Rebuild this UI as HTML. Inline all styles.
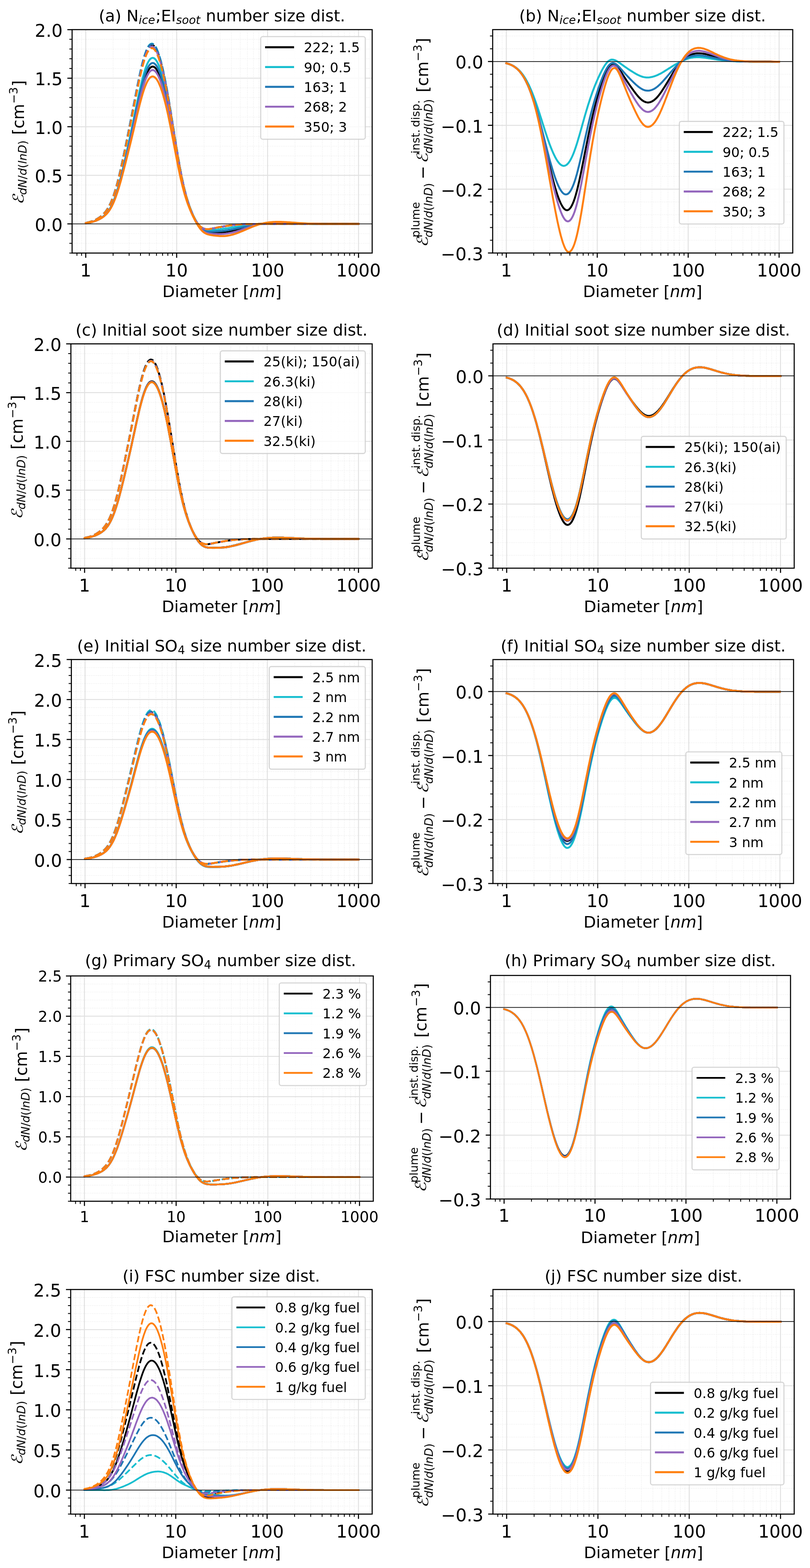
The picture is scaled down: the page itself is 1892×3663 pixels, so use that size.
<!DOCTYPE html>
<html lang="en">
<head>
<meta charset="utf-8">
<title>Number size distributions</title>
<style>
html,body{margin:0;padding:0;background:#fff;overflow:hidden;}
svg{display:block;}
text{font-family:"DejaVu Sans", "Liberation Sans", sans-serif;white-space:pre;}
</style>
</head>
<body>

<svg width="1892" height="3663" viewBox="0 0 1892 3663">
<rect width="1892" height="3663" fill="#fff"/>
<g id="panel-a">
<rect x="168.4" y="69.15" width="700.9" height="522" fill="#fff"/>
<path d="M179.68 69.15V591.15M190.54 69.15V591.15M264.2 69.15V591.15M301.6 69.15V591.15M328.13 69.15V591.15M348.72 69.15V591.15M365.53 69.15V591.15M379.75 69.15V591.15M392.07 69.15V591.15M402.93 69.15V591.15M476.59 69.15V591.15M513.99 69.15V591.15M540.53 69.15V591.15M561.11 69.15V591.15M577.93 69.15V591.15M592.15 69.15V591.15M604.46 69.15V591.15M615.33 69.15V591.15M688.98 69.15V591.15M726.38 69.15V591.15M752.92 69.15V591.15M773.5 69.15V591.15M790.32 69.15V591.15M804.54 69.15V591.15M816.86 69.15V591.15M827.72 69.15V591.15M168.4 591.15H869.3M168.4 568.45H869.3M168.4 545.76H869.3M168.4 500.37H869.3M168.4 477.67H869.3M168.4 454.98H869.3M168.4 432.28H869.3M168.4 386.89H869.3M168.4 364.19H869.3M168.4 341.5H869.3M168.4 318.8H869.3M168.4 273.41H869.3M168.4 250.72H869.3M168.4 228.02H869.3M168.4 205.32H869.3M168.4 159.93H869.3M168.4 137.24H869.3M168.4 114.54H869.3M168.4 91.85H869.3" fill="none" stroke="#ebebeb" stroke-width="1.57" stroke-dasharray="1.57 2.6"/>
<path d="M200.26 69.15V591.15M412.65 69.15V591.15M625.05 69.15V591.15M837.44 69.15V591.15M168.4 523.06H869.3M168.4 409.58H869.3M168.4 296.11H869.3M168.4 182.63H869.3" fill="none" stroke="#e1e1e1" stroke-width="2.2"/>
<clipPath id="clip-a"><rect x="168.4" y="69.15" width="700.9" height="522"/></clipPath>
<g clip-path="url(#clip-a)" fill="none" stroke-linejoin="round">
<polyline points="200.3,521.2 202.9,520.8 205.6,520.4 208.2,519.9 210.9,519.4 213.5,518.8 216.2,518.1 218.8,517.3 221.5,516.4 224.2,515.4 226.8,514.3 229.5,513.1 232.1,511.8 234.8,510.3 237.4,508.7 240.1,507 242.7,505 245.4,502.7 248,500.1 250.7,497.2 253.4,493.8 256,489.9 258.7,485.5 261.3,480.5 264,474.8 266.6,468.5 269.3,461.5 271.9,453.9 274.6,445.7 277.3,436.8 279.9,427.5 282.6,417.6 285.2,407.3 287.9,396.7 290.5,385.9 293.2,374.8 295.8,363.7 298.5,352.3 301.1,340.8 303.8,329.2 306.5,317.4 309.1,305.4 311.8,293.3 314.4,281 317.1,268.7 319.7,256.5 322.4,244.4 325,232.7 327.7,221.3 330.4,210.6 333,200.6 335.7,191.4 338.3,183.1 341,175.8 343.6,169.5 346.3,164.4 348.9,160.4 351.6,157.6 354.2,156 356.9,155.5 359.6,156.2 362.2,158 364.9,161 367.5,165.1 370.2,170.2 372.8,176.4 375.5,183.6 378.1,191.8 380.8,201 383.4,211.1 386.1,222 388.8,233.8 391.4,246.3 394.1,259.5 396.7,273.2 399.4,287.5 402,302.1 404.7,316.9 407.3,331.9 410,346.8 412.7,361.4 415.3,375.8 418,389.6 420.6,402.9 423.3,415.4 425.9,427.1 428.6,438.1 431.2,448.2 433.9,457.6 436.5,466.3 439.2,474.3 441.9,481.8 444.5,488.7 447.2,495.3 449.8,501.4 452.5,507.2 455.1,512.6 457.8,517.6 460.4,522.2 463.1,526.4 465.8,530.1 468.4,533.3 471.1,536 473.7,538.2 476.4,539.9 479,541.3 481.7,542.3 484.3,543 487,543.5 489.6,543.8 492.3,543.9 495,544 497.6,544 500.3,544 502.9,544 505.6,543.9 508.2,543.9 510.9,543.8 513.5,543.7 516.2,543.6 518.9,543.4 521.5,543.2 524.2,543 526.8,542.7 529.5,542.3 532.1,541.9 534.8,541.5 537.4,541 540.1,540.5 542.7,540 545.4,539.4 548.1,538.8 550.7,538.1 553.4,537.4 556,536.7 558.7,536 561.3,535.3 564,534.5 566.6,533.8 569.3,533 571.9,532.3 574.6,531.5 577.3,530.7 579.9,530 582.6,529.2 585.2,528.5 587.9,527.8 590.5,527.1 593.2,526.5 595.8,525.8 598.5,525.2 601.2,524.7 603.8,524.1 606.5,523.6 609.1,523.1 611.8,522.7 614.4,522.3 617.1,522 619.7,521.7 622.4,521.4 625,521.1 627.7,520.9 630.4,520.7 633,520.6 635.7,520.4 638.3,520.3 641,520.2 643.6,520.2 646.3,520.2 648.9,520.1 651.6,520.1 654.3,520.2 656.9,520.2 659.6,520.3 662.2,520.3 664.9,520.4 667.5,520.5 670.2,520.6 672.8,520.7 675.5,520.8 678.1,520.9 680.8,521.1 683.5,521.2 686.1,521.3 688.8,521.4 691.4,521.5 694.1,521.7 696.7,521.8 699.4,521.9 702,522 704.7,522.1 707.3,522.2 710,522.3 712.7,522.3 715.3,522.4 718,522.5 720.6,522.6 723.3,522.6 725.9,522.7 728.6,522.7 731.2,522.8 733.9,522.8 736.6,522.8 739.2,522.9 741.9,522.9 744.5,522.9 747.2,523 749.8,523 752.5,523 755.1,523 757.8,523 760.4,523.1 763.1,523.1 765.8,523.1 768.4,523.1 771.1,523.1 773.7,523.1 776.4,523.1 779,523.1 781.7,523.1 784.3,523.1 787,523.1 789.7,523.1 792.3,523.1 795,523.1 797.6,523.1 800.3,523.1 802.9,523.1 805.6,523.1 808.2,523.1 810.9,523.1 813.5,523.1 816.2,523.1 818.9,523.1 821.5,523.1 824.2,523.1 826.8,523.1 829.5,523.1 832.1,523.1 834.8,523.1 837.4,523.1" stroke="#000000" stroke-width="4.5" stroke-linecap="square"/>
<polyline points="200.3,520.6 202.9,520.1 205.6,519.6 208.2,518.9 210.9,518.2 213.5,517.4 216.2,516.5 218.8,515.4 221.5,514.3 224.2,512.9 226.8,511.5 229.5,509.9 232.1,508.1 234.8,506.2 237.4,504 240.1,501.6 242.7,498.9 245.4,495.9 248,492.5 250.7,488.7 253.4,484.3 256,479.4 258.7,473.9 261.3,467.7 264,460.7 266.6,453.1 269.3,444.7 271.9,435.6 274.6,425.8 277.3,415.4 279.9,404.4 282.6,392.8 285.2,380.8 287.9,368.4 290.5,355.8 293.2,343 295.8,330.1 298.5,317 301.1,303.8 303.8,290.5 306.5,277 309.1,263.5 311.8,249.8 314.4,236.1 317.1,222.5 319.7,209 322.4,195.8 325,183 327.7,170.8 330.4,159.3 333,148.7 335.7,139 338.3,130.4 341,122.9 343.6,116.7 346.3,111.8 348.9,108.2 351.6,105.9 354.2,105 356.9,105.5 359.6,107.3 362.2,110.4 364.9,114.9 367.5,120.6 370.2,127.4 372.8,135.5 375.5,144.7 378.1,154.9 380.8,166.1 383.4,178.3 386.1,191.3 388.8,205.1 391.4,219.6 394.1,234.7 396.7,250.4 399.4,266.4 402,282.8 404.7,299.3 407.3,315.9 410,332.3 412.7,348.4 415.3,364.2 418,379.3 420.6,393.8 423.3,407.6 425.9,420.5 428.6,432.5 431.2,443.7 433.9,454 436.5,463.5 439.2,472.2 441.9,480.2 444.5,487.5 447.2,494.3 449.8,500.5 452.5,506.2 455.1,511.4 457.8,516.1 460.4,520.3 463.1,523.9 465.8,527 468.4,529.6 471.1,531.6 473.7,533.2 476.4,534.3 479,535 481.7,535.4 484.3,535.5 487,535.4 489.6,535.1 492.3,534.7 495,534.2 497.6,533.7 500.3,533.1 502.9,532.6 505.6,532 508.2,531.5 510.9,531 513.5,530.5 516.2,530 518.9,529.5 521.5,529.1 524.2,528.6 526.8,528.2 529.5,527.8 532.1,527.4 534.8,527 537.4,526.6 540.1,526.3 542.7,526 545.4,525.7 548.1,525.4 550.7,525.1 553.4,524.9 556,524.7 558.7,524.5 561.3,524.3 564,524.1 566.6,524 569.3,523.9 571.9,523.7 574.6,523.6 577.3,523.6 579.9,523.5 582.6,523.4 585.2,523.4 587.9,523.3 590.5,523.3 593.2,523.2 595.8,523.2 598.5,523.2 601.2,523.2 603.8,523.1 606.5,523.1 609.1,523.1 611.8,523.1 614.4,523.1 617.1,523.1 619.7,523.1 622.4,523.1 625,523.1 627.7,523.1 630.4,523.1 633,523.1 635.7,523.1 638.3,523.1 641,523.1 643.6,523.1 646.3,523.1 648.9,523.1 651.6,523.1 654.3,523.1 656.9,523.1 659.6,523.1 662.2,523.1 664.9,523.1 667.5,523.1 670.2,523.1 672.8,523.1 675.5,523.1 678.1,523.1 680.8,523.1 683.5,523.1 686.1,523.1 688.8,523.1 691.4,523.1 694.1,523.1 696.7,523.1 699.4,523.1 702,523.1 704.7,523.1 707.3,523.1 710,523.1 712.7,523.1 715.3,523.1 718,523.1 720.6,523.1 723.3,523.1 725.9,523.1 728.6,523.1 731.2,523.1 733.9,523.1 736.6,523.1 739.2,523.1 741.9,523.1 744.5,523.1 747.2,523.1 749.8,523.1 752.5,523.1 755.1,523.1 757.8,523.1 760.4,523.1 763.1,523.1 765.8,523.1 768.4,523.1 771.1,523.1 773.7,523.1 776.4,523.1 779,523.1 781.7,523.1 784.3,523.1 787,523.1 789.7,523.1 792.3,523.1 795,523.1 797.6,523.1 800.3,523.1 802.9,523.1 805.6,523.1 808.2,523.1 810.9,523.1 813.5,523.1 816.2,523.1 818.9,523.1 821.5,523.1 824.2,523.1 826.8,523.1 829.5,523.1 832.1,523.1 834.8,523.1 837.4,523.1" stroke="#000000" stroke-width="4.5" stroke-dasharray="16.65 7.2"/>
<polyline points="200.3,521.2 202.9,520.8 205.6,520.4 208.2,519.9 210.9,519.3 213.5,518.7 216.2,518 218.8,517.1 221.5,516.2 224.2,515.2 226.8,514.1 229.5,512.8 232.1,511.5 234.8,509.9 237.4,508.3 240.1,506.4 242.7,504.3 245.4,501.9 248,499.2 250.7,496.1 253.4,492.6 256,488.5 258.7,483.8 261.3,478.6 264,472.6 266.6,466 269.3,458.7 271.9,450.7 274.6,442.1 277.3,432.8 279.9,422.9 282.6,412.6 285.2,401.7 287.9,390.6 290.5,379.1 293.2,367.4 295.8,355.6 298.5,343.6 301.1,331.4 303.8,319 306.5,306.5 309.1,293.8 311.8,280.9 314.4,268 317.1,254.9 319.7,242 322.4,229.3 325,216.8 327.7,204.9 330.4,193.5 333,182.9 335.7,173.1 338.3,164.3 341,156.6 343.6,150 346.3,144.6 348.9,140.3 351.6,137.3 354.2,135.6 356.9,135.1 359.6,135.9 362.2,137.9 364.9,141.1 367.5,145.5 370.2,151.1 372.8,157.8 375.5,165.6 378.1,174.5 380.8,184.3 383.4,195.2 386.1,206.9 388.8,219.4 391.4,232.7 394.1,246.7 396.7,261.2 399.4,276.3 402,291.6 404.7,307.2 407.3,322.8 410,338.4 412.7,353.7 415.3,368.7 418,383.1 420.6,396.9 423.3,409.9 425.9,422.2 428.6,433.6 431.2,444.3 433.9,454.1 436.5,463.2 439.2,471.6 441.9,479.4 444.5,486.7 447.2,493.4 449.8,499.7 452.5,505.6 455.1,510.9 457.8,515.9 460.4,520.3 463.1,524.2 465.8,527.6 468.4,530.5 471.1,532.9 473.7,534.7 476.4,536.2 479,537.2 481.7,537.8 484.3,538.2 487,538.4 489.6,538.3 492.3,538.2 495,537.9 497.6,537.7 500.3,537.3 502.9,537 505.6,536.7 508.2,536.4 510.9,536 513.5,535.7 516.2,535.3 518.9,535 521.5,534.6 524.2,534.3 526.8,533.9 529.5,533.5 532.1,533.1 534.8,532.7 537.4,532.2 540.1,531.8 542.7,531.4 545.4,531 548.1,530.5 550.7,530.1 553.4,529.7 556,529.3 558.7,528.9 561.3,528.5 564,528.1 566.6,527.7 569.3,527.4 571.9,527 574.6,526.6 577.3,526.3 579.9,526 582.6,525.6 585.2,525.3 587.9,525 590.5,524.7 593.2,524.5 595.8,524.2 598.5,524 601.2,523.7 603.8,523.5 606.5,523.3 609.1,523.1 611.8,522.9 614.4,522.7 617.1,522.5 619.7,522.3 622.4,522.1 625,522 627.7,521.9 630.4,521.8 633,521.7 635.7,521.7 638.3,521.6 641,521.6 643.6,521.6 646.3,521.5 648.9,521.5 651.6,521.6 654.3,521.6 656.9,521.6 659.6,521.7 662.2,521.7 664.9,521.7 667.5,521.8 670.2,521.9 672.8,521.9 675.5,522 678.1,522 680.8,522.1 683.5,522.2 686.1,522.2 688.8,522.3 691.4,522.3 694.1,522.4 696.7,522.5 699.4,522.5 702,522.6 704.7,522.6 707.3,522.7 710,522.7 712.7,522.7 715.3,522.8 718,522.8 720.6,522.8 723.3,522.9 725.9,522.9 728.6,522.9 731.2,523 733.9,523 736.6,523 739.2,523 741.9,523 744.5,523 747.2,523.1 749.8,523.1 752.5,523.1 755.1,523.1 757.8,523.1 760.4,523.1 763.1,523.1 765.8,523.1 768.4,523.1 771.1,523.1 773.7,523.1 776.4,523.1 779,523.1 781.7,523.1 784.3,523.1 787,523.1 789.7,523.1 792.3,523.1 795,523.1 797.6,523.1 800.3,523.1 802.9,523.1 805.6,523.1 808.2,523.1 810.9,523.1 813.5,523.1 816.2,523.1 818.9,523.1 821.5,523.1 824.2,523.1 826.8,523.1 829.5,523.1 832.1,523.1 834.8,523.1 837.4,523.1" stroke="#17becf" stroke-width="4.5" stroke-linecap="square"/>
<polyline points="200.3,520.6 202.9,520.1 205.6,519.5 208.2,518.9 210.9,518.2 213.5,517.4 216.2,516.4 218.8,515.4 221.5,514.2 224.2,512.9 226.8,511.4 229.5,509.8 232.1,508 234.8,506 237.4,503.9 240.1,501.4 242.7,498.7 245.4,495.7 248,492.3 250.7,488.4 253.4,484 256,479.1 258.7,473.5 261.3,467.2 264,460.3 266.6,452.6 269.3,444.1 271.9,435 274.6,425.1 277.3,414.6 279.9,403.5 282.6,391.8 285.2,379.7 287.9,367.3 290.5,354.6 293.2,341.7 295.8,328.6 298.5,315.4 301.1,302.1 303.8,288.7 306.5,275.1 309.1,261.5 311.8,247.7 314.4,234 317.1,220.2 319.7,206.6 322.4,193.3 325,180.5 327.7,168.1 330.4,156.6 333,145.8 335.7,136 338.3,127.4 341,119.9 343.6,113.6 346.3,108.6 348.9,105 351.6,102.8 354.2,101.9 356.9,102.3 359.6,104.2 362.2,107.3 364.9,111.8 367.5,117.5 370.2,124.4 372.8,132.6 375.5,141.8 378.1,152.1 380.8,163.4 383.4,175.7 386.1,188.8 388.8,202.7 391.4,217.3 394.1,232.6 396.7,248.3 399.4,264.5 402,281 404.7,297.6 407.3,314.3 410,330.8 412.7,347.1 415.3,362.9 418,378.2 420.6,392.9 423.3,406.7 425.9,419.7 428.6,431.9 431.2,443.1 433.9,453.5 436.5,463 439.2,471.8 441.9,479.9 444.5,487.3 447.2,494.1 449.8,500.4 452.5,506.1 455.1,511.3 457.8,516 460.4,520.2 463.1,523.9 465.8,527 468.4,529.6 471.1,531.7 473.7,533.3 476.4,534.4 479,535.1 481.7,535.5 484.3,535.6 487,535.5 489.6,535.2 492.3,534.8 495,534.3 497.6,533.8 500.3,533.2 502.9,532.6 505.6,532.1 508.2,531.5 510.9,531 513.5,530.5 516.2,530 518.9,529.6 521.5,529.1 524.2,528.7 526.8,528.2 529.5,527.8 532.1,527.4 534.8,527 537.4,526.7 540.1,526.3 542.7,526 545.4,525.7 548.1,525.4 550.7,525.1 553.4,524.9 556,524.7 558.7,524.5 561.3,524.3 564,524.1 566.6,524 569.3,523.9 571.9,523.7 574.6,523.6 577.3,523.6 579.9,523.5 582.6,523.4 585.2,523.4 587.9,523.3 590.5,523.3 593.2,523.2 595.8,523.2 598.5,523.2 601.2,523.2 603.8,523.1 606.5,523.1 609.1,523.1 611.8,523.1 614.4,523.1 617.1,523.1 619.7,523.1 622.4,523.1 625,523.1 627.7,523.1 630.4,523.1 633,523.1 635.7,523.1 638.3,523.1 641,523.1 643.6,523.1 646.3,523.1 648.9,523.1 651.6,523.1 654.3,523.1 656.9,523.1 659.6,523.1 662.2,523.1 664.9,523.1 667.5,523.1 670.2,523.1 672.8,523.1 675.5,523.1 678.1,523.1 680.8,523.1 683.5,523.1 686.1,523.1 688.8,523.1 691.4,523.1 694.1,523.1 696.7,523.1 699.4,523.1 702,523.1 704.7,523.1 707.3,523.1 710,523.1 712.7,523.1 715.3,523.1 718,523.1 720.6,523.1 723.3,523.1 725.9,523.1 728.6,523.1 731.2,523.1 733.9,523.1 736.6,523.1 739.2,523.1 741.9,523.1 744.5,523.1 747.2,523.1 749.8,523.1 752.5,523.1 755.1,523.1 757.8,523.1 760.4,523.1 763.1,523.1 765.8,523.1 768.4,523.1 771.1,523.1 773.7,523.1 776.4,523.1 779,523.1 781.7,523.1 784.3,523.1 787,523.1 789.7,523.1 792.3,523.1 795,523.1 797.6,523.1 800.3,523.1 802.9,523.1 805.6,523.1 808.2,523.1 810.9,523.1 813.5,523.1 816.2,523.1 818.9,523.1 821.5,523.1 824.2,523.1 826.8,523.1 829.5,523.1 832.1,523.1 834.8,523.1 837.4,523.1" stroke="#17becf" stroke-width="4.5" stroke-dasharray="16.65 7.2"/>
<polyline points="200.3,521.2 202.9,520.8 205.6,520.4 208.2,519.9 210.9,519.4 213.5,518.7 216.2,518 218.8,517.2 221.5,516.3 224.2,515.3 226.8,514.2 229.5,513 232.1,511.7 234.8,510.2 237.4,508.6 240.1,506.8 242.7,504.7 245.4,502.4 248,499.8 250.7,496.8 253.4,493.4 256,489.5 258.7,485 261.3,479.8 264,474.1 266.6,467.7 269.3,460.6 271.9,452.8 274.6,444.4 277.3,435.4 279.9,425.9 282.6,415.8 285.2,405.3 287.9,394.5 290.5,383.4 293.2,372.1 295.8,360.7 298.5,349.1 301.1,337.3 303.8,325.4 306.5,313.2 309.1,301 311.8,288.5 314.4,275.9 317.1,263.3 319.7,250.8 322.4,238.4 325,226.4 327.7,214.8 330.4,203.8 333,193.5 335.7,184 338.3,175.5 341,168 343.6,161.6 346.3,156.3 348.9,152.2 351.6,149.3 354.2,147.6 356.9,147.1 359.6,147.8 362.2,149.7 364.9,152.7 367.5,156.9 370.2,162.2 372.8,168.6 375.5,176.1 378.1,184.6 380.8,194 383.4,204.4 386.1,215.7 388.8,227.7 391.4,240.6 394.1,254.1 396.7,268.2 399.4,282.8 402,297.7 404.7,312.9 407.3,328.1 410,343.3 412.7,358.3 415.3,372.9 418,387 420.6,400.5 423.3,413.2 425.9,425.2 428.6,436.4 431.2,446.8 433.9,456.3 436.5,465.2 439.2,473.4 441.9,481 444.5,488.1 447.2,494.7 449.8,501 452.5,506.8 455.1,512.2 457.8,517.2 460.4,521.7 463.1,525.7 465.8,529.3 468.4,532.3 471.1,534.8 473.7,536.9 476.4,538.5 479,539.6 481.7,540.4 484.3,541 487,541.3 489.6,541.4 492.3,541.4 495,541.3 497.6,541.2 500.3,541 502.9,540.8 505.6,540.6 508.2,540.4 510.9,540.2 513.5,540 516.2,539.7 518.9,539.5 521.5,539.2 524.2,538.9 526.8,538.5 529.5,538.2 532.1,537.8 534.8,537.3 537.4,536.9 540.1,536.4 542.7,535.9 545.4,535.4 548.1,534.9 550.7,534.3 553.4,533.8 556,533.2 558.7,532.7 561.3,532.1 564,531.5 566.6,530.9 569.3,530.3 571.9,529.8 574.6,529.2 577.3,528.6 579.9,528.1 582.6,527.5 585.2,527 587.9,526.5 590.5,526 593.2,525.5 595.8,525.1 598.5,524.6 601.2,524.2 603.8,523.8 606.5,523.5 609.1,523.1 611.8,522.8 614.4,522.5 617.1,522.3 619.7,522 622.4,521.8 625,521.6 627.7,521.5 630.4,521.3 633,521.2 635.7,521.1 638.3,521 641,521 643.6,520.9 646.3,520.9 648.9,520.9 651.6,520.9 654.3,520.9 656.9,521 659.6,521 662.2,521.1 664.9,521.1 667.5,521.2 670.2,521.3 672.8,521.4 675.5,521.5 678.1,521.5 680.8,521.6 683.5,521.7 686.1,521.8 688.8,521.9 691.4,522 694.1,522.1 696.7,522.1 699.4,522.2 702,522.3 704.7,522.4 707.3,522.4 710,522.5 712.7,522.6 715.3,522.6 718,522.7 720.6,522.7 723.3,522.8 725.9,522.8 728.6,522.8 731.2,522.9 733.9,522.9 736.6,522.9 739.2,523 741.9,523 744.5,523 747.2,523 749.8,523 752.5,523 755.1,523.1 757.8,523.1 760.4,523.1 763.1,523.1 765.8,523.1 768.4,523.1 771.1,523.1 773.7,523.1 776.4,523.1 779,523.1 781.7,523.1 784.3,523.1 787,523.1 789.7,523.1 792.3,523.1 795,523.1 797.6,523.1 800.3,523.1 802.9,523.1 805.6,523.1 808.2,523.1 810.9,523.1 813.5,523.1 816.2,523.1 818.9,523.1 821.5,523.1 824.2,523.1 826.8,523.1 829.5,523.1 832.1,523.1 834.8,523.1 837.4,523.1" stroke="#1f77b4" stroke-width="4.5" stroke-linecap="square"/>
<polyline points="200.3,520.6 202.9,520.1 205.6,519.6 208.2,518.9 210.9,518.2 213.5,517.4 216.2,516.4 218.8,515.4 221.5,514.2 224.2,512.9 226.8,511.4 229.5,509.8 232.1,508 234.8,506.1 237.4,503.9 240.1,501.5 242.7,498.8 245.4,495.8 248,492.3 250.7,488.5 253.4,484.1 256,479.2 258.7,473.6 261.3,467.4 264,460.4 266.6,452.7 269.3,444.3 271.9,435.1 274.6,425.3 277.3,414.8 279.9,403.7 282.6,392.1 285.2,380 287.9,367.6 290.5,354.9 293.2,342 295.8,329 298.5,315.9 301.1,302.6 303.8,289.2 306.5,275.7 309.1,262 311.8,248.3 314.4,234.6 317.1,220.9 319.7,207.3 322.4,194 325,181.2 327.7,168.9 330.4,157.3 333,146.6 335.7,136.9 338.3,128.2 341,120.7 343.6,114.5 346.3,109.5 348.9,105.9 351.6,103.7 354.2,102.8 356.9,103.2 359.6,105.1 362.2,108.2 364.9,112.7 367.5,118.4 370.2,125.3 372.8,133.4 375.5,142.6 378.1,152.9 380.8,164.2 383.4,176.4 386.1,189.5 388.8,203.4 391.4,218 394.1,233.2 396.7,248.9 399.4,265.1 402,281.5 404.7,298.1 407.3,314.7 410,331.2 412.7,347.5 415.3,363.3 418,378.6 420.6,393.1 423.3,407 425.9,419.9 428.6,432.1 431.2,443.3 433.9,453.6 436.5,463.2 439.2,471.9 441.9,480 444.5,487.4 447.2,494.2 449.8,500.4 452.5,506.1 455.1,511.4 457.8,516.1 460.4,520.2 463.1,523.9 465.8,527 468.4,529.6 471.1,531.7 473.7,533.2 476.4,534.4 479,535.1 481.7,535.5 484.3,535.6 487,535.5 489.6,535.2 492.3,534.8 495,534.3 497.6,533.7 500.3,533.2 502.9,532.6 505.6,532.1 508.2,531.5 510.9,531 513.5,530.5 516.2,530 518.9,529.5 521.5,529.1 524.2,528.6 526.8,528.2 529.5,527.8 532.1,527.4 534.8,527 537.4,526.7 540.1,526.3 542.7,526 545.4,525.7 548.1,525.4 550.7,525.1 553.4,524.9 556,524.7 558.7,524.5 561.3,524.3 564,524.1 566.6,524 569.3,523.9 571.9,523.7 574.6,523.6 577.3,523.6 579.9,523.5 582.6,523.4 585.2,523.4 587.9,523.3 590.5,523.3 593.2,523.2 595.8,523.2 598.5,523.2 601.2,523.2 603.8,523.1 606.5,523.1 609.1,523.1 611.8,523.1 614.4,523.1 617.1,523.1 619.7,523.1 622.4,523.1 625,523.1 627.7,523.1 630.4,523.1 633,523.1 635.7,523.1 638.3,523.1 641,523.1 643.6,523.1 646.3,523.1 648.9,523.1 651.6,523.1 654.3,523.1 656.9,523.1 659.6,523.1 662.2,523.1 664.9,523.1 667.5,523.1 670.2,523.1 672.8,523.1 675.5,523.1 678.1,523.1 680.8,523.1 683.5,523.1 686.1,523.1 688.8,523.1 691.4,523.1 694.1,523.1 696.7,523.1 699.4,523.1 702,523.1 704.7,523.1 707.3,523.1 710,523.1 712.7,523.1 715.3,523.1 718,523.1 720.6,523.1 723.3,523.1 725.9,523.1 728.6,523.1 731.2,523.1 733.9,523.1 736.6,523.1 739.2,523.1 741.9,523.1 744.5,523.1 747.2,523.1 749.8,523.1 752.5,523.1 755.1,523.1 757.8,523.1 760.4,523.1 763.1,523.1 765.8,523.1 768.4,523.1 771.1,523.1 773.7,523.1 776.4,523.1 779,523.1 781.7,523.1 784.3,523.1 787,523.1 789.7,523.1 792.3,523.1 795,523.1 797.6,523.1 800.3,523.1 802.9,523.1 805.6,523.1 808.2,523.1 810.9,523.1 813.5,523.1 816.2,523.1 818.9,523.1 821.5,523.1 824.2,523.1 826.8,523.1 829.5,523.1 832.1,523.1 834.8,523.1 837.4,523.1" stroke="#1f77b4" stroke-width="4.5" stroke-dasharray="16.65 7.2"/>
<polyline points="200.3,521.2 202.9,520.9 205.6,520.5 208.2,520 210.9,519.4 213.5,518.8 216.2,518.1 218.8,517.3 221.5,516.4 224.2,515.5 226.8,514.4 229.5,513.2 232.1,511.9 234.8,510.5 237.4,508.9 240.1,507.1 242.7,505.2 245.4,502.9 248,500.4 250.7,497.5 253.4,494.1 256,490.3 258.7,485.9 261.3,481 264,475.4 266.6,469.2 269.3,462.3 271.9,454.8 274.6,446.7 277.3,438 279.9,428.8 282.6,419.1 285.2,409 287.9,398.6 290.5,388 293.2,377.2 295.8,366.2 298.5,355.1 301.1,343.9 303.8,332.5 306.5,321 309.1,309.3 311.8,297.4 314.4,285.5 317.1,273.5 319.7,261.6 322.4,249.8 325,238.4 327.7,227.4 330.4,216.9 333,207.2 335.7,198.2 338.3,190.2 341,183.1 343.6,177.1 346.3,172.1 348.9,168.3 351.6,165.6 354.2,164.1 356.9,163.7 359.6,164.4 362.2,166.2 364.9,169.2 367.5,173.2 370.2,178.2 372.8,184.3 375.5,191.3 378.1,199.4 380.8,208.3 383.4,218.1 386.1,228.8 388.8,240.2 391.4,252.4 394.1,265.3 396.7,278.7 399.4,292.6 402,306.9 404.7,321.5 407.3,336.1 410,350.7 412.7,365.1 415.3,379.2 418,392.7 420.6,405.7 423.3,418 425.9,429.5 428.6,440.2 431.2,450.2 433.9,459.3 436.5,467.8 439.2,475.7 441.9,483 444.5,489.8 447.2,496.2 449.8,502.2 452.5,507.9 455.1,513.2 457.8,518.2 460.4,522.9 463.1,527.1 465.8,530.9 468.4,534.2 471.1,537 473.7,539.3 476.4,541.2 479,542.7 481.7,543.8 484.3,544.7 487,545.3 489.6,545.7 492.3,546 495,546.2 497.6,546.4 500.3,546.5 502.9,546.6 505.6,546.6 508.2,546.7 510.9,546.7 513.5,546.7 516.2,546.7 518.9,546.6 521.5,546.4 524.2,546.2 526.8,546 529.5,545.6 532.1,545.3 534.8,544.8 537.4,544.3 540.1,543.8 542.7,543.2 545.4,542.5 548.1,541.8 550.7,541.1 553.4,540.3 556,539.5 558.7,538.7 561.3,537.8 564,536.9 566.6,536 569.3,535.1 571.9,534.2 574.6,533.3 577.3,532.4 579.9,531.5 582.6,530.6 585.2,529.7 587.9,528.9 590.5,528 593.2,527.2 595.8,526.5 598.5,525.7 601.2,525 603.8,524.4 606.5,523.7 609.1,523.2 611.8,522.6 614.4,522.1 617.1,521.7 619.7,521.3 622.4,520.9 625,520.6 627.7,520.3 630.4,520 633,519.8 635.7,519.7 638.3,519.5 641,519.4 643.6,519.3 646.3,519.3 648.9,519.3 651.6,519.3 654.3,519.3 656.9,519.4 659.6,519.4 662.2,519.5 664.9,519.6 667.5,519.8 670.2,519.9 672.8,520 675.5,520.2 678.1,520.3 680.8,520.5 683.5,520.6 686.1,520.8 688.8,520.9 691.4,521.1 694.1,521.2 696.7,521.4 699.4,521.5 702,521.6 704.7,521.8 707.3,521.9 710,522 712.7,522.1 715.3,522.2 718,522.3 720.6,522.4 723.3,522.5 725.9,522.5 728.6,522.6 731.2,522.7 733.9,522.7 736.6,522.8 739.2,522.8 741.9,522.9 744.5,522.9 747.2,522.9 749.8,523 752.5,523 755.1,523 757.8,523 760.4,523 763.1,523 765.8,523.1 768.4,523.1 771.1,523.1 773.7,523.1 776.4,523.1 779,523.1 781.7,523.1 784.3,523.1 787,523.1 789.7,523.1 792.3,523.1 795,523.1 797.6,523.1 800.3,523.1 802.9,523.1 805.6,523.1 808.2,523.1 810.9,523.1 813.5,523.1 816.2,523.1 818.9,523.1 821.5,523.1 824.2,523.1 826.8,523.1 829.5,523.1 832.1,523.1 834.8,523.1 837.4,523.1" stroke="#9467bd" stroke-width="4.5" stroke-linecap="square"/>
<polyline points="200.3,520.6 202.9,520.1 205.6,519.6 208.2,519 210.9,518.3 213.5,517.5 216.2,516.5 218.8,515.5 221.5,514.3 224.2,513 226.8,511.6 229.5,510 232.1,508.3 234.8,506.3 237.4,504.2 240.1,501.8 242.7,499.1 245.4,496.1 248,492.8 250.7,489 253.4,484.7 256,479.8 258.7,474.3 261.3,468.1 264,461.3 266.6,453.7 269.3,445.4 271.9,436.4 274.6,426.7 277.3,416.3 279.9,405.4 282.6,393.9 285.2,382 287.9,369.8 290.5,357.3 293.2,344.6 295.8,331.7 298.5,318.8 301.1,305.7 303.8,292.5 306.5,279.1 309.1,265.7 311.8,252.2 314.4,238.6 317.1,225.1 319.7,211.7 322.4,198.7 325,186 327.7,173.9 330.4,162.5 333,151.9 335.7,142.3 338.3,133.8 341,126.4 343.6,120.2 346.3,115.3 348.9,111.8 351.6,109.5 354.2,108.7 356.9,109.1 359.6,110.9 362.2,114 364.9,118.4 367.5,124 370.2,130.9 372.8,138.9 375.5,148 378.1,158.1 380.8,169.2 383.4,181.3 386.1,194.2 388.8,207.9 391.4,222.3 394.1,237.2 396.7,252.8 399.4,268.7 402,284.9 404.7,301.3 407.3,317.7 410,333.9 412.7,349.9 415.3,365.5 418,380.6 420.6,395 423.3,408.6 425.9,421.4 428.6,433.3 431.2,444.4 433.9,454.6 436.5,464 439.2,472.6 441.9,480.6 444.5,487.9 447.2,494.6 449.8,500.7 452.5,506.4 455.1,511.5 457.8,516.2 460.4,520.3 463.1,523.9 465.8,526.9 468.4,529.5 471.1,531.5 473.7,533.1 476.4,534.2 479,534.9 481.7,535.3 484.3,535.4 487,535.3 489.6,535 492.3,534.6 495,534.1 497.6,533.6 500.3,533 502.9,532.5 505.6,531.9 508.2,531.4 510.9,530.9 513.5,530.4 516.2,529.9 518.9,529.5 521.5,529 524.2,528.6 526.8,528.1 529.5,527.7 532.1,527.3 534.8,527 537.4,526.6 540.1,526.3 542.7,525.9 545.4,525.6 548.1,525.4 550.7,525.1 553.4,524.9 556,524.6 558.7,524.5 561.3,524.3 564,524.1 566.6,524 569.3,523.8 571.9,523.7 574.6,523.6 577.3,523.5 579.9,523.5 582.6,523.4 585.2,523.4 587.9,523.3 590.5,523.3 593.2,523.2 595.8,523.2 598.5,523.2 601.2,523.2 603.8,523.1 606.5,523.1 609.1,523.1 611.8,523.1 614.4,523.1 617.1,523.1 619.7,523.1 622.4,523.1 625,523.1 627.7,523.1 630.4,523.1 633,523.1 635.7,523.1 638.3,523.1 641,523.1 643.6,523.1 646.3,523.1 648.9,523.1 651.6,523.1 654.3,523.1 656.9,523.1 659.6,523.1 662.2,523.1 664.9,523.1 667.5,523.1 670.2,523.1 672.8,523.1 675.5,523.1 678.1,523.1 680.8,523.1 683.5,523.1 686.1,523.1 688.8,523.1 691.4,523.1 694.1,523.1 696.7,523.1 699.4,523.1 702,523.1 704.7,523.1 707.3,523.1 710,523.1 712.7,523.1 715.3,523.1 718,523.1 720.6,523.1 723.3,523.1 725.9,523.1 728.6,523.1 731.2,523.1 733.9,523.1 736.6,523.1 739.2,523.1 741.9,523.1 744.5,523.1 747.2,523.1 749.8,523.1 752.5,523.1 755.1,523.1 757.8,523.1 760.4,523.1 763.1,523.1 765.8,523.1 768.4,523.1 771.1,523.1 773.7,523.1 776.4,523.1 779,523.1 781.7,523.1 784.3,523.1 787,523.1 789.7,523.1 792.3,523.1 795,523.1 797.6,523.1 800.3,523.1 802.9,523.1 805.6,523.1 808.2,523.1 810.9,523.1 813.5,523.1 816.2,523.1 818.9,523.1 821.5,523.1 824.2,523.1 826.8,523.1 829.5,523.1 832.1,523.1 834.8,523.1 837.4,523.1" stroke="#9467bd" stroke-width="4.5" stroke-dasharray="16.65 7.2"/>
<polyline points="200.3,521.2 202.9,520.9 205.6,520.5 208.2,520 210.9,519.5 213.5,518.9 216.2,518.2 218.8,517.4 221.5,516.5 224.2,515.6 226.8,514.5 229.5,513.3 232.1,512 234.8,510.6 237.4,509.1 240.1,507.3 242.7,505.3 245.4,503.1 248,500.6 250.7,497.7 253.4,494.4 256,490.7 258.7,486.4 261.3,481.5 264,476 266.6,469.9 269.3,463.2 271.9,455.9 274.6,448 277.3,439.6 279.9,430.7 282.6,421.3 285.2,411.5 287.9,401.5 290.5,391.3 293.2,381 295.8,370.5 298.5,359.9 301.1,349.3 303.8,338.5 306.5,327.5 309.1,316.5 311.8,305.2 314.4,293.9 317.1,282.6 319.7,271.3 322.4,260.2 325,249.4 327.7,238.9 330.4,229.1 333,219.9 335.7,211.4 338.3,203.8 341,197.1 343.6,191.4 346.3,186.7 348.9,183 351.6,180.4 354.2,179 356.9,178.6 359.6,179.3 362.2,181.1 364.9,183.9 367.5,187.7 370.2,192.5 372.8,198.3 375.5,205 378.1,212.6 380.8,221.1 383.4,230.4 386.1,240.6 388.8,251.5 391.4,263.1 394.1,275.4 396.7,288.3 399.4,301.6 402,315.3 404.7,329.3 407.3,343.4 410,357.5 412.7,371.4 415.3,385 418,398.1 420.6,410.6 423.3,422.5 425.9,433.6 428.6,443.9 431.2,453.5 433.9,462.3 436.5,470.4 439.2,477.9 441.9,484.9 444.5,491.4 447.2,497.6 449.8,503.4 452.5,508.8 455.1,514 457.8,518.9 460.4,523.6 463.1,527.9 465.8,531.8 468.4,535.3 471.1,538.3 473.7,540.9 476.4,543 479,544.7 481.7,546.1 484.3,547.1 487,547.9 489.6,548.6 492.3,549.1 495,549.5 497.6,549.9 500.3,550.2 502.9,550.5 505.6,550.8 508.2,551.1 510.9,551.3 513.5,551.4 516.2,551.5 518.9,551.6 521.5,551.5 524.2,551.4 526.8,551.2 529.5,550.9 532.1,550.6 534.8,550.1 537.4,549.6 540.1,548.9 542.7,548.3 545.4,547.5 548.1,546.7 550.7,545.8 553.4,544.9 556,543.9 558.7,542.9 561.3,541.8 564,540.7 566.6,539.6 569.3,538.5 571.9,537.3 574.6,536.2 577.3,535 579.9,533.9 582.6,532.7 585.2,531.6 587.9,530.5 590.5,529.4 593.2,528.4 595.8,527.4 598.5,526.5 601.2,525.6 603.8,524.7 606.5,523.9 609.1,523.2 611.8,522.5 614.4,521.9 617.1,521.3 619.7,520.8 622.4,520.3 625,519.9 627.7,519.5 630.4,519.2 633,518.9 635.7,518.7 638.3,518.5 641,518.4 643.6,518.3 646.3,518.2 648.9,518.2 651.6,518.2 654.3,518.3 656.9,518.3 659.6,518.4 662.2,518.5 664.9,518.7 667.5,518.8 670.2,519 672.8,519.2 675.5,519.3 678.1,519.5 680.8,519.7 683.5,519.9 686.1,520.1 688.8,520.3 691.4,520.5 694.1,520.7 696.7,520.9 699.4,521.1 702,521.2 704.7,521.4 707.3,521.5 710,521.7 712.7,521.8 715.3,521.9 718,522.1 720.6,522.2 723.3,522.3 725.9,522.4 728.6,522.5 731.2,522.5 733.9,522.6 736.6,522.7 739.2,522.7 741.9,522.8 744.5,522.8 747.2,522.9 749.8,522.9 752.5,522.9 755.1,523 757.8,523 760.4,523 763.1,523 765.8,523 768.4,523.1 771.1,523.1 773.7,523.1 776.4,523.1 779,523.1 781.7,523.1 784.3,523.1 787,523.1 789.7,523.1 792.3,523.1 795,523.1 797.6,523.1 800.3,523.1 802.9,523.1 805.6,523.1 808.2,523.1 810.9,523.1 813.5,523.1 816.2,523.1 818.9,523.1 821.5,523.1 824.2,523.1 826.8,523.1 829.5,523.1 832.1,523.1 834.8,523.1 837.4,523.1" stroke="#ff7f0e" stroke-width="4.5" stroke-linecap="square"/>
<polyline points="200.3,520.6 202.9,520.2 205.6,519.6 208.2,519 210.9,518.3 213.5,517.5 216.2,516.6 218.8,515.6 221.5,514.4 224.2,513.1 226.8,511.7 229.5,510.1 232.1,508.4 234.8,506.5 237.4,504.3 240.1,502 242.7,499.3 245.4,496.4 248,493 250.7,489.3 253.4,485 256,480.2 258.7,474.7 261.3,468.6 264,461.8 266.6,454.3 269.3,446.1 271.9,437.1 274.6,427.5 277.3,417.3 279.9,406.4 282.6,395.1 285.2,383.3 287.9,371.1 290.5,358.7 293.2,346.1 295.8,333.4 298.5,320.6 301.1,307.6 303.8,294.5 306.5,281.3 309.1,268 311.8,254.6 314.4,241.1 317.1,227.7 319.7,214.5 322.4,201.5 325,188.9 327.7,176.9 330.4,165.6 333,155.2 335.7,145.6 338.3,137.2 341,129.9 343.6,123.8 346.3,118.9 348.9,115.4 351.6,113.2 354.2,112.3 356.9,112.8 359.6,114.5 362.2,117.6 364.9,122 367.5,127.5 370.2,134.3 372.8,142.2 375.5,151.3 378.1,161.3 380.8,172.3 383.4,184.3 386.1,197.1 388.8,210.6 391.4,224.9 394.1,239.8 396.7,255.1 399.4,270.9 402,287 404.7,303.2 407.3,319.5 410,335.6 412.7,351.5 415.3,366.9 418,381.8 420.6,396.1 423.3,409.6 425.9,422.3 428.6,434.1 431.2,445.1 433.9,455.2 436.5,464.5 439.2,473.1 441.9,480.9 444.5,488.2 447.2,494.8 449.8,500.9 452.5,506.5 455.1,511.6 457.8,516.2 460.4,520.3 463.1,523.9 465.8,526.9 468.4,529.4 471.1,531.5 473.7,533 476.4,534.1 479,534.8 481.7,535.2 484.3,535.3 487,535.2 489.6,534.9 492.3,534.5 495,534 497.6,533.5 500.3,532.9 502.9,532.4 505.6,531.9 508.2,531.3 510.9,530.8 513.5,530.3 516.2,529.9 518.9,529.4 521.5,528.9 524.2,528.5 526.8,528.1 529.5,527.7 532.1,527.3 534.8,526.9 537.4,526.6 540.1,526.2 542.7,525.9 545.4,525.6 548.1,525.3 550.7,525.1 553.4,524.9 556,524.6 558.7,524.4 561.3,524.3 564,524.1 566.6,524 569.3,523.8 571.9,523.7 574.6,523.6 577.3,523.5 579.9,523.5 582.6,523.4 585.2,523.4 587.9,523.3 590.5,523.3 593.2,523.2 595.8,523.2 598.5,523.2 601.2,523.2 603.8,523.1 606.5,523.1 609.1,523.1 611.8,523.1 614.4,523.1 617.1,523.1 619.7,523.1 622.4,523.1 625,523.1 627.7,523.1 630.4,523.1 633,523.1 635.7,523.1 638.3,523.1 641,523.1 643.6,523.1 646.3,523.1 648.9,523.1 651.6,523.1 654.3,523.1 656.9,523.1 659.6,523.1 662.2,523.1 664.9,523.1 667.5,523.1 670.2,523.1 672.8,523.1 675.5,523.1 678.1,523.1 680.8,523.1 683.5,523.1 686.1,523.1 688.8,523.1 691.4,523.1 694.1,523.1 696.7,523.1 699.4,523.1 702,523.1 704.7,523.1 707.3,523.1 710,523.1 712.7,523.1 715.3,523.1 718,523.1 720.6,523.1 723.3,523.1 725.9,523.1 728.6,523.1 731.2,523.1 733.9,523.1 736.6,523.1 739.2,523.1 741.9,523.1 744.5,523.1 747.2,523.1 749.8,523.1 752.5,523.1 755.1,523.1 757.8,523.1 760.4,523.1 763.1,523.1 765.8,523.1 768.4,523.1 771.1,523.1 773.7,523.1 776.4,523.1 779,523.1 781.7,523.1 784.3,523.1 787,523.1 789.7,523.1 792.3,523.1 795,523.1 797.6,523.1 800.3,523.1 802.9,523.1 805.6,523.1 808.2,523.1 810.9,523.1 813.5,523.1 816.2,523.1 818.9,523.1 821.5,523.1 824.2,523.1 826.8,523.1 829.5,523.1 832.1,523.1 834.8,523.1 837.4,523.1" stroke="#ff7f0e" stroke-width="4.5" stroke-dasharray="16.65 7.2"/>
<path d="M168.4 523.06H869.3" stroke="#000" stroke-width="1.5"/>
</g>
<path d="M200.26 591.15v11.03M412.65 591.15v11.03M625.05 591.15v11.03M837.44 591.15v11.03M168.4 523.06h-11.03M168.4 409.58h-11.03M168.4 296.11h-11.03M168.4 182.63h-11.03M168.4 69.15h-11.03" fill="none" stroke="#000" stroke-width="2.5"/>
<path d="M179.68 591.15v6.3M190.54 591.15v6.3M264.2 591.15v6.3M301.6 591.15v6.3M328.13 591.15v6.3M348.72 591.15v6.3M365.53 591.15v6.3M379.75 591.15v6.3M392.07 591.15v6.3M402.93 591.15v6.3M476.59 591.15v6.3M513.99 591.15v6.3M540.53 591.15v6.3M561.11 591.15v6.3M577.93 591.15v6.3M592.15 591.15v6.3M604.46 591.15v6.3M615.33 591.15v6.3M688.98 591.15v6.3M726.38 591.15v6.3M752.92 591.15v6.3M773.5 591.15v6.3M790.32 591.15v6.3M804.54 591.15v6.3M816.86 591.15v6.3M827.72 591.15v6.3M168.4 591.15h-6.3M168.4 568.45h-6.3M168.4 545.76h-6.3M168.4 500.37h-6.3M168.4 477.67h-6.3M168.4 454.98h-6.3M168.4 432.28h-6.3M168.4 386.89h-6.3M168.4 364.19h-6.3M168.4 341.5h-6.3M168.4 318.8h-6.3M168.4 273.41h-6.3M168.4 250.72h-6.3M168.4 228.02h-6.3M168.4 205.32h-6.3M168.4 159.93h-6.3M168.4 137.24h-6.3M168.4 114.54h-6.3M168.4 91.85h-6.3" fill="none" stroke="#000" stroke-width="2"/>
<rect x="168.4" y="69.15" width="700.9" height="522" fill="none" stroke="#000" stroke-width="2.5"/>
<g font-size="40.95" text-anchor="middle">
<text x="200.26" y="646.15">1</text>
<text x="412.65" y="646.15">10</text>
<text x="625.05" y="646.15">100</text>
<text x="837.44" y="646.15">1000</text>
</g>
<g font-size="40.95" text-anchor="end">
<text x="146.4" y="539.82">0.0</text>
<text x="146.4" y="426.35">0.5</text>
<text x="146.4" y="312.87">1.0</text>
<text x="146.4" y="199.39">1.5</text>
<text x="146.4" y="85.91">2.0</text>
</g>
<g transform="translate(518.85 694.15)" fill="#000">
<text x="-139.50 -110.43 -99.94 -76.81 -40.04 -16.81 -2.01 21.21 36.73 48.73" y="-0.00" font-size="37.80">Diameter [</text>
<text x="63.46 87.39" y="-0.00" font-size="37.80" font-style="italic">nm</text>
<text x="124.16" y="-0.00" font-size="37.80">]</text>
</g>
<g transform="translate(518.85 50.25)" fill="#000">
<text x="-288.00 -273.27 -250.14 -235.41 -223.41" y="-0.00" font-size="37.80">(a) N</text>
<text x="-194.81 -187.47 -172.94" y="6.23" font-size="26.46" font-style="italic">ice</text>
<text x="-155.64 -142.92 -119.07" y="-0.00" font-size="37.80">;EI</text>
<text x="-107.58 -93.81 -77.64 -61.47" y="6.23" font-size="26.46" font-style="italic">soot</text>
<text x="-50.07 -38.07 -14.15 9.78 46.55 70.51 93.74 109.26 121.26 140.93 151.41 171.23 194.45 206.45 230.42 240.90 260.57 275.37" y="-0.00" font-size="37.80"> number size dist.</text>
</g>
<g transform="translate(55.70 331.95) rotate(-90)" fill="#000">
<text transform="translate(-145.63 -0.76) skewX(-10) scale(1.06 0.93)" font-size="37.80">ℰ</text>
<text x="-123.26 -106.49" y="6.23" font-size="26.46" font-style="italic">dN</text>
<text x="-86.72" y="6.23" font-size="26.46">/</text>
<text x="-77.82" y="6.23" font-size="26.46" font-style="italic">d</text>
<text x="-61.04" y="6.23" font-size="26.46">(</text>
<text x="-50.73 -43.39 -26.64" y="6.23" font-size="26.46" font-style="italic">lnD</text>
<text x="-6.30" y="6.23" font-size="26.46">)</text>
<text x="5.05 17.05 31.78 52.53" y="-0.00" font-size="37.80"> [cm</text>
<text x="89.67 111.81" y="-14.55" font-size="26.46">−3</text>
<text x="129.66" y="-0.00" font-size="37.80">]</text>
</g>
<rect x="608.95" y="85.55" width="244.25" height="239.7" rx="4.73" ry="4.73" fill="#fff" fill-opacity="0.8" stroke="#ccc" stroke-opacity="0.8" stroke-width="2.6"/>
<g font-size="31.5">
<path d="M621.55 110.35h63" stroke="#000000" stroke-width="4.7" stroke-linecap="square" fill="none"/>
<text x="709.75" y="122.35">222; 1.5</text>
<path d="M621.55 156.65h63" stroke="#17becf" stroke-width="4.7" stroke-linecap="square" fill="none"/>
<text x="709.75" y="168.65">90; 0.5</text>
<path d="M621.55 202.95h63" stroke="#1f77b4" stroke-width="4.7" stroke-linecap="square" fill="none"/>
<text x="709.75" y="214.95">163; 1</text>
<path d="M621.55 249.25h63" stroke="#9467bd" stroke-width="4.7" stroke-linecap="square" fill="none"/>
<text x="709.75" y="261.25">268; 2</text>
<path d="M621.55 295.55h63" stroke="#ff7f0e" stroke-width="4.7" stroke-linecap="square" fill="none"/>
<text x="709.75" y="307.55">350; 3</text>
</g>
</g>
<g id="panel-b">
<rect x="1150.8" y="69.15" width="700.9" height="521.9" fill="#fff"/>
<path d="M1162.08 69.15V591.05M1172.94 69.15V591.05M1246.6 69.15V591.05M1284 69.15V591.05M1310.53 69.15V591.05M1331.12 69.15V591.05M1347.93 69.15V591.05M1362.15 69.15V591.05M1374.47 69.15V591.05M1385.33 69.15V591.05M1458.99 69.15V591.05M1496.39 69.15V591.05M1522.93 69.15V591.05M1543.51 69.15V591.05M1560.33 69.15V591.05M1574.55 69.15V591.05M1586.86 69.15V591.05M1597.73 69.15V591.05M1671.38 69.15V591.05M1708.78 69.15V591.05M1735.32 69.15V591.05M1755.9 69.15V591.05M1772.72 69.15V591.05M1786.94 69.15V591.05M1799.26 69.15V591.05M1810.12 69.15V591.05M1150.8 561.23H1851.7M1150.8 531.4H1851.7M1150.8 501.58H1851.7M1150.8 471.76H1851.7M1150.8 412.11H1851.7M1150.8 382.29H1851.7M1150.8 352.47H1851.7M1150.8 322.64H1851.7M1150.8 263H1851.7M1150.8 233.18H1851.7M1150.8 203.35H1851.7M1150.8 173.53H1851.7M1150.8 113.88H1851.7M1150.8 84.06H1851.7" fill="none" stroke="#ebebeb" stroke-width="1.57" stroke-dasharray="1.57 2.6"/>
<path d="M1182.66 69.15V591.05M1395.05 69.15V591.05M1607.45 69.15V591.05M1819.84 69.15V591.05M1150.8 441.94H1851.7M1150.8 292.82H1851.7M1150.8 143.71H1851.7" fill="none" stroke="#e1e1e1" stroke-width="2.2"/>
<clipPath id="clip-b"><rect x="1150.8" y="69.15" width="700.9" height="521.9"/></clipPath>
<g clip-path="url(#clip-b)" fill="none" stroke-linejoin="round">
<polyline points="1182.7,147.7 1185.3,148.5 1188,149.3 1190.6,150.2 1193.3,151.4 1195.9,152.6 1198.6,154.1 1201.2,155.7 1203.9,157.6 1206.6,159.7 1209.2,162.1 1211.9,164.8 1214.5,167.8 1217.2,171.1 1219.8,174.8 1222.5,178.9 1225.1,183.4 1227.8,188.3 1230.4,193.7 1233.1,199.5 1235.8,205.9 1238.4,212.7 1241.1,220 1243.7,227.8 1246.4,236.1 1249,244.9 1251.7,254.2 1254.3,263.9 1257,274.1 1259.7,284.6 1262.3,295.4 1265,306.6 1267.6,318 1270.3,329.5 1272.9,341.1 1275.6,352.8 1278.2,364.4 1280.9,376 1283.5,387.3 1286.2,398.3 1288.9,409.1 1291.5,419.4 1294.2,429.3 1296.8,438.6 1299.5,447.4 1302.1,455.6 1304.8,463 1307.4,469.7 1310.1,475.7 1312.8,480.7 1315.4,484.9 1318.1,488 1320.7,490.1 1323.4,491.1 1326,490.9 1328.7,489.5 1331.3,487 1334,483.3 1336.6,478.4 1339.3,472.2 1342,464.8 1344.6,456.3 1347.3,446.7 1349.9,436.1 1352.6,424.6 1355.2,412.4 1357.9,399.6 1360.5,386.3 1363.2,372.8 1365.8,359.2 1368.5,345.5 1371.2,332.1 1373.8,318.9 1376.5,306 1379.1,293.6 1381.8,281.7 1384.4,270.2 1387.1,259.3 1389.7,248.8 1392.4,238.8 1395.1,229.3 1397.7,220.1 1400.4,211.3 1403,202.9 1405.7,194.9 1408.3,187.2 1411,180.1 1413.6,173.4 1416.3,167.4 1418.9,162.1 1421.6,157.7 1424.3,154.1 1426.9,151.5 1429.6,149.9 1432.2,149.4 1434.9,149.8 1437.5,151.3 1440.2,153.6 1442.8,156.6 1445.5,160.2 1448.2,164.1 1450.8,168.2 1453.5,172.4 1456.1,176.6 1458.8,180.7 1461.4,184.8 1464.1,188.9 1466.7,192.8 1469.4,196.7 1472,200.6 1474.7,204.4 1477.4,208.1 1480,211.8 1482.7,215.3 1485.3,218.8 1488,222.1 1490.6,225.2 1493.3,228.1 1495.9,230.7 1498.6,233.1 1501.2,235.1 1503.9,236.7 1506.6,238 1509.2,238.9 1511.9,239.4 1514.5,239.4 1517.2,239 1519.8,238.3 1522.5,237.2 1525.1,235.7 1527.8,233.8 1530.5,231.6 1533.1,229.1 1535.8,226.2 1538.4,223.1 1541.1,219.7 1543.7,216 1546.4,212.1 1549,208.1 1551.7,203.9 1554.3,199.7 1557,195.3 1559.7,190.9 1562.3,186.4 1565,182 1567.6,177.6 1570.3,173.3 1572.9,169.1 1575.6,165 1578.2,161.1 1580.9,157.3 1583.6,153.6 1586.2,150.2 1588.9,147 1591.5,143.9 1594.2,141.3 1596.8,138.8 1599.5,136.5 1602.1,134.5 1604.8,132.7 1607.4,131 1610.1,129.6 1612.8,128.3 1615.4,127.3 1618.1,126.4 1620.7,125.7 1623.4,125.2 1626,124.8 1628.7,124.6 1631.3,124.5 1634,124.5 1636.7,124.7 1639.3,124.9 1642,125.3 1644.6,125.8 1647.3,126.3 1649.9,126.9 1652.6,127.6 1655.2,128.3 1657.9,129 1660.5,129.8 1663.2,130.6 1665.9,131.3 1668.5,132.1 1671.2,132.9 1673.8,133.7 1676.5,134.4 1679.1,135.2 1681.8,135.9 1684.4,136.5 1687.1,137.2 1689.7,137.8 1692.4,138.4 1695.1,138.9 1697.7,139.4 1700.4,139.9 1703,140.3 1705.7,140.7 1708.3,141.1 1711,141.5 1713.6,141.8 1716.3,142.1 1719,142.3 1721.6,142.5 1724.3,142.7 1726.9,142.9 1729.6,143.1 1732.2,143.2 1734.9,143.4 1737.5,143.5 1740.2,143.6 1742.8,143.7 1745.5,143.7 1748.2,143.8 1750.8,143.9 1753.5,143.9 1756.1,143.9 1758.8,144 1761.4,144 1764.1,144 1766.7,144.1 1769.4,144.1 1772.1,144.1 1774.7,144.1 1777.4,144.1 1780,144.1 1782.7,144.1 1785.3,144.1 1788,144.1 1790.6,144.1 1793.3,144.1 1795.9,144.1 1798.6,144.1 1801.3,144.1 1803.9,144.2 1806.6,144.2 1809.2,144.2 1811.9,144.2 1814.5,144.2 1817.2,144.2 1819.8,144.2" stroke="#000000" stroke-width="4.5" stroke-linecap="square"/>
<polyline points="1182.7,147.7 1185.3,148.4 1188,149.3 1190.6,150.2 1193.3,151.2 1195.9,152.4 1198.6,153.8 1201.2,155.3 1203.9,157.1 1206.6,159 1209.2,161.2 1211.9,163.6 1214.5,166.3 1217.2,169.3 1219.8,172.6 1222.5,176.2 1225.1,180.2 1227.8,184.5 1230.4,189.2 1233.1,194.2 1235.8,199.6 1238.4,205.4 1241.1,211.6 1243.7,218.1 1246.4,224.9 1249,232.1 1251.7,239.6 1254.3,247.3 1257,255.3 1259.7,263.4 1262.3,271.7 1265,280 1267.6,288.4 1270.3,296.7 1272.9,305 1275.6,313.1 1278.2,321.1 1280.9,328.7 1283.5,336.1 1286.2,343.1 1288.9,349.8 1291.5,356 1294.2,361.8 1296.8,367.1 1299.5,371.9 1302.1,376.1 1304.8,379.7 1307.4,382.7 1310.1,385 1312.8,386.6 1315.4,387.4 1318.1,387.4 1320.7,386.6 1323.4,385.1 1326,382.8 1328.7,379.6 1331.3,375.7 1334,370.9 1336.6,365.4 1339.3,359.1 1342,352.1 1344.6,344.5 1347.3,336.3 1349.9,327.7 1352.6,318.7 1355.2,309.5 1357.9,300.1 1360.5,290.6 1363.2,281.1 1365.8,271.8 1368.5,262.6 1371.2,253.7 1373.8,245 1376.5,236.7 1379.1,228.7 1381.8,221 1384.4,213.6 1387.1,206.6 1389.7,199.9 1392.4,193.4 1395.1,187.2 1397.7,181.2 1400.4,175.5 1403,170 1405.7,164.8 1408.3,160 1411,155.5 1413.6,151.4 1416.3,147.8 1418.9,144.8 1421.6,142.5 1424.3,140.7 1426.9,139.6 1429.6,139.2 1432.2,139.4 1434.9,140.1 1437.5,141.1 1440.2,142.5 1442.8,144.1 1445.5,145.8 1448.2,147.7 1450.8,149.6 1453.5,151.5 1456.1,153.4 1458.8,155.3 1461.4,157.2 1464.1,159 1466.7,160.8 1469.4,162.6 1472,164.3 1474.7,166 1477.4,167.7 1480,169.3 1482.7,170.9 1485.3,172.5 1488,173.9 1490.6,175.3 1493.3,176.5 1495.9,177.7 1498.6,178.6 1501.2,179.5 1503.9,180.1 1506.6,180.6 1509.2,180.9 1511.9,181 1514.5,180.9 1517.2,180.7 1519.8,180.3 1522.5,179.8 1525.1,179.2 1527.8,178.4 1530.5,177.5 1533.1,176.5 1535.8,175.4 1538.4,174.1 1541.1,172.8 1543.7,171.4 1546.4,169.9 1549,168.3 1551.7,166.7 1554.3,165 1557,163.4 1559.7,161.7 1562.3,160 1565,158.3 1567.6,156.6 1570.3,155 1572.9,153.4 1575.6,151.8 1578.2,150.3 1580.9,148.9 1583.6,147.5 1586.2,146.2 1588.9,145 1591.5,143.8 1594.2,142.3 1596.8,140.9 1599.5,139.7 1602.1,138.6 1604.8,137.6 1607.4,136.7 1610.1,135.9 1612.8,135.3 1615.4,134.8 1618.1,134.4 1620.7,134.1 1623.4,133.9 1626,133.8 1628.7,133.7 1631.3,133.8 1634,133.8 1636.7,134 1639.3,134.2 1642,134.5 1644.6,134.7 1647.3,135.1 1649.9,135.4 1652.6,135.8 1655.2,136.2 1657.9,136.6 1660.5,137 1663.2,137.4 1665.9,137.8 1668.5,138.2 1671.2,138.6 1673.8,139 1676.5,139.4 1679.1,139.7 1681.8,140.1 1684.4,140.4 1687.1,140.7 1689.7,141.1 1692.4,141.3 1695.1,141.6 1697.7,141.9 1700.4,142.1 1703,142.3 1705.7,142.5 1708.3,142.7 1711,142.8 1713.6,143 1716.3,143.1 1719,143.3 1721.6,143.4 1724.3,143.5 1726.9,143.6 1729.6,143.6 1732.2,143.7 1734.9,143.8 1737.5,143.8 1740.2,143.9 1742.8,143.9 1745.5,143.9 1748.2,144 1750.8,144 1753.5,144 1756.1,144 1758.8,144.1 1761.4,144.1 1764.1,144.1 1766.7,144.1 1769.4,144.1 1772.1,144.1 1774.7,144.1 1777.4,144.1 1780,144.1 1782.7,144.1 1785.3,144.1 1788,144.1 1790.6,144.1 1793.3,144.1 1795.9,144.1 1798.6,144.2 1801.3,144.2 1803.9,144.2 1806.6,144.2 1809.2,144.2 1811.9,144.2 1814.5,144.2 1817.2,144.2 1819.8,144.2" stroke="#17becf" stroke-width="4.5" stroke-linecap="square"/>
<polyline points="1182.7,147.7 1185.3,148.4 1188,149.3 1190.6,150.2 1193.3,151.3 1195.9,152.6 1198.6,154 1201.2,155.7 1203.9,157.5 1206.6,159.6 1209.2,162 1211.9,164.6 1214.5,167.5 1217.2,170.8 1219.8,174.4 1222.5,178.4 1225.1,182.8 1227.8,187.6 1230.4,192.9 1233.1,198.5 1235.8,204.6 1238.4,211.2 1241.1,218.2 1243.7,225.7 1246.4,233.6 1249,242 1251.7,250.8 1254.3,259.9 1257,269.4 1259.7,279.2 1262.3,289.2 1265,299.5 1267.6,309.9 1270.3,320.3 1272.9,330.8 1275.6,341.3 1278.2,351.6 1280.9,361.8 1283.5,371.7 1286.2,381.3 1288.9,390.5 1291.5,399.3 1294.2,407.6 1296.8,415.4 1299.5,422.7 1302.1,429.3 1304.8,435.2 1307.4,440.5 1310.1,445 1312.8,448.7 1315.4,451.5 1318.1,453.3 1320.7,454.2 1323.4,454.1 1326,453.1 1328.7,451 1331.3,447.8 1334,443.6 1336.6,438.3 1339.3,432 1342,424.6 1344.6,416.3 1347.3,407.1 1349.9,397.1 1352.6,386.4 1355.2,375.2 1357.9,363.6 1360.5,351.7 1363.2,339.6 1365.8,327.5 1368.5,315.6 1371.2,303.8 1373.8,292.3 1376.5,281.1 1379.1,270.4 1381.8,260.1 1384.4,250.2 1387.1,240.7 1389.7,231.7 1392.4,223.1 1395.1,214.8 1397.7,206.8 1400.4,199.2 1403,191.9 1405.7,185 1408.3,178.4 1411,172.2 1413.6,166.6 1416.3,161.5 1418.9,157.1 1421.6,153.4 1424.3,150.6 1426.9,148.6 1429.6,147.5 1432.2,147.3 1434.9,147.9 1437.5,149.1 1440.2,150.9 1442.8,153.2 1445.5,155.8 1448.2,158.6 1450.8,161.6 1453.5,164.6 1456.1,167.6 1458.8,170.6 1461.4,173.5 1464.1,176.3 1466.7,179.1 1469.4,181.9 1472,184.7 1474.7,187.3 1477.4,190 1480,192.6 1482.7,195.1 1485.3,197.6 1488,199.9 1490.6,202.1 1493.3,204.1 1495.9,205.9 1498.6,207.6 1501.2,209 1503.9,210.1 1506.6,211 1509.2,211.6 1511.9,211.8 1514.5,211.8 1517.2,211.5 1519.8,210.9 1522.5,210.1 1525.1,209 1527.8,207.7 1530.5,206.1 1533.1,204.2 1535.8,202.2 1538.4,199.9 1541.1,197.5 1543.7,194.9 1546.4,192.2 1549,189.3 1551.7,186.3 1554.3,183.3 1557,180.2 1559.7,177.1 1562.3,173.9 1565,170.8 1567.6,167.7 1570.3,164.7 1572.9,161.7 1575.6,158.8 1578.2,156 1580.9,153.3 1583.6,150.7 1586.2,148.3 1588.9,146 1591.5,143.9 1594.2,141.8 1596.8,140 1599.5,138.3 1602.1,136.7 1604.8,135.4 1607.4,134.1 1610.1,133.1 1612.8,132.2 1615.4,131.4 1618.1,130.8 1620.7,130.3 1623.4,129.9 1626,129.7 1628.7,129.6 1631.3,129.5 1634,129.6 1636.7,129.8 1639.3,130 1642,130.3 1644.6,130.7 1647.3,131.1 1649.9,131.6 1652.6,132.1 1655.2,132.6 1657.9,133.1 1660.5,133.7 1663.2,134.3 1665.9,134.9 1668.5,135.5 1671.2,136 1673.8,136.6 1676.5,137.1 1679.1,137.7 1681.8,138.2 1684.4,138.7 1687.1,139.1 1689.7,139.6 1692.4,140 1695.1,140.4 1697.7,140.8 1700.4,141.1 1703,141.4 1705.7,141.7 1708.3,142 1711,142.2 1713.6,142.4 1716.3,142.6 1719,142.8 1721.6,143 1724.3,143.1 1726.9,143.3 1729.6,143.4 1732.2,143.5 1734.9,143.6 1737.5,143.7 1740.2,143.7 1742.8,143.8 1745.5,143.8 1748.2,143.9 1750.8,143.9 1753.5,144 1756.1,144 1758.8,144 1761.4,144 1764.1,144.1 1766.7,144.1 1769.4,144.1 1772.1,144.1 1774.7,144.1 1777.4,144.1 1780,144.1 1782.7,144.1 1785.3,144.1 1788,144.1 1790.6,144.1 1793.3,144.1 1795.9,144.1 1798.6,144.1 1801.3,144.2 1803.9,144.2 1806.6,144.2 1809.2,144.2 1811.9,144.2 1814.5,144.2 1817.2,144.2 1819.8,144.2" stroke="#1f77b4" stroke-width="4.5" stroke-linecap="square"/>
<polyline points="1182.7,147.7 1185.3,148.5 1188,149.3 1190.6,150.2 1193.3,151.4 1195.9,152.6 1198.6,154.1 1201.2,155.7 1203.9,157.6 1206.6,159.7 1209.2,162.1 1211.9,164.8 1214.5,167.7 1217.2,171.1 1219.8,174.7 1222.5,178.8 1225.1,183.3 1227.8,188.2 1230.4,193.6 1233.1,199.5 1235.8,205.9 1238.4,212.8 1241.1,220.2 1243.7,228.1 1246.4,236.5 1249,245.5 1251.7,255 1254.3,264.9 1257,275.3 1259.7,286.2 1262.3,297.4 1265,309 1267.6,320.9 1270.3,333 1272.9,345.3 1275.6,357.7 1278.2,370.1 1280.9,382.5 1283.5,394.7 1286.2,406.8 1288.9,418.6 1291.5,430.1 1294.2,441.1 1296.8,451.7 1299.5,461.7 1302.1,471.1 1304.8,479.8 1307.4,487.8 1310.1,495 1312.8,501.4 1315.4,506.8 1318.1,511.1 1320.7,514.4 1323.4,516.4 1326,517.2 1328.7,516.7 1331.3,515 1334,512 1336.6,507.7 1339.3,502 1342,495 1344.6,486.7 1347.3,477.2 1349.9,466.5 1352.6,454.7 1355.2,442.1 1357.9,428.7 1360.5,414.7 1363.2,400.3 1365.8,385.6 1368.5,370.9 1371.2,356.3 1373.8,341.9 1376.5,327.9 1379.1,314.2 1381.8,301.1 1384.4,288.4 1387.1,276.4 1389.7,264.8 1392.4,253.8 1395.1,243.3 1397.7,233.2 1400.4,223.5 1403,214.3 1405.7,205.4 1408.3,197 1411,189.1 1413.6,181.7 1416.3,174.9 1418.9,168.9 1421.6,163.7 1424.3,159.5 1426.9,156.4 1429.6,154.3 1432.2,153.3 1434.9,153.5 1437.5,154.9 1440.2,157.4 1442.8,160.9 1445.5,165 1448.2,169.6 1450.8,174.6 1453.5,179.7 1456.1,184.8 1458.8,189.9 1461.4,194.9 1464.1,199.8 1466.7,204.6 1469.4,209.4 1472,214 1474.7,218.7 1477.4,223.2 1480,227.7 1482.7,232 1485.3,236.2 1488,240.3 1490.6,244.1 1493.3,247.6 1495.9,250.8 1498.6,253.7 1501.2,256.2 1503.9,258.2 1506.6,259.8 1509.2,260.9 1511.9,261.4 1514.5,261.5 1517.2,261 1519.8,260.1 1522.5,258.7 1525.1,256.9 1527.8,254.6 1530.5,251.9 1533.1,248.7 1535.8,245.2 1538.4,241.4 1541.1,237.2 1543.7,232.7 1546.4,227.9 1549,223 1551.7,217.8 1554.3,212.5 1557,207.2 1559.7,201.7 1562.3,196.3 1565,190.8 1567.6,185.5 1570.3,180.2 1572.9,175 1575.6,169.9 1578.2,165.1 1580.9,160.4 1583.6,155.9 1586.2,151.7 1588.9,147.7 1591.5,144 1594.2,140.5 1596.8,137.4 1599.5,134.4 1602.1,131.8 1604.8,129.4 1607.4,127.3 1610.1,125.4 1612.8,123.8 1615.4,122.5 1618.1,121.3 1620.7,120.4 1623.4,119.7 1626,119.2 1628.7,118.9 1631.3,118.8 1634,118.8 1636.7,119.1 1639.3,119.4 1642,119.9 1644.6,120.5 1647.3,121.2 1649.9,122 1652.6,122.8 1655.2,123.7 1657.9,124.7 1660.5,125.6 1663.2,126.6 1665.9,127.7 1668.5,128.7 1671.2,129.7 1673.8,130.7 1676.5,131.6 1679.1,132.6 1681.8,133.5 1684.4,134.3 1687.1,135.2 1689.7,136 1692.4,136.7 1695.1,137.4 1697.7,138.1 1700.4,138.7 1703,139.2 1705.7,139.8 1708.3,140.2 1711,140.7 1713.6,141.1 1716.3,141.4 1719,141.8 1721.6,142.1 1724.3,142.3 1726.9,142.6 1729.6,142.8 1732.2,143 1734.9,143.1 1737.5,143.3 1740.2,143.4 1742.8,143.5 1745.5,143.6 1748.2,143.7 1750.8,143.8 1753.5,143.8 1756.1,143.9 1758.8,143.9 1761.4,144 1764.1,144 1766.7,144 1769.4,144 1772.1,144.1 1774.7,144.1 1777.4,144.1 1780,144.1 1782.7,144.1 1785.3,144.1 1788,144.1 1790.6,144.1 1793.3,144.1 1795.9,144.1 1798.6,144.1 1801.3,144.1 1803.9,144.1 1806.6,144.2 1809.2,144.2 1811.9,144.2 1814.5,144.2 1817.2,144.2 1819.8,144.2" stroke="#9467bd" stroke-width="4.5" stroke-linecap="square"/>
<polyline points="1182.7,147.7 1185.3,148.5 1188,149.3 1190.6,150.2 1193.3,151.4 1195.9,152.6 1198.6,154.1 1201.2,155.7 1203.9,157.6 1206.6,159.7 1209.2,162.1 1211.9,164.8 1214.5,167.7 1217.2,171 1219.8,174.7 1222.5,178.7 1225.1,183.2 1227.8,188 1230.4,193.4 1233.1,199.2 1235.8,205.6 1238.4,212.6 1241.1,220.1 1243.7,228.3 1246.4,237 1249,246.5 1251.7,256.5 1254.3,267.2 1257,278.5 1259.7,290.4 1262.3,302.9 1265,316 1267.6,329.5 1270.3,343.5 1272.9,357.8 1275.6,372.5 1278.2,387.4 1280.9,402.4 1283.5,417.5 1286.2,432.6 1288.9,447.6 1291.5,462.3 1294.2,476.7 1296.8,490.7 1299.5,504.2 1302.1,517.1 1304.8,529.3 1307.4,540.6 1310.1,551.1 1312.8,560.5 1315.4,568.8 1318.1,575.8 1320.7,581.5 1323.4,585.6 1326,588.1 1328.7,588.8 1331.3,587.9 1334,585.6 1336.6,581.7 1339.3,576.2 1342,569.2 1344.6,560.6 1347.3,550.4 1349.9,538.9 1352.6,525.9 1355.2,511.8 1357.9,496.6 1360.5,480.6 1363.2,464 1365.8,446.9 1368.5,429.5 1371.2,412.1 1373.8,394.9 1376.5,378 1379.1,361.4 1381.8,345.4 1384.4,330 1387.1,315.2 1389.7,301.1 1392.4,287.6 1395.1,274.7 1397.7,262.3 1400.4,250.5 1403,239.2 1405.7,228.4 1408.3,218.1 1411,208.2 1413.6,199 1416.3,190.4 1418.9,182.6 1421.6,175.7 1424.3,169.9 1426.9,165.2 1429.6,161.7 1432.2,159.6 1434.9,158.8 1437.5,159.4 1440.2,161.7 1442.8,165.3 1445.5,170.2 1448.2,175.8 1450.8,182.1 1453.5,188.6 1456.1,195.3 1458.8,201.9 1461.4,208.5 1464.1,215 1466.7,221.4 1469.4,227.6 1472,233.8 1474.7,239.8 1477.4,245.8 1480,251.6 1482.7,257.4 1485.3,262.9 1488,268.3 1490.6,273.3 1493.3,278 1495.9,282.3 1498.6,286.1 1501.2,289.4 1503.9,292.1 1506.6,294.2 1509.2,295.7 1511.9,296.4 1514.5,296.5 1517.2,295.9 1519.8,294.7 1522.5,292.9 1525.1,290.6 1527.8,287.6 1530.5,284.1 1533.1,280 1535.8,275.4 1538.4,270.4 1541.1,265 1543.7,259.1 1546.4,253 1549,246.5 1551.7,239.9 1554.3,233 1557,226.1 1559.7,219 1562.3,211.9 1565,204.9 1567.6,197.9 1570.3,191 1572.9,184.3 1575.6,177.7 1578.2,171.4 1580.9,165.4 1583.6,159.6 1586.2,154.1 1588.9,148.9 1591.5,144.1 1594.2,139.7 1596.8,135.6 1599.5,131.8 1602.1,128.4 1604.8,125.4 1607.4,122.7 1610.1,120.3 1612.8,118.2 1615.4,116.5 1618.1,115 1620.7,113.9 1623.4,113 1626,112.4 1628.7,112 1631.3,111.8 1634,111.9 1636.7,112.1 1639.3,112.6 1642,113.2 1644.6,113.9 1647.3,114.8 1649.9,115.8 1652.6,116.9 1655.2,118.1 1657.9,119.3 1660.5,120.5 1663.2,121.8 1665.9,123.1 1668.5,124.4 1671.2,125.7 1673.8,126.9 1676.5,128.2 1679.1,129.4 1681.8,130.5 1684.4,131.6 1687.1,132.7 1689.7,133.7 1692.4,134.7 1695.1,135.5 1697.7,136.4 1700.4,137.2 1703,137.9 1705.7,138.6 1708.3,139.2 1711,139.7 1713.6,140.2 1716.3,140.7 1719,141.1 1721.6,141.5 1724.3,141.8 1726.9,142.1 1729.6,142.4 1732.2,142.6 1734.9,142.8 1737.5,143 1740.2,143.2 1742.8,143.3 1745.5,143.5 1748.2,143.6 1750.8,143.7 1753.5,143.7 1756.1,143.8 1758.8,143.9 1761.4,143.9 1764.1,144 1766.7,144 1769.4,144 1772.1,144 1774.7,144.1 1777.4,144.1 1780,144.1 1782.7,144.1 1785.3,144.1 1788,144.1 1790.6,144.1 1793.3,144.1 1795.9,144.1 1798.6,144.1 1801.3,144.1 1803.9,144.1 1806.6,144.1 1809.2,144.2 1811.9,144.2 1814.5,144.2 1817.2,144.2 1819.8,144.2" stroke="#ff7f0e" stroke-width="4.5" stroke-linecap="square"/>
<path d="M1150.8 143.71H1851.7" stroke="#000" stroke-width="1.5"/>
</g>
<path d="M1182.66 591.05v11.03M1395.05 591.05v11.03M1607.45 591.05v11.03M1819.84 591.05v11.03M1150.8 591.05h-11.03M1150.8 441.94h-11.03M1150.8 292.82h-11.03M1150.8 143.71h-11.03" fill="none" stroke="#000" stroke-width="2.5"/>
<path d="M1162.08 591.05v6.3M1172.94 591.05v6.3M1246.6 591.05v6.3M1284 591.05v6.3M1310.53 591.05v6.3M1331.12 591.05v6.3M1347.93 591.05v6.3M1362.15 591.05v6.3M1374.47 591.05v6.3M1385.33 591.05v6.3M1458.99 591.05v6.3M1496.39 591.05v6.3M1522.93 591.05v6.3M1543.51 591.05v6.3M1560.33 591.05v6.3M1574.55 591.05v6.3M1586.86 591.05v6.3M1597.73 591.05v6.3M1671.38 591.05v6.3M1708.78 591.05v6.3M1735.32 591.05v6.3M1755.9 591.05v6.3M1772.72 591.05v6.3M1786.94 591.05v6.3M1799.26 591.05v6.3M1810.12 591.05v6.3M1150.8 561.23h-6.3M1150.8 531.4h-6.3M1150.8 501.58h-6.3M1150.8 471.76h-6.3M1150.8 412.11h-6.3M1150.8 382.29h-6.3M1150.8 352.47h-6.3M1150.8 322.64h-6.3M1150.8 263h-6.3M1150.8 233.18h-6.3M1150.8 203.35h-6.3M1150.8 173.53h-6.3M1150.8 113.88h-6.3M1150.8 84.06h-6.3" fill="none" stroke="#000" stroke-width="2"/>
<rect x="1150.8" y="69.15" width="700.9" height="521.9" fill="none" stroke="#000" stroke-width="2.5"/>
<g font-size="40.95" text-anchor="middle">
<text x="1182.66" y="646.05">1</text>
<text x="1395.05" y="646.05">10</text>
<text x="1607.45" y="646.05">100</text>
<text x="1819.84" y="646.05">1000</text>
</g>
<g font-size="40.95" text-anchor="end">
<text x="1128.8" y="607.81">−0.3</text>
<text x="1128.8" y="458.7">−0.2</text>
<text x="1128.8" y="309.58">−0.1</text>
<text x="1128.8" y="160.47">0.0</text>
</g>
<g transform="translate(1501.25 694.05)" fill="#000">
<text x="-139.50 -110.43 -99.94 -76.81 -40.04 -16.81 -2.01 21.21 36.73 48.73" y="-0.00" font-size="37.80">Diameter [</text>
<text x="63.46 87.39" y="-0.00" font-size="37.80" font-style="italic">nm</text>
<text x="124.16" y="-0.00" font-size="37.80">]</text>
</g>
<g transform="translate(1501.25 50.25)" fill="#000">
<text x="-288.50 -273.77 -249.81 -235.08 -223.08" y="-0.00" font-size="37.80">(b) N</text>
<text x="-194.48 -187.14 -172.61" y="6.23" font-size="26.46" font-style="italic">ice</text>
<text x="-155.31 -142.59 -118.74" y="-0.00" font-size="37.80">;EI</text>
<text x="-107.25 -93.48 -77.31 -61.14" y="6.23" font-size="26.46" font-style="italic">soot</text>
<text x="-49.74 -37.74 -13.82 10.11 46.88 70.84 94.07 109.59 121.59 141.25 151.74 171.56 194.78 206.78 230.75 241.23 260.90 275.70" y="-0.00" font-size="37.80"> number size dist.</text>
</g>
<g transform="translate(999.90 331.90) rotate(-90)" fill="#000">
<text transform="translate(-245.13 -0.76) skewX(-10) scale(1.06 0.93)" font-size="37.80">ℰ</text>
<text x="-222.76 -205.99 -198.65 -181.90 -156.16" y="-20.08" font-size="26.46">plume</text>
<text x="-222.76 -205.99" y="10.39" font-size="26.46" font-style="italic">dN</text>
<text x="-186.22" y="10.39" font-size="26.46">/</text>
<text x="-177.32" y="10.39" font-size="26.46" font-style="italic">d</text>
<text x="-160.54" y="10.39" font-size="26.46">(</text>
<text x="-150.23 -142.89 -126.14" y="10.39" font-size="26.46" font-style="italic">lnD</text>
<text x="-105.80" y="10.39" font-size="26.46">)</text>
<text x="-87.09" y="0.00" font-size="37.80">−</text>
<text transform="translate(-49.24 -0.76) skewX(-10) scale(1.06 0.93)" font-size="37.80">ℰ</text>
<text x="-26.87 -19.53 -2.78 10.99 21.35 34.90 51.67 59.01 72.78 89.55" y="-20.08" font-size="26.46">inst.disp.</text>
<text x="-26.87 -10.10" y="10.39" font-size="26.46" font-style="italic">dN</text>
<text x="9.67" y="10.39" font-size="26.46">/</text>
<text x="18.57" y="10.39" font-size="26.46" font-style="italic">d</text>
<text x="35.35" y="10.39" font-size="26.46">(</text>
<text x="45.66 53.00 69.75" y="10.39" font-size="26.46" font-style="italic">lnD</text>
<text x="90.10" y="10.39" font-size="26.46">)</text>
<text x="104.14 116.14 130.87 151.62" y="0.00" font-size="37.80"> [cm</text>
<text x="188.76 210.90" y="-14.55" font-size="26.46">−3</text>
<text x="228.75" y="0.00" font-size="37.80">]</text>
</g>
<rect x="1586.85" y="283.6" width="244.25" height="239.7" rx="4.73" ry="4.73" fill="#fff" fill-opacity="0.8" stroke="#ccc" stroke-opacity="0.8" stroke-width="2.6"/>
<g font-size="31.5">
<path d="M1599.45 308.4h63" stroke="#000000" stroke-width="4.7" stroke-linecap="square" fill="none"/>
<text x="1687.65" y="320.4">222; 1.5</text>
<path d="M1599.45 354.7h63" stroke="#17becf" stroke-width="4.7" stroke-linecap="square" fill="none"/>
<text x="1687.65" y="366.7">90; 0.5</text>
<path d="M1599.45 401h63" stroke="#1f77b4" stroke-width="4.7" stroke-linecap="square" fill="none"/>
<text x="1687.65" y="413">163; 1</text>
<path d="M1599.45 447.3h63" stroke="#9467bd" stroke-width="4.7" stroke-linecap="square" fill="none"/>
<text x="1687.65" y="459.3">268; 2</text>
<path d="M1599.45 493.6h63" stroke="#ff7f0e" stroke-width="4.7" stroke-linecap="square" fill="none"/>
<text x="1687.65" y="505.6">350; 3</text>
</g>
</g>
<g id="panel-c">
<rect x="165.6" y="803.25" width="703.7" height="524.05" fill="#fff"/>
<path d="M176.92 803.25V1327.3M187.83 803.25V1327.3M261.78 803.25V1327.3M299.33 803.25V1327.3M325.97 803.25V1327.3M346.64 803.25V1327.3M363.52 803.25V1327.3M377.8 803.25V1327.3M390.16 803.25V1327.3M401.07 803.25V1327.3M475.02 803.25V1327.3M512.57 803.25V1327.3M539.21 803.25V1327.3M559.88 803.25V1327.3M576.76 803.25V1327.3M591.04 803.25V1327.3M603.41 803.25V1327.3M614.31 803.25V1327.3M688.26 803.25V1327.3M725.81 803.25V1327.3M752.46 803.25V1327.3M773.12 803.25V1327.3M790.01 803.25V1327.3M804.28 803.25V1327.3M816.65 803.25V1327.3M827.56 803.25V1327.3M165.6 1327.3H869.3M165.6 1304.52H869.3M165.6 1281.73H869.3M165.6 1236.16H869.3M165.6 1213.38H869.3M165.6 1190.59H869.3M165.6 1167.81H869.3M165.6 1122.24H869.3M165.6 1099.45H869.3M165.6 1076.67H869.3M165.6 1053.88H869.3M165.6 1008.31H869.3M165.6 985.53H869.3M165.6 962.74H869.3M165.6 939.96H869.3M165.6 894.39H869.3M165.6 871.6H869.3M165.6 848.82H869.3M165.6 826.03H869.3" fill="none" stroke="#ebebeb" stroke-width="1.57" stroke-dasharray="1.57 2.6"/>
<path d="M197.59 803.25V1327.3M410.83 803.25V1327.3M624.07 803.25V1327.3M837.31 803.25V1327.3M165.6 1258.95H869.3M165.6 1145.02H869.3M165.6 1031.1H869.3M165.6 917.17H869.3" fill="none" stroke="#e1e1e1" stroke-width="2.2"/>
<clipPath id="clip-c"><rect x="165.6" y="803.25" width="703.7" height="524.05"/></clipPath>
<g clip-path="url(#clip-c)" fill="none" stroke-linejoin="round">
<polyline points="197.6,1257.1 200.3,1256.7 202.9,1256.3 205.6,1255.8 208.2,1255.3 210.9,1254.6 213.6,1253.9 216.2,1253.1 218.9,1252.2 221.6,1251.3 224.2,1250.2 226.9,1249 229.6,1247.6 232.2,1246.2 234.9,1244.6 237.6,1242.8 240.2,1240.8 242.9,1238.5 245.6,1236 248.2,1233 250.9,1229.6 253.6,1225.7 256.2,1221.3 258.9,1216.3 261.6,1210.6 264.2,1204.3 266.9,1197.3 269.6,1189.6 272.2,1181.4 274.9,1172.5 277.6,1163.1 280.2,1153.2 282.9,1142.9 285.5,1132.3 288.2,1121.4 290.9,1110.3 293.5,1099.1 296.2,1087.8 298.9,1076.3 301.5,1064.6 304.2,1052.7 306.9,1040.7 309.5,1028.6 312.2,1016.3 314.9,1003.9 317.5,991.7 320.2,979.6 322.9,967.8 325.5,956.5 328.2,945.7 330.9,935.7 333.5,926.4 336.2,918.1 338.9,910.8 341.5,904.6 344.2,899.5 346.9,895.5 349.5,892.7 352.2,891.1 354.9,890.6 357.5,891.3 360.2,893.2 362.8,896.2 365.5,900.3 368.2,905.5 370.8,911.7 373.5,919 376.2,927.3 378.8,936.5 381.5,946.6 384.2,957.6 386.8,969.4 389.5,981.9 392.2,995.1 394.8,1008.9 397.5,1023.2 400.2,1037.8 402.8,1052.7 405.5,1067.7 408.2,1082.6 410.8,1097.4 413.5,1111.7 416.2,1125.6 418.8,1138.9 421.5,1151.4 424.2,1163.2 426.8,1174.2 429.5,1184.3 432.2,1193.7 434.8,1202.4 437.5,1210.4 440.1,1217.8 442.8,1224.8 445.5,1231.3 448.1,1237.4 450.8,1243.1 453.5,1248.5 456.1,1253.5 458.8,1258.1 461.5,1262.2 464.1,1265.9 466.8,1269.1 469.5,1271.8 472.1,1274 474.8,1275.7 477.5,1277.1 480.1,1278.1 482.8,1278.7 485.5,1279.2 488.1,1279.5 490.8,1279.6 493.5,1279.7 496.1,1279.7 498.8,1279.7 501.5,1279.6 504.1,1279.6 506.8,1279.5 509.5,1279.4 512.1,1279.3 514.8,1279.2 517.4,1279 520.1,1278.8 522.8,1278.5 525.4,1278.2 528.1,1277.9 530.8,1277.5 533.4,1277.1 536.1,1276.6 538.8,1276.1 541.4,1275.5 544.1,1274.9 546.8,1274.3 549.4,1273.7 552.1,1273 554.8,1272.3 557.4,1271.6 560.1,1270.9 562.8,1270.2 565.4,1269.4 568.1,1268.7 570.8,1267.9 573.4,1267.2 576.1,1266.4 578.8,1265.7 581.4,1265 584.1,1264.3 586.8,1263.6 589.4,1262.9 592.1,1262.3 594.8,1261.7 597.4,1261.1 600.1,1260.5 602.7,1260 605.4,1259.5 608.1,1259 610.7,1258.6 613.4,1258.2 616.1,1257.8 618.7,1257.5 621.4,1257.2 624.1,1256.9 626.7,1256.7 629.4,1256.5 632.1,1256.3 634.7,1256.2 637.4,1256.1 640.1,1256 642.7,1255.9 645.4,1255.9 648.1,1255.9 650.7,1255.9 653.4,1255.9 656.1,1255.9 658.7,1256 661.4,1256.1 664.1,1256.2 666.7,1256.3 669.4,1256.4 672.1,1256.5 674.7,1256.6 677.4,1256.7 680,1256.8 682.7,1257 685.4,1257.1 688,1257.2 690.7,1257.3 693.4,1257.5 696,1257.6 698.7,1257.7 701.4,1257.8 704,1257.9 706.7,1258 709.4,1258.1 712,1258.2 714.7,1258.3 717.4,1258.3 720,1258.4 722.7,1258.5 725.4,1258.5 728,1258.6 730.7,1258.6 733.4,1258.7 736,1258.7 738.7,1258.8 741.4,1258.8 744,1258.8 746.7,1258.8 749.4,1258.9 752,1258.9 754.7,1258.9 757.3,1258.9 760,1258.9 762.7,1258.9 765.3,1259 768,1259 770.7,1259 773.3,1259 776,1259 778.7,1259 781.3,1259 784,1259 786.7,1259 789.3,1259 792,1259 794.7,1259 797.3,1259 800,1259 802.7,1259 805.3,1259 808,1259 810.7,1259 813.3,1259 816,1259 818.7,1259 821.3,1259 824,1259 826.7,1259 829.3,1259 832,1259 834.6,1259 837.3,1259" stroke="#000000" stroke-width="4.5" stroke-linecap="square"/>
<polyline points="197.6,1256.5 200.3,1256 202.9,1255.4 205.6,1254.8 208.2,1254.1 210.9,1253.3 213.6,1252.3 216.2,1251.3 218.9,1250.1 221.6,1248.8 224.2,1247.4 226.9,1245.7 229.6,1244 232.2,1242 234.9,1239.8 237.6,1237.4 240.2,1234.7 242.9,1231.7 245.6,1228.3 248.2,1224.5 250.9,1220.1 253.6,1215.2 256.2,1209.7 258.9,1203.4 261.6,1196.5 264.2,1188.8 266.9,1180.4 269.6,1171.3 272.2,1161.5 274.9,1151 277.6,1140 280.2,1128.4 282.9,1116.4 285.5,1104 288.2,1091.3 290.9,1078.5 293.5,1065.5 296.2,1052.4 298.9,1039.2 301.5,1025.8 304.2,1012.3 306.9,998.7 309.5,985.1 312.2,971.4 314.9,957.7 317.5,944.2 320.2,931 322.9,918.1 325.5,905.9 328.2,894.4 330.9,883.7 333.5,874 336.2,865.3 338.9,857.9 341.5,851.6 344.2,846.7 346.9,843.1 349.5,840.9 352.2,840 354.9,840.4 357.5,842.2 360.2,845.4 362.8,849.8 365.5,855.5 368.2,862.4 370.8,870.5 373.5,879.7 376.2,890 378.8,901.2 381.5,913.4 384.2,926.4 386.8,940.3 389.5,954.8 392.2,970 394.8,985.6 397.5,1001.7 400.2,1018.1 402.8,1034.7 405.5,1051.3 408.2,1067.7 410.8,1083.9 413.5,1099.7 416.2,1114.9 418.8,1129.4 421.5,1143.2 424.2,1156.2 426.8,1168.2 429.5,1179.4 432.2,1189.7 434.8,1199.2 437.5,1208 440.1,1216 442.8,1223.3 445.5,1230.1 448.1,1236.4 450.8,1242.1 453.5,1247.3 456.1,1252 458.8,1256.1 461.5,1259.8 464.1,1262.9 466.8,1265.5 469.5,1267.5 472.1,1269.1 474.8,1270.2 477.5,1270.9 480.1,1271.3 482.8,1271.4 485.5,1271.3 488.1,1271 490.8,1270.6 493.5,1270.1 496.1,1269.6 498.8,1269 501.5,1268.5 504.1,1267.9 506.8,1267.4 509.5,1266.9 512.1,1266.4 514.8,1265.9 517.4,1265.4 520.1,1264.9 522.8,1264.5 525.4,1264.1 528.1,1263.7 530.8,1263.3 533.4,1262.9 536.1,1262.5 538.8,1262.2 541.4,1261.9 544.1,1261.6 546.8,1261.3 549.4,1261 552.1,1260.8 554.8,1260.5 557.4,1260.4 560.1,1260.2 562.8,1260 565.4,1259.9 568.1,1259.7 570.8,1259.6 573.4,1259.5 576.1,1259.4 578.8,1259.4 581.4,1259.3 584.1,1259.2 586.8,1259.2 589.4,1259.2 592.1,1259.1 594.8,1259.1 597.4,1259.1 600.1,1259 602.7,1259 605.4,1259 608.1,1259 610.7,1259 613.4,1259 616.1,1259 618.7,1259 621.4,1259 624.1,1259 626.7,1259 629.4,1259 632.1,1259 634.7,1259 637.4,1258.9 640.1,1258.9 642.7,1258.9 645.4,1258.9 648.1,1258.9 650.7,1258.9 653.4,1258.9 656.1,1258.9 658.7,1258.9 661.4,1258.9 664.1,1258.9 666.7,1258.9 669.4,1258.9 672.1,1258.9 674.7,1258.9 677.4,1258.9 680,1258.9 682.7,1258.9 685.4,1258.9 688,1258.9 690.7,1258.9 693.4,1258.9 696,1258.9 698.7,1258.9 701.4,1258.9 704,1258.9 706.7,1258.9 709.4,1258.9 712,1258.9 714.7,1258.9 717.4,1258.9 720,1258.9 722.7,1258.9 725.4,1258.9 728,1258.9 730.7,1258.9 733.4,1258.9 736,1258.9 738.7,1258.9 741.4,1258.9 744,1258.9 746.7,1258.9 749.4,1258.9 752,1258.9 754.7,1258.9 757.3,1258.9 760,1258.9 762.7,1258.9 765.3,1258.9 768,1258.9 770.7,1258.9 773.3,1258.9 776,1258.9 778.7,1258.9 781.3,1258.9 784,1258.9 786.7,1258.9 789.3,1258.9 792,1258.9 794.7,1258.9 797.3,1258.9 800,1258.9 802.7,1258.9 805.3,1258.9 808,1258.9 810.7,1258.9 813.3,1258.9 816,1258.9 818.7,1258.9 821.3,1258.9 824,1258.9 826.7,1258.9 829.3,1258.9 832,1258.9 834.6,1258.9 837.3,1258.9" stroke="#000000" stroke-width="4.5" stroke-dasharray="16.65 7.2"/>
<polyline points="197.6,1257.1 200.3,1256.7 202.9,1256.3 205.6,1255.9 208.2,1255.3 210.9,1254.7 213.6,1254 216.2,1253.2 218.9,1252.3 221.6,1251.3 224.2,1250.3 226.9,1249.1 229.6,1247.8 232.2,1246.3 234.9,1244.7 237.6,1243 240.2,1241 242.9,1238.7 245.6,1236.2 248.2,1233.2 250.9,1229.9 253.6,1226 256.2,1221.6 258.9,1216.6 261.6,1210.9 264.2,1204.6 266.9,1197.7 269.6,1190.1 272.2,1181.9 274.9,1173 277.6,1163.7 280.2,1153.8 282.9,1143.6 285.5,1133 288.2,1122.1 290.9,1111.1 293.5,1099.9 296.2,1088.6 298.9,1077.1 301.5,1065.5 304.2,1053.6 306.9,1041.6 309.5,1029.5 312.2,1017.2 314.9,1004.9 317.5,992.7 320.2,980.6 322.9,968.9 325.5,957.6 328.2,946.9 330.9,936.8 333.5,927.6 336.2,919.4 338.9,912.1 341.5,905.8 344.2,900.7 346.9,896.8 349.5,894 352.2,892.4 354.9,891.9 357.5,892.7 360.2,894.5 362.8,897.5 365.5,901.6 368.2,906.8 370.8,913 373.5,920.3 376.2,928.5 378.8,937.7 381.5,947.8 384.2,958.7 386.8,970.5 389.5,983 392.2,996.2 394.8,1009.9 397.5,1024.1 400.2,1038.7 402.8,1053.5 405.5,1068.4 408.2,1083.3 410.8,1097.9 413.5,1112.2 416.2,1126 418.8,1139.2 421.5,1151.7 424.2,1163.4 426.8,1174.3 429.5,1184.4 432.2,1193.8 434.8,1202.4 437.5,1210.4 440.1,1217.8 442.8,1224.7 445.5,1231.2 448.1,1237.2 450.8,1242.9 453.5,1248.3 456.1,1253.3 458.8,1257.8 461.5,1262 464.1,1265.7 466.8,1268.9 469.5,1271.6 472.1,1273.8 474.8,1275.6 477.5,1276.9 480.1,1277.9 482.8,1278.7 485.5,1279.2 488.1,1279.5 490.8,1279.7 493.5,1279.8 496.1,1279.8 498.8,1279.8 501.5,1279.8 504.1,1279.8 506.8,1279.7 509.5,1279.7 512.1,1279.6 514.8,1279.5 517.4,1279.3 520.1,1279.1 522.8,1278.9 525.4,1278.6 528.1,1278.3 530.8,1277.9 533.4,1277.4 536.1,1277 538.8,1276.5 541.4,1275.9 544.1,1275.3 546.8,1274.7 549.4,1274 552.1,1273.4 554.8,1272.7 557.4,1271.9 560.1,1271.2 562.8,1270.5 565.4,1269.7 568.1,1268.9 570.8,1268.2 573.4,1267.4 576.1,1266.6 578.8,1265.9 581.4,1265.1 584.1,1264.4 586.8,1263.7 589.4,1263 592.1,1262.4 594.8,1261.7 597.4,1261.1 600.1,1260.6 602.7,1260 605.4,1259.5 608.1,1259 610.7,1258.6 613.4,1258.2 616.1,1257.8 618.7,1257.5 621.4,1257.2 624.1,1256.9 626.7,1256.7 629.4,1256.5 632.1,1256.3 634.7,1256.2 637.4,1256.1 640.1,1256 642.7,1255.9 645.4,1255.9 648.1,1255.9 650.7,1255.9 653.4,1255.9 656.1,1255.9 658.7,1256 661.4,1256.1 664.1,1256.2 666.7,1256.3 669.4,1256.4 672.1,1256.5 674.7,1256.6 677.4,1256.7 680,1256.8 682.7,1257 685.4,1257.1 688,1257.2 690.7,1257.3 693.4,1257.5 696,1257.6 698.7,1257.7 701.4,1257.8 704,1257.9 706.7,1258 709.4,1258.1 712,1258.2 714.7,1258.3 717.4,1258.3 720,1258.4 722.7,1258.5 725.4,1258.5 728,1258.6 730.7,1258.6 733.4,1258.7 736,1258.7 738.7,1258.8 741.4,1258.8 744,1258.8 746.7,1258.8 749.4,1258.9 752,1258.9 754.7,1258.9 757.3,1258.9 760,1258.9 762.7,1258.9 765.3,1259 768,1259 770.7,1259 773.3,1259 776,1259 778.7,1259 781.3,1259 784,1259 786.7,1259 789.3,1259 792,1259 794.7,1259 797.3,1259 800,1259 802.7,1259 805.3,1259 808,1259 810.7,1259 813.3,1259 816,1259 818.7,1259 821.3,1259 824,1259 826.7,1259 829.3,1259 832,1259 834.6,1259 837.3,1259" stroke="#17becf" stroke-width="4.5" stroke-linecap="square"/>
<polyline points="197.6,1256.5 200.3,1256 202.9,1255.5 205.6,1254.9 208.2,1254.1 210.9,1253.3 213.6,1252.4 216.2,1251.4 218.9,1250.2 221.6,1248.9 224.2,1247.4 226.9,1245.8 229.6,1244.1 232.2,1242.1 234.9,1240 237.6,1237.6 240.2,1234.9 242.9,1231.9 245.6,1228.6 248.2,1224.7 250.9,1220.4 253.6,1215.5 256.2,1210 258.9,1203.8 261.6,1197 264.2,1189.3 266.9,1181 269.6,1172 272.2,1162.2 274.9,1151.9 277.6,1140.9 280.2,1129.4 282.9,1117.4 285.5,1105.2 288.2,1092.6 290.9,1079.9 293.5,1067 296.2,1054 298.9,1040.8 301.5,1027.6 304.2,1014.2 306.9,1000.7 309.5,987.2 312.2,973.5 314.9,960 317.5,946.6 320.2,933.5 322.9,920.7 325.5,908.6 328.2,897.1 330.9,886.5 333.5,876.9 336.2,868.3 338.9,860.9 341.5,854.7 344.2,849.8 346.9,846.3 349.5,844 352.2,843.2 354.9,843.6 357.5,845.4 360.2,848.5 362.8,852.9 365.5,858.6 368.2,865.4 370.8,873.5 373.5,882.6 376.2,892.8 378.8,903.9 381.5,916 384.2,929 386.8,942.7 389.5,957.1 392.2,972.2 394.8,987.7 397.5,1003.7 400.2,1020 402.8,1036.4 405.5,1052.8 408.2,1069.2 410.8,1085.2 413.5,1100.9 416.2,1116 418.8,1130.4 421.5,1144.1 424.2,1156.9 426.8,1168.9 429.5,1180 432.2,1190.3 434.8,1199.7 437.5,1208.3 440.1,1216.3 442.8,1223.6 445.5,1230.4 448.1,1236.5 450.8,1242.2 453.5,1247.4 456.1,1252 458.8,1256.1 461.5,1259.8 464.1,1262.8 466.8,1265.4 469.5,1267.4 472.1,1269 474.8,1270.1 477.5,1270.9 480.1,1271.2 482.8,1271.3 485.5,1271.2 488.1,1270.9 490.8,1270.5 493.5,1270 496.1,1269.5 498.8,1268.9 501.5,1268.4 504.1,1267.9 506.8,1267.3 509.5,1266.8 512.1,1266.3 514.8,1265.8 517.4,1265.4 520.1,1264.9 522.8,1264.5 525.4,1264 528.1,1263.6 530.8,1263.2 533.4,1262.9 536.1,1262.5 538.8,1262.2 541.4,1261.8 544.1,1261.5 546.8,1261.3 549.4,1261 552.1,1260.8 554.8,1260.5 557.4,1260.3 560.1,1260.2 562.8,1260 565.4,1259.9 568.1,1259.7 570.8,1259.6 573.4,1259.5 576.1,1259.4 578.8,1259.4 581.4,1259.3 584.1,1259.2 586.8,1259.2 589.4,1259.1 592.1,1259.1 594.8,1259.1 597.4,1259.1 600.1,1259 602.7,1259 605.4,1259 608.1,1259 610.7,1259 613.4,1259 616.1,1259 618.7,1259 621.4,1259 624.1,1259 626.7,1259 629.4,1259 632.1,1259 634.7,1259 637.4,1258.9 640.1,1258.9 642.7,1258.9 645.4,1258.9 648.1,1258.9 650.7,1258.9 653.4,1258.9 656.1,1258.9 658.7,1258.9 661.4,1258.9 664.1,1258.9 666.7,1258.9 669.4,1258.9 672.1,1258.9 674.7,1258.9 677.4,1258.9 680,1258.9 682.7,1258.9 685.4,1258.9 688,1258.9 690.7,1258.9 693.4,1258.9 696,1258.9 698.7,1258.9 701.4,1258.9 704,1258.9 706.7,1258.9 709.4,1258.9 712,1258.9 714.7,1258.9 717.4,1258.9 720,1258.9 722.7,1258.9 725.4,1258.9 728,1258.9 730.7,1258.9 733.4,1258.9 736,1258.9 738.7,1258.9 741.4,1258.9 744,1258.9 746.7,1258.9 749.4,1258.9 752,1258.9 754.7,1258.9 757.3,1258.9 760,1258.9 762.7,1258.9 765.3,1258.9 768,1258.9 770.7,1258.9 773.3,1258.9 776,1258.9 778.7,1258.9 781.3,1258.9 784,1258.9 786.7,1258.9 789.3,1258.9 792,1258.9 794.7,1258.9 797.3,1258.9 800,1258.9 802.7,1258.9 805.3,1258.9 808,1258.9 810.7,1258.9 813.3,1258.9 816,1258.9 818.7,1258.9 821.3,1258.9 824,1258.9 826.7,1258.9 829.3,1258.9 832,1258.9 834.6,1258.9 837.3,1258.9" stroke="#17becf" stroke-width="4.5" stroke-dasharray="16.65 7.2"/>
<polyline points="197.6,1257.1 200.3,1256.7 202.9,1256.3 205.6,1255.9 208.2,1255.3 210.9,1254.7 213.6,1254 216.2,1253.2 218.9,1252.3 221.6,1251.3 224.2,1250.3 226.9,1249.1 229.6,1247.8 232.2,1246.3 234.9,1244.7 237.6,1243 240.2,1241 242.9,1238.7 245.6,1236.2 248.2,1233.2 250.9,1229.9 253.6,1226 256.2,1221.6 258.9,1216.6 261.6,1211 264.2,1204.7 266.9,1197.7 269.6,1190.1 272.2,1181.9 274.9,1173.1 277.6,1163.7 280.2,1153.8 282.9,1143.6 285.5,1133 288.2,1122.2 290.9,1111.1 293.5,1099.9 296.2,1088.6 298.9,1077.1 301.5,1065.5 304.2,1053.7 306.9,1041.7 309.5,1029.5 312.2,1017.3 314.9,1005 317.5,992.7 320.2,980.7 322.9,968.9 325.5,957.6 328.2,946.9 330.9,936.9 333.5,927.7 336.2,919.4 338.9,912.1 341.5,905.9 344.2,900.8 346.9,896.8 349.5,894.1 352.2,892.4 354.9,892 357.5,892.7 360.2,894.6 362.8,897.6 365.5,901.7 368.2,906.9 370.8,913.1 373.5,920.4 376.2,928.6 378.8,937.8 381.5,947.9 384.2,958.9 386.8,970.6 389.5,983.1 392.2,996.3 394.8,1010 397.5,1024.3 400.2,1038.8 402.8,1053.7 405.5,1068.6 408.2,1083.4 410.8,1098.1 413.5,1112.4 416.2,1126.2 418.8,1139.4 421.5,1151.8 424.2,1163.6 426.8,1174.5 429.5,1184.6 432.2,1193.9 434.8,1202.5 437.5,1210.5 440.1,1217.9 442.8,1224.8 445.5,1231.3 448.1,1237.4 450.8,1243 453.5,1248.4 456.1,1253.4 458.8,1257.9 461.5,1262.1 464.1,1265.8 466.8,1269 469.5,1271.6 472.1,1273.9 474.8,1275.6 477.5,1277 480.1,1278 482.8,1278.7 485.5,1279.2 488.1,1279.5 490.8,1279.7 493.5,1279.8 496.1,1279.8 498.8,1279.8 501.5,1279.8 504.1,1279.8 506.8,1279.8 509.5,1279.7 512.1,1279.6 514.8,1279.5 517.4,1279.3 520.1,1279.1 522.8,1278.9 525.4,1278.6 528.1,1278.3 530.8,1277.9 533.4,1277.4 536.1,1277 538.8,1276.5 541.4,1275.9 544.1,1275.3 546.8,1274.7 549.4,1274 552.1,1273.4 554.8,1272.7 557.4,1271.9 560.1,1271.2 562.8,1270.5 565.4,1269.7 568.1,1268.9 570.8,1268.2 573.4,1267.4 576.1,1266.6 578.8,1265.9 581.4,1265.1 584.1,1264.4 586.8,1263.7 589.4,1263 592.1,1262.4 594.8,1261.7 597.4,1261.1 600.1,1260.6 602.7,1260 605.4,1259.5 608.1,1259 610.7,1258.6 613.4,1258.2 616.1,1257.8 618.7,1257.5 621.4,1257.2 624.1,1256.9 626.7,1256.7 629.4,1256.5 632.1,1256.3 634.7,1256.2 637.4,1256.1 640.1,1256 642.7,1255.9 645.4,1255.9 648.1,1255.9 650.7,1255.9 653.4,1255.9 656.1,1255.9 658.7,1256 661.4,1256.1 664.1,1256.2 666.7,1256.3 669.4,1256.4 672.1,1256.5 674.7,1256.6 677.4,1256.7 680,1256.8 682.7,1257 685.4,1257.1 688,1257.2 690.7,1257.3 693.4,1257.5 696,1257.6 698.7,1257.7 701.4,1257.8 704,1257.9 706.7,1258 709.4,1258.1 712,1258.2 714.7,1258.3 717.4,1258.3 720,1258.4 722.7,1258.5 725.4,1258.5 728,1258.6 730.7,1258.6 733.4,1258.7 736,1258.7 738.7,1258.8 741.4,1258.8 744,1258.8 746.7,1258.8 749.4,1258.9 752,1258.9 754.7,1258.9 757.3,1258.9 760,1258.9 762.7,1258.9 765.3,1259 768,1259 770.7,1259 773.3,1259 776,1259 778.7,1259 781.3,1259 784,1259 786.7,1259 789.3,1259 792,1259 794.7,1259 797.3,1259 800,1259 802.7,1259 805.3,1259 808,1259 810.7,1259 813.3,1259 816,1259 818.7,1259 821.3,1259 824,1259 826.7,1259 829.3,1259 832,1259 834.6,1259 837.3,1259" stroke="#1f77b4" stroke-width="4.5" stroke-linecap="square"/>
<polyline points="197.6,1256.5 200.3,1256 202.9,1255.5 205.6,1254.9 208.2,1254.1 210.9,1253.3 213.6,1252.4 216.2,1251.4 218.9,1250.2 221.6,1248.9 224.2,1247.4 226.9,1245.9 229.6,1244.1 232.2,1242.1 234.9,1240 237.6,1237.6 240.2,1234.9 242.9,1231.9 245.6,1228.6 248.2,1224.8 250.9,1220.4 253.6,1215.6 256.2,1210.1 258.9,1203.9 261.6,1197 264.2,1189.4 266.9,1181.1 269.6,1172 272.2,1162.3 274.9,1151.9 277.6,1140.9 280.2,1129.4 282.9,1117.5 285.5,1105.2 288.2,1092.7 290.9,1080 293.5,1067.1 296.2,1054.1 298.9,1040.9 301.5,1027.7 304.2,1014.3 306.9,1000.9 309.5,987.3 312.2,973.7 314.9,960.2 317.5,946.8 320.2,933.6 322.9,920.9 325.5,908.8 328.2,897.3 330.9,886.7 333.5,877.1 336.2,868.5 338.9,861.1 341.5,855 344.2,850.1 346.9,846.5 349.5,844.3 352.2,843.4 354.9,843.8 357.5,845.6 360.2,848.8 362.8,853.2 365.5,858.8 368.2,865.7 370.8,873.7 373.5,882.8 376.2,893 378.8,904.1 381.5,916.2 384.2,929.1 386.8,942.9 389.5,957.3 392.2,972.3 394.8,987.9 397.5,1003.8 400.2,1020.1 402.8,1036.5 405.5,1053 408.2,1069.3 410.8,1085.3 413.5,1101 416.2,1116.1 418.8,1130.5 421.5,1144.2 424.2,1157 426.8,1169 429.5,1180.1 432.2,1190.3 434.8,1199.7 437.5,1208.4 440.1,1216.3 442.8,1223.6 445.5,1230.4 448.1,1236.6 450.8,1242.2 453.5,1247.4 456.1,1252 458.8,1256.2 461.5,1259.8 464.1,1262.8 466.8,1265.4 469.5,1267.4 472.1,1269 474.8,1270.1 477.5,1270.8 480.1,1271.2 482.8,1271.3 485.5,1271.2 488.1,1270.9 490.8,1270.5 493.5,1270 496.1,1269.5 498.8,1268.9 501.5,1268.4 504.1,1267.8 506.8,1267.3 509.5,1266.8 512.1,1266.3 514.8,1265.8 517.4,1265.4 520.1,1264.9 522.8,1264.5 525.4,1264 528.1,1263.6 530.8,1263.2 533.4,1262.9 536.1,1262.5 538.8,1262.2 541.4,1261.8 544.1,1261.5 546.8,1261.3 549.4,1261 552.1,1260.8 554.8,1260.5 557.4,1260.3 560.1,1260.2 562.8,1260 565.4,1259.9 568.1,1259.7 570.8,1259.6 573.4,1259.5 576.1,1259.4 578.8,1259.4 581.4,1259.3 584.1,1259.2 586.8,1259.2 589.4,1259.1 592.1,1259.1 594.8,1259.1 597.4,1259.1 600.1,1259 602.7,1259 605.4,1259 608.1,1259 610.7,1259 613.4,1259 616.1,1259 618.7,1259 621.4,1259 624.1,1259 626.7,1259 629.4,1259 632.1,1259 634.7,1259 637.4,1258.9 640.1,1258.9 642.7,1258.9 645.4,1258.9 648.1,1258.9 650.7,1258.9 653.4,1258.9 656.1,1258.9 658.7,1258.9 661.4,1258.9 664.1,1258.9 666.7,1258.9 669.4,1258.9 672.1,1258.9 674.7,1258.9 677.4,1258.9 680,1258.9 682.7,1258.9 685.4,1258.9 688,1258.9 690.7,1258.9 693.4,1258.9 696,1258.9 698.7,1258.9 701.4,1258.9 704,1258.9 706.7,1258.9 709.4,1258.9 712,1258.9 714.7,1258.9 717.4,1258.9 720,1258.9 722.7,1258.9 725.4,1258.9 728,1258.9 730.7,1258.9 733.4,1258.9 736,1258.9 738.7,1258.9 741.4,1258.9 744,1258.9 746.7,1258.9 749.4,1258.9 752,1258.9 754.7,1258.9 757.3,1258.9 760,1258.9 762.7,1258.9 765.3,1258.9 768,1258.9 770.7,1258.9 773.3,1258.9 776,1258.9 778.7,1258.9 781.3,1258.9 784,1258.9 786.7,1258.9 789.3,1258.9 792,1258.9 794.7,1258.9 797.3,1258.9 800,1258.9 802.7,1258.9 805.3,1258.9 808,1258.9 810.7,1258.9 813.3,1258.9 816,1258.9 818.7,1258.9 821.3,1258.9 824,1258.9 826.7,1258.9 829.3,1258.9 832,1258.9 834.6,1258.9 837.3,1258.9" stroke="#1f77b4" stroke-width="4.5" stroke-dasharray="16.65 7.2"/>
<polyline points="197.6,1257.1 200.3,1256.7 202.9,1256.3 205.6,1255.8 208.2,1255.3 210.9,1254.7 213.6,1254 216.2,1253.2 218.9,1252.3 221.6,1251.3 224.2,1250.2 226.9,1249.1 229.6,1247.8 232.2,1246.3 234.9,1244.7 237.6,1242.9 240.2,1241 242.9,1238.7 245.6,1236.1 248.2,1233.2 250.9,1229.9 253.6,1226 256.2,1221.6 258.9,1216.6 261.6,1210.9 264.2,1204.6 266.9,1197.7 269.6,1190.1 272.2,1181.9 274.9,1173.1 277.6,1163.7 280.2,1153.8 282.9,1143.6 285.5,1133 288.2,1122.2 290.9,1111.2 293.5,1100 296.2,1088.7 298.9,1077.2 301.5,1065.5 304.2,1053.7 306.9,1041.8 309.5,1029.6 312.2,1017.4 314.9,1005.1 317.5,992.9 320.2,980.8 322.9,969 325.5,957.7 328.2,947 330.9,937 333.5,927.8 336.2,919.5 338.9,912.2 341.5,906 344.2,900.9 346.9,896.9 349.5,894.2 352.2,892.5 354.9,892.1 357.5,892.8 360.2,894.7 362.8,897.7 365.5,901.8 368.2,906.9 370.8,913.2 373.5,920.4 376.2,928.7 378.8,937.8 381.5,947.9 384.2,958.9 386.8,970.6 389.5,983.1 392.2,996.3 394.8,1010 397.5,1024.3 400.2,1038.9 402.8,1053.7 405.5,1068.6 408.2,1083.4 410.8,1098.1 413.5,1112.4 416.2,1126.2 418.8,1139.4 421.5,1151.9 424.2,1163.6 426.8,1174.5 429.5,1184.6 432.2,1194 434.8,1202.6 437.5,1210.6 440.1,1218 442.8,1224.9 445.5,1231.4 448.1,1237.4 450.8,1243.1 453.5,1248.5 456.1,1253.5 458.8,1258 461.5,1262.2 464.1,1265.9 466.8,1269 469.5,1271.7 472.1,1274 474.8,1275.7 477.5,1277.1 480.1,1278.1 482.8,1278.8 485.5,1279.3 488.1,1279.6 490.8,1279.8 493.5,1279.8 496.1,1279.9 498.8,1279.9 501.5,1279.9 504.1,1279.8 506.8,1279.8 509.5,1279.7 512.1,1279.6 514.8,1279.5 517.4,1279.3 520.1,1279.1 522.8,1278.9 525.4,1278.6 528.1,1278.3 530.8,1277.9 533.4,1277.4 536.1,1277 538.8,1276.5 541.4,1275.9 544.1,1275.3 546.8,1274.7 549.4,1274 552.1,1273.4 554.8,1272.7 557.4,1271.9 560.1,1271.2 562.8,1270.5 565.4,1269.7 568.1,1268.9 570.8,1268.2 573.4,1267.4 576.1,1266.6 578.8,1265.9 581.4,1265.1 584.1,1264.4 586.8,1263.7 589.4,1263 592.1,1262.4 594.8,1261.7 597.4,1261.1 600.1,1260.6 602.7,1260 605.4,1259.5 608.1,1259 610.7,1258.6 613.4,1258.2 616.1,1257.8 618.7,1257.5 621.4,1257.2 624.1,1256.9 626.7,1256.7 629.4,1256.5 632.1,1256.3 634.7,1256.2 637.4,1256.1 640.1,1256 642.7,1255.9 645.4,1255.9 648.1,1255.9 650.7,1255.9 653.4,1255.9 656.1,1255.9 658.7,1256 661.4,1256.1 664.1,1256.2 666.7,1256.3 669.4,1256.4 672.1,1256.5 674.7,1256.6 677.4,1256.7 680,1256.8 682.7,1257 685.4,1257.1 688,1257.2 690.7,1257.3 693.4,1257.5 696,1257.6 698.7,1257.7 701.4,1257.8 704,1257.9 706.7,1258 709.4,1258.1 712,1258.2 714.7,1258.3 717.4,1258.3 720,1258.4 722.7,1258.5 725.4,1258.5 728,1258.6 730.7,1258.6 733.4,1258.7 736,1258.7 738.7,1258.8 741.4,1258.8 744,1258.8 746.7,1258.8 749.4,1258.9 752,1258.9 754.7,1258.9 757.3,1258.9 760,1258.9 762.7,1258.9 765.3,1259 768,1259 770.7,1259 773.3,1259 776,1259 778.7,1259 781.3,1259 784,1259 786.7,1259 789.3,1259 792,1259 794.7,1259 797.3,1259 800,1259 802.7,1259 805.3,1259 808,1259 810.7,1259 813.3,1259 816,1259 818.7,1259 821.3,1259 824,1259 826.7,1259 829.3,1259 832,1259 834.6,1259 837.3,1259" stroke="#9467bd" stroke-width="4.5" stroke-linecap="square"/>
<polyline points="197.6,1256.5 200.3,1256 202.9,1255.5 205.6,1254.8 208.2,1254.1 210.9,1253.3 213.6,1252.4 216.2,1251.3 218.9,1250.2 221.6,1248.9 224.2,1247.4 226.9,1245.8 229.6,1244.1 232.2,1242.1 234.9,1240 237.6,1237.6 240.2,1234.9 242.9,1231.9 245.6,1228.5 248.2,1224.7 250.9,1220.4 253.6,1215.5 256.2,1210 258.9,1203.8 261.6,1196.9 264.2,1189.3 266.9,1181 269.6,1171.9 272.2,1162.2 274.9,1151.8 277.6,1140.8 280.2,1129.3 282.9,1117.4 285.5,1105.1 288.2,1092.5 290.9,1079.8 293.5,1066.9 296.2,1053.8 298.9,1040.7 301.5,1027.5 304.2,1014.1 306.9,1000.6 309.5,987 312.2,973.4 314.9,959.8 317.5,946.4 320.2,933.3 322.9,920.6 325.5,908.4 328.2,896.9 330.9,886.3 333.5,876.7 336.2,868.1 338.9,860.7 341.5,854.5 344.2,849.6 346.9,846 349.5,843.8 352.2,842.9 354.9,843.4 357.5,845.2 360.2,848.3 362.8,852.7 365.5,858.4 368.2,865.2 370.8,873.3 373.5,882.4 376.2,892.6 378.8,903.7 381.5,915.8 384.2,928.8 386.8,942.5 389.5,957 392.2,972 394.8,987.6 397.5,1003.6 400.2,1019.8 402.8,1036.3 405.5,1052.7 408.2,1069.1 410.8,1085.1 413.5,1100.8 416.2,1115.9 418.8,1130.3 421.5,1144 424.2,1156.9 426.8,1168.9 429.5,1180 432.2,1190.2 434.8,1199.6 437.5,1208.3 440.1,1216.3 442.8,1223.6 445.5,1230.3 448.1,1236.5 450.8,1242.2 453.5,1247.4 456.1,1252 458.8,1256.1 461.5,1259.8 464.1,1262.8 466.8,1265.4 469.5,1267.5 472.1,1269 474.8,1270.1 477.5,1270.9 480.1,1271.2 482.8,1271.3 485.5,1271.2 488.1,1270.9 490.8,1270.5 493.5,1270 496.1,1269.5 498.8,1269 501.5,1268.4 504.1,1267.9 506.8,1267.3 509.5,1266.8 512.1,1266.3 514.8,1265.8 517.4,1265.4 520.1,1264.9 522.8,1264.5 525.4,1264 528.1,1263.6 530.8,1263.2 533.4,1262.9 536.1,1262.5 538.8,1262.2 541.4,1261.8 544.1,1261.5 546.8,1261.3 549.4,1261 552.1,1260.8 554.8,1260.5 557.4,1260.3 560.1,1260.2 562.8,1260 565.4,1259.9 568.1,1259.7 570.8,1259.6 573.4,1259.5 576.1,1259.4 578.8,1259.4 581.4,1259.3 584.1,1259.2 586.8,1259.2 589.4,1259.1 592.1,1259.1 594.8,1259.1 597.4,1259.1 600.1,1259 602.7,1259 605.4,1259 608.1,1259 610.7,1259 613.4,1259 616.1,1259 618.7,1259 621.4,1259 624.1,1259 626.7,1259 629.4,1259 632.1,1259 634.7,1259 637.4,1258.9 640.1,1258.9 642.7,1258.9 645.4,1258.9 648.1,1258.9 650.7,1258.9 653.4,1258.9 656.1,1258.9 658.7,1258.9 661.4,1258.9 664.1,1258.9 666.7,1258.9 669.4,1258.9 672.1,1258.9 674.7,1258.9 677.4,1258.9 680,1258.9 682.7,1258.9 685.4,1258.9 688,1258.9 690.7,1258.9 693.4,1258.9 696,1258.9 698.7,1258.9 701.4,1258.9 704,1258.9 706.7,1258.9 709.4,1258.9 712,1258.9 714.7,1258.9 717.4,1258.9 720,1258.9 722.7,1258.9 725.4,1258.9 728,1258.9 730.7,1258.9 733.4,1258.9 736,1258.9 738.7,1258.9 741.4,1258.9 744,1258.9 746.7,1258.9 749.4,1258.9 752,1258.9 754.7,1258.9 757.3,1258.9 760,1258.9 762.7,1258.9 765.3,1258.9 768,1258.9 770.7,1258.9 773.3,1258.9 776,1258.9 778.7,1258.9 781.3,1258.9 784,1258.9 786.7,1258.9 789.3,1258.9 792,1258.9 794.7,1258.9 797.3,1258.9 800,1258.9 802.7,1258.9 805.3,1258.9 808,1258.9 810.7,1258.9 813.3,1258.9 816,1258.9 818.7,1258.9 821.3,1258.9 824,1258.9 826.7,1258.9 829.3,1258.9 832,1258.9 834.6,1258.9 837.3,1258.9" stroke="#9467bd" stroke-width="4.5" stroke-dasharray="16.65 7.2"/>
<polyline points="197.6,1257.1 200.3,1256.7 202.9,1256.3 205.6,1255.9 208.2,1255.3 210.9,1254.7 213.6,1254 216.2,1253.2 218.9,1252.3 221.6,1251.3 224.2,1250.3 226.9,1249.1 229.6,1247.8 232.2,1246.3 234.9,1244.8 237.6,1243 240.2,1241 242.9,1238.8 245.6,1236.2 248.2,1233.3 250.9,1229.9 253.6,1226.1 256.2,1221.7 258.9,1216.7 261.6,1211.1 264.2,1204.8 266.9,1197.8 269.6,1190.3 272.2,1182.1 274.9,1173.3 277.6,1163.9 280.2,1154.1 282.9,1143.8 285.5,1133.3 288.2,1122.5 290.9,1111.5 293.5,1100.3 296.2,1089 298.9,1077.6 301.5,1066 304.2,1054.2 306.9,1042.2 309.5,1030.1 312.2,1017.9 314.9,1005.6 317.5,993.4 320.2,981.4 322.9,969.6 325.5,958.3 328.2,947.6 330.9,937.6 333.5,928.5 336.2,920.2 338.9,912.9 341.5,906.7 344.2,901.6 346.9,897.7 349.5,894.9 352.2,893.3 354.9,892.8 357.5,893.5 360.2,895.4 362.8,898.3 365.5,902.4 368.2,907.6 370.8,913.8 373.5,921 376.2,929.2 378.8,938.4 381.5,948.4 384.2,959.3 386.8,971.1 389.5,983.5 392.2,996.6 394.8,1010.3 397.5,1024.5 400.2,1039.1 402.8,1053.8 405.5,1068.7 408.2,1083.5 410.8,1098.1 413.5,1112.4 416.2,1126.2 418.8,1139.3 421.5,1151.8 424.2,1163.5 426.8,1174.4 429.5,1184.4 432.2,1193.8 434.8,1202.4 437.5,1210.3 440.1,1217.7 442.8,1224.6 445.5,1231.1 448.1,1237.1 450.8,1242.8 453.5,1248.1 456.1,1253.1 458.8,1257.7 461.5,1261.8 464.1,1265.5 466.8,1268.7 469.5,1271.4 472.1,1273.7 474.8,1275.4 477.5,1276.8 480.1,1277.8 482.8,1278.6 485.5,1279.1 488.1,1279.4 490.8,1279.6 493.5,1279.7 496.1,1279.7 498.8,1279.8 501.5,1279.8 504.1,1279.7 506.8,1279.7 509.5,1279.6 512.1,1279.6 514.8,1279.5 517.4,1279.3 520.1,1279.1 522.8,1278.9 525.4,1278.6 528.1,1278.3 530.8,1277.9 533.4,1277.4 536.1,1277 538.8,1276.4 541.4,1275.9 544.1,1275.3 546.8,1274.7 549.4,1274 552.1,1273.4 554.8,1272.7 557.4,1271.9 560.1,1271.2 562.8,1270.5 565.4,1269.7 568.1,1268.9 570.8,1268.2 573.4,1267.4 576.1,1266.6 578.8,1265.9 581.4,1265.1 584.1,1264.4 586.8,1263.7 589.4,1263 592.1,1262.4 594.8,1261.7 597.4,1261.1 600.1,1260.6 602.7,1260 605.4,1259.5 608.1,1259 610.7,1258.6 613.4,1258.2 616.1,1257.8 618.7,1257.5 621.4,1257.2 624.1,1256.9 626.7,1256.7 629.4,1256.5 632.1,1256.3 634.7,1256.2 637.4,1256.1 640.1,1256 642.7,1255.9 645.4,1255.9 648.1,1255.9 650.7,1255.9 653.4,1255.9 656.1,1255.9 658.7,1256 661.4,1256.1 664.1,1256.2 666.7,1256.3 669.4,1256.4 672.1,1256.5 674.7,1256.6 677.4,1256.7 680,1256.8 682.7,1257 685.4,1257.1 688,1257.2 690.7,1257.3 693.4,1257.5 696,1257.6 698.7,1257.7 701.4,1257.8 704,1257.9 706.7,1258 709.4,1258.1 712,1258.2 714.7,1258.3 717.4,1258.3 720,1258.4 722.7,1258.5 725.4,1258.5 728,1258.6 730.7,1258.6 733.4,1258.7 736,1258.7 738.7,1258.8 741.4,1258.8 744,1258.8 746.7,1258.8 749.4,1258.9 752,1258.9 754.7,1258.9 757.3,1258.9 760,1258.9 762.7,1258.9 765.3,1259 768,1259 770.7,1259 773.3,1259 776,1259 778.7,1259 781.3,1259 784,1259 786.7,1259 789.3,1259 792,1259 794.7,1259 797.3,1259 800,1259 802.7,1259 805.3,1259 808,1259 810.7,1259 813.3,1259 816,1259 818.7,1259 821.3,1259 824,1259 826.7,1259 829.3,1259 832,1259 834.6,1259 837.3,1259" stroke="#ff7f0e" stroke-width="4.5" stroke-linecap="square"/>
<polyline points="197.6,1256.5 200.3,1256 202.9,1255.5 205.6,1254.9 208.2,1254.1 210.9,1253.3 213.6,1252.4 216.2,1251.4 218.9,1250.2 221.6,1248.9 224.2,1247.5 226.9,1245.9 229.6,1244.1 232.2,1242.2 234.9,1240 237.6,1237.6 240.2,1235 242.9,1232 245.6,1228.6 248.2,1224.8 250.9,1220.5 253.6,1215.6 256.2,1210.1 258.9,1203.9 261.6,1197.1 264.2,1189.5 266.9,1181.1 269.6,1172.1 272.2,1162.4 274.9,1152 277.6,1141.1 280.2,1129.6 282.9,1117.7 285.5,1105.4 288.2,1092.9 290.9,1080.2 293.5,1067.3 296.2,1054.3 298.9,1041.2 301.5,1028 304.2,1014.6 306.9,1001.1 309.5,987.6 312.2,974 314.9,960.5 317.5,947.1 320.2,934 322.9,921.3 325.5,909.2 328.2,897.7 330.9,887.2 333.5,877.5 336.2,869 338.9,861.6 341.5,855.4 344.2,850.5 346.9,847 349.5,844.7 352.2,843.8 354.9,844.3 357.5,846.1 360.2,849.2 362.8,853.6 365.5,859.2 368.2,866.1 370.8,874.1 373.5,883.2 376.2,893.4 378.8,904.5 381.5,916.6 384.2,929.5 386.8,943.2 389.5,957.6 392.2,972.6 394.8,988.2 397.5,1004.1 400.2,1020.4 402.8,1036.8 405.5,1053.2 408.2,1069.5 410.8,1085.5 413.5,1101.1 416.2,1116.2 418.8,1130.6 421.5,1144.3 424.2,1157.1 426.8,1169.1 429.5,1180.1 432.2,1190.4 434.8,1199.8 437.5,1208.4 440.1,1216.4 442.8,1223.7 445.5,1230.4 448.1,1236.6 450.8,1242.2 453.5,1247.4 456.1,1252 458.8,1256.2 461.5,1259.8 464.1,1262.8 466.8,1265.4 469.5,1267.4 472.1,1269 474.8,1270.1 477.5,1270.8 480.1,1271.2 482.8,1271.3 485.5,1271.2 488.1,1270.9 490.8,1270.5 493.5,1270 496.1,1269.5 498.8,1268.9 501.5,1268.4 504.1,1267.8 506.8,1267.3 509.5,1266.8 512.1,1266.3 514.8,1265.8 517.4,1265.3 520.1,1264.9 522.8,1264.5 525.4,1264 528.1,1263.6 530.8,1263.2 533.4,1262.9 536.1,1262.5 538.8,1262.2 541.4,1261.8 544.1,1261.5 546.8,1261.2 549.4,1261 552.1,1260.8 554.8,1260.5 557.4,1260.3 560.1,1260.2 562.8,1260 565.4,1259.9 568.1,1259.7 570.8,1259.6 573.4,1259.5 576.1,1259.4 578.8,1259.4 581.4,1259.3 584.1,1259.2 586.8,1259.2 589.4,1259.1 592.1,1259.1 594.8,1259.1 597.4,1259.1 600.1,1259 602.7,1259 605.4,1259 608.1,1259 610.7,1259 613.4,1259 616.1,1259 618.7,1259 621.4,1259 624.1,1259 626.7,1259 629.4,1259 632.1,1259 634.7,1259 637.4,1258.9 640.1,1258.9 642.7,1258.9 645.4,1258.9 648.1,1258.9 650.7,1258.9 653.4,1258.9 656.1,1258.9 658.7,1258.9 661.4,1258.9 664.1,1258.9 666.7,1258.9 669.4,1258.9 672.1,1258.9 674.7,1258.9 677.4,1258.9 680,1258.9 682.7,1258.9 685.4,1258.9 688,1258.9 690.7,1258.9 693.4,1258.9 696,1258.9 698.7,1258.9 701.4,1258.9 704,1258.9 706.7,1258.9 709.4,1258.9 712,1258.9 714.7,1258.9 717.4,1258.9 720,1258.9 722.7,1258.9 725.4,1258.9 728,1258.9 730.7,1258.9 733.4,1258.9 736,1258.9 738.7,1258.9 741.4,1258.9 744,1258.9 746.7,1258.9 749.4,1258.9 752,1258.9 754.7,1258.9 757.3,1258.9 760,1258.9 762.7,1258.9 765.3,1258.9 768,1258.9 770.7,1258.9 773.3,1258.9 776,1258.9 778.7,1258.9 781.3,1258.9 784,1258.9 786.7,1258.9 789.3,1258.9 792,1258.9 794.7,1258.9 797.3,1258.9 800,1258.9 802.7,1258.9 805.3,1258.9 808,1258.9 810.7,1258.9 813.3,1258.9 816,1258.9 818.7,1258.9 821.3,1258.9 824,1258.9 826.7,1258.9 829.3,1258.9 832,1258.9 834.6,1258.9 837.3,1258.9" stroke="#ff7f0e" stroke-width="4.5" stroke-dasharray="16.65 7.2"/>
<path d="M165.6 1258.95H869.3" stroke="#000" stroke-width="1.5"/>
</g>
<path d="M197.59 1327.3v11.03M410.83 1327.3v11.03M624.07 1327.3v11.03M837.31 1327.3v11.03M165.6 1258.95h-11.03M165.6 1145.02h-11.03M165.6 1031.1h-11.03M165.6 917.17h-11.03M165.6 803.25h-11.03" fill="none" stroke="#000" stroke-width="2.5"/>
<path d="M176.92 1327.3v6.3M187.83 1327.3v6.3M261.78 1327.3v6.3M299.33 1327.3v6.3M325.97 1327.3v6.3M346.64 1327.3v6.3M363.52 1327.3v6.3M377.8 1327.3v6.3M390.16 1327.3v6.3M401.07 1327.3v6.3M475.02 1327.3v6.3M512.57 1327.3v6.3M539.21 1327.3v6.3M559.88 1327.3v6.3M576.76 1327.3v6.3M591.04 1327.3v6.3M603.41 1327.3v6.3M614.31 1327.3v6.3M688.26 1327.3v6.3M725.81 1327.3v6.3M752.46 1327.3v6.3M773.12 1327.3v6.3M790.01 1327.3v6.3M804.28 1327.3v6.3M816.65 1327.3v6.3M827.56 1327.3v6.3M165.6 1327.3h-6.3M165.6 1304.52h-6.3M165.6 1281.73h-6.3M165.6 1236.16h-6.3M165.6 1213.38h-6.3M165.6 1190.59h-6.3M165.6 1167.81h-6.3M165.6 1122.24h-6.3M165.6 1099.45h-6.3M165.6 1076.67h-6.3M165.6 1053.88h-6.3M165.6 1008.31h-6.3M165.6 985.53h-6.3M165.6 962.74h-6.3M165.6 939.96h-6.3M165.6 894.39h-6.3M165.6 871.6h-6.3M165.6 848.82h-6.3M165.6 826.03h-6.3" fill="none" stroke="#000" stroke-width="2"/>
<rect x="165.6" y="803.25" width="703.7" height="524.05" fill="none" stroke="#000" stroke-width="2.5"/>
<g font-size="40.95" text-anchor="middle">
<text x="197.59" y="1382.3">1</text>
<text x="410.83" y="1382.3">10</text>
<text x="624.07" y="1382.3">100</text>
<text x="837.31" y="1382.3">1000</text>
</g>
<g font-size="40.95" text-anchor="end">
<text x="143.6" y="1275.71">0.0</text>
<text x="143.6" y="1161.78">0.5</text>
<text x="143.6" y="1047.86">1.0</text>
<text x="143.6" y="933.93">1.5</text>
<text x="143.6" y="820.01">2.0</text>
</g>
<g transform="translate(517.45 1430.30)" fill="#000">
<text x="-139.50 -110.43 -99.94 -76.81 -40.04 -16.81 -2.01 21.21 36.73 48.73" y="-0.00" font-size="37.80">Diameter [</text>
<text x="63.46 87.39" y="-0.00" font-size="37.80" font-style="italic">nm</text>
<text x="124.16" y="-0.00" font-size="37.80">]</text>
</g>
<g transform="translate(517.45 784.35)" fill="#000">
<text x="-341.00 -326.27 -305.52 -290.79 -278.79 -267.66 -243.73 -233.24 -218.44 -207.95 -184.82 -174.33 -162.33 -142.67 -119.57 -96.47 -81.67 -69.67 -50.00 -39.52 -19.70 3.52 15.52 39.45 63.37 100.15 124.11 147.34 162.86 174.86 194.52 205.01 224.83 248.05 260.05 284.01 294.50 314.17 328.97" y="-0.00" font-size="37.80">(c) Initial soot size number size dist.</text>
</g>
<g transform="translate(52.90 1067.08) rotate(-90)" fill="#000">
<text transform="translate(-145.63 -0.76) skewX(-10) scale(1.06 0.93)" font-size="37.80">ℰ</text>
<text x="-123.26 -106.49" y="6.23" font-size="26.46" font-style="italic">dN</text>
<text x="-86.72" y="6.23" font-size="26.46">/</text>
<text x="-77.82" y="6.23" font-size="26.46" font-style="italic">d</text>
<text x="-61.04" y="6.23" font-size="26.46">(</text>
<text x="-50.73 -43.39 -26.64" y="6.23" font-size="26.46" font-style="italic">lnD</text>
<text x="-6.30" y="6.23" font-size="26.46">)</text>
<text x="5.05 17.05 31.78 52.53" y="-0.00" font-size="37.80"> [cm</text>
<text x="89.67 111.81" y="-14.55" font-size="26.46">−3</text>
<text x="129.66" y="-0.00" font-size="37.80">]</text>
</g>
<rect x="514.75" y="819.65" width="338.45" height="239.7" rx="4.73" ry="4.73" fill="#fff" fill-opacity="0.8" stroke="#ccc" stroke-opacity="0.8" stroke-width="2.6"/>
<g font-size="31.5">
<path d="M527.35 844.45h63" stroke="#000000" stroke-width="4.7" stroke-linecap="square" fill="none"/>
<text x="615.55" y="856.45">25(ki); 150(ai)</text>
<path d="M527.35 890.75h63" stroke="#17becf" stroke-width="4.7" stroke-linecap="square" fill="none"/>
<text x="615.55" y="902.75">26.3(ki)</text>
<path d="M527.35 937.05h63" stroke="#1f77b4" stroke-width="4.7" stroke-linecap="square" fill="none"/>
<text x="615.55" y="949.05">28(ki)</text>
<path d="M527.35 983.35h63" stroke="#9467bd" stroke-width="4.7" stroke-linecap="square" fill="none"/>
<text x="615.55" y="995.35">27(ki)</text>
<path d="M527.35 1029.65h63" stroke="#ff7f0e" stroke-width="4.7" stroke-linecap="square" fill="none"/>
<text x="615.55" y="1041.65">32.5(ki)</text>
</g>
</g>
<g id="panel-d">
<rect x="1151.5" y="803.25" width="703.6" height="524.05" fill="#fff"/>
<path d="M1162.82 803.25V1327.3M1173.73 803.25V1327.3M1247.67 803.25V1327.3M1285.21 803.25V1327.3M1311.85 803.25V1327.3M1332.51 803.25V1327.3M1349.39 803.25V1327.3M1363.67 803.25V1327.3M1376.03 803.25V1327.3M1386.94 803.25V1327.3M1460.88 803.25V1327.3M1498.42 803.25V1327.3M1525.06 803.25V1327.3M1545.72 803.25V1327.3M1562.61 803.25V1327.3M1576.88 803.25V1327.3M1589.24 803.25V1327.3M1600.15 803.25V1327.3M1674.09 803.25V1327.3M1711.63 803.25V1327.3M1738.27 803.25V1327.3M1758.93 803.25V1327.3M1775.82 803.25V1327.3M1790.09 803.25V1327.3M1802.46 803.25V1327.3M1813.36 803.25V1327.3M1151.5 1297.35H1855.1M1151.5 1267.41H1855.1M1151.5 1237.46H1855.1M1151.5 1207.52H1855.1M1151.5 1147.63H1855.1M1151.5 1117.68H1855.1M1151.5 1087.73H1855.1M1151.5 1057.79H1855.1M1151.5 997.9H1855.1M1151.5 967.95H1855.1M1151.5 938.01H1855.1M1151.5 908.06H1855.1M1151.5 848.17H1855.1M1151.5 818.22H1855.1" fill="none" stroke="#ebebeb" stroke-width="1.57" stroke-dasharray="1.57 2.6"/>
<path d="M1183.48 803.25V1327.3M1396.69 803.25V1327.3M1609.91 803.25V1327.3M1823.12 803.25V1327.3M1151.5 1177.57H1855.1M1151.5 1027.84H1855.1M1151.5 878.11H1855.1" fill="none" stroke="#e1e1e1" stroke-width="2.2"/>
<clipPath id="clip-d"><rect x="1151.5" y="803.25" width="703.6" height="524.05"/></clipPath>
<g clip-path="url(#clip-d)" fill="none" stroke-linejoin="round">
<polyline points="1183.5,882.2 1186.1,882.9 1188.8,883.7 1191.5,884.7 1194.1,885.8 1196.8,887.1 1199.5,888.5 1202.1,890.2 1204.8,892.1 1207.5,894.2 1210.1,896.6 1212.8,899.3 1215.5,902.3 1218.1,905.6 1220.8,909.3 1223.5,913.4 1226.1,917.9 1228.8,922.9 1231.5,928.3 1234.1,934.1 1236.8,940.5 1239.5,947.3 1242.1,954.6 1244.8,962.5 1247.4,970.8 1250.1,979.6 1252.8,988.9 1255.4,998.6 1258.1,1008.7 1260.8,1019.3 1263.4,1030.1 1266.1,1041.2 1268.8,1052.6 1271.4,1064.1 1274.1,1075.8 1276.8,1087.5 1279.4,1099.1 1282.1,1110.6 1284.8,1121.9 1287.4,1133 1290.1,1143.7 1292.8,1154 1295.4,1163.9 1298.1,1173.3 1300.7,1182.1 1303.4,1190.2 1306.1,1197.7 1308.7,1204.5 1311.4,1210.5 1314.1,1215.6 1316.7,1219.8 1319.4,1223 1322.1,1225.1 1324.7,1226.2 1327.4,1226 1330.1,1224.8 1332.7,1222.3 1335.4,1218.8 1338.1,1214 1340.7,1207.9 1343.4,1200.7 1346.1,1192.4 1348.7,1182.9 1351.4,1172.5 1354.1,1161.2 1356.7,1149.1 1359.4,1136.4 1362,1123.3 1364.7,1109.9 1367.4,1096.4 1370,1082.9 1372.7,1069.4 1375.4,1056.3 1378,1043.5 1380.7,1031.1 1383.4,1019.1 1386,1007.6 1388.7,996.7 1391.4,986.2 1394,976.2 1396.7,966.6 1399.4,957.4 1402,948.6 1404.7,940.1 1407.4,932.1 1410,924.4 1412.7,917.2 1415.3,910.4 1418,904.3 1420.7,898.8 1423.3,894.2 1426,890.4 1428.7,887.6 1431.3,885.7 1434,884.9 1436.7,885.1 1439.3,886.2 1442,888.3 1444.7,891.1 1447.3,894.4 1450,898.2 1452.7,902.1 1455.3,906.2 1458,910.3 1460.7,914.4 1463.3,918.4 1466,922.3 1468.7,926.2 1471.3,930 1474,933.8 1476.6,937.5 1479.3,941.1 1482,944.7 1484.6,948.2 1487.3,951.5 1490,954.8 1492.6,957.8 1495.3,960.6 1498,963.2 1500.6,965.5 1503.3,967.5 1506,969.1 1508.6,970.4 1511.3,971.2 1514,971.6 1516.6,971.7 1519.3,971.3 1522,970.6 1524.6,969.4 1527.3,968 1530,966.1 1532.6,964 1535.3,961.5 1537.9,958.7 1540.6,955.6 1543.3,952.3 1545.9,948.7 1548.6,944.9 1551.3,941 1553.9,936.9 1556.6,932.7 1559.3,928.5 1561.9,924.1 1564.6,919.8 1567.3,915.5 1569.9,911.2 1572.6,907 1575.3,902.9 1577.9,898.9 1580.6,895.1 1583.3,891.3 1585.9,887.8 1588.6,884.5 1591.2,881.3 1593.9,878.3 1596.6,875.5 1599.2,873 1601.9,870.6 1604.6,868.4 1607.2,866.5 1609.9,864.8 1612.6,863.3 1615.2,862 1617.9,860.9 1620.6,859.9 1623.2,859.2 1625.9,858.7 1628.6,858.3 1631.2,858 1633.9,857.9 1636.6,857.9 1639.2,858.1 1641.9,858.4 1644.6,858.8 1647.2,859.3 1649.9,859.8 1652.5,860.5 1655.2,861.2 1657.9,861.9 1660.5,862.7 1663.2,863.5 1665.9,864.3 1668.5,865.1 1671.2,865.9 1673.9,866.8 1676.5,867.6 1679.2,868.4 1681.9,869.1 1684.5,869.9 1687.2,870.6 1689.9,871.2 1692.5,871.9 1695.2,872.5 1697.9,873.1 1700.5,873.6 1703.2,874.1 1705.9,874.6 1708.5,875 1711.2,875.4 1713.8,875.7 1716.5,876.1 1719.2,876.4 1721.8,876.6 1724.5,876.9 1727.2,877.1 1729.8,877.3 1732.5,877.4 1735.2,877.6 1737.8,877.7 1740.5,877.8 1743.2,877.9 1745.8,878 1748.5,878.1 1751.2,878.2 1753.8,878.2 1756.5,878.3 1759.2,878.3 1761.8,878.4 1764.5,878.4 1767.2,878.4 1769.8,878.5 1772.5,878.5 1775.1,878.5 1777.8,878.5 1780.5,878.5 1783.1,878.5 1785.8,878.5 1788.5,878.5 1791.1,878.5 1793.8,878.5 1796.5,878.6 1799.1,878.6 1801.8,878.6 1804.5,878.6 1807.1,878.6 1809.8,878.6 1812.5,878.6 1815.1,878.6 1817.8,878.6 1820.5,878.6 1823.1,878.6" stroke="#000000" stroke-width="4.5" stroke-linecap="square"/>
<polyline points="1183.5,882.2 1186.1,882.9 1188.8,883.7 1191.5,884.7 1194.1,885.8 1196.8,887.1 1199.5,888.5 1202.1,890.2 1204.8,892.1 1207.5,894.2 1210.1,896.6 1212.8,899.3 1215.5,902.2 1218.1,905.6 1220.8,909.3 1223.5,913.3 1226.1,917.8 1228.8,922.7 1231.5,928 1234.1,933.8 1236.8,940.1 1239.5,946.9 1242.1,954.1 1244.8,961.8 1247.4,970 1250.1,978.6 1252.8,987.7 1255.4,997.2 1258.1,1007.1 1260.8,1017.4 1263.4,1027.9 1266.1,1038.7 1268.8,1049.8 1271.4,1060.9 1274.1,1072.1 1276.8,1083.4 1279.4,1094.6 1282.1,1105.6 1284.8,1116.4 1287.4,1127 1290.1,1137.2 1292.8,1147 1295.4,1156.4 1298.1,1165.3 1300.7,1173.5 1303.4,1181.2 1306.1,1188.2 1308.7,1194.5 1311.4,1200.1 1314.1,1204.8 1316.7,1208.6 1319.4,1211.5 1322.1,1213.4 1324.7,1214.2 1327.4,1213.9 1330.1,1212.6 1332.7,1210.1 1335.4,1206.4 1338.1,1201.6 1340.7,1195.7 1343.4,1188.6 1346.1,1180.3 1348.7,1171.1 1351.4,1160.9 1354.1,1149.8 1356.7,1138.1 1359.4,1125.8 1362,1113.1 1364.7,1100.1 1367.4,1087 1370,1073.8 1372.7,1060.9 1375.4,1048.2 1378,1035.8 1380.7,1023.8 1383.4,1012.3 1386,1001.2 1388.7,990.6 1391.4,980.5 1394,970.8 1396.7,961.5 1399.4,952.7 1402,944.2 1404.7,936 1407.4,928.2 1410,920.8 1412.7,913.8 1415.3,907.3 1418,901.4 1420.7,896.1 1423.3,891.6 1426,888 1428.7,885.2 1431.3,883.5 1434,882.7 1436.7,882.8 1439.3,884.1 1442,886.2 1444.7,889.2 1447.3,892.7 1450,896.7 1452.7,900.9 1455.3,905.2 1458,909.5 1460.7,913.8 1463.3,918.1 1466,922.2 1468.7,926.3 1471.3,930.3 1474,934.3 1476.6,938.2 1479.3,942.1 1482,945.8 1484.6,949.5 1487.3,953.1 1490,956.5 1492.6,959.7 1495.3,962.7 1498,965.4 1500.6,967.9 1503.3,969.9 1506,971.7 1508.6,973 1511.3,973.9 1514,974.3 1516.6,974.3 1519.3,974 1522,973.2 1524.6,972.1 1527.3,970.6 1530,968.7 1532.6,966.4 1535.3,963.9 1537.9,961 1540.6,957.8 1543.3,954.4 1545.9,950.7 1548.6,946.9 1551.3,942.8 1553.9,938.6 1556.6,934.3 1559.3,929.9 1561.9,925.5 1564.6,921 1567.3,916.6 1569.9,912.2 1572.6,907.9 1575.3,903.6 1577.9,899.5 1580.6,895.5 1583.3,891.7 1585.9,888.1 1588.6,884.6 1591.2,881.4 1593.9,878.3 1596.6,875.5 1599.2,873 1601.9,870.6 1604.6,868.4 1607.2,866.5 1609.9,864.8 1612.6,863.3 1615.2,862 1617.9,860.9 1620.6,859.9 1623.2,859.2 1625.9,858.7 1628.6,858.3 1631.2,858 1633.9,857.9 1636.6,857.9 1639.2,858.1 1641.9,858.4 1644.6,858.8 1647.2,859.3 1649.9,859.8 1652.5,860.5 1655.2,861.2 1657.9,861.9 1660.5,862.7 1663.2,863.5 1665.9,864.3 1668.5,865.1 1671.2,865.9 1673.9,866.8 1676.5,867.6 1679.2,868.4 1681.9,869.1 1684.5,869.9 1687.2,870.6 1689.9,871.2 1692.5,871.9 1695.2,872.5 1697.9,873.1 1700.5,873.6 1703.2,874.1 1705.9,874.6 1708.5,875 1711.2,875.4 1713.8,875.7 1716.5,876.1 1719.2,876.4 1721.8,876.6 1724.5,876.9 1727.2,877.1 1729.8,877.3 1732.5,877.4 1735.2,877.6 1737.8,877.7 1740.5,877.8 1743.2,877.9 1745.8,878 1748.5,878.1 1751.2,878.2 1753.8,878.2 1756.5,878.3 1759.2,878.3 1761.8,878.4 1764.5,878.4 1767.2,878.4 1769.8,878.5 1772.5,878.5 1775.1,878.5 1777.8,878.5 1780.5,878.5 1783.1,878.5 1785.8,878.5 1788.5,878.5 1791.1,878.5 1793.8,878.5 1796.5,878.6 1799.1,878.6 1801.8,878.6 1804.5,878.6 1807.1,878.6 1809.8,878.6 1812.5,878.6 1815.1,878.6 1817.8,878.6 1820.5,878.6 1823.1,878.6" stroke="#17becf" stroke-width="4.5" stroke-linecap="square"/>
<polyline points="1183.5,882.2 1186.1,882.9 1188.8,883.7 1191.5,884.7 1194.1,885.8 1196.8,887.1 1199.5,888.5 1202.1,890.2 1204.8,892.1 1207.5,894.2 1210.1,896.6 1212.8,899.3 1215.5,902.2 1218.1,905.6 1220.8,909.3 1223.5,913.3 1226.1,917.8 1228.8,922.7 1231.5,928 1234.1,933.8 1236.8,940.1 1239.5,946.8 1242.1,954 1244.8,961.7 1247.4,969.9 1250.1,978.5 1252.8,987.6 1255.4,997 1258.1,1006.9 1260.8,1017.1 1263.4,1027.7 1266.1,1038.4 1268.8,1049.4 1271.4,1060.5 1274.1,1071.7 1276.8,1082.9 1279.4,1094 1282.1,1105 1284.8,1115.8 1287.4,1126.3 1290.1,1136.5 1292.8,1146.3 1295.4,1155.6 1298.1,1164.4 1300.7,1172.6 1303.4,1180.2 1306.1,1187.2 1308.7,1193.5 1311.4,1199 1314.1,1203.7 1316.7,1207.5 1319.4,1210.4 1322.1,1212.2 1324.7,1213 1327.4,1212.7 1330.1,1211.4 1332.7,1208.9 1335.4,1205.3 1338.1,1200.5 1340.7,1194.6 1343.4,1187.5 1346.1,1179.3 1348.7,1170.1 1351.4,1160 1354.1,1149 1356.7,1137.3 1359.4,1125.1 1362,1112.5 1364.7,1099.5 1367.4,1086.5 1370,1073.5 1372.7,1060.6 1375.4,1047.9 1378,1035.6 1380.7,1023.7 1383.4,1012.2 1386,1001.2 1388.7,990.7 1391.4,980.7 1394,971 1396.7,961.8 1399.4,953 1402,944.5 1404.7,936.4 1407.4,928.7 1410,921.3 1412.7,914.4 1415.3,907.9 1418,902 1420.7,896.8 1423.3,892.3 1426,888.7 1428.7,886 1431.3,884.2 1434,883.4 1436.7,883.6 1439.3,884.8 1442,887 1444.7,889.9 1447.3,893.4 1450,897.3 1452.7,901.5 1455.3,905.7 1458,910 1460.7,914.3 1463.3,918.5 1466,922.6 1468.7,926.7 1471.3,930.7 1474,934.6 1476.6,938.5 1479.3,942.3 1482,946.1 1484.6,949.7 1487.3,953.3 1490,956.6 1492.6,959.8 1495.3,962.8 1498,965.5 1500.6,967.9 1503.3,970 1506,971.7 1508.6,973 1511.3,973.9 1514,974.3 1516.6,974.3 1519.3,974 1522,973.2 1524.6,972.1 1527.3,970.6 1530,968.7 1532.6,966.4 1535.3,963.9 1537.9,961 1540.6,957.8 1543.3,954.4 1545.9,950.7 1548.6,946.9 1551.3,942.8 1553.9,938.6 1556.6,934.3 1559.3,929.9 1561.9,925.5 1564.6,921 1567.3,916.6 1569.9,912.2 1572.6,907.9 1575.3,903.6 1577.9,899.5 1580.6,895.5 1583.3,891.7 1585.9,888.1 1588.6,884.6 1591.2,881.4 1593.9,878.3 1596.6,875.5 1599.2,873 1601.9,870.6 1604.6,868.4 1607.2,866.5 1609.9,864.8 1612.6,863.3 1615.2,862 1617.9,860.9 1620.6,859.9 1623.2,859.2 1625.9,858.7 1628.6,858.3 1631.2,858 1633.9,857.9 1636.6,857.9 1639.2,858.1 1641.9,858.4 1644.6,858.8 1647.2,859.3 1649.9,859.8 1652.5,860.5 1655.2,861.2 1657.9,861.9 1660.5,862.7 1663.2,863.5 1665.9,864.3 1668.5,865.1 1671.2,865.9 1673.9,866.8 1676.5,867.6 1679.2,868.4 1681.9,869.1 1684.5,869.9 1687.2,870.6 1689.9,871.2 1692.5,871.9 1695.2,872.5 1697.9,873.1 1700.5,873.6 1703.2,874.1 1705.9,874.6 1708.5,875 1711.2,875.4 1713.8,875.7 1716.5,876.1 1719.2,876.4 1721.8,876.6 1724.5,876.9 1727.2,877.1 1729.8,877.3 1732.5,877.4 1735.2,877.6 1737.8,877.7 1740.5,877.8 1743.2,877.9 1745.8,878 1748.5,878.1 1751.2,878.2 1753.8,878.2 1756.5,878.3 1759.2,878.3 1761.8,878.4 1764.5,878.4 1767.2,878.4 1769.8,878.5 1772.5,878.5 1775.1,878.5 1777.8,878.5 1780.5,878.5 1783.1,878.5 1785.8,878.5 1788.5,878.5 1791.1,878.5 1793.8,878.5 1796.5,878.6 1799.1,878.6 1801.8,878.6 1804.5,878.6 1807.1,878.6 1809.8,878.6 1812.5,878.6 1815.1,878.6 1817.8,878.6 1820.5,878.6 1823.1,878.6" stroke="#1f77b4" stroke-width="4.5" stroke-linecap="square"/>
<polyline points="1183.5,882.2 1186.1,882.9 1188.8,883.7 1191.5,884.7 1194.1,885.8 1196.8,887.1 1199.5,888.5 1202.1,890.2 1204.8,892.1 1207.5,894.2 1210.1,896.6 1212.8,899.3 1215.5,902.3 1218.1,905.6 1220.8,909.3 1223.5,913.4 1226.1,917.8 1228.8,922.7 1231.5,928.1 1234.1,933.9 1236.8,940.2 1239.5,947 1242.1,954.2 1244.8,962 1247.4,970.2 1250.1,978.9 1252.8,988 1255.4,997.6 1258.1,1007.5 1260.8,1017.8 1263.4,1028.5 1266.1,1039.4 1268.8,1050.5 1271.4,1061.7 1274.1,1073.1 1276.8,1084.4 1279.4,1095.7 1282.1,1106.8 1284.8,1117.8 1287.4,1128.5 1290.1,1138.8 1292.8,1148.7 1295.4,1158.2 1298.1,1167.2 1300.7,1175.6 1303.4,1183.3 1306.1,1190.4 1308.7,1196.8 1311.4,1202.4 1314.1,1207.2 1316.7,1211.1 1319.4,1214 1322.1,1216 1324.7,1216.8 1327.4,1216.5 1330.1,1215.1 1332.7,1212.6 1335.4,1209 1338.1,1204.1 1340.7,1198.2 1343.4,1191 1346.1,1182.8 1348.7,1173.5 1351.4,1163.2 1354.1,1152.2 1356.7,1140.4 1359.4,1128 1362,1115.3 1364.7,1102.3 1367.4,1089.1 1370,1076 1372.7,1062.9 1375.4,1050.2 1378,1037.8 1380.7,1025.7 1383.4,1014.2 1386,1003.1 1388.7,992.4 1391.4,982.3 1394,972.6 1396.7,963.3 1399.4,954.4 1402,945.9 1404.7,937.7 1407.4,929.8 1410,922.4 1412.7,915.4 1415.3,908.9 1418,902.9 1420.7,897.6 1423.3,893.1 1426,889.5 1428.7,886.7 1431.3,885 1434,884.2 1436.7,884.3 1439.3,885.5 1442,887.7 1444.7,890.6 1447.3,894.1 1450,897.9 1452.7,902.1 1455.3,906.3 1458,910.6 1460.7,914.8 1463.3,919 1466,923.1 1468.7,927.1 1471.3,931.1 1474,935 1476.6,938.8 1479.3,942.6 1482,946.3 1484.6,949.9 1487.3,953.4 1490,956.8 1492.6,960 1495.3,962.9 1498,965.6 1500.6,968 1503.3,970 1506,971.7 1508.6,973 1511.3,973.9 1514,974.3 1516.6,974.3 1519.3,974 1522,973.2 1524.6,972.1 1527.3,970.6 1530,968.7 1532.6,966.4 1535.3,963.9 1537.9,961 1540.6,957.8 1543.3,954.4 1545.9,950.7 1548.6,946.9 1551.3,942.8 1553.9,938.6 1556.6,934.3 1559.3,929.9 1561.9,925.5 1564.6,921 1567.3,916.6 1569.9,912.2 1572.6,907.9 1575.3,903.6 1577.9,899.5 1580.6,895.5 1583.3,891.7 1585.9,888.1 1588.6,884.6 1591.2,881.4 1593.9,878.3 1596.6,875.5 1599.2,873 1601.9,870.6 1604.6,868.4 1607.2,866.5 1609.9,864.8 1612.6,863.3 1615.2,862 1617.9,860.9 1620.6,859.9 1623.2,859.2 1625.9,858.7 1628.6,858.3 1631.2,858 1633.9,857.9 1636.6,857.9 1639.2,858.1 1641.9,858.4 1644.6,858.8 1647.2,859.3 1649.9,859.8 1652.5,860.5 1655.2,861.2 1657.9,861.9 1660.5,862.7 1663.2,863.5 1665.9,864.3 1668.5,865.1 1671.2,865.9 1673.9,866.8 1676.5,867.6 1679.2,868.4 1681.9,869.1 1684.5,869.9 1687.2,870.6 1689.9,871.2 1692.5,871.9 1695.2,872.5 1697.9,873.1 1700.5,873.6 1703.2,874.1 1705.9,874.6 1708.5,875 1711.2,875.4 1713.8,875.7 1716.5,876.1 1719.2,876.4 1721.8,876.6 1724.5,876.9 1727.2,877.1 1729.8,877.3 1732.5,877.4 1735.2,877.6 1737.8,877.7 1740.5,877.8 1743.2,877.9 1745.8,878 1748.5,878.1 1751.2,878.2 1753.8,878.2 1756.5,878.3 1759.2,878.3 1761.8,878.4 1764.5,878.4 1767.2,878.4 1769.8,878.5 1772.5,878.5 1775.1,878.5 1777.8,878.5 1780.5,878.5 1783.1,878.5 1785.8,878.5 1788.5,878.5 1791.1,878.5 1793.8,878.5 1796.5,878.6 1799.1,878.6 1801.8,878.6 1804.5,878.6 1807.1,878.6 1809.8,878.6 1812.5,878.6 1815.1,878.6 1817.8,878.6 1820.5,878.6 1823.1,878.6" stroke="#9467bd" stroke-width="4.5" stroke-linecap="square"/>
<polyline points="1183.5,882.2 1186.1,882.9 1188.8,883.7 1191.5,884.7 1194.1,885.8 1196.8,887.1 1199.5,888.5 1202.1,890.2 1204.8,892.1 1207.5,894.2 1210.1,896.6 1212.8,899.3 1215.5,902.2 1218.1,905.6 1220.8,909.3 1223.5,913.3 1226.1,917.8 1228.8,922.7 1231.5,928.1 1234.1,933.9 1236.8,940.2 1239.5,946.9 1242.1,954.2 1244.8,961.9 1247.4,970.1 1250.1,978.7 1252.8,987.9 1255.4,997.4 1258.1,1007.3 1260.8,1017.6 1263.4,1028.2 1266.1,1039.1 1268.8,1050.1 1271.4,1061.3 1274.1,1072.6 1276.8,1083.9 1279.4,1095.2 1282.1,1106.3 1284.8,1117.2 1287.4,1127.8 1290.1,1138.1 1292.8,1147.9 1295.4,1157.4 1298.1,1166.3 1300.7,1174.6 1303.4,1182.3 1306.1,1189.4 1308.7,1195.7 1311.4,1201.3 1314.1,1206.1 1316.7,1209.9 1319.4,1212.9 1322.1,1214.8 1324.7,1215.6 1327.4,1215.3 1330.1,1213.9 1332.7,1211.4 1335.4,1207.7 1338.1,1202.9 1340.7,1196.9 1343.4,1189.7 1346.1,1181.4 1348.7,1172.1 1351.4,1161.8 1354.1,1150.7 1356.7,1138.9 1359.4,1126.5 1362,1113.7 1364.7,1100.6 1367.4,1087.4 1370,1074.2 1372.7,1061.1 1375.4,1048.3 1378,1035.8 1380.7,1023.8 1383.4,1012.1 1386,1001 1388.7,990.3 1391.4,980.1 1394,970.4 1396.7,961.1 1399.4,952.1 1402,943.6 1404.7,935.3 1407.4,927.5 1410,920 1412.7,913 1415.3,906.4 1418,900.4 1420.7,895.2 1423.3,890.6 1426,887 1428.7,884.2 1431.3,882.4 1434,881.6 1436.7,881.8 1439.3,883 1442,885.2 1444.7,888.2 1447.3,891.8 1450,895.8 1452.7,900 1455.3,904.4 1458,908.8 1460.7,913.1 1463.3,917.4 1466,921.6 1468.7,925.8 1471.3,929.8 1474,933.8 1476.6,937.8 1479.3,941.7 1482,945.5 1484.6,949.2 1487.3,952.9 1490,956.3 1492.6,959.6 1495.3,962.6 1498,965.3 1500.6,967.8 1503.3,969.9 1506,971.6 1508.6,973 1511.3,973.9 1514,974.3 1516.6,974.3 1519.3,974 1522,973.2 1524.6,972.1 1527.3,970.6 1530,968.7 1532.6,966.4 1535.3,963.9 1537.9,961 1540.6,957.8 1543.3,954.4 1545.9,950.7 1548.6,946.9 1551.3,942.8 1553.9,938.6 1556.6,934.3 1559.3,929.9 1561.9,925.5 1564.6,921 1567.3,916.6 1569.9,912.2 1572.6,907.9 1575.3,903.6 1577.9,899.5 1580.6,895.5 1583.3,891.7 1585.9,888.1 1588.6,884.6 1591.2,881.4 1593.9,878.3 1596.6,875.5 1599.2,873 1601.9,870.6 1604.6,868.4 1607.2,866.5 1609.9,864.8 1612.6,863.3 1615.2,862 1617.9,860.9 1620.6,859.9 1623.2,859.2 1625.9,858.7 1628.6,858.3 1631.2,858 1633.9,857.9 1636.6,857.9 1639.2,858.1 1641.9,858.4 1644.6,858.8 1647.2,859.3 1649.9,859.8 1652.5,860.5 1655.2,861.2 1657.9,861.9 1660.5,862.7 1663.2,863.5 1665.9,864.3 1668.5,865.1 1671.2,865.9 1673.9,866.8 1676.5,867.6 1679.2,868.4 1681.9,869.1 1684.5,869.9 1687.2,870.6 1689.9,871.2 1692.5,871.9 1695.2,872.5 1697.9,873.1 1700.5,873.6 1703.2,874.1 1705.9,874.6 1708.5,875 1711.2,875.4 1713.8,875.7 1716.5,876.1 1719.2,876.4 1721.8,876.6 1724.5,876.9 1727.2,877.1 1729.8,877.3 1732.5,877.4 1735.2,877.6 1737.8,877.7 1740.5,877.8 1743.2,877.9 1745.8,878 1748.5,878.1 1751.2,878.2 1753.8,878.2 1756.5,878.3 1759.2,878.3 1761.8,878.4 1764.5,878.4 1767.2,878.4 1769.8,878.5 1772.5,878.5 1775.1,878.5 1777.8,878.5 1780.5,878.5 1783.1,878.5 1785.8,878.5 1788.5,878.5 1791.1,878.5 1793.8,878.5 1796.5,878.6 1799.1,878.6 1801.8,878.6 1804.5,878.6 1807.1,878.6 1809.8,878.6 1812.5,878.6 1815.1,878.6 1817.8,878.6 1820.5,878.6 1823.1,878.6" stroke="#ff7f0e" stroke-width="4.5" stroke-linecap="square"/>
<path d="M1151.5 878.11H1855.1" stroke="#000" stroke-width="1.5"/>
</g>
<path d="M1183.48 1327.3v11.03M1396.69 1327.3v11.03M1609.91 1327.3v11.03M1823.12 1327.3v11.03M1151.5 1327.3h-11.03M1151.5 1177.57h-11.03M1151.5 1027.84h-11.03M1151.5 878.11h-11.03" fill="none" stroke="#000" stroke-width="2.5"/>
<path d="M1162.82 1327.3v6.3M1173.73 1327.3v6.3M1247.67 1327.3v6.3M1285.21 1327.3v6.3M1311.85 1327.3v6.3M1332.51 1327.3v6.3M1349.39 1327.3v6.3M1363.67 1327.3v6.3M1376.03 1327.3v6.3M1386.94 1327.3v6.3M1460.88 1327.3v6.3M1498.42 1327.3v6.3M1525.06 1327.3v6.3M1545.72 1327.3v6.3M1562.61 1327.3v6.3M1576.88 1327.3v6.3M1589.24 1327.3v6.3M1600.15 1327.3v6.3M1674.09 1327.3v6.3M1711.63 1327.3v6.3M1738.27 1327.3v6.3M1758.93 1327.3v6.3M1775.82 1327.3v6.3M1790.09 1327.3v6.3M1802.46 1327.3v6.3M1813.36 1327.3v6.3M1151.5 1297.35h-6.3M1151.5 1267.41h-6.3M1151.5 1237.46h-6.3M1151.5 1207.52h-6.3M1151.5 1147.63h-6.3M1151.5 1117.68h-6.3M1151.5 1087.73h-6.3M1151.5 1057.79h-6.3M1151.5 997.9h-6.3M1151.5 967.95h-6.3M1151.5 938.01h-6.3M1151.5 908.06h-6.3M1151.5 848.17h-6.3M1151.5 818.22h-6.3" fill="none" stroke="#000" stroke-width="2"/>
<rect x="1151.5" y="803.25" width="703.6" height="524.05" fill="none" stroke="#000" stroke-width="2.5"/>
<g font-size="40.95" text-anchor="middle">
<text x="1183.48" y="1382.3">1</text>
<text x="1396.69" y="1382.3">10</text>
<text x="1609.91" y="1382.3">100</text>
<text x="1823.12" y="1382.3">1000</text>
</g>
<g font-size="40.95" text-anchor="end">
<text x="1129.5" y="1344.06">−0.3</text>
<text x="1129.5" y="1194.33">−0.2</text>
<text x="1129.5" y="1044.6">−0.1</text>
<text x="1129.5" y="894.88">0.0</text>
</g>
<g transform="translate(1503.30 1430.30)" fill="#000">
<text x="-139.50 -110.43 -99.94 -76.81 -40.04 -16.81 -2.01 21.21 36.73 48.73" y="-0.00" font-size="37.80">Diameter [</text>
<text x="63.46 87.39" y="-0.00" font-size="37.80" font-style="italic">nm</text>
<text x="124.16" y="-0.00" font-size="37.80">]</text>
</g>
<g transform="translate(1503.30 784.35)" fill="#000">
<text x="-343.00 -328.27 -304.31 -289.58 -277.58 -266.45 -242.52 -232.04 -217.23 -206.75 -183.61 -173.12 -161.13 -141.46 -118.36 -95.27 -80.46 -68.46 -48.80 -38.31 -18.49 4.73 16.73 40.66 64.58 101.36 125.32 148.54 164.06 176.06 195.73 206.22 226.03 249.26 261.26 285.22 295.71 315.38 330.18" y="-0.00" font-size="37.80">(d) Initial soot size number size dist.</text>
</g>
<g transform="translate(1000.60 1067.08) rotate(-90)" fill="#000">
<text transform="translate(-245.13 -0.76) skewX(-10) scale(1.06 0.93)" font-size="37.80">ℰ</text>
<text x="-222.76 -205.99 -198.65 -181.90 -156.16" y="-20.08" font-size="26.46">plume</text>
<text x="-222.76 -205.99" y="10.39" font-size="26.46" font-style="italic">dN</text>
<text x="-186.22" y="10.39" font-size="26.46">/</text>
<text x="-177.32" y="10.39" font-size="26.46" font-style="italic">d</text>
<text x="-160.54" y="10.39" font-size="26.46">(</text>
<text x="-150.23 -142.89 -126.14" y="10.39" font-size="26.46" font-style="italic">lnD</text>
<text x="-105.80" y="10.39" font-size="26.46">)</text>
<text x="-87.09" y="0.00" font-size="37.80">−</text>
<text transform="translate(-49.24 -0.76) skewX(-10) scale(1.06 0.93)" font-size="37.80">ℰ</text>
<text x="-26.87 -19.53 -2.78 10.99 21.35 34.90 51.67 59.01 72.78 89.55" y="-20.08" font-size="26.46">inst.disp.</text>
<text x="-26.87 -10.10" y="10.39" font-size="26.46" font-style="italic">dN</text>
<text x="9.67" y="10.39" font-size="26.46">/</text>
<text x="18.57" y="10.39" font-size="26.46" font-style="italic">d</text>
<text x="35.35" y="10.39" font-size="26.46">(</text>
<text x="45.66 53.00 69.75" y="10.39" font-size="26.46" font-style="italic">lnD</text>
<text x="90.10" y="10.39" font-size="26.46">)</text>
<text x="104.14 116.14 130.87 151.62" y="0.00" font-size="37.80"> [cm</text>
<text x="188.76 210.90" y="-14.55" font-size="26.46">−3</text>
<text x="228.75" y="0.00" font-size="37.80">]</text>
</g>
<rect x="1497.95" y="1019.4" width="338.45" height="239.7" rx="4.73" ry="4.73" fill="#fff" fill-opacity="0.8" stroke="#ccc" stroke-opacity="0.8" stroke-width="2.6"/>
<g font-size="31.5">
<path d="M1510.55 1044.2h63" stroke="#000000" stroke-width="4.7" stroke-linecap="square" fill="none"/>
<text x="1598.75" y="1056.2">25(ki); 150(ai)</text>
<path d="M1510.55 1090.5h63" stroke="#17becf" stroke-width="4.7" stroke-linecap="square" fill="none"/>
<text x="1598.75" y="1102.5">26.3(ki)</text>
<path d="M1510.55 1136.8h63" stroke="#1f77b4" stroke-width="4.7" stroke-linecap="square" fill="none"/>
<text x="1598.75" y="1148.8">28(ki)</text>
<path d="M1510.55 1183.1h63" stroke="#9467bd" stroke-width="4.7" stroke-linecap="square" fill="none"/>
<text x="1598.75" y="1195.1">27(ki)</text>
<path d="M1510.55 1229.4h63" stroke="#ff7f0e" stroke-width="4.7" stroke-linecap="square" fill="none"/>
<text x="1598.75" y="1241.4">32.5(ki)</text>
</g>
</g>
<g id="panel-e">
<rect x="166.7" y="1540.75" width="702.6" height="523.25" fill="#fff"/>
<path d="M178 1540.75V2064M188.89 1540.75V2064M262.73 1540.75V2064M300.22 1540.75V2064M326.82 1540.75V2064M347.45 1540.75V2064M364.31 1540.75V2064M378.57 1540.75V2064M390.91 1540.75V2064M401.8 1540.75V2064M475.64 1540.75V2064M513.13 1540.75V2064M539.73 1540.75V2064M560.36 1540.75V2064M577.22 1540.75V2064M591.47 1540.75V2064M603.82 1540.75V2064M614.71 1540.75V2064M688.55 1540.75V2064M726.04 1540.75V2064M752.64 1540.75V2064M773.27 1540.75V2064M790.13 1540.75V2064M804.38 1540.75V2064M816.73 1540.75V2064M827.62 1540.75V2064M166.7 2064H869.3M166.7 2045.31H869.3M166.7 2026.62H869.3M166.7 1989.25H869.3M166.7 1970.56H869.3M166.7 1951.88H869.3M166.7 1933.19H869.3M166.7 1895.81H869.3M166.7 1877.12H869.3M166.7 1858.44H869.3M166.7 1839.75H869.3M166.7 1802.38H869.3M166.7 1783.69H869.3M166.7 1765H869.3M166.7 1746.31H869.3M166.7 1708.94H869.3M166.7 1690.25H869.3M166.7 1671.56H869.3M166.7 1652.88H869.3M166.7 1615.5H869.3M166.7 1596.81H869.3M166.7 1578.12H869.3M166.7 1559.44H869.3" fill="none" stroke="#ebebeb" stroke-width="1.57" stroke-dasharray="1.57 2.6"/>
<path d="M198.64 1540.75V2064M411.55 1540.75V2064M624.45 1540.75V2064M837.36 1540.75V2064M166.7 2007.94H869.3M166.7 1914.5H869.3M166.7 1821.06H869.3M166.7 1727.62H869.3M166.7 1634.19H869.3" fill="none" stroke="#e1e1e1" stroke-width="2.2"/>
<clipPath id="clip-e"><rect x="166.7" y="1540.75" width="702.6" height="523.25"/></clipPath>
<g clip-path="url(#clip-e)" fill="none" stroke-linejoin="round">
<polyline points="198.6,2006.4 201.3,2006.1 204,2005.8 206.6,2005.4 209.3,2004.9 211.9,2004.4 214.6,2003.8 217.3,2003.2 219.9,2002.4 222.6,2001.6 225.2,2000.7 227.9,1999.7 230.6,1998.7 233.2,1997.5 235.9,1996.2 238.6,1994.7 241.2,1993 243.9,1991.2 246.5,1989.1 249.2,1986.7 251.9,1983.9 254.5,1980.7 257.2,1977.1 259.8,1972.9 262.5,1968.3 265.2,1963.1 267.8,1957.4 270.5,1951.1 273.2,1944.3 275.8,1937.1 278.5,1929.3 281.1,1921.2 283.8,1912.8 286.5,1904.1 289.1,1895.2 291.8,1886.1 294.4,1876.9 297.1,1867.6 299.8,1858.2 302.4,1848.6 305.1,1838.9 307.8,1829 310.4,1819.1 313.1,1809 315.7,1798.9 318.4,1788.8 321.1,1778.9 323.7,1769.2 326.4,1759.9 329,1751.1 331.7,1742.8 334.4,1735.3 337,1728.4 339.7,1722.4 342.4,1717.3 345,1713.1 347.7,1709.8 350.3,1707.5 353,1706.2 355.7,1705.8 358.3,1706.4 361,1707.9 363.6,1710.4 366.3,1713.8 369,1718 371.6,1723.1 374.3,1729.1 376.9,1735.9 379.6,1743.5 382.3,1751.8 384.9,1760.8 387.6,1770.5 390.3,1780.8 392.9,1791.6 395.6,1802.9 398.2,1814.6 400.9,1826.7 403.6,1838.9 406.2,1851.2 408.9,1863.4 411.5,1875.5 414.2,1887.3 416.9,1898.7 419.5,1909.6 422.2,1919.8 424.9,1929.5 427.5,1938.5 430.2,1946.8 432.8,1954.5 435.5,1961.6 438.2,1968.2 440.8,1974.3 443.5,1980 446.1,1985.3 448.8,1990.3 451.5,1995 454.1,1999.3 456.8,2003.4 459.4,2007.2 462.1,2010.6 464.8,2013.6 467.4,2016.3 470.1,2018.5 472.8,2020.3 475.4,2021.8 478.1,2022.9 480.7,2023.7 483.4,2024.3 486.1,2024.7 488.7,2024.9 491.4,2025.1 494,2025.1 496.7,2025.2 499.4,2025.2 502,2025.1 504.7,2025.1 507.4,2025.1 510,2025 512.7,2024.9 515.3,2024.8 518,2024.7 520.7,2024.5 523.3,2024.3 526,2024.1 528.6,2023.8 531.3,2023.5 534,2023.1 536.6,2022.7 539.3,2022.3 542,2021.9 544.6,2021.4 547.3,2020.9 549.9,2020.3 552.6,2019.8 555.3,2019.2 557.9,2018.6 560.6,2018 563.2,2017.4 565.9,2016.8 568.6,2016.1 571.2,2015.5 573.9,2014.9 576.5,2014.3 579.2,2013.6 581.9,2013 584.5,2012.4 587.2,2011.9 589.9,2011.3 592.5,2010.7 595.2,2010.2 597.8,2009.7 600.5,2009.3 603.2,2008.8 605.8,2008.4 608.5,2008 611.1,2007.6 613.8,2007.3 616.5,2007 619.1,2006.7 621.8,2006.5 624.5,2006.3 627.1,2006.1 629.8,2005.9 632.4,2005.8 635.1,2005.7 637.8,2005.6 640.4,2005.5 643.1,2005.5 645.7,2005.4 648.4,2005.4 651.1,2005.4 653.7,2005.4 656.4,2005.5 659.1,2005.5 661.7,2005.6 664.4,2005.7 667,2005.7 669.7,2005.8 672.4,2005.9 675,2006 677.7,2006.1 680.3,2006.2 683,2006.3 685.7,2006.4 688.3,2006.5 691,2006.6 693.7,2006.7 696.3,2006.8 699,2006.9 701.6,2007 704.3,2007.1 707,2007.2 709.6,2007.2 712.3,2007.3 714.9,2007.4 717.6,2007.4 720.3,2007.5 722.9,2007.5 725.6,2007.6 728.2,2007.6 730.9,2007.7 733.6,2007.7 736.2,2007.8 738.9,2007.8 741.6,2007.8 744.2,2007.8 746.9,2007.9 749.5,2007.9 752.2,2007.9 754.9,2007.9 757.5,2007.9 760.2,2007.9 762.8,2007.9 765.5,2007.9 768.2,2008 770.8,2008 773.5,2008 776.2,2008 778.8,2008 781.5,2008 784.1,2008 786.8,2008 789.5,2008 792.1,2008 794.8,2008 797.4,2008 800.1,2008 802.8,2008 805.4,2008 808.1,2008 810.8,2008 813.4,2008 816.1,2008 818.7,2008 821.4,2008 824.1,2008 826.7,2008 829.4,2008 832,2008 834.7,2008 837.4,2008" stroke="#000000" stroke-width="4.5" stroke-linecap="square"/>
<polyline points="198.6,2005.9 201.3,2005.5 204,2005.1 206.6,2004.6 209.3,2004 211.9,2003.3 214.6,2002.5 217.3,2001.7 219.9,2000.7 222.6,1999.6 225.2,1998.4 227.9,1997.1 230.6,1995.6 233.2,1994 235.9,1992.3 238.6,1990.3 241.2,1988.1 243.9,1985.6 246.5,1982.8 249.2,1979.7 251.9,1976.1 254.5,1972 257.2,1967.5 259.8,1962.4 262.5,1956.7 265.2,1950.4 267.8,1943.5 270.5,1936 273.2,1928 275.8,1919.4 278.5,1910.3 281.1,1900.8 283.8,1890.9 286.5,1880.8 289.1,1870.4 291.8,1859.9 294.4,1849.2 297.1,1838.4 299.8,1827.6 302.4,1816.6 305.1,1805.6 307.8,1794.4 310.4,1783.2 313.1,1771.9 315.7,1760.7 318.4,1749.6 321.1,1738.8 323.7,1728.3 326.4,1718.2 329,1708.8 331.7,1700 334.4,1692 337,1684.9 339.7,1678.8 342.4,1673.7 345,1669.6 347.7,1666.7 350.3,1664.8 353,1664.1 355.7,1664.5 358.3,1666 361,1668.6 363.6,1672.2 366.3,1676.9 369,1682.5 371.6,1689.2 374.3,1696.7 376.9,1705.1 379.6,1714.4 382.3,1724.4 384.9,1735.1 387.6,1746.4 390.3,1758.4 392.9,1770.8 395.6,1783.7 398.2,1796.9 400.9,1810.3 403.6,1823.9 406.2,1837.5 408.9,1851 411.5,1864.3 414.2,1877.2 416.9,1889.7 419.5,1901.7 422.2,1913 424.9,1923.6 427.5,1933.5 430.2,1942.7 432.8,1951.1 435.5,1958.9 438.2,1966.1 440.8,1972.7 443.5,1978.7 446.1,1984.3 448.8,1989.4 451.5,1994.1 454.1,1998.4 456.8,2002.2 459.4,2005.6 462.1,2008.6 464.8,2011.2 467.4,2013.3 470.1,2015 472.8,2016.3 475.4,2017.2 478.1,2017.8 480.7,2018.1 483.4,2018.2 486.1,2018.1 488.7,2017.8 491.4,2017.5 494,2017.1 496.7,2016.7 499.4,2016.2 502,2015.8 504.7,2015.3 507.4,2014.9 510,2014.4 512.7,2014 515.3,2013.6 518,2013.2 520.7,2012.9 523.3,2012.5 526,2012.1 528.6,2011.8 531.3,2011.5 534,2011.2 536.6,2010.9 539.3,2010.6 542,2010.3 544.6,2010.1 547.3,2009.8 549.9,2009.6 552.6,2009.4 555.3,2009.3 557.9,2009.1 560.6,2008.9 563.2,2008.8 565.9,2008.7 568.6,2008.6 571.2,2008.5 573.9,2008.4 576.5,2008.3 579.2,2008.3 581.9,2008.2 584.5,2008.2 587.2,2008.1 589.9,2008.1 592.5,2008.1 595.2,2008.1 597.8,2008 600.5,2008 603.2,2008 605.8,2008 608.5,2008 611.1,2008 613.8,2008 616.5,2008 619.1,2008 621.8,2008 624.5,2007.9 627.1,2007.9 629.8,2007.9 632.4,2007.9 635.1,2007.9 637.8,2007.9 640.4,2007.9 643.1,2007.9 645.7,2007.9 648.4,2007.9 651.1,2007.9 653.7,2007.9 656.4,2007.9 659.1,2007.9 661.7,2007.9 664.4,2007.9 667,2007.9 669.7,2007.9 672.4,2007.9 675,2007.9 677.7,2007.9 680.3,2007.9 683,2007.9 685.7,2007.9 688.3,2007.9 691,2007.9 693.7,2007.9 696.3,2007.9 699,2007.9 701.6,2007.9 704.3,2007.9 707,2007.9 709.6,2007.9 712.3,2007.9 714.9,2007.9 717.6,2007.9 720.3,2007.9 722.9,2007.9 725.6,2007.9 728.2,2007.9 730.9,2007.9 733.6,2007.9 736.2,2007.9 738.9,2007.9 741.6,2007.9 744.2,2007.9 746.9,2007.9 749.5,2007.9 752.2,2007.9 754.9,2007.9 757.5,2007.9 760.2,2007.9 762.8,2007.9 765.5,2007.9 768.2,2007.9 770.8,2007.9 773.5,2007.9 776.2,2007.9 778.8,2007.9 781.5,2007.9 784.1,2007.9 786.8,2007.9 789.5,2007.9 792.1,2007.9 794.8,2007.9 797.4,2007.9 800.1,2007.9 802.8,2007.9 805.4,2007.9 808.1,2007.9 810.8,2007.9 813.4,2007.9 816.1,2007.9 818.7,2007.9 821.4,2007.9 824.1,2007.9 826.7,2007.9 829.4,2007.9 832,2007.9 834.7,2007.9 837.4,2007.9" stroke="#000000" stroke-width="4.5" stroke-dasharray="16.65 7.2"/>
<polyline points="198.6,2006.4 201.3,2006.1 204,2005.7 206.6,2005.3 209.3,2004.9 211.9,2004.3 214.6,2003.7 217.3,2003.1 219.9,2002.3 222.6,2001.5 225.2,2000.6 227.9,1999.6 230.6,1998.5 233.2,1997.3 235.9,1995.9 238.6,1994.4 241.2,1992.8 243.9,1990.9 246.5,1988.7 249.2,1986.3 251.9,1983.4 254.5,1980.2 257.2,1976.5 259.8,1972.3 262.5,1967.6 265.2,1962.4 267.8,1956.6 270.5,1950.3 273.2,1943.4 275.8,1936.1 278.5,1928.3 281.1,1920.1 283.8,1911.5 286.5,1902.7 289.1,1893.7 291.8,1884.6 294.4,1875.3 297.1,1865.9 299.8,1856.4 302.4,1846.7 305.1,1837 307.8,1827 310.4,1816.9 313.1,1806.8 315.7,1796.6 318.4,1786.4 321.1,1776.4 323.7,1766.6 326.4,1757.2 329,1748.3 331.7,1740 334.4,1732.3 337,1725.4 339.7,1719.3 342.4,1714.1 345,1709.8 347.7,1706.5 350.3,1704.1 353,1702.8 355.7,1702.4 358.3,1703 361,1704.6 363.6,1707.1 366.3,1710.5 369,1714.8 371.6,1720.1 374.3,1726.1 376.9,1733 379.6,1740.7 382.3,1749.1 384.9,1758.3 387.6,1768.1 390.3,1778.6 392.9,1789.6 395.6,1801.1 398.2,1813 400.9,1825.2 403.6,1837.6 406.2,1850 408.9,1862.5 411.5,1874.7 414.2,1886.7 416.9,1898.2 419.5,1909.3 422.2,1919.7 424.9,1929.5 427.5,1938.6 430.2,1947.1 432.8,1954.9 435.5,1962.1 438.2,1968.7 440.8,1974.9 443.5,1980.6 446.1,1986 448.8,1991 451.5,1995.7 454.1,2000.1 456.8,2004.2 459.4,2008 462.1,2011.4 464.8,2014.4 467.4,2017 470.1,2019.2 472.8,2021 475.4,2022.5 478.1,2023.5 480.7,2024.3 483.4,2024.9 486.1,2025.2 488.7,2025.4 491.4,2025.5 494,2025.6 496.7,2025.6 499.4,2025.5 502,2025.5 504.7,2025.4 507.4,2025.3 510,2025.2 512.7,2025.1 515.3,2025 518,2024.8 520.7,2024.6 523.3,2024.4 526,2024.2 528.6,2023.9 531.3,2023.6 534,2023.2 536.6,2022.8 539.3,2022.4 542,2021.9 544.6,2021.4 547.3,2020.9 549.9,2020.4 552.6,2019.8 555.3,2019.2 557.9,2018.6 560.6,2018 563.2,2017.4 565.9,2016.8 568.6,2016.1 571.2,2015.5 573.9,2014.9 576.5,2014.3 579.2,2013.6 581.9,2013 584.5,2012.4 587.2,2011.9 589.9,2011.3 592.5,2010.7 595.2,2010.2 597.8,2009.7 600.5,2009.3 603.2,2008.8 605.8,2008.4 608.5,2008 611.1,2007.7 613.8,2007.3 616.5,2007 619.1,2006.7 621.8,2006.5 624.5,2006.3 627.1,2006.1 629.8,2005.9 632.4,2005.8 635.1,2005.7 637.8,2005.6 640.4,2005.5 643.1,2005.5 645.7,2005.4 648.4,2005.4 651.1,2005.4 653.7,2005.4 656.4,2005.5 659.1,2005.5 661.7,2005.6 664.4,2005.7 667,2005.7 669.7,2005.8 672.4,2005.9 675,2006 677.7,2006.1 680.3,2006.2 683,2006.3 685.7,2006.4 688.3,2006.5 691,2006.6 693.7,2006.7 696.3,2006.8 699,2006.9 701.6,2007 704.3,2007.1 707,2007.2 709.6,2007.2 712.3,2007.3 714.9,2007.4 717.6,2007.4 720.3,2007.5 722.9,2007.5 725.6,2007.6 728.2,2007.6 730.9,2007.7 733.6,2007.7 736.2,2007.8 738.9,2007.8 741.6,2007.8 744.2,2007.8 746.9,2007.9 749.5,2007.9 752.2,2007.9 754.9,2007.9 757.5,2007.9 760.2,2007.9 762.8,2007.9 765.5,2007.9 768.2,2008 770.8,2008 773.5,2008 776.2,2008 778.8,2008 781.5,2008 784.1,2008 786.8,2008 789.5,2008 792.1,2008 794.8,2008 797.4,2008 800.1,2008 802.8,2008 805.4,2008 808.1,2008 810.8,2008 813.4,2008 816.1,2008 818.7,2008 821.4,2008 824.1,2008 826.7,2008 829.4,2008 832,2008 834.7,2008 837.4,2008" stroke="#17becf" stroke-width="4.5" stroke-linecap="square"/>
<polyline points="198.6,2005.9 201.3,2005.5 204,2005 206.6,2004.5 209.3,2003.9 211.9,2003.2 214.6,2002.4 217.3,2001.6 219.9,2000.6 222.6,1999.5 225.2,1998.3 227.9,1996.9 230.6,1995.5 233.2,1993.8 235.9,1992 238.6,1990 241.2,1987.8 243.9,1985.2 246.5,1982.4 249.2,1979.2 251.9,1975.6 254.5,1971.5 257.2,1966.8 259.8,1961.7 262.5,1955.9 265.2,1949.5 267.8,1942.5 270.5,1934.9 273.2,1926.7 275.8,1918 278.5,1908.8 281.1,1899.1 283.8,1889.1 286.5,1878.8 289.1,1868.2 291.8,1857.5 294.4,1846.7 297.1,1835.8 299.8,1824.7 302.4,1813.6 305.1,1802.4 307.8,1791 310.4,1779.6 313.1,1768.2 315.7,1756.8 318.4,1745.6 321.1,1734.5 323.7,1723.9 326.4,1713.7 329,1704 331.7,1695.1 334.4,1687 337,1679.8 339.7,1673.6 342.4,1668.4 345,1664.3 347.7,1661.3 350.3,1659.4 353,1658.7 355.7,1659.1 358.3,1660.6 361,1663.2 363.6,1666.9 366.3,1671.7 369,1677.4 371.6,1684.2 374.3,1691.8 376.9,1700.4 379.6,1709.7 382.3,1719.9 384.9,1730.8 387.6,1742.3 390.3,1754.4 392.9,1767.1 395.6,1780.1 398.2,1793.5 400.9,1807.2 403.6,1821 406.2,1834.8 408.9,1848.5 411.5,1862 414.2,1875.2 416.9,1887.9 419.5,1900 422.2,1911.5 424.9,1922.3 427.5,1932.3 430.2,1941.6 432.8,1950.2 435.5,1958.2 438.2,1965.4 440.8,1972.1 443.5,1978.3 446.1,1983.9 448.8,1989.1 451.5,1993.9 454.1,1998.2 456.8,2002.1 459.4,2005.6 462.1,2008.6 464.8,2011.2 467.4,2013.4 470.1,2015.1 472.8,2016.4 475.4,2017.3 478.1,2017.9 480.7,2018.3 483.4,2018.3 486.1,2018.2 488.7,2018 491.4,2017.7 494,2017.2 496.7,2016.8 499.4,2016.3 502,2015.9 504.7,2015.4 507.4,2015 510,2014.5 512.7,2014.1 515.3,2013.7 518,2013.3 520.7,2012.9 523.3,2012.6 526,2012.2 528.6,2011.9 531.3,2011.5 534,2011.2 536.6,2010.9 539.3,2010.6 542,2010.4 544.6,2010.1 547.3,2009.9 549.9,2009.7 552.6,2009.5 555.3,2009.3 557.9,2009.1 560.6,2009 563.2,2008.8 565.9,2008.7 568.6,2008.6 571.2,2008.5 573.9,2008.4 576.5,2008.3 579.2,2008.3 581.9,2008.2 584.5,2008.2 587.2,2008.1 589.9,2008.1 592.5,2008.1 595.2,2008.1 597.8,2008 600.5,2008 603.2,2008 605.8,2008 608.5,2008 611.1,2008 613.8,2008 616.5,2008 619.1,2008 621.8,2008 624.5,2007.9 627.1,2007.9 629.8,2007.9 632.4,2007.9 635.1,2007.9 637.8,2007.9 640.4,2007.9 643.1,2007.9 645.7,2007.9 648.4,2007.9 651.1,2007.9 653.7,2007.9 656.4,2007.9 659.1,2007.9 661.7,2007.9 664.4,2007.9 667,2007.9 669.7,2007.9 672.4,2007.9 675,2007.9 677.7,2007.9 680.3,2007.9 683,2007.9 685.7,2007.9 688.3,2007.9 691,2007.9 693.7,2007.9 696.3,2007.9 699,2007.9 701.6,2007.9 704.3,2007.9 707,2007.9 709.6,2007.9 712.3,2007.9 714.9,2007.9 717.6,2007.9 720.3,2007.9 722.9,2007.9 725.6,2007.9 728.2,2007.9 730.9,2007.9 733.6,2007.9 736.2,2007.9 738.9,2007.9 741.6,2007.9 744.2,2007.9 746.9,2007.9 749.5,2007.9 752.2,2007.9 754.9,2007.9 757.5,2007.9 760.2,2007.9 762.8,2007.9 765.5,2007.9 768.2,2007.9 770.8,2007.9 773.5,2007.9 776.2,2007.9 778.8,2007.9 781.5,2007.9 784.1,2007.9 786.8,2007.9 789.5,2007.9 792.1,2007.9 794.8,2007.9 797.4,2007.9 800.1,2007.9 802.8,2007.9 805.4,2007.9 808.1,2007.9 810.8,2007.9 813.4,2007.9 816.1,2007.9 818.7,2007.9 821.4,2007.9 824.1,2007.9 826.7,2007.9 829.4,2007.9 832,2007.9 834.7,2007.9 837.4,2007.9" stroke="#17becf" stroke-width="4.5" stroke-dasharray="16.65 7.2"/>
<polyline points="198.6,2006.4 201.3,2006.1 204,2005.8 206.6,2005.4 209.3,2004.9 211.9,2004.4 214.6,2003.8 217.3,2003.1 219.9,2002.4 222.6,2001.6 225.2,2000.7 227.9,1999.7 230.6,1998.6 233.2,1997.4 235.9,1996.1 238.6,1994.6 241.2,1993 243.9,1991.1 246.5,1989 249.2,1986.5 251.9,1983.7 254.5,1980.5 257.2,1976.9 259.8,1972.7 262.5,1968.1 265.2,1962.9 267.8,1957.1 270.5,1950.8 273.2,1944 275.8,1936.8 278.5,1929 281.1,1920.9 283.8,1912.4 286.5,1903.7 289.1,1894.8 291.8,1885.7 294.4,1876.4 297.1,1867.1 299.8,1857.7 302.4,1848.1 305.1,1838.4 307.8,1828.5 310.4,1818.5 313.1,1808.4 315.7,1798.2 318.4,1788.2 321.1,1778.2 323.7,1768.5 326.4,1759.2 329,1750.3 331.7,1742.1 334.4,1734.5 337,1727.6 339.7,1721.6 342.4,1716.4 345,1712.2 347.7,1708.9 350.3,1706.6 353,1705.2 355.7,1704.8 358.3,1705.4 361,1707 363.6,1709.4 366.3,1712.8 369,1717.1 371.6,1722.3 374.3,1728.3 376.9,1735.1 379.6,1742.7 382.3,1751.1 384.9,1760.1 387.6,1769.9 390.3,1780.2 392.9,1791.1 395.6,1802.5 398.2,1814.2 400.9,1826.3 403.6,1838.6 406.2,1850.9 408.9,1863.3 411.5,1875.4 414.2,1887.2 416.9,1898.7 419.5,1909.6 422.2,1920 424.9,1929.7 427.5,1938.7 430.2,1947.1 432.8,1954.8 435.5,1961.9 438.2,1968.5 440.8,1974.6 443.5,1980.3 446.1,1985.6 448.8,1990.6 451.5,1995.3 454.1,1999.7 456.8,2003.8 459.4,2007.5 462.1,2010.9 464.8,2014 467.4,2016.6 470.1,2018.8 472.8,2020.6 475.4,2022 478.1,2023.1 480.7,2024 483.4,2024.5 486.1,2024.9 488.7,2025.1 491.4,2025.3 494,2025.3 496.7,2025.3 499.4,2025.3 502,2025.3 504.7,2025.2 507.4,2025.2 510,2025.1 512.7,2025 515.3,2024.9 518,2024.7 520.7,2024.6 523.3,2024.4 526,2024.1 528.6,2023.8 531.3,2023.5 534,2023.2 536.6,2022.8 539.3,2022.3 542,2021.9 544.6,2021.4 547.3,2020.9 549.9,2020.3 552.6,2019.8 555.3,2019.2 557.9,2018.6 560.6,2018 563.2,2017.4 565.9,2016.8 568.6,2016.1 571.2,2015.5 573.9,2014.9 576.5,2014.3 579.2,2013.6 581.9,2013 584.5,2012.4 587.2,2011.9 589.9,2011.3 592.5,2010.7 595.2,2010.2 597.8,2009.7 600.5,2009.3 603.2,2008.8 605.8,2008.4 608.5,2008 611.1,2007.7 613.8,2007.3 616.5,2007 619.1,2006.7 621.8,2006.5 624.5,2006.3 627.1,2006.1 629.8,2005.9 632.4,2005.8 635.1,2005.7 637.8,2005.6 640.4,2005.5 643.1,2005.5 645.7,2005.4 648.4,2005.4 651.1,2005.4 653.7,2005.4 656.4,2005.5 659.1,2005.5 661.7,2005.6 664.4,2005.7 667,2005.7 669.7,2005.8 672.4,2005.9 675,2006 677.7,2006.1 680.3,2006.2 683,2006.3 685.7,2006.4 688.3,2006.5 691,2006.6 693.7,2006.7 696.3,2006.8 699,2006.9 701.6,2007 704.3,2007.1 707,2007.2 709.6,2007.2 712.3,2007.3 714.9,2007.4 717.6,2007.4 720.3,2007.5 722.9,2007.5 725.6,2007.6 728.2,2007.6 730.9,2007.7 733.6,2007.7 736.2,2007.8 738.9,2007.8 741.6,2007.8 744.2,2007.8 746.9,2007.9 749.5,2007.9 752.2,2007.9 754.9,2007.9 757.5,2007.9 760.2,2007.9 762.8,2007.9 765.5,2007.9 768.2,2008 770.8,2008 773.5,2008 776.2,2008 778.8,2008 781.5,2008 784.1,2008 786.8,2008 789.5,2008 792.1,2008 794.8,2008 797.4,2008 800.1,2008 802.8,2008 805.4,2008 808.1,2008 810.8,2008 813.4,2008 816.1,2008 818.7,2008 821.4,2008 824.1,2008 826.7,2008 829.4,2008 832,2008 834.7,2008 837.4,2008" stroke="#1f77b4" stroke-width="4.5" stroke-linecap="square"/>
<polyline points="198.6,2005.9 201.3,2005.5 204,2005.1 206.6,2004.5 209.3,2003.9 211.9,2003.3 214.6,2002.5 217.3,2001.6 219.9,2000.7 222.6,1999.6 225.2,1998.4 227.9,1997 230.6,1995.6 233.2,1994 235.9,1992.2 238.6,1990.2 241.2,1988 243.9,1985.5 246.5,1982.7 249.2,1979.5 251.9,1975.9 254.5,1971.8 257.2,1967.3 259.8,1962.1 262.5,1956.4 265.2,1950.1 267.8,1943.1 270.5,1935.6 273.2,1927.5 275.8,1918.9 278.5,1909.8 281.1,1900.2 283.8,1890.3 286.5,1880.1 289.1,1869.6 291.8,1859 294.4,1848.3 297.1,1837.5 299.8,1826.6 302.4,1815.6 305.1,1804.5 307.8,1793.2 310.4,1782 313.1,1770.7 315.7,1759.4 318.4,1748.2 321.1,1737.3 323.7,1726.7 326.4,1716.6 329,1707.1 331.7,1698.3 334.4,1690.3 337,1683.2 339.7,1677 342.4,1671.9 345,1667.8 347.7,1664.8 350.3,1663 353,1662.2 355.7,1662.6 358.3,1664.1 361,1666.7 363.6,1670.4 366.3,1675.1 369,1680.8 371.6,1687.4 374.3,1695 376.9,1703.5 379.6,1712.8 382.3,1722.8 384.9,1733.6 387.6,1745 390.3,1757 392.9,1769.5 395.6,1782.4 398.2,1795.7 400.9,1809.2 403.6,1822.9 406.2,1836.6 408.9,1850.2 411.5,1863.5 414.2,1876.5 416.9,1889.1 419.5,1901.1 422.2,1912.4 424.9,1923.1 427.5,1933.1 430.2,1942.3 432.8,1950.8 435.5,1958.7 438.2,1965.9 440.8,1972.5 443.5,1978.6 446.1,1984.2 448.8,1989.3 451.5,1994 454.1,1998.3 456.8,2002.2 459.4,2005.6 462.1,2008.6 464.8,2011.2 467.4,2013.3 470.1,2015 472.8,2016.3 475.4,2017.2 478.1,2017.8 480.7,2018.2 483.4,2018.2 486.1,2018.1 488.7,2017.9 491.4,2017.6 494,2017.2 496.7,2016.7 499.4,2016.3 502,2015.8 504.7,2015.3 507.4,2014.9 510,2014.5 512.7,2014.1 515.3,2013.7 518,2013.3 520.7,2012.9 523.3,2012.5 526,2012.2 528.6,2011.8 531.3,2011.5 534,2011.2 536.6,2010.9 539.3,2010.6 542,2010.3 544.6,2010.1 547.3,2009.9 549.9,2009.6 552.6,2009.4 555.3,2009.3 557.9,2009.1 560.6,2008.9 563.2,2008.8 565.9,2008.7 568.6,2008.6 571.2,2008.5 573.9,2008.4 576.5,2008.3 579.2,2008.3 581.9,2008.2 584.5,2008.2 587.2,2008.1 589.9,2008.1 592.5,2008.1 595.2,2008.1 597.8,2008 600.5,2008 603.2,2008 605.8,2008 608.5,2008 611.1,2008 613.8,2008 616.5,2008 619.1,2008 621.8,2008 624.5,2007.9 627.1,2007.9 629.8,2007.9 632.4,2007.9 635.1,2007.9 637.8,2007.9 640.4,2007.9 643.1,2007.9 645.7,2007.9 648.4,2007.9 651.1,2007.9 653.7,2007.9 656.4,2007.9 659.1,2007.9 661.7,2007.9 664.4,2007.9 667,2007.9 669.7,2007.9 672.4,2007.9 675,2007.9 677.7,2007.9 680.3,2007.9 683,2007.9 685.7,2007.9 688.3,2007.9 691,2007.9 693.7,2007.9 696.3,2007.9 699,2007.9 701.6,2007.9 704.3,2007.9 707,2007.9 709.6,2007.9 712.3,2007.9 714.9,2007.9 717.6,2007.9 720.3,2007.9 722.9,2007.9 725.6,2007.9 728.2,2007.9 730.9,2007.9 733.6,2007.9 736.2,2007.9 738.9,2007.9 741.6,2007.9 744.2,2007.9 746.9,2007.9 749.5,2007.9 752.2,2007.9 754.9,2007.9 757.5,2007.9 760.2,2007.9 762.8,2007.9 765.5,2007.9 768.2,2007.9 770.8,2007.9 773.5,2007.9 776.2,2007.9 778.8,2007.9 781.5,2007.9 784.1,2007.9 786.8,2007.9 789.5,2007.9 792.1,2007.9 794.8,2007.9 797.4,2007.9 800.1,2007.9 802.8,2007.9 805.4,2007.9 808.1,2007.9 810.8,2007.9 813.4,2007.9 816.1,2007.9 818.7,2007.9 821.4,2007.9 824.1,2007.9 826.7,2007.9 829.4,2007.9 832,2007.9 834.7,2007.9 837.4,2007.9" stroke="#1f77b4" stroke-width="4.5" stroke-dasharray="16.65 7.2"/>
<polyline points="198.6,2006.4 201.3,2006.1 204,2005.8 206.6,2005.4 209.3,2004.9 211.9,2004.4 214.6,2003.8 217.3,2003.2 219.9,2002.5 222.6,2001.7 225.2,2000.8 227.9,1999.8 230.6,1998.7 233.2,1997.5 235.9,1996.2 238.6,1994.8 241.2,1993.2 243.9,1991.3 246.5,1989.2 249.2,1986.8 251.9,1984 254.5,1980.9 257.2,1977.3 259.8,1973.1 262.5,1968.5 265.2,1963.4 267.8,1957.7 270.5,1951.4 273.2,1944.7 275.8,1937.5 278.5,1929.8 281.1,1921.7 283.8,1913.3 286.5,1904.7 289.1,1895.8 291.8,1886.8 294.4,1877.6 297.1,1868.4 299.8,1859 302.4,1849.5 305.1,1839.8 307.8,1830 310.4,1820.1 313.1,1810 315.7,1800 318.4,1790 321.1,1780.1 323.7,1770.5 326.4,1761.2 329,1752.4 331.7,1744.2 334.4,1736.7 337,1729.9 339.7,1723.9 342.4,1718.8 345,1714.6 347.7,1711.4 350.3,1709.1 353,1707.7 355.7,1707.4 358.3,1708 361,1709.5 363.6,1711.9 366.3,1715.3 369,1719.5 371.6,1724.6 374.3,1730.5 376.9,1737.3 379.6,1744.8 382.3,1753.1 384.9,1762 387.6,1771.6 390.3,1781.9 392.9,1792.7 395.6,1803.9 398.2,1815.6 400.9,1827.5 403.6,1839.7 406.2,1851.9 408.9,1864.1 411.5,1876.1 414.2,1887.8 416.9,1899.1 419.5,1909.9 422.2,1920.2 424.9,1929.8 427.5,1938.7 430.2,1947 432.8,1954.6 435.5,1961.7 438.2,1968.2 440.8,1974.3 443.5,1979.9 446.1,1985.2 448.8,1990.2 451.5,1994.8 454.1,1999.2 456.8,2003.3 459.4,2007 462.1,2010.4 464.8,2013.5 467.4,2016.1 470.1,2018.3 472.8,2020.1 475.4,2021.6 478.1,2022.7 480.7,2023.5 483.4,2024.1 486.1,2024.5 488.7,2024.8 491.4,2024.9 494,2025 496.7,2025.1 499.4,2025.1 502,2025.1 504.7,2025 507.4,2025 510,2025 512.7,2024.9 515.3,2024.8 518,2024.7 520.7,2024.5 523.3,2024.3 526,2024.1 528.6,2023.8 531.3,2023.5 534,2023.1 536.6,2022.7 539.3,2022.3 542,2021.9 544.6,2021.4 547.3,2020.9 549.9,2020.3 552.6,2019.8 555.3,2019.2 557.9,2018.6 560.6,2018 563.2,2017.4 565.9,2016.8 568.6,2016.1 571.2,2015.5 573.9,2014.9 576.5,2014.2 579.2,2013.6 581.9,2013 584.5,2012.4 587.2,2011.9 589.9,2011.3 592.5,2010.7 595.2,2010.2 597.8,2009.7 600.5,2009.3 603.2,2008.8 605.8,2008.4 608.5,2008 611.1,2007.6 613.8,2007.3 616.5,2007 619.1,2006.7 621.8,2006.5 624.5,2006.3 627.1,2006.1 629.8,2005.9 632.4,2005.8 635.1,2005.7 637.8,2005.6 640.4,2005.5 643.1,2005.5 645.7,2005.4 648.4,2005.4 651.1,2005.4 653.7,2005.4 656.4,2005.5 659.1,2005.5 661.7,2005.6 664.4,2005.7 667,2005.7 669.7,2005.8 672.4,2005.9 675,2006 677.7,2006.1 680.3,2006.2 683,2006.3 685.7,2006.4 688.3,2006.5 691,2006.6 693.7,2006.7 696.3,2006.8 699,2006.9 701.6,2007 704.3,2007.1 707,2007.2 709.6,2007.2 712.3,2007.3 714.9,2007.4 717.6,2007.4 720.3,2007.5 722.9,2007.5 725.6,2007.6 728.2,2007.6 730.9,2007.7 733.6,2007.7 736.2,2007.8 738.9,2007.8 741.6,2007.8 744.2,2007.8 746.9,2007.9 749.5,2007.9 752.2,2007.9 754.9,2007.9 757.5,2007.9 760.2,2007.9 762.8,2007.9 765.5,2007.9 768.2,2008 770.8,2008 773.5,2008 776.2,2008 778.8,2008 781.5,2008 784.1,2008 786.8,2008 789.5,2008 792.1,2008 794.8,2008 797.4,2008 800.1,2008 802.8,2008 805.4,2008 808.1,2008 810.8,2008 813.4,2008 816.1,2008 818.7,2008 821.4,2008 824.1,2008 826.7,2008 829.4,2008 832,2008 834.7,2008 837.4,2008" stroke="#9467bd" stroke-width="4.5" stroke-linecap="square"/>
<polyline points="198.6,2005.9 201.3,2005.5 204,2005.1 206.6,2004.6 209.3,2004 211.9,2003.3 214.6,2002.6 217.3,2001.7 219.9,2000.7 222.6,1999.7 225.2,1998.5 227.9,1997.2 230.6,1995.7 233.2,1994.1 235.9,1992.3 238.6,1990.4 241.2,1988.2 243.9,1985.7 246.5,1982.9 249.2,1979.8 251.9,1976.3 254.5,1972.2 257.2,1967.7 259.8,1962.6 262.5,1957 265.2,1950.7 267.8,1943.8 270.5,1936.4 273.2,1928.4 275.8,1919.9 278.5,1910.8 281.1,1901.4 283.8,1891.6 286.5,1881.5 289.1,1871.1 291.8,1860.7 294.4,1850.1 297.1,1839.4 299.8,1828.6 302.4,1817.7 305.1,1806.7 307.8,1795.6 310.4,1784.4 313.1,1773.2 315.7,1762.1 318.4,1751 321.1,1740.2 323.7,1729.8 326.4,1719.8 329,1710.4 331.7,1701.7 334.4,1693.7 337,1686.7 339.7,1680.6 342.4,1675.5 345,1671.5 347.7,1668.5 350.3,1666.7 353,1666 355.7,1666.4 358.3,1667.8 361,1670.4 363.6,1674 366.3,1678.7 369,1684.3 371.6,1690.9 374.3,1698.4 376.9,1706.8 379.6,1716 382.3,1725.9 384.9,1736.6 387.6,1747.8 390.3,1759.7 392.9,1772.1 395.6,1784.9 398.2,1798 400.9,1811.4 403.6,1824.9 406.2,1838.4 408.9,1851.9 411.5,1865.1 414.2,1877.9 416.9,1890.4 419.5,1902.2 422.2,1913.5 424.9,1924 427.5,1933.9 430.2,1943 432.8,1951.4 435.5,1959.2 438.2,1966.3 440.8,1972.9 443.5,1978.9 446.1,1984.4 448.8,1989.5 451.5,1994.2 454.1,1998.4 456.8,2002.2 459.4,2005.6 462.1,2008.6 464.8,2011.1 467.4,2013.2 470.1,2014.9 472.8,2016.2 475.4,2017.1 478.1,2017.7 480.7,2018 483.4,2018.1 486.1,2018 488.7,2017.8 491.4,2017.5 494,2017.1 496.7,2016.6 499.4,2016.2 502,2015.7 504.7,2015.3 507.4,2014.8 510,2014.4 512.7,2014 515.3,2013.6 518,2013.2 520.7,2012.8 523.3,2012.5 526,2012.1 528.6,2011.8 531.3,2011.5 534,2011.2 536.6,2010.9 539.3,2010.6 542,2010.3 544.6,2010.1 547.3,2009.8 549.9,2009.6 552.6,2009.4 555.3,2009.2 557.9,2009.1 560.6,2008.9 563.2,2008.8 565.9,2008.7 568.6,2008.6 571.2,2008.5 573.9,2008.4 576.5,2008.3 579.2,2008.3 581.9,2008.2 584.5,2008.2 587.2,2008.1 589.9,2008.1 592.5,2008.1 595.2,2008.1 597.8,2008 600.5,2008 603.2,2008 605.8,2008 608.5,2008 611.1,2008 613.8,2008 616.5,2008 619.1,2008 621.8,2008 624.5,2007.9 627.1,2007.9 629.8,2007.9 632.4,2007.9 635.1,2007.9 637.8,2007.9 640.4,2007.9 643.1,2007.9 645.7,2007.9 648.4,2007.9 651.1,2007.9 653.7,2007.9 656.4,2007.9 659.1,2007.9 661.7,2007.9 664.4,2007.9 667,2007.9 669.7,2007.9 672.4,2007.9 675,2007.9 677.7,2007.9 680.3,2007.9 683,2007.9 685.7,2007.9 688.3,2007.9 691,2007.9 693.7,2007.9 696.3,2007.9 699,2007.9 701.6,2007.9 704.3,2007.9 707,2007.9 709.6,2007.9 712.3,2007.9 714.9,2007.9 717.6,2007.9 720.3,2007.9 722.9,2007.9 725.6,2007.9 728.2,2007.9 730.9,2007.9 733.6,2007.9 736.2,2007.9 738.9,2007.9 741.6,2007.9 744.2,2007.9 746.9,2007.9 749.5,2007.9 752.2,2007.9 754.9,2007.9 757.5,2007.9 760.2,2007.9 762.8,2007.9 765.5,2007.9 768.2,2007.9 770.8,2007.9 773.5,2007.9 776.2,2007.9 778.8,2007.9 781.5,2007.9 784.1,2007.9 786.8,2007.9 789.5,2007.9 792.1,2007.9 794.8,2007.9 797.4,2007.9 800.1,2007.9 802.8,2007.9 805.4,2007.9 808.1,2007.9 810.8,2007.9 813.4,2007.9 816.1,2007.9 818.7,2007.9 821.4,2007.9 824.1,2007.9 826.7,2007.9 829.4,2007.9 832,2007.9 834.7,2007.9 837.4,2007.9" stroke="#9467bd" stroke-width="4.5" stroke-dasharray="16.65 7.2"/>
<polyline points="198.6,2006.4 201.3,2006.1 204,2005.8 206.6,2005.4 209.3,2005 211.9,2004.5 214.6,2003.9 217.3,2003.2 219.9,2002.5 222.6,2001.7 225.2,2000.8 227.9,1999.9 230.6,1998.8 233.2,1997.6 235.9,1996.3 238.6,1994.9 241.2,1993.3 243.9,1991.4 246.5,1989.4 249.2,1987 251.9,1984.2 254.5,1981.1 257.2,1977.5 259.8,1973.4 262.5,1968.8 265.2,1963.7 267.8,1958 270.5,1951.9 273.2,1945.2 275.8,1938 278.5,1930.3 281.1,1922.3 283.8,1914 286.5,1905.4 289.1,1896.5 291.8,1887.6 294.4,1878.5 297.1,1869.2 299.8,1859.9 302.4,1850.4 305.1,1840.8 307.8,1831.1 310.4,1821.2 313.1,1811.2 315.7,1801.2 318.4,1791.3 321.1,1781.4 323.7,1771.9 326.4,1762.7 329,1753.9 331.7,1745.8 334.4,1738.3 337,1731.5 339.7,1725.6 342.4,1720.5 345,1716.4 347.7,1713.1 350.3,1710.9 353,1709.5 355.7,1709.2 358.3,1709.7 361,1711.2 363.6,1713.7 366.3,1717 369,1721.2 371.6,1726.3 374.3,1732.2 376.9,1738.9 379.6,1746.3 382.3,1754.5 384.9,1763.4 387.6,1773 390.3,1783.2 392.9,1793.9 395.6,1805.1 398.2,1816.6 400.9,1828.5 403.6,1840.6 406.2,1852.7 408.9,1864.8 411.5,1876.8 414.2,1888.4 416.9,1899.6 419.5,1910.4 422.2,1920.6 424.9,1930.1 427.5,1939 430.2,1947.2 432.8,1954.8 435.5,1961.8 438.2,1968.3 440.8,1974.3 443.5,1979.9 446.1,1985.2 448.8,1990.1 451.5,1994.7 454.1,1999.1 456.8,2003.1 459.4,2006.9 462.1,2010.3 464.8,2013.3 467.4,2015.9 470.1,2018.1 472.8,2019.9 475.4,2021.4 478.1,2022.5 480.7,2023.4 483.4,2024 486.1,2024.4 488.7,2024.6 491.4,2024.8 494,2024.9 496.7,2024.9 499.4,2025 502,2025 504.7,2025 507.4,2024.9 510,2024.9 512.7,2024.8 515.3,2024.7 518,2024.6 520.7,2024.5 523.3,2024.3 526,2024 528.6,2023.8 531.3,2023.5 534,2023.1 536.6,2022.7 539.3,2022.3 542,2021.8 544.6,2021.4 547.3,2020.8 549.9,2020.3 552.6,2019.8 555.3,2019.2 557.9,2018.6 560.6,2018 563.2,2017.4 565.9,2016.8 568.6,2016.1 571.2,2015.5 573.9,2014.9 576.5,2014.2 579.2,2013.6 581.9,2013 584.5,2012.4 587.2,2011.8 589.9,2011.3 592.5,2010.7 595.2,2010.2 597.8,2009.7 600.5,2009.3 603.2,2008.8 605.8,2008.4 608.5,2008 611.1,2007.6 613.8,2007.3 616.5,2007 619.1,2006.7 621.8,2006.5 624.5,2006.3 627.1,2006.1 629.8,2005.9 632.4,2005.8 635.1,2005.7 637.8,2005.6 640.4,2005.5 643.1,2005.5 645.7,2005.4 648.4,2005.4 651.1,2005.4 653.7,2005.4 656.4,2005.5 659.1,2005.5 661.7,2005.6 664.4,2005.7 667,2005.7 669.7,2005.8 672.4,2005.9 675,2006 677.7,2006.1 680.3,2006.2 683,2006.3 685.7,2006.4 688.3,2006.5 691,2006.6 693.7,2006.7 696.3,2006.8 699,2006.9 701.6,2007 704.3,2007.1 707,2007.2 709.6,2007.2 712.3,2007.3 714.9,2007.4 717.6,2007.4 720.3,2007.5 722.9,2007.5 725.6,2007.6 728.2,2007.6 730.9,2007.7 733.6,2007.7 736.2,2007.8 738.9,2007.8 741.6,2007.8 744.2,2007.8 746.9,2007.9 749.5,2007.9 752.2,2007.9 754.9,2007.9 757.5,2007.9 760.2,2007.9 762.8,2007.9 765.5,2007.9 768.2,2008 770.8,2008 773.5,2008 776.2,2008 778.8,2008 781.5,2008 784.1,2008 786.8,2008 789.5,2008 792.1,2008 794.8,2008 797.4,2008 800.1,2008 802.8,2008 805.4,2008 808.1,2008 810.8,2008 813.4,2008 816.1,2008 818.7,2008 821.4,2008 824.1,2008 826.7,2008 829.4,2008 832,2008 834.7,2008 837.4,2008" stroke="#ff7f0e" stroke-width="4.5" stroke-linecap="square"/>
<polyline points="198.6,2005.9 201.3,2005.5 204,2005.1 206.6,2004.6 209.3,2004 211.9,2003.3 214.6,2002.6 217.3,2001.7 219.9,2000.8 222.6,1999.7 225.2,1998.5 227.9,1997.2 230.6,1995.8 233.2,1994.2 235.9,1992.4 238.6,1990.5 241.2,1988.3 243.9,1985.9 246.5,1983.1 249.2,1980 251.9,1976.5 254.5,1972.5 257.2,1968 259.8,1962.9 262.5,1957.3 265.2,1951.1 267.8,1944.3 270.5,1936.9 273.2,1928.9 275.8,1920.4 278.5,1911.5 281.1,1902.1 283.8,1892.3 286.5,1882.3 289.1,1872 291.8,1861.6 294.4,1851.1 297.1,1840.5 299.8,1829.7 302.4,1818.9 305.1,1808 307.8,1797 310.4,1785.9 313.1,1774.8 315.7,1763.7 318.4,1752.7 321.1,1742 323.7,1731.6 326.4,1721.7 329,1712.3 331.7,1703.7 334.4,1695.8 337,1688.8 339.7,1682.7 342.4,1677.7 345,1673.7 347.7,1670.8 350.3,1668.9 353,1668.2 355.7,1668.6 358.3,1670.1 361,1672.6 363.6,1676.2 366.3,1680.8 369,1686.4 371.6,1693 374.3,1700.4 376.9,1708.8 379.6,1717.9 382.3,1727.8 384.9,1738.3 387.6,1749.5 390.3,1761.3 392.9,1773.6 395.6,1786.3 398.2,1799.4 400.9,1812.7 403.6,1826.1 406.2,1839.6 408.9,1852.9 411.5,1866 414.2,1878.8 416.9,1891.1 419.5,1902.9 422.2,1914.1 424.9,1924.6 427.5,1934.4 430.2,1943.4 432.8,1951.8 435.5,1959.5 438.2,1966.6 440.8,1973.1 443.5,1979.1 446.1,1984.6 448.8,1989.6 451.5,1994.3 454.1,1998.5 456.8,2002.3 459.4,2005.7 462.1,2008.6 464.8,2011.1 467.4,2013.2 470.1,2014.9 472.8,2016.2 475.4,2017.1 478.1,2017.7 480.7,2018 483.4,2018.1 486.1,2018 488.7,2017.7 491.4,2017.4 494,2017 496.7,2016.6 499.4,2016.1 502,2015.7 504.7,2015.2 507.4,2014.8 510,2014.4 512.7,2014 515.3,2013.6 518,2013.2 520.7,2012.8 523.3,2012.4 526,2012.1 528.6,2011.8 531.3,2011.4 534,2011.1 536.6,2010.8 539.3,2010.6 542,2010.3 544.6,2010.1 547.3,2009.8 549.9,2009.6 552.6,2009.4 555.3,2009.2 557.9,2009.1 560.6,2008.9 563.2,2008.8 565.9,2008.7 568.6,2008.6 571.2,2008.5 573.9,2008.4 576.5,2008.3 579.2,2008.3 581.9,2008.2 584.5,2008.2 587.2,2008.1 589.9,2008.1 592.5,2008.1 595.2,2008.1 597.8,2008 600.5,2008 603.2,2008 605.8,2008 608.5,2008 611.1,2008 613.8,2008 616.5,2008 619.1,2008 621.8,2008 624.5,2007.9 627.1,2007.9 629.8,2007.9 632.4,2007.9 635.1,2007.9 637.8,2007.9 640.4,2007.9 643.1,2007.9 645.7,2007.9 648.4,2007.9 651.1,2007.9 653.7,2007.9 656.4,2007.9 659.1,2007.9 661.7,2007.9 664.4,2007.9 667,2007.9 669.7,2007.9 672.4,2007.9 675,2007.9 677.7,2007.9 680.3,2007.9 683,2007.9 685.7,2007.9 688.3,2007.9 691,2007.9 693.7,2007.9 696.3,2007.9 699,2007.9 701.6,2007.9 704.3,2007.9 707,2007.9 709.6,2007.9 712.3,2007.9 714.9,2007.9 717.6,2007.9 720.3,2007.9 722.9,2007.9 725.6,2007.9 728.2,2007.9 730.9,2007.9 733.6,2007.9 736.2,2007.9 738.9,2007.9 741.6,2007.9 744.2,2007.9 746.9,2007.9 749.5,2007.9 752.2,2007.9 754.9,2007.9 757.5,2007.9 760.2,2007.9 762.8,2007.9 765.5,2007.9 768.2,2007.9 770.8,2007.9 773.5,2007.9 776.2,2007.9 778.8,2007.9 781.5,2007.9 784.1,2007.9 786.8,2007.9 789.5,2007.9 792.1,2007.9 794.8,2007.9 797.4,2007.9 800.1,2007.9 802.8,2007.9 805.4,2007.9 808.1,2007.9 810.8,2007.9 813.4,2007.9 816.1,2007.9 818.7,2007.9 821.4,2007.9 824.1,2007.9 826.7,2007.9 829.4,2007.9 832,2007.9 834.7,2007.9 837.4,2007.9" stroke="#ff7f0e" stroke-width="4.5" stroke-dasharray="16.65 7.2"/>
<path d="M166.7 2007.94H869.3" stroke="#000" stroke-width="1.5"/>
</g>
<path d="M198.64 2064v11.03M411.55 2064v11.03M624.45 2064v11.03M837.36 2064v11.03M166.7 2007.94h-11.03M166.7 1914.5h-11.03M166.7 1821.06h-11.03M166.7 1727.62h-11.03M166.7 1634.19h-11.03M166.7 1540.75h-11.03" fill="none" stroke="#000" stroke-width="2.5"/>
<path d="M178 2064v6.3M188.89 2064v6.3M262.73 2064v6.3M300.22 2064v6.3M326.82 2064v6.3M347.45 2064v6.3M364.31 2064v6.3M378.57 2064v6.3M390.91 2064v6.3M401.8 2064v6.3M475.64 2064v6.3M513.13 2064v6.3M539.73 2064v6.3M560.36 2064v6.3M577.22 2064v6.3M591.47 2064v6.3M603.82 2064v6.3M614.71 2064v6.3M688.55 2064v6.3M726.04 2064v6.3M752.64 2064v6.3M773.27 2064v6.3M790.13 2064v6.3M804.38 2064v6.3M816.73 2064v6.3M827.62 2064v6.3M166.7 2064h-6.3M166.7 2045.31h-6.3M166.7 2026.62h-6.3M166.7 1989.25h-6.3M166.7 1970.56h-6.3M166.7 1951.88h-6.3M166.7 1933.19h-6.3M166.7 1895.81h-6.3M166.7 1877.12h-6.3M166.7 1858.44h-6.3M166.7 1839.75h-6.3M166.7 1802.38h-6.3M166.7 1783.69h-6.3M166.7 1765h-6.3M166.7 1746.31h-6.3M166.7 1708.94h-6.3M166.7 1690.25h-6.3M166.7 1671.56h-6.3M166.7 1652.88h-6.3M166.7 1615.5h-6.3M166.7 1596.81h-6.3M166.7 1578.12h-6.3M166.7 1559.44h-6.3" fill="none" stroke="#000" stroke-width="2"/>
<rect x="166.7" y="1540.75" width="702.6" height="523.25" fill="none" stroke="#000" stroke-width="2.5"/>
<g font-size="40.95" text-anchor="middle">
<text x="198.64" y="2119">1</text>
<text x="411.55" y="2119">10</text>
<text x="624.45" y="2119">100</text>
<text x="837.36" y="2119">1000</text>
</g>
<g font-size="40.95" text-anchor="end">
<text x="144.7" y="2024.7">0.0</text>
<text x="144.7" y="1931.26">0.5</text>
<text x="144.7" y="1837.82">1.0</text>
<text x="144.7" y="1744.39">1.5</text>
<text x="144.7" y="1650.95">2.0</text>
<text x="144.7" y="1557.51">2.5</text>
</g>
<g transform="translate(518.00 2167.00)" fill="#000">
<text x="-139.50 -110.43 -99.94 -76.81 -40.04 -16.81 -2.01 21.21 36.73 48.73" y="-0.00" font-size="37.80">Diameter [</text>
<text x="63.46 87.39" y="-0.00" font-size="37.80" font-style="italic">nm</text>
<text x="124.16" y="-0.00" font-size="37.80">]</text>
</g>
<g transform="translate(518.00 1521.85)" fill="#000">
<text x="-338.00 -323.27 -300.05 -285.32 -273.32 -262.19 -238.26 -227.77 -212.97 -202.48 -179.35 -168.86 -156.86 -132.90" y="-0.00" font-size="37.80">(e) Initial SO</text>
<text x="-102.82" y="6.23" font-size="26.46">4</text>
<text x="-84.97 -72.97 -53.30 -42.82 -23.00 0.22 12.22 36.15 60.07 96.85 120.81 144.04 159.56 171.55 191.22 201.71 221.53 244.75 256.75 280.71 291.20 310.87 325.67" y="-0.00" font-size="37.80"> size number size dist.</text>
</g>
<g transform="translate(54.00 1804.17) rotate(-90)" fill="#000">
<text transform="translate(-145.63 -0.76) skewX(-10) scale(1.06 0.93)" font-size="37.80">ℰ</text>
<text x="-123.26 -106.49" y="6.23" font-size="26.46" font-style="italic">dN</text>
<text x="-86.72" y="6.23" font-size="26.46">/</text>
<text x="-77.82" y="6.23" font-size="26.46" font-style="italic">d</text>
<text x="-61.04" y="6.23" font-size="26.46">(</text>
<text x="-50.73 -43.39 -26.64" y="6.23" font-size="26.46" font-style="italic">lnD</text>
<text x="-6.30" y="6.23" font-size="26.46">)</text>
<text x="5.05 17.05 31.78 52.53" y="-0.00" font-size="37.80"> [cm</text>
<text x="89.67 111.81" y="-14.55" font-size="26.46">−3</text>
<text x="129.66" y="-0.00" font-size="37.80">]</text>
</g>
<rect x="629.04" y="1557.15" width="224.16" height="239.7" rx="4.73" ry="4.73" fill="#fff" fill-opacity="0.8" stroke="#ccc" stroke-opacity="0.8" stroke-width="2.6"/>
<g font-size="31.5">
<path d="M641.64 1581.95h63" stroke="#000000" stroke-width="4.7" stroke-linecap="square" fill="none"/>
<text x="729.84" y="1593.95">2.5 nm</text>
<path d="M641.64 1628.25h63" stroke="#17becf" stroke-width="4.7" stroke-linecap="square" fill="none"/>
<text x="729.84" y="1640.25">2 nm</text>
<path d="M641.64 1674.55h63" stroke="#1f77b4" stroke-width="4.7" stroke-linecap="square" fill="none"/>
<text x="729.84" y="1686.55">2.2 nm</text>
<path d="M641.64 1720.85h63" stroke="#9467bd" stroke-width="4.7" stroke-linecap="square" fill="none"/>
<text x="729.84" y="1732.85">2.7 nm</text>
<path d="M641.64 1767.15h63" stroke="#ff7f0e" stroke-width="4.7" stroke-linecap="square" fill="none"/>
<text x="729.84" y="1779.15">3 nm</text>
</g>
</g>
<g id="panel-f">
<rect x="1151.4" y="1540.85" width="702.2" height="523.15" fill="#fff"/>
<path d="M1162.7 1540.85V2064M1173.58 1540.85V2064M1247.37 1540.85V2064M1284.84 1540.85V2064M1311.43 1540.85V2064M1332.05 1540.85V2064M1348.9 1540.85V2064M1363.14 1540.85V2064M1375.48 1540.85V2064M1386.37 1540.85V2064M1460.16 1540.85V2064M1497.63 1540.85V2064M1524.22 1540.85V2064M1544.84 1540.85V2064M1561.69 1540.85V2064M1575.93 1540.85V2064M1588.27 1540.85V2064M1599.16 1540.85V2064M1672.95 1540.85V2064M1710.42 1540.85V2064M1737.01 1540.85V2064M1757.63 1540.85V2064M1774.48 1540.85V2064M1788.72 1540.85V2064M1801.06 1540.85V2064M1811.95 1540.85V2064M1151.4 2034.11H1853.6M1151.4 2004.21H1853.6M1151.4 1974.32H1853.6M1151.4 1944.42H1853.6M1151.4 1884.63H1853.6M1151.4 1854.74H1853.6M1151.4 1824.85H1853.6M1151.4 1794.95H1853.6M1151.4 1735.16H1853.6M1151.4 1705.27H1853.6M1151.4 1675.37H1853.6M1151.4 1645.48H1853.6M1151.4 1585.69H1853.6M1151.4 1555.8H1853.6" fill="none" stroke="#ebebeb" stroke-width="1.57" stroke-dasharray="1.57 2.6"/>
<path d="M1183.32 1540.85V2064M1396.11 1540.85V2064M1608.89 1540.85V2064M1821.68 1540.85V2064M1151.4 1914.53H1853.6M1151.4 1765.06H1853.6M1151.4 1615.59H1853.6" fill="none" stroke="#e1e1e1" stroke-width="2.2"/>
<clipPath id="clip-f"><rect x="1151.4" y="1540.85" width="702.2" height="523.15"/></clipPath>
<g clip-path="url(#clip-f)" fill="none" stroke-linejoin="round">
<polyline points="1183.3,1619.6 1186,1620.3 1188.6,1621.2 1191.3,1622.1 1194,1623.2 1196.6,1624.5 1199.3,1626 1201.9,1627.6 1204.6,1629.5 1207.3,1631.6 1209.9,1634 1212.6,1636.7 1215.2,1639.7 1217.9,1643 1220.6,1646.8 1223.2,1650.9 1225.9,1655.4 1228.5,1660.3 1231.2,1665.7 1233.9,1671.6 1236.5,1677.9 1239.2,1684.8 1241.8,1692.1 1244.5,1700 1247.2,1708.3 1249.8,1717.2 1252.5,1726.5 1255.1,1736.2 1257.8,1746.4 1260.5,1757 1263.1,1767.9 1265.8,1779.1 1268.4,1790.5 1271.1,1802.1 1273.8,1813.8 1276.4,1825.6 1279.1,1837.3 1281.7,1848.8 1284.4,1860.2 1287.1,1871.4 1289.7,1882.2 1292.4,1892.5 1295,1902.5 1297.7,1911.9 1300.4,1920.7 1303,1928.9 1305.7,1936.4 1308.3,1943.2 1311,1949.1 1313.7,1954.2 1316.3,1958.4 1319,1961.5 1321.6,1963.6 1324.3,1964.6 1327,1964.3 1329.6,1963 1332.3,1960.5 1334.9,1956.9 1337.6,1952 1340.2,1946 1342.9,1938.8 1345.6,1930.4 1348.2,1921 1350.9,1910.6 1353.5,1899.3 1356.2,1887.3 1358.9,1874.7 1361.5,1861.6 1364.2,1848.3 1366.8,1834.8 1369.5,1821.3 1372.2,1807.9 1374.8,1794.8 1377.5,1782 1380.1,1769.6 1382.8,1757.7 1385.5,1746.3 1388.1,1735.3 1390.8,1724.8 1393.4,1714.8 1396.1,1705.2 1398.8,1696 1401.4,1687.2 1404.1,1678.8 1406.7,1670.7 1409.4,1663 1412.1,1655.7 1414.7,1648.9 1417.4,1642.7 1420,1637.2 1422.7,1632.4 1425.4,1628.5 1428,1625.5 1430.7,1623.5 1433.3,1622.5 1436,1622.4 1438.7,1623.4 1441.3,1625.4 1444,1628.2 1446.6,1631.5 1449.3,1635.4 1452,1639.4 1454.6,1643.7 1457.3,1647.9 1459.9,1652.1 1462.6,1656.3 1465.3,1660.4 1467.9,1664.4 1470.6,1668.4 1473.2,1672.3 1475.9,1676.1 1478.6,1679.9 1481.2,1683.6 1483.9,1687.2 1486.5,1690.7 1489.2,1694.1 1491.9,1697.2 1494.5,1700.2 1497.2,1702.9 1499.8,1705.2 1502.5,1707.3 1505.2,1709 1507.8,1710.3 1510.5,1711.2 1513.1,1711.6 1515.8,1711.7 1518.5,1711.3 1521.1,1710.5 1523.8,1709.4 1526.4,1707.9 1529.1,1706 1531.8,1703.8 1534.4,1701.2 1537.1,1698.3 1539.7,1695.2 1542.4,1691.7 1545.1,1688.1 1547.7,1684.2 1550.4,1680.2 1553,1676 1555.7,1671.7 1558.4,1667.3 1561,1662.9 1563.7,1658.4 1566.3,1654 1569,1649.6 1571.7,1645.3 1574.3,1641.1 1577,1636.9 1579.6,1633 1582.3,1629.2 1585,1625.5 1587.6,1622.1 1590.3,1618.9 1592.9,1615.8 1595.6,1613 1598.3,1610.4 1600.9,1608.1 1603.6,1605.9 1606.2,1604 1608.9,1602.3 1611.6,1600.8 1614.2,1599.5 1616.9,1598.4 1619.5,1597.4 1622.2,1596.7 1624.9,1596.2 1627.5,1595.8 1630.2,1595.5 1632.8,1595.4 1635.5,1595.4 1638.2,1595.6 1640.8,1595.9 1643.5,1596.3 1646.1,1596.8 1648.8,1597.3 1651.5,1598 1654.1,1598.7 1656.8,1599.4 1659.4,1600.2 1662.1,1601 1664.8,1601.8 1667.4,1602.6 1670.1,1603.4 1672.7,1604.3 1675.4,1605.1 1678.1,1605.8 1680.7,1606.6 1683.4,1607.3 1686,1608.1 1688.7,1608.7 1691.3,1609.4 1694,1610 1696.7,1610.5 1699.3,1611.1 1702,1611.6 1704.6,1612 1707.3,1612.5 1710,1612.9 1712.6,1613.2 1715.3,1613.5 1717.9,1613.8 1720.6,1614.1 1723.3,1614.3 1725.9,1614.6 1728.6,1614.7 1731.2,1614.9 1733.9,1615.1 1736.6,1615.2 1739.2,1615.3 1741.9,1615.4 1744.5,1615.5 1747.2,1615.6 1749.9,1615.7 1752.5,1615.7 1755.2,1615.8 1757.8,1615.8 1760.5,1615.8 1763.2,1615.9 1765.8,1615.9 1768.5,1615.9 1771.1,1615.9 1773.8,1616 1776.5,1616 1779.1,1616 1781.8,1616 1784.4,1616 1787.1,1616 1789.8,1616 1792.4,1616 1795.1,1616 1797.7,1616 1800.4,1616 1803.1,1616 1805.7,1616 1808.4,1616 1811,1616 1813.7,1616 1816.4,1616 1819,1616 1821.7,1616" stroke="#000000" stroke-width="4.5" stroke-linecap="square"/>
<polyline points="1183.3,1619.6 1186,1620.3 1188.6,1621.2 1191.3,1622.1 1194,1623.2 1196.6,1624.5 1199.3,1626 1201.9,1627.6 1204.6,1629.5 1207.3,1631.6 1209.9,1634 1212.6,1636.7 1215.2,1639.7 1217.9,1643.1 1220.6,1646.8 1223.2,1651 1225.9,1655.5 1228.5,1660.6 1231.2,1666 1233.9,1672 1236.5,1678.5 1239.2,1685.5 1241.8,1693 1244.5,1701.1 1247.2,1709.7 1249.8,1718.8 1252.5,1728.4 1255.1,1738.5 1257.8,1749.1 1260.5,1760.1 1263.1,1771.5 1265.8,1783.2 1268.4,1795.2 1271.1,1807.4 1273.8,1819.7 1276.4,1832.1 1279.1,1844.5 1281.7,1856.7 1284.4,1868.8 1287.1,1880.7 1289.7,1892.2 1292.4,1903.3 1295,1913.9 1297.7,1924 1300.4,1933.5 1303,1942.3 1305.7,1950.4 1308.3,1957.7 1311,1964.1 1313.7,1969.6 1316.3,1974.1 1319,1977.6 1321.6,1979.8 1324.3,1980.8 1327,1980.6 1329.6,1979.3 1332.3,1976.8 1334.9,1973.1 1337.6,1968.2 1340.2,1962.1 1342.9,1954.8 1345.6,1946.4 1348.2,1936.9 1350.9,1926.4 1353.5,1915 1356.2,1902.8 1358.9,1890 1361.5,1876.8 1364.2,1863.3 1366.8,1849.6 1369.5,1835.9 1372.2,1822.3 1374.8,1808.9 1377.5,1795.8 1380.1,1783.2 1382.8,1771 1385.5,1759.2 1388.1,1748 1390.8,1737.2 1393.4,1727 1396.1,1717.1 1398.8,1707.7 1401.4,1698.7 1404.1,1690 1406.7,1681.7 1409.4,1673.8 1412.1,1666.3 1414.7,1659.2 1417.4,1652.8 1420,1646.9 1422.7,1641.9 1425.4,1637.6 1428,1634.3 1430.7,1632 1433.3,1630.6 1436,1630.2 1438.7,1630.9 1441.3,1632.4 1444,1634.8 1446.6,1637.8 1449.3,1641.2 1452,1644.9 1454.6,1648.7 1457.3,1652.7 1459.9,1656.6 1462.6,1660.4 1465.3,1664.2 1467.9,1667.9 1470.6,1671.6 1473.2,1675.2 1475.9,1678.7 1478.6,1682.2 1481.2,1685.6 1483.9,1689 1486.5,1692.2 1489.2,1695.3 1491.9,1698.3 1494.5,1701 1497.2,1703.5 1499.8,1705.7 1502.5,1707.6 1505.2,1709.2 1507.8,1710.4 1510.5,1711.2 1513.1,1711.6 1515.8,1711.7 1518.5,1711.3 1521.1,1710.5 1523.8,1709.4 1526.4,1707.9 1529.1,1706 1531.8,1703.8 1534.4,1701.2 1537.1,1698.3 1539.7,1695.2 1542.4,1691.7 1545.1,1688.1 1547.7,1684.2 1550.4,1680.2 1553,1676 1555.7,1671.7 1558.4,1667.3 1561,1662.9 1563.7,1658.4 1566.3,1654 1569,1649.6 1571.7,1645.3 1574.3,1641.1 1577,1636.9 1579.6,1633 1582.3,1629.2 1585,1625.5 1587.6,1622.1 1590.3,1618.9 1592.9,1615.8 1595.6,1613 1598.3,1610.4 1600.9,1608.1 1603.6,1605.9 1606.2,1604 1608.9,1602.3 1611.6,1600.8 1614.2,1599.5 1616.9,1598.4 1619.5,1597.4 1622.2,1596.7 1624.9,1596.2 1627.5,1595.8 1630.2,1595.5 1632.8,1595.4 1635.5,1595.4 1638.2,1595.6 1640.8,1595.9 1643.5,1596.3 1646.1,1596.8 1648.8,1597.3 1651.5,1598 1654.1,1598.7 1656.8,1599.4 1659.4,1600.2 1662.1,1601 1664.8,1601.8 1667.4,1602.6 1670.1,1603.4 1672.7,1604.3 1675.4,1605.1 1678.1,1605.8 1680.7,1606.6 1683.4,1607.3 1686,1608.1 1688.7,1608.7 1691.3,1609.4 1694,1610 1696.7,1610.5 1699.3,1611.1 1702,1611.6 1704.6,1612 1707.3,1612.5 1710,1612.9 1712.6,1613.2 1715.3,1613.5 1717.9,1613.8 1720.6,1614.1 1723.3,1614.3 1725.9,1614.6 1728.6,1614.7 1731.2,1614.9 1733.9,1615.1 1736.6,1615.2 1739.2,1615.3 1741.9,1615.4 1744.5,1615.5 1747.2,1615.6 1749.9,1615.7 1752.5,1615.7 1755.2,1615.8 1757.8,1615.8 1760.5,1615.8 1763.2,1615.9 1765.8,1615.9 1768.5,1615.9 1771.1,1615.9 1773.8,1616 1776.5,1616 1779.1,1616 1781.8,1616 1784.4,1616 1787.1,1616 1789.8,1616 1792.4,1616 1795.1,1616 1797.7,1616 1800.4,1616 1803.1,1616 1805.7,1616 1808.4,1616 1811,1616 1813.7,1616 1816.4,1616 1819,1616 1821.7,1616" stroke="#17becf" stroke-width="4.5" stroke-linecap="square"/>
<polyline points="1183.3,1619.6 1186,1620.3 1188.6,1621.2 1191.3,1622.1 1194,1623.2 1196.6,1624.5 1199.3,1626 1201.9,1627.6 1204.6,1629.5 1207.3,1631.6 1209.9,1634 1212.6,1636.7 1215.2,1639.7 1217.9,1643.1 1220.6,1646.8 1223.2,1650.9 1225.9,1655.4 1228.5,1660.4 1231.2,1665.9 1233.9,1671.8 1236.5,1678.2 1239.2,1685.1 1241.8,1692.5 1244.5,1700.5 1247.2,1708.9 1249.8,1717.9 1252.5,1727.4 1255.1,1737.3 1257.8,1747.6 1260.5,1758.4 1263.1,1769.5 1265.8,1780.9 1268.4,1792.6 1271.1,1804.5 1273.8,1816.5 1276.4,1828.5 1279.1,1840.5 1281.7,1852.4 1284.4,1864.1 1287.1,1875.6 1289.7,1886.7 1292.4,1897.4 1295,1907.6 1297.7,1917.3 1300.4,1926.5 1303,1934.9 1305.7,1942.7 1308.3,1949.7 1311,1955.9 1313.7,1961.1 1316.3,1965.5 1319,1968.7 1321.6,1970.9 1324.3,1971.9 1327,1971.6 1329.6,1970.3 1332.3,1967.8 1334.9,1964.2 1337.6,1959.3 1340.2,1953.2 1342.9,1946 1345.6,1937.6 1348.2,1928.1 1350.9,1917.7 1353.5,1906.3 1356.2,1894.3 1358.9,1881.6 1361.5,1868.5 1364.2,1855 1366.8,1841.5 1369.5,1827.9 1372.2,1814.4 1374.8,1801.2 1377.5,1788.3 1380.1,1775.7 1382.8,1763.7 1385.5,1752.1 1388.1,1741 1390.8,1730.4 1393.4,1720.3 1396.1,1710.6 1398.8,1701.3 1401.4,1692.4 1404.1,1683.8 1406.7,1675.6 1409.4,1667.8 1412.1,1660.4 1414.7,1653.5 1417.4,1647.2 1420,1641.5 1422.7,1636.6 1425.4,1632.5 1428,1629.4 1430.7,1627.2 1433.3,1626 1436,1625.8 1438.7,1626.6 1441.3,1628.4 1444,1631 1446.6,1634.2 1449.3,1637.8 1452,1641.7 1454.6,1645.8 1457.3,1649.9 1459.9,1654 1462.6,1658 1465.3,1662 1467.9,1665.9 1470.6,1669.7 1473.2,1673.5 1475.9,1677.2 1478.6,1680.8 1481.2,1684.4 1483.9,1687.9 1486.5,1691.3 1489.2,1694.6 1491.9,1697.7 1494.5,1700.5 1497.2,1703.1 1499.8,1705.4 1502.5,1707.4 1505.2,1709.1 1507.8,1710.3 1510.5,1711.2 1513.1,1711.6 1515.8,1711.7 1518.5,1711.3 1521.1,1710.5 1523.8,1709.4 1526.4,1707.9 1529.1,1706 1531.8,1703.8 1534.4,1701.2 1537.1,1698.3 1539.7,1695.2 1542.4,1691.7 1545.1,1688.1 1547.7,1684.2 1550.4,1680.2 1553,1676 1555.7,1671.7 1558.4,1667.3 1561,1662.9 1563.7,1658.4 1566.3,1654 1569,1649.6 1571.7,1645.3 1574.3,1641.1 1577,1636.9 1579.6,1633 1582.3,1629.2 1585,1625.5 1587.6,1622.1 1590.3,1618.9 1592.9,1615.8 1595.6,1613 1598.3,1610.4 1600.9,1608.1 1603.6,1605.9 1606.2,1604 1608.9,1602.3 1611.6,1600.8 1614.2,1599.5 1616.9,1598.4 1619.5,1597.4 1622.2,1596.7 1624.9,1596.2 1627.5,1595.8 1630.2,1595.5 1632.8,1595.4 1635.5,1595.4 1638.2,1595.6 1640.8,1595.9 1643.5,1596.3 1646.1,1596.8 1648.8,1597.3 1651.5,1598 1654.1,1598.7 1656.8,1599.4 1659.4,1600.2 1662.1,1601 1664.8,1601.8 1667.4,1602.6 1670.1,1603.4 1672.7,1604.3 1675.4,1605.1 1678.1,1605.8 1680.7,1606.6 1683.4,1607.3 1686,1608.1 1688.7,1608.7 1691.3,1609.4 1694,1610 1696.7,1610.5 1699.3,1611.1 1702,1611.6 1704.6,1612 1707.3,1612.5 1710,1612.9 1712.6,1613.2 1715.3,1613.5 1717.9,1613.8 1720.6,1614.1 1723.3,1614.3 1725.9,1614.6 1728.6,1614.7 1731.2,1614.9 1733.9,1615.1 1736.6,1615.2 1739.2,1615.3 1741.9,1615.4 1744.5,1615.5 1747.2,1615.6 1749.9,1615.7 1752.5,1615.7 1755.2,1615.8 1757.8,1615.8 1760.5,1615.8 1763.2,1615.9 1765.8,1615.9 1768.5,1615.9 1771.1,1615.9 1773.8,1616 1776.5,1616 1779.1,1616 1781.8,1616 1784.4,1616 1787.1,1616 1789.8,1616 1792.4,1616 1795.1,1616 1797.7,1616 1800.4,1616 1803.1,1616 1805.7,1616 1808.4,1616 1811,1616 1813.7,1616 1816.4,1616 1819,1616 1821.7,1616" stroke="#1f77b4" stroke-width="4.5" stroke-linecap="square"/>
<polyline points="1183.3,1619.6 1186,1620.3 1188.6,1621.2 1191.3,1622.1 1194,1623.2 1196.6,1624.5 1199.3,1626 1201.9,1627.6 1204.6,1629.5 1207.3,1631.6 1209.9,1634 1212.6,1636.7 1215.2,1639.7 1217.9,1643 1220.6,1646.7 1223.2,1650.8 1225.9,1655.3 1228.5,1660.3 1231.2,1665.6 1233.9,1671.5 1236.5,1677.8 1239.2,1684.7 1241.8,1692 1244.5,1699.8 1247.2,1708.1 1249.8,1716.9 1252.5,1726.2 1255.1,1735.9 1257.8,1746 1260.5,1756.5 1263.1,1767.4 1265.8,1778.5 1268.4,1789.8 1271.1,1801.4 1273.8,1813 1276.4,1824.6 1279.1,1836.2 1281.7,1847.7 1284.4,1859 1287.1,1870 1289.7,1880.7 1292.4,1891 1295,1900.8 1297.7,1910.1 1300.4,1918.8 1303,1926.9 1305.7,1934.3 1308.3,1941 1311,1946.9 1313.7,1951.9 1316.3,1956 1319,1959.2 1321.6,1961.2 1324.3,1962.2 1327,1961.9 1329.6,1960.6 1332.3,1958.1 1334.9,1954.5 1337.6,1949.7 1340.2,1943.6 1342.9,1936.4 1345.6,1928.1 1348.2,1918.7 1350.9,1908.3 1353.5,1897.1 1356.2,1885.1 1358.9,1872.5 1361.5,1859.5 1364.2,1846.2 1366.8,1832.7 1369.5,1819.3 1372.2,1806 1374.8,1792.9 1377.5,1780.1 1380.1,1767.8 1382.8,1755.9 1385.5,1744.4 1388.1,1733.5 1390.8,1723.1 1393.4,1713.1 1396.1,1703.5 1398.8,1694.3 1401.4,1685.5 1404.1,1677.1 1406.7,1669.1 1409.4,1661.4 1412.1,1654.1 1414.7,1647.4 1417.4,1641.2 1420,1635.6 1422.7,1630.9 1425.4,1627 1428,1624 1430.7,1622 1433.3,1621 1436,1620.9 1438.7,1622 1441.3,1624 1444,1626.8 1446.6,1630.2 1449.3,1634.1 1452,1638.2 1454.6,1642.5 1457.3,1646.8 1459.9,1651.1 1462.6,1655.4 1465.3,1659.5 1467.9,1663.6 1470.6,1667.6 1473.2,1671.6 1475.9,1675.5 1478.6,1679.4 1481.2,1683.1 1483.9,1686.8 1486.5,1690.4 1489.2,1693.8 1491.9,1697 1494.5,1700 1497.2,1702.7 1499.8,1705.1 1502.5,1707.2 1505.2,1708.9 1507.8,1710.3 1510.5,1711.2 1513.1,1711.6 1515.8,1711.7 1518.5,1711.3 1521.1,1710.5 1523.8,1709.4 1526.4,1707.9 1529.1,1706 1531.8,1703.8 1534.4,1701.2 1537.1,1698.3 1539.7,1695.2 1542.4,1691.7 1545.1,1688.1 1547.7,1684.2 1550.4,1680.2 1553,1676 1555.7,1671.7 1558.4,1667.3 1561,1662.9 1563.7,1658.4 1566.3,1654 1569,1649.6 1571.7,1645.3 1574.3,1641.1 1577,1636.9 1579.6,1633 1582.3,1629.2 1585,1625.5 1587.6,1622.1 1590.3,1618.9 1592.9,1615.8 1595.6,1613 1598.3,1610.4 1600.9,1608.1 1603.6,1605.9 1606.2,1604 1608.9,1602.3 1611.6,1600.8 1614.2,1599.5 1616.9,1598.4 1619.5,1597.4 1622.2,1596.7 1624.9,1596.2 1627.5,1595.8 1630.2,1595.5 1632.8,1595.4 1635.5,1595.4 1638.2,1595.6 1640.8,1595.9 1643.5,1596.3 1646.1,1596.8 1648.8,1597.3 1651.5,1598 1654.1,1598.7 1656.8,1599.4 1659.4,1600.2 1662.1,1601 1664.8,1601.8 1667.4,1602.6 1670.1,1603.4 1672.7,1604.3 1675.4,1605.1 1678.1,1605.8 1680.7,1606.6 1683.4,1607.3 1686,1608.1 1688.7,1608.7 1691.3,1609.4 1694,1610 1696.7,1610.5 1699.3,1611.1 1702,1611.6 1704.6,1612 1707.3,1612.5 1710,1612.9 1712.6,1613.2 1715.3,1613.5 1717.9,1613.8 1720.6,1614.1 1723.3,1614.3 1725.9,1614.6 1728.6,1614.7 1731.2,1614.9 1733.9,1615.1 1736.6,1615.2 1739.2,1615.3 1741.9,1615.4 1744.5,1615.5 1747.2,1615.6 1749.9,1615.7 1752.5,1615.7 1755.2,1615.8 1757.8,1615.8 1760.5,1615.8 1763.2,1615.9 1765.8,1615.9 1768.5,1615.9 1771.1,1615.9 1773.8,1616 1776.5,1616 1779.1,1616 1781.8,1616 1784.4,1616 1787.1,1616 1789.8,1616 1792.4,1616 1795.1,1616 1797.7,1616 1800.4,1616 1803.1,1616 1805.7,1616 1808.4,1616 1811,1616 1813.7,1616 1816.4,1616 1819,1616 1821.7,1616" stroke="#9467bd" stroke-width="4.5" stroke-linecap="square"/>
<polyline points="1183.3,1619.6 1186,1620.3 1188.6,1621.2 1191.3,1622.1 1194,1623.2 1196.6,1624.5 1199.3,1626 1201.9,1627.6 1204.6,1629.5 1207.3,1631.6 1209.9,1634 1212.6,1636.7 1215.2,1639.7 1217.9,1643 1220.6,1646.7 1223.2,1650.8 1225.9,1655.3 1228.5,1660.2 1231.2,1665.6 1233.9,1671.4 1236.5,1677.7 1239.2,1684.5 1241.8,1691.8 1244.5,1699.5 1247.2,1707.8 1249.8,1716.5 1252.5,1725.7 1255.1,1735.4 1257.8,1745.4 1260.5,1755.8 1263.1,1766.6 1265.8,1777.6 1268.4,1788.8 1271.1,1800.2 1273.8,1811.6 1276.4,1823.1 1279.1,1834.6 1281.7,1845.9 1284.4,1857 1287.1,1867.9 1289.7,1878.4 1292.4,1888.5 1295,1898.2 1297.7,1907.3 1300.4,1915.9 1303,1923.8 1305.7,1931.1 1308.3,1937.7 1311,1943.5 1313.7,1948.4 1316.3,1952.4 1319,1955.5 1321.6,1957.5 1324.3,1958.4 1327,1958.2 1329.6,1956.9 1332.3,1954.4 1334.9,1950.8 1337.6,1946 1340.2,1940 1342.9,1932.9 1345.6,1924.6 1348.2,1915.2 1350.9,1904.9 1353.5,1893.7 1356.2,1881.8 1358.9,1869.4 1361.5,1856.4 1364.2,1843.2 1366.8,1829.8 1369.5,1816.5 1372.2,1803.2 1374.8,1790.2 1377.5,1777.6 1380.1,1765.3 1382.8,1753.5 1385.5,1742.1 1388.1,1731.3 1390.8,1720.9 1393.4,1711 1396.1,1701.5 1398.8,1692.4 1401.4,1683.6 1404.1,1675.3 1406.7,1667.2 1409.4,1659.6 1412.1,1652.4 1414.7,1645.7 1417.4,1639.5 1420,1634 1422.7,1629.3 1425.4,1625.4 1428,1622.5 1430.7,1620.5 1433.3,1619.5 1436,1619.4 1438.7,1620.5 1441.3,1622.5 1444,1625.4 1446.6,1628.9 1449.3,1632.8 1452,1637 1454.6,1641.4 1457.3,1645.8 1459.9,1650.1 1462.6,1654.4 1465.3,1658.7 1467.9,1662.8 1470.6,1666.9 1473.2,1670.9 1475.9,1674.9 1478.6,1678.8 1481.2,1682.7 1483.9,1686.4 1486.5,1690 1489.2,1693.5 1491.9,1696.8 1494.5,1699.8 1497.2,1702.6 1499.8,1705 1502.5,1707.2 1505.2,1708.9 1507.8,1710.2 1510.5,1711.2 1513.1,1711.6 1515.8,1711.7 1518.5,1711.3 1521.1,1710.5 1523.8,1709.4 1526.4,1707.9 1529.1,1706 1531.8,1703.8 1534.4,1701.2 1537.1,1698.3 1539.7,1695.2 1542.4,1691.7 1545.1,1688.1 1547.7,1684.2 1550.4,1680.2 1553,1676 1555.7,1671.7 1558.4,1667.3 1561,1662.9 1563.7,1658.4 1566.3,1654 1569,1649.6 1571.7,1645.3 1574.3,1641.1 1577,1636.9 1579.6,1633 1582.3,1629.2 1585,1625.5 1587.6,1622.1 1590.3,1618.9 1592.9,1615.8 1595.6,1613 1598.3,1610.4 1600.9,1608.1 1603.6,1605.9 1606.2,1604 1608.9,1602.3 1611.6,1600.8 1614.2,1599.5 1616.9,1598.4 1619.5,1597.4 1622.2,1596.7 1624.9,1596.2 1627.5,1595.8 1630.2,1595.5 1632.8,1595.4 1635.5,1595.4 1638.2,1595.6 1640.8,1595.9 1643.5,1596.3 1646.1,1596.8 1648.8,1597.3 1651.5,1598 1654.1,1598.7 1656.8,1599.4 1659.4,1600.2 1662.1,1601 1664.8,1601.8 1667.4,1602.6 1670.1,1603.4 1672.7,1604.3 1675.4,1605.1 1678.1,1605.8 1680.7,1606.6 1683.4,1607.3 1686,1608.1 1688.7,1608.7 1691.3,1609.4 1694,1610 1696.7,1610.5 1699.3,1611.1 1702,1611.6 1704.6,1612 1707.3,1612.5 1710,1612.9 1712.6,1613.2 1715.3,1613.5 1717.9,1613.8 1720.6,1614.1 1723.3,1614.3 1725.9,1614.6 1728.6,1614.7 1731.2,1614.9 1733.9,1615.1 1736.6,1615.2 1739.2,1615.3 1741.9,1615.4 1744.5,1615.5 1747.2,1615.6 1749.9,1615.7 1752.5,1615.7 1755.2,1615.8 1757.8,1615.8 1760.5,1615.8 1763.2,1615.9 1765.8,1615.9 1768.5,1615.9 1771.1,1615.9 1773.8,1616 1776.5,1616 1779.1,1616 1781.8,1616 1784.4,1616 1787.1,1616 1789.8,1616 1792.4,1616 1795.1,1616 1797.7,1616 1800.4,1616 1803.1,1616 1805.7,1616 1808.4,1616 1811,1616 1813.7,1616 1816.4,1616 1819,1616 1821.7,1616" stroke="#ff7f0e" stroke-width="4.5" stroke-linecap="square"/>
<path d="M1151.4 1615.59H1853.6" stroke="#000" stroke-width="1.5"/>
</g>
<path d="M1183.32 2064v11.03M1396.11 2064v11.03M1608.89 2064v11.03M1821.68 2064v11.03M1151.4 2064h-11.03M1151.4 1914.53h-11.03M1151.4 1765.06h-11.03M1151.4 1615.59h-11.03" fill="none" stroke="#000" stroke-width="2.5"/>
<path d="M1162.7 2064v6.3M1173.58 2064v6.3M1247.37 2064v6.3M1284.84 2064v6.3M1311.43 2064v6.3M1332.05 2064v6.3M1348.9 2064v6.3M1363.14 2064v6.3M1375.48 2064v6.3M1386.37 2064v6.3M1460.16 2064v6.3M1497.63 2064v6.3M1524.22 2064v6.3M1544.84 2064v6.3M1561.69 2064v6.3M1575.93 2064v6.3M1588.27 2064v6.3M1599.16 2064v6.3M1672.95 2064v6.3M1710.42 2064v6.3M1737.01 2064v6.3M1757.63 2064v6.3M1774.48 2064v6.3M1788.72 2064v6.3M1801.06 2064v6.3M1811.95 2064v6.3M1151.4 2034.11h-6.3M1151.4 2004.21h-6.3M1151.4 1974.32h-6.3M1151.4 1944.42h-6.3M1151.4 1884.63h-6.3M1151.4 1854.74h-6.3M1151.4 1824.85h-6.3M1151.4 1794.95h-6.3M1151.4 1735.16h-6.3M1151.4 1705.27h-6.3M1151.4 1675.37h-6.3M1151.4 1645.48h-6.3M1151.4 1585.69h-6.3M1151.4 1555.8h-6.3" fill="none" stroke="#000" stroke-width="2"/>
<rect x="1151.4" y="1540.85" width="702.2" height="523.15" fill="none" stroke="#000" stroke-width="2.5"/>
<g font-size="40.95" text-anchor="middle">
<text x="1183.32" y="2119">1</text>
<text x="1396.11" y="2119">10</text>
<text x="1608.89" y="2119">100</text>
<text x="1821.68" y="2119">1000</text>
</g>
<g font-size="40.95" text-anchor="end">
<text x="1129.4" y="2080.76">−0.3</text>
<text x="1129.4" y="1931.29">−0.2</text>
<text x="1129.4" y="1781.82">−0.1</text>
<text x="1129.4" y="1632.35">0.0</text>
</g>
<g transform="translate(1502.50 2167.00)" fill="#000">
<text x="-139.50 -110.43 -99.94 -76.81 -40.04 -16.81 -2.01 21.21 36.73 48.73" y="-0.00" font-size="37.80">Diameter [</text>
<text x="63.46 87.39" y="-0.00" font-size="37.80" font-style="italic">nm</text>
<text x="124.16" y="-0.00" font-size="37.80">]</text>
</g>
<g transform="translate(1502.50 1521.95)" fill="#000">
<text x="-333.00 -318.27 -304.98 -290.25 -278.26 -267.12 -243.20 -232.71 -217.91 -207.42 -184.29 -173.80 -161.80 -137.84" y="-0.00" font-size="37.80">(f) Initial SO</text>
<text x="-107.76" y="6.23" font-size="26.46">4</text>
<text x="-89.91 -77.91 -58.24 -47.75 -27.94 -4.71 7.29 31.21 55.14 91.91 115.87 139.10 154.62 166.62 186.29 196.78 216.59 239.82 251.82 275.78 286.27 305.93 320.73" y="-0.00" font-size="37.80"> size number size dist.</text>
</g>
<g transform="translate(1000.50 1804.22) rotate(-90)" fill="#000">
<text transform="translate(-245.13 -0.76) skewX(-10) scale(1.06 0.93)" font-size="37.80">ℰ</text>
<text x="-222.76 -205.99 -198.65 -181.90 -156.16" y="-20.08" font-size="26.46">plume</text>
<text x="-222.76 -205.99" y="10.39" font-size="26.46" font-style="italic">dN</text>
<text x="-186.22" y="10.39" font-size="26.46">/</text>
<text x="-177.32" y="10.39" font-size="26.46" font-style="italic">d</text>
<text x="-160.54" y="10.39" font-size="26.46">(</text>
<text x="-150.23 -142.89 -126.14" y="10.39" font-size="26.46" font-style="italic">lnD</text>
<text x="-105.80" y="10.39" font-size="26.46">)</text>
<text x="-87.09" y="0.00" font-size="37.80">−</text>
<text transform="translate(-49.24 -0.76) skewX(-10) scale(1.06 0.93)" font-size="37.80">ℰ</text>
<text x="-26.87 -19.53 -2.78 10.99 21.35 34.90 51.67 59.01 72.78 89.55" y="-20.08" font-size="26.46">inst.disp.</text>
<text x="-26.87 -10.10" y="10.39" font-size="26.46" font-style="italic">dN</text>
<text x="9.67" y="10.39" font-size="26.46">/</text>
<text x="18.57" y="10.39" font-size="26.46" font-style="italic">d</text>
<text x="35.35" y="10.39" font-size="26.46">(</text>
<text x="45.66 53.00 69.75" y="10.39" font-size="26.46" font-style="italic">lnD</text>
<text x="90.10" y="10.39" font-size="26.46">)</text>
<text x="104.14 116.14 130.87 151.62" y="0.00" font-size="37.80"> [cm</text>
<text x="188.76 210.90" y="-14.55" font-size="26.46">−3</text>
<text x="228.75" y="0.00" font-size="37.80">]</text>
</g>
<rect x="1602.04" y="1756.5" width="224.16" height="239.7" rx="4.73" ry="4.73" fill="#fff" fill-opacity="0.8" stroke="#ccc" stroke-opacity="0.8" stroke-width="2.6"/>
<g font-size="31.5">
<path d="M1614.64 1781.3h63" stroke="#000000" stroke-width="4.7" stroke-linecap="square" fill="none"/>
<text x="1702.84" y="1793.3">2.5 nm</text>
<path d="M1614.64 1827.6h63" stroke="#17becf" stroke-width="4.7" stroke-linecap="square" fill="none"/>
<text x="1702.84" y="1839.6">2 nm</text>
<path d="M1614.64 1873.9h63" stroke="#1f77b4" stroke-width="4.7" stroke-linecap="square" fill="none"/>
<text x="1702.84" y="1885.9">2.2 nm</text>
<path d="M1614.64 1920.2h63" stroke="#9467bd" stroke-width="4.7" stroke-linecap="square" fill="none"/>
<text x="1702.84" y="1932.2">2.7 nm</text>
<path d="M1614.64 1966.5h63" stroke="#ff7f0e" stroke-width="4.7" stroke-linecap="square" fill="none"/>
<text x="1702.84" y="1978.5">3 nm</text>
</g>
</g>
<g id="panel-g">
<rect x="165.1" y="2279.9" width="706.8" height="526.3" fill="#fff"/>
<path d="M176.47 2279.9V2806.2M187.43 2279.9V2806.2M261.7 2279.9V2806.2M299.42 2279.9V2806.2M326.18 2279.9V2806.2M346.93 2279.9V2806.2M363.89 2279.9V2806.2M378.23 2279.9V2806.2M390.65 2279.9V2806.2M401.61 2279.9V2806.2M475.88 2279.9V2806.2M513.6 2279.9V2806.2M540.36 2279.9V2806.2M561.12 2279.9V2806.2M578.07 2279.9V2806.2M592.41 2279.9V2806.2M604.83 2279.9V2806.2M615.79 2279.9V2806.2M690.07 2279.9V2806.2M727.78 2279.9V2806.2M754.54 2279.9V2806.2M775.3 2279.9V2806.2M792.26 2279.9V2806.2M806.6 2279.9V2806.2M819.02 2279.9V2806.2M829.97 2279.9V2806.2M165.1 2806.2H871.9M165.1 2787.4H871.9M165.1 2768.61H871.9M165.1 2731.01H871.9M165.1 2712.22H871.9M165.1 2693.42H871.9M165.1 2674.62H871.9M165.1 2637.03H871.9M165.1 2618.24H871.9M165.1 2599.44H871.9M165.1 2580.64H871.9M165.1 2543.05H871.9M165.1 2524.25H871.9M165.1 2505.46H871.9M165.1 2486.66H871.9M165.1 2449.07H871.9M165.1 2430.27H871.9M165.1 2411.47H871.9M165.1 2392.68H871.9M165.1 2355.09H871.9M165.1 2336.29H871.9M165.1 2317.49H871.9M165.1 2298.7H871.9" fill="none" stroke="#ebebeb" stroke-width="1.57" stroke-dasharray="1.57 2.6"/>
<path d="M197.23 2279.9V2806.2M411.41 2279.9V2806.2M625.59 2279.9V2806.2M839.77 2279.9V2806.2M165.1 2749.81H871.9M165.1 2655.83H871.9M165.1 2561.85H871.9M165.1 2467.86H871.9M165.1 2373.88H871.9" fill="none" stroke="#e1e1e1" stroke-width="2.2"/>
<clipPath id="clip-g"><rect x="165.1" y="2279.9" width="706.8" height="526.3"/></clipPath>
<g clip-path="url(#clip-g)" fill="none" stroke-linejoin="round">
<polyline points="197.2,2748.3 199.9,2748 202.6,2747.6 205.3,2747.2 207.9,2746.8 210.6,2746.3 213.3,2745.7 216,2745 218.6,2744.3 221.3,2743.5 224,2742.6 226.7,2741.6 229.4,2740.6 232,2739.4 234.7,2738 237.4,2736.6 240.1,2734.9 242.7,2733.1 245.4,2731 248.1,2728.6 250.8,2725.8 253.4,2722.6 256.1,2719 258.8,2714.8 261.5,2710.2 264.2,2705 266.8,2699.3 269.5,2693 272.2,2686.3 274.9,2679 277.5,2671.3 280.2,2663.2 282.9,2654.7 285.6,2646 288.3,2637.1 290.9,2628.1 293.6,2618.9 296.3,2609.6 299,2600.1 301.6,2590.6 304.3,2580.9 307,2571.1 309.7,2561.1 312.4,2551 315,2540.9 317.7,2530.9 320.4,2521 323.1,2511.3 325.7,2502 328.4,2493.2 331.1,2485 333.8,2477.4 336.4,2470.6 339.1,2464.7 341.8,2459.5 344.5,2455.3 347.2,2452.1 349.8,2449.8 352.5,2448.5 355.2,2448.2 357.9,2448.8 360.5,2450.3 363.2,2452.8 365.9,2456.2 368.6,2460.5 371.2,2465.6 373.9,2471.6 376.6,2478.4 379.3,2485.9 382,2494.3 384.6,2503.3 387.3,2513 390,2523.2 392.7,2534.1 395.3,2545.4 398,2557.1 400.7,2569.1 403.4,2581.3 406.1,2593.6 408.7,2605.9 411.4,2617.9 414.1,2629.7 416.8,2641.1 419.4,2652 422.1,2662.3 424.8,2671.9 427.5,2680.9 430.1,2689.2 432.8,2696.9 435.5,2704 438.2,2710.6 440.9,2716.7 443.5,2722.3 446.2,2727.6 448.9,2732.6 451.6,2737.3 454.2,2741.6 456.9,2745.7 459.6,2749.5 462.3,2752.8 465,2755.9 467.6,2758.5 470.3,2760.7 473,2762.5 475.7,2763.9 478.3,2765 481,2765.8 483.7,2766.4 486.4,2766.8 489,2767 491.7,2767.1 494.4,2767.2 497.1,2767.2 499.8,2767.2 502.4,2767.1 505.1,2767.1 507.8,2767 510.5,2767 513.1,2766.9 515.8,2766.8 518.5,2766.6 521.2,2766.4 523.9,2766.2 526.5,2766 529.2,2765.7 531.9,2765.4 534.6,2765 537.2,2764.6 539.9,2764.2 542.6,2763.7 545.3,2763.2 548,2762.7 550.6,2762.2 553.3,2761.6 556,2761 558.7,2760.4 561.3,2759.8 564,2759.2 566.7,2758.6 569.4,2758 572,2757.3 574.7,2756.7 577.4,2756.1 580.1,2755.5 582.8,2754.9 585.4,2754.3 588.1,2753.7 590.8,2753.1 593.5,2752.6 596.1,2752.1 598.8,2751.6 601.5,2751.1 604.2,2750.7 606.9,2750.3 609.5,2749.9 612.2,2749.5 614.9,2749.2 617.6,2748.9 620.2,2748.6 622.9,2748.4 625.6,2748.1 628.3,2748 630.9,2747.8 633.6,2747.6 636.3,2747.5 639,2747.4 641.7,2747.4 644.3,2747.3 647,2747.3 649.7,2747.3 652.4,2747.3 655,2747.3 657.7,2747.3 660.4,2747.4 663.1,2747.4 665.8,2747.5 668.4,2747.6 671.1,2747.7 673.8,2747.8 676.5,2747.9 679.1,2748 681.8,2748.1 684.5,2748.2 687.2,2748.3 689.8,2748.4 692.5,2748.5 695.2,2748.6 697.9,2748.7 700.6,2748.8 703.2,2748.9 705.9,2748.9 708.6,2749 711.3,2749.1 713.9,2749.2 716.6,2749.2 719.3,2749.3 722,2749.4 724.7,2749.4 727.3,2749.5 730,2749.5 732.7,2749.6 735.4,2749.6 738,2749.6 740.7,2749.7 743.4,2749.7 746.1,2749.7 748.7,2749.7 751.4,2749.7 754.1,2749.8 756.8,2749.8 759.5,2749.8 762.1,2749.8 764.8,2749.8 767.5,2749.8 770.2,2749.8 772.8,2749.8 775.5,2749.8 778.2,2749.8 780.9,2749.8 783.6,2749.9 786.2,2749.9 788.9,2749.9 791.6,2749.9 794.3,2749.9 796.9,2749.9 799.6,2749.9 802.3,2749.9 805,2749.9 807.6,2749.9 810.3,2749.9 813,2749.9 815.7,2749.9 818.4,2749.9 821,2749.9 823.7,2749.9 826.4,2749.9 829.1,2749.9 831.7,2749.9 834.4,2749.9 837.1,2749.9 839.8,2749.9" stroke="#000000" stroke-width="4.2" stroke-linecap="square"/>
<polyline points="197.2,2747.8 199.9,2747.4 202.6,2746.9 205.3,2746.4 207.9,2745.8 210.6,2745.2 213.3,2744.4 216,2743.5 218.6,2742.6 221.3,2741.5 224,2740.3 226.7,2739 229.4,2737.5 232,2735.9 234.7,2734.1 237.4,2732.1 240.1,2729.9 242.7,2727.5 245.4,2724.7 248.1,2721.5 250.8,2717.9 253.4,2713.9 256.1,2709.3 258.8,2704.2 261.5,2698.5 264.2,2692.2 266.8,2685.3 269.5,2677.9 272.2,2669.8 274.9,2661.2 277.5,2652.1 280.2,2642.6 282.9,2632.8 285.6,2622.6 288.3,2612.2 290.9,2601.7 293.6,2591 296.3,2580.2 299,2569.4 301.6,2558.4 304.3,2547.4 307,2536.2 309.7,2525 312.4,2513.7 315,2502.5 317.7,2491.4 320.4,2480.6 323.1,2470 325.7,2460 328.4,2450.5 331.1,2441.7 333.8,2433.8 336.4,2426.7 339.1,2420.6 341.8,2415.5 344.5,2411.4 347.2,2408.4 349.8,2406.6 352.5,2405.9 355.2,2406.2 357.9,2407.7 360.5,2410.3 363.2,2414 365.9,2418.6 368.6,2424.3 371.2,2430.9 373.9,2438.5 376.6,2446.9 379.3,2456.1 382,2466.1 384.6,2476.8 387.3,2488.2 390,2500.1 392.7,2512.6 395.3,2525.5 398,2538.7 400.7,2552.1 403.4,2565.7 406.1,2579.3 408.7,2592.8 411.4,2606.1 414.1,2619.1 416.8,2631.6 419.4,2643.5 422.1,2654.8 424.8,2665.4 427.5,2675.3 430.1,2684.5 432.8,2693 435.5,2700.8 438.2,2707.9 440.9,2714.5 443.5,2720.6 446.2,2726.2 448.9,2731.3 451.6,2736 454.2,2740.2 456.9,2744.1 459.6,2747.5 462.3,2750.5 465,2753 467.6,2755.2 470.3,2756.8 473,2758.1 475.7,2759.1 478.3,2759.7 481,2760 483.7,2760.1 486.4,2760 489,2759.7 491.7,2759.4 494.4,2759 497.1,2758.5 499.8,2758.1 502.4,2757.6 505.1,2757.2 507.8,2756.7 510.5,2756.3 513.1,2755.9 515.8,2755.5 518.5,2755.1 521.2,2754.7 523.9,2754.4 526.5,2754 529.2,2753.7 531.9,2753.4 534.6,2753 537.2,2752.7 539.9,2752.5 542.6,2752.2 545.3,2752 548,2751.7 550.6,2751.5 553.3,2751.3 556,2751.1 558.7,2751 561.3,2750.8 564,2750.7 566.7,2750.6 569.4,2750.5 572,2750.4 574.7,2750.3 577.4,2750.2 580.1,2750.2 582.8,2750.1 585.4,2750.1 588.1,2750 590.8,2750 593.5,2749.9 596.1,2749.9 598.8,2749.9 601.5,2749.9 604.2,2749.9 606.9,2749.9 609.5,2749.9 612.2,2749.8 614.9,2749.8 617.6,2749.8 620.2,2749.8 622.9,2749.8 625.6,2749.8 628.3,2749.8 630.9,2749.8 633.6,2749.8 636.3,2749.8 639,2749.8 641.7,2749.8 644.3,2749.8 647,2749.8 649.7,2749.8 652.4,2749.8 655,2749.8 657.7,2749.8 660.4,2749.8 663.1,2749.8 665.8,2749.8 668.4,2749.8 671.1,2749.8 673.8,2749.8 676.5,2749.8 679.1,2749.8 681.8,2749.8 684.5,2749.8 687.2,2749.8 689.8,2749.8 692.5,2749.8 695.2,2749.8 697.9,2749.8 700.6,2749.8 703.2,2749.8 705.9,2749.8 708.6,2749.8 711.3,2749.8 713.9,2749.8 716.6,2749.8 719.3,2749.8 722,2749.8 724.7,2749.8 727.3,2749.8 730,2749.8 732.7,2749.8 735.4,2749.8 738,2749.8 740.7,2749.8 743.4,2749.8 746.1,2749.8 748.7,2749.8 751.4,2749.8 754.1,2749.8 756.8,2749.8 759.5,2749.8 762.1,2749.8 764.8,2749.8 767.5,2749.8 770.2,2749.8 772.8,2749.8 775.5,2749.8 778.2,2749.8 780.9,2749.8 783.6,2749.8 786.2,2749.8 788.9,2749.8 791.6,2749.8 794.3,2749.8 796.9,2749.8 799.6,2749.8 802.3,2749.8 805,2749.8 807.6,2749.8 810.3,2749.8 813,2749.8 815.7,2749.8 818.4,2749.8 821,2749.8 823.7,2749.8 826.4,2749.8 829.1,2749.8 831.7,2749.8 834.4,2749.8 837.1,2749.8 839.8,2749.8" stroke="#000000" stroke-width="4.2" stroke-dasharray="15.54 6.72"/>
<polyline points="197.2,2748.3 199.9,2748 202.6,2747.6 205.3,2747.2 207.9,2746.8 210.6,2746.3 213.3,2745.7 216,2745 218.6,2744.3 221.3,2743.5 224,2742.6 226.7,2741.6 229.4,2740.5 232,2739.3 234.7,2738 237.4,2736.5 240.1,2734.9 242.7,2733 245.4,2730.9 248.1,2728.4 250.8,2725.6 253.4,2722.4 256.1,2718.8 258.8,2714.6 261.5,2709.9 264.2,2704.7 266.8,2699 269.5,2692.7 272.2,2685.9 274.9,2678.6 277.5,2670.8 280.2,2662.6 282.9,2654.2 285.6,2645.4 288.3,2636.4 290.9,2627.3 293.6,2618.1 296.3,2608.7 299,2599.2 301.6,2589.6 304.3,2579.9 307,2570 309.7,2559.9 312.4,2549.8 315,2539.7 317.7,2529.6 320.4,2519.6 323.1,2509.9 325.7,2500.6 328.4,2491.7 331.1,2483.4 333.8,2475.8 336.4,2469 339.1,2463 341.8,2457.9 344.5,2453.6 347.2,2450.4 349.8,2448.1 352.5,2446.7 355.2,2446.3 357.9,2446.9 360.5,2448.4 363.2,2450.9 365.9,2454.2 368.6,2458.4 371.2,2463.6 373.9,2469.5 376.6,2476.3 379.3,2483.8 382,2492.1 384.6,2501.1 387.3,2510.8 390,2521 392.7,2531.9 395.3,2543.2 398,2554.9 400.7,2566.9 403.4,2579.2 406.1,2591.5 408.7,2603.7 411.4,2615.8 414.1,2627.6 416.8,2639 419.4,2649.9 422.1,2660.2 424.8,2669.9 427.5,2678.9 430.1,2687.3 432.8,2695 435.5,2702.1 438.2,2708.7 440.9,2714.8 443.5,2720.5 446.2,2725.9 448.9,2730.9 451.6,2735.6 454.2,2740.1 456.9,2744.2 459.6,2748.1 462.3,2751.5 465,2754.6 467.6,2757.3 470.3,2759.6 473,2761.5 475.7,2763 478.3,2764.2 481,2765 483.7,2765.7 486.4,2766.1 489,2766.4 491.7,2766.6 494.4,2766.7 497.1,2766.8 499.8,2766.8 502.4,2766.8 505.1,2766.9 507.8,2766.8 510.5,2766.8 513.1,2766.8 515.8,2766.7 518.5,2766.6 521.2,2766.4 523.9,2766.2 526.5,2766 529.2,2765.7 531.9,2765.4 534.6,2765 537.2,2764.6 539.9,2764.2 542.6,2763.7 545.3,2763.2 548,2762.7 550.6,2762.2 553.3,2761.6 556,2761 558.7,2760.5 561.3,2759.8 564,2759.2 566.7,2758.6 569.4,2758 572,2757.3 574.7,2756.7 577.4,2756.1 580.1,2755.5 582.8,2754.9 585.4,2754.3 588.1,2753.7 590.8,2753.1 593.5,2752.6 596.1,2752.1 598.8,2751.6 601.5,2751.1 604.2,2750.7 606.9,2750.3 609.5,2749.9 612.2,2749.5 614.9,2749.2 617.6,2748.9 620.2,2748.6 622.9,2748.4 625.6,2748.1 628.3,2748 630.9,2747.8 633.6,2747.6 636.3,2747.5 639,2747.4 641.7,2747.4 644.3,2747.3 647,2747.3 649.7,2747.3 652.4,2747.3 655,2747.3 657.7,2747.3 660.4,2747.4 663.1,2747.4 665.8,2747.5 668.4,2747.6 671.1,2747.7 673.8,2747.8 676.5,2747.9 679.1,2748 681.8,2748.1 684.5,2748.2 687.2,2748.3 689.8,2748.4 692.5,2748.5 695.2,2748.6 697.9,2748.7 700.6,2748.8 703.2,2748.9 705.9,2748.9 708.6,2749 711.3,2749.1 713.9,2749.2 716.6,2749.2 719.3,2749.3 722,2749.4 724.7,2749.4 727.3,2749.5 730,2749.5 732.7,2749.6 735.4,2749.6 738,2749.6 740.7,2749.7 743.4,2749.7 746.1,2749.7 748.7,2749.7 751.4,2749.7 754.1,2749.8 756.8,2749.8 759.5,2749.8 762.1,2749.8 764.8,2749.8 767.5,2749.8 770.2,2749.8 772.8,2749.8 775.5,2749.8 778.2,2749.8 780.9,2749.8 783.6,2749.9 786.2,2749.9 788.9,2749.9 791.6,2749.9 794.3,2749.9 796.9,2749.9 799.6,2749.9 802.3,2749.9 805,2749.9 807.6,2749.9 810.3,2749.9 813,2749.9 815.7,2749.9 818.4,2749.9 821,2749.9 823.7,2749.9 826.4,2749.9 829.1,2749.9 831.7,2749.9 834.4,2749.9 837.1,2749.9 839.8,2749.9" stroke="#17becf" stroke-width="4.2" stroke-linecap="square"/>
<polyline points="197.2,2747.8 199.9,2747.4 202.6,2746.9 205.3,2746.4 207.9,2745.8 210.6,2745.1 213.3,2744.4 216,2743.5 218.6,2742.5 221.3,2741.5 224,2740.3 226.7,2738.9 229.4,2737.5 232,2735.8 234.7,2734.1 237.4,2732.1 240.1,2729.9 242.7,2727.4 245.4,2724.6 248.1,2721.4 250.8,2717.8 253.4,2713.7 256.1,2709.2 258.8,2704 261.5,2698.3 264.2,2692 266.8,2685.1 269.5,2677.5 272.2,2669.5 274.9,2660.8 277.5,2651.7 280.2,2642.2 282.9,2632.2 285.6,2622 288.3,2611.6 290.9,2601 293.6,2590.3 296.3,2579.5 299,2568.6 301.6,2557.6 304.3,2546.5 307,2535.3 309.7,2524 312.4,2512.7 315,2501.4 317.7,2490.3 320.4,2479.4 323.1,2468.8 325.7,2458.7 328.4,2449.2 331.1,2440.4 333.8,2432.4 336.4,2425.3 339.1,2419.1 341.8,2414 344.5,2409.9 347.2,2406.9 349.8,2405.1 352.5,2404.4 355.2,2404.7 357.9,2406.2 360.5,2408.8 363.2,2412.5 365.9,2417.2 368.6,2422.9 371.2,2429.5 373.9,2437.1 376.6,2445.6 379.3,2454.9 382,2464.9 384.6,2475.6 387.3,2487.1 390,2499 392.7,2511.5 395.3,2524.5 398,2537.7 400.7,2551.3 403.4,2564.9 406.1,2578.6 408.7,2592.1 411.4,2605.5 414.1,2618.5 416.8,2631 419.4,2643 422.1,2654.4 424.8,2665.1 427.5,2675 430.1,2684.2 432.8,2692.7 435.5,2700.6 438.2,2707.8 440.9,2714.4 443.5,2720.5 446.2,2726.1 448.9,2731.2 451.6,2735.9 454.2,2740.2 456.9,2744.1 459.6,2747.5 462.3,2750.5 465,2753 467.6,2755.2 470.3,2756.9 473,2758.2 475.7,2759.1 478.3,2759.7 481,2760 483.7,2760.1 486.4,2760 489,2759.8 491.7,2759.4 494.4,2759 497.1,2758.6 499.8,2758.1 502.4,2757.7 505.1,2757.2 507.8,2756.8 510.5,2756.3 513.1,2755.9 515.8,2755.5 518.5,2755.1 521.2,2754.8 523.9,2754.4 526.5,2754 529.2,2753.7 531.9,2753.4 534.6,2753.1 537.2,2752.8 539.9,2752.5 542.6,2752.2 545.3,2752 548,2751.7 550.6,2751.5 553.3,2751.3 556,2751.1 558.7,2751 561.3,2750.8 564,2750.7 566.7,2750.6 569.4,2750.5 572,2750.4 574.7,2750.3 577.4,2750.2 580.1,2750.2 582.8,2750.1 585.4,2750.1 588.1,2750 590.8,2750 593.5,2750 596.1,2749.9 598.8,2749.9 601.5,2749.9 604.2,2749.9 606.9,2749.9 609.5,2749.9 612.2,2749.8 614.9,2749.8 617.6,2749.8 620.2,2749.8 622.9,2749.8 625.6,2749.8 628.3,2749.8 630.9,2749.8 633.6,2749.8 636.3,2749.8 639,2749.8 641.7,2749.8 644.3,2749.8 647,2749.8 649.7,2749.8 652.4,2749.8 655,2749.8 657.7,2749.8 660.4,2749.8 663.1,2749.8 665.8,2749.8 668.4,2749.8 671.1,2749.8 673.8,2749.8 676.5,2749.8 679.1,2749.8 681.8,2749.8 684.5,2749.8 687.2,2749.8 689.8,2749.8 692.5,2749.8 695.2,2749.8 697.9,2749.8 700.6,2749.8 703.2,2749.8 705.9,2749.8 708.6,2749.8 711.3,2749.8 713.9,2749.8 716.6,2749.8 719.3,2749.8 722,2749.8 724.7,2749.8 727.3,2749.8 730,2749.8 732.7,2749.8 735.4,2749.8 738,2749.8 740.7,2749.8 743.4,2749.8 746.1,2749.8 748.7,2749.8 751.4,2749.8 754.1,2749.8 756.8,2749.8 759.5,2749.8 762.1,2749.8 764.8,2749.8 767.5,2749.8 770.2,2749.8 772.8,2749.8 775.5,2749.8 778.2,2749.8 780.9,2749.8 783.6,2749.8 786.2,2749.8 788.9,2749.8 791.6,2749.8 794.3,2749.8 796.9,2749.8 799.6,2749.8 802.3,2749.8 805,2749.8 807.6,2749.8 810.3,2749.8 813,2749.8 815.7,2749.8 818.4,2749.8 821,2749.8 823.7,2749.8 826.4,2749.8 829.1,2749.8 831.7,2749.8 834.4,2749.8 837.1,2749.8 839.8,2749.8" stroke="#17becf" stroke-width="4.2" stroke-dasharray="15.54 6.72"/>
<polyline points="197.2,2748.3 199.9,2748 202.6,2747.6 205.3,2747.2 207.9,2746.8 210.6,2746.3 213.3,2745.7 216,2745 218.6,2744.3 221.3,2743.5 224,2742.6 226.7,2741.6 229.4,2740.5 232,2739.3 234.7,2738 237.4,2736.6 240.1,2734.9 242.7,2733.1 245.4,2730.9 248.1,2728.5 250.8,2725.7 253.4,2722.6 256.1,2718.9 258.8,2714.8 261.5,2710.1 264.2,2704.9 266.8,2699.2 269.5,2692.9 272.2,2686.2 274.9,2678.9 277.5,2671.2 280.2,2663.1 282.9,2654.6 285.6,2645.9 288.3,2637 290.9,2627.9 293.6,2618.7 296.3,2609.4 299,2599.9 301.6,2590.4 304.3,2580.7 307,2570.8 309.7,2560.8 312.4,2550.8 315,2540.7 317.7,2530.6 320.4,2520.7 323.1,2511 325.7,2501.7 328.4,2492.9 331.1,2484.7 333.8,2477.1 336.4,2470.3 339.1,2464.3 341.8,2459.2 344.5,2455 347.2,2451.7 349.8,2449.4 352.5,2448.1 355.2,2447.8 357.9,2448.4 360.5,2449.9 363.2,2452.4 365.9,2455.8 368.6,2460.1 371.2,2465.3 373.9,2471.2 376.6,2478 379.3,2485.6 382,2493.9 384.6,2503 387.3,2512.7 390,2523 392.7,2533.8 395.3,2545.2 398,2556.9 400.7,2568.9 403.4,2581.1 406.1,2593.4 408.7,2605.7 411.4,2617.8 414.1,2629.6 416.8,2641 419.4,2651.9 422.1,2662.2 424.8,2671.8 427.5,2680.8 430.1,2689.2 432.8,2696.9 435.5,2704 438.2,2710.5 440.9,2716.6 443.5,2722.3 446.2,2727.6 448.9,2732.6 451.6,2737.3 454.2,2741.6 456.9,2745.7 459.6,2749.5 462.3,2752.8 465,2755.9 467.6,2758.5 470.3,2760.7 473,2762.5 475.7,2763.9 478.3,2765 481,2765.8 483.7,2766.4 486.4,2766.8 489,2767 491.7,2767.1 494.4,2767.2 497.1,2767.2 499.8,2767.2 502.4,2767.1 505.1,2767.1 507.8,2767 510.5,2767 513.1,2766.9 515.8,2766.8 518.5,2766.6 521.2,2766.4 523.9,2766.2 526.5,2766 529.2,2765.7 531.9,2765.4 534.6,2765 537.2,2764.6 539.9,2764.2 542.6,2763.7 545.3,2763.2 548,2762.7 550.6,2762.2 553.3,2761.6 556,2761 558.7,2760.4 561.3,2759.8 564,2759.2 566.7,2758.6 569.4,2758 572,2757.3 574.7,2756.7 577.4,2756.1 580.1,2755.5 582.8,2754.9 585.4,2754.3 588.1,2753.7 590.8,2753.1 593.5,2752.6 596.1,2752.1 598.8,2751.6 601.5,2751.1 604.2,2750.7 606.9,2750.3 609.5,2749.9 612.2,2749.5 614.9,2749.2 617.6,2748.9 620.2,2748.6 622.9,2748.4 625.6,2748.1 628.3,2748 630.9,2747.8 633.6,2747.6 636.3,2747.5 639,2747.4 641.7,2747.4 644.3,2747.3 647,2747.3 649.7,2747.3 652.4,2747.3 655,2747.3 657.7,2747.3 660.4,2747.4 663.1,2747.4 665.8,2747.5 668.4,2747.6 671.1,2747.7 673.8,2747.8 676.5,2747.9 679.1,2748 681.8,2748.1 684.5,2748.2 687.2,2748.3 689.8,2748.4 692.5,2748.5 695.2,2748.6 697.9,2748.7 700.6,2748.8 703.2,2748.9 705.9,2748.9 708.6,2749 711.3,2749.1 713.9,2749.2 716.6,2749.2 719.3,2749.3 722,2749.4 724.7,2749.4 727.3,2749.5 730,2749.5 732.7,2749.6 735.4,2749.6 738,2749.6 740.7,2749.7 743.4,2749.7 746.1,2749.7 748.7,2749.7 751.4,2749.7 754.1,2749.8 756.8,2749.8 759.5,2749.8 762.1,2749.8 764.8,2749.8 767.5,2749.8 770.2,2749.8 772.8,2749.8 775.5,2749.8 778.2,2749.8 780.9,2749.8 783.6,2749.9 786.2,2749.9 788.9,2749.9 791.6,2749.9 794.3,2749.9 796.9,2749.9 799.6,2749.9 802.3,2749.9 805,2749.9 807.6,2749.9 810.3,2749.9 813,2749.9 815.7,2749.9 818.4,2749.9 821,2749.9 823.7,2749.9 826.4,2749.9 829.1,2749.9 831.7,2749.9 834.4,2749.9 837.1,2749.9 839.8,2749.9" stroke="#1f77b4" stroke-width="4.2" stroke-linecap="square"/>
<polyline points="197.2,2747.8 199.9,2747.4 202.6,2746.9 205.3,2746.4 207.9,2745.8 210.6,2745.2 213.3,2744.4 216,2743.5 218.6,2742.6 221.3,2741.5 224,2740.3 226.7,2739 229.4,2737.5 232,2735.9 234.7,2734.1 237.4,2732.1 240.1,2729.9 242.7,2727.4 245.4,2724.6 248.1,2721.5 250.8,2717.9 253.4,2713.9 256.1,2709.3 258.8,2704.2 261.5,2698.5 264.2,2692.2 266.8,2685.3 269.5,2677.8 272.2,2669.7 274.9,2661.1 277.5,2652 280.2,2642.5 282.9,2632.6 285.6,2622.5 288.3,2612.1 290.9,2601.5 293.6,2590.8 296.3,2580.1 299,2569.2 301.6,2558.2 304.3,2547.1 307,2536 309.7,2524.7 312.4,2513.5 315,2502.2 317.7,2491.1 320.4,2480.3 323.1,2469.7 325.7,2459.7 328.4,2450.2 331.1,2441.4 333.8,2433.4 336.4,2426.3 339.1,2420.2 341.8,2415.1 344.5,2411 347.2,2408.1 349.8,2406.2 352.5,2405.5 355.2,2405.9 357.9,2407.4 360.5,2409.9 363.2,2413.6 365.9,2418.3 368.6,2423.9 371.2,2430.6 373.9,2438.1 376.6,2446.6 379.3,2455.8 382,2465.8 384.6,2476.5 387.3,2487.9 390,2499.9 392.7,2512.3 395.3,2525.2 398,2538.4 400.7,2551.9 403.4,2565.5 406.1,2579.1 408.7,2592.7 411.4,2606 414.1,2618.9 416.8,2631.4 419.4,2643.4 422.1,2654.7 424.8,2665.3 427.5,2675.2 430.1,2684.4 432.8,2692.9 435.5,2700.7 438.2,2707.9 440.9,2714.5 443.5,2720.6 446.2,2726.1 448.9,2731.3 451.6,2735.9 454.2,2740.2 456.9,2744.1 459.6,2747.5 462.3,2750.5 465,2753 467.6,2755.2 470.3,2756.9 473,2758.1 475.7,2759.1 478.3,2759.7 481,2760 483.7,2760.1 486.4,2760 489,2759.7 491.7,2759.4 494.4,2759 497.1,2758.5 499.8,2758.1 502.4,2757.6 505.1,2757.2 507.8,2756.7 510.5,2756.3 513.1,2755.9 515.8,2755.5 518.5,2755.1 521.2,2754.7 523.9,2754.4 526.5,2754 529.2,2753.7 531.9,2753.4 534.6,2753.1 537.2,2752.8 539.9,2752.5 542.6,2752.2 545.3,2752 548,2751.7 550.6,2751.5 553.3,2751.3 556,2751.1 558.7,2751 561.3,2750.8 564,2750.7 566.7,2750.6 569.4,2750.5 572,2750.4 574.7,2750.3 577.4,2750.2 580.1,2750.2 582.8,2750.1 585.4,2750.1 588.1,2750 590.8,2750 593.5,2749.9 596.1,2749.9 598.8,2749.9 601.5,2749.9 604.2,2749.9 606.9,2749.9 609.5,2749.9 612.2,2749.8 614.9,2749.8 617.6,2749.8 620.2,2749.8 622.9,2749.8 625.6,2749.8 628.3,2749.8 630.9,2749.8 633.6,2749.8 636.3,2749.8 639,2749.8 641.7,2749.8 644.3,2749.8 647,2749.8 649.7,2749.8 652.4,2749.8 655,2749.8 657.7,2749.8 660.4,2749.8 663.1,2749.8 665.8,2749.8 668.4,2749.8 671.1,2749.8 673.8,2749.8 676.5,2749.8 679.1,2749.8 681.8,2749.8 684.5,2749.8 687.2,2749.8 689.8,2749.8 692.5,2749.8 695.2,2749.8 697.9,2749.8 700.6,2749.8 703.2,2749.8 705.9,2749.8 708.6,2749.8 711.3,2749.8 713.9,2749.8 716.6,2749.8 719.3,2749.8 722,2749.8 724.7,2749.8 727.3,2749.8 730,2749.8 732.7,2749.8 735.4,2749.8 738,2749.8 740.7,2749.8 743.4,2749.8 746.1,2749.8 748.7,2749.8 751.4,2749.8 754.1,2749.8 756.8,2749.8 759.5,2749.8 762.1,2749.8 764.8,2749.8 767.5,2749.8 770.2,2749.8 772.8,2749.8 775.5,2749.8 778.2,2749.8 780.9,2749.8 783.6,2749.8 786.2,2749.8 788.9,2749.8 791.6,2749.8 794.3,2749.8 796.9,2749.8 799.6,2749.8 802.3,2749.8 805,2749.8 807.6,2749.8 810.3,2749.8 813,2749.8 815.7,2749.8 818.4,2749.8 821,2749.8 823.7,2749.8 826.4,2749.8 829.1,2749.8 831.7,2749.8 834.4,2749.8 837.1,2749.8 839.8,2749.8" stroke="#1f77b4" stroke-width="4.2" stroke-dasharray="15.54 6.72"/>
<polyline points="197.2,2748.3 199.9,2748 202.6,2747.6 205.3,2747.2 207.9,2746.8 210.6,2746.3 213.3,2745.7 216,2745 218.6,2744.3 221.3,2743.5 224,2742.6 226.7,2741.6 229.4,2740.5 232,2739.3 234.7,2738 237.4,2736.6 240.1,2734.9 242.7,2733.1 245.4,2730.9 248.1,2728.5 250.8,2725.7 253.4,2722.6 256.1,2718.9 258.8,2714.8 261.5,2710.1 264.2,2704.9 266.8,2699.2 269.5,2692.9 272.2,2686.2 274.9,2678.9 277.5,2671.2 280.2,2663.1 282.9,2654.6 285.6,2645.9 288.3,2637 290.9,2627.9 293.6,2618.7 296.3,2609.4 299,2599.9 301.6,2590.4 304.3,2580.7 307,2570.8 309.7,2560.8 312.4,2550.8 315,2540.7 317.7,2530.6 320.4,2520.7 323.1,2511 325.7,2501.7 328.4,2492.9 331.1,2484.7 333.8,2477.1 336.4,2470.3 339.1,2464.3 341.8,2459.2 344.5,2455 347.2,2451.7 349.8,2449.4 352.5,2448.1 355.2,2447.8 357.9,2448.4 360.5,2449.9 363.2,2452.4 365.9,2455.8 368.6,2460.1 371.2,2465.3 373.9,2471.2 376.6,2478 379.3,2485.6 382,2493.9 384.6,2503 387.3,2512.7 390,2523 392.7,2533.8 395.3,2545.2 398,2556.9 400.7,2568.9 403.4,2581.1 406.1,2593.4 408.7,2605.7 411.4,2617.8 414.1,2629.6 416.8,2641 419.4,2651.9 422.1,2662.2 424.8,2671.8 427.5,2680.8 430.1,2689.2 432.8,2696.9 435.5,2704 438.2,2710.5 440.9,2716.6 443.5,2722.3 446.2,2727.6 448.9,2732.6 451.6,2737.3 454.2,2741.6 456.9,2745.7 459.6,2749.5 462.3,2752.8 465,2755.9 467.6,2758.5 470.3,2760.7 473,2762.5 475.7,2763.9 478.3,2765 481,2765.8 483.7,2766.4 486.4,2766.8 489,2767 491.7,2767.1 494.4,2767.2 497.1,2767.2 499.8,2767.2 502.4,2767.1 505.1,2767.1 507.8,2767 510.5,2767 513.1,2766.9 515.8,2766.8 518.5,2766.6 521.2,2766.4 523.9,2766.2 526.5,2766 529.2,2765.7 531.9,2765.4 534.6,2765 537.2,2764.6 539.9,2764.2 542.6,2763.7 545.3,2763.2 548,2762.7 550.6,2762.2 553.3,2761.6 556,2761 558.7,2760.4 561.3,2759.8 564,2759.2 566.7,2758.6 569.4,2758 572,2757.3 574.7,2756.7 577.4,2756.1 580.1,2755.5 582.8,2754.9 585.4,2754.3 588.1,2753.7 590.8,2753.1 593.5,2752.6 596.1,2752.1 598.8,2751.6 601.5,2751.1 604.2,2750.7 606.9,2750.3 609.5,2749.9 612.2,2749.5 614.9,2749.2 617.6,2748.9 620.2,2748.6 622.9,2748.4 625.6,2748.1 628.3,2748 630.9,2747.8 633.6,2747.6 636.3,2747.5 639,2747.4 641.7,2747.4 644.3,2747.3 647,2747.3 649.7,2747.3 652.4,2747.3 655,2747.3 657.7,2747.3 660.4,2747.4 663.1,2747.4 665.8,2747.5 668.4,2747.6 671.1,2747.7 673.8,2747.8 676.5,2747.9 679.1,2748 681.8,2748.1 684.5,2748.2 687.2,2748.3 689.8,2748.4 692.5,2748.5 695.2,2748.6 697.9,2748.7 700.6,2748.8 703.2,2748.9 705.9,2748.9 708.6,2749 711.3,2749.1 713.9,2749.2 716.6,2749.2 719.3,2749.3 722,2749.4 724.7,2749.4 727.3,2749.5 730,2749.5 732.7,2749.6 735.4,2749.6 738,2749.6 740.7,2749.7 743.4,2749.7 746.1,2749.7 748.7,2749.7 751.4,2749.7 754.1,2749.8 756.8,2749.8 759.5,2749.8 762.1,2749.8 764.8,2749.8 767.5,2749.8 770.2,2749.8 772.8,2749.8 775.5,2749.8 778.2,2749.8 780.9,2749.8 783.6,2749.9 786.2,2749.9 788.9,2749.9 791.6,2749.9 794.3,2749.9 796.9,2749.9 799.6,2749.9 802.3,2749.9 805,2749.9 807.6,2749.9 810.3,2749.9 813,2749.9 815.7,2749.9 818.4,2749.9 821,2749.9 823.7,2749.9 826.4,2749.9 829.1,2749.9 831.7,2749.9 834.4,2749.9 837.1,2749.9 839.8,2749.9" stroke="#9467bd" stroke-width="4.2" stroke-linecap="square"/>
<polyline points="197.2,2747.8 199.9,2747.4 202.6,2746.9 205.3,2746.4 207.9,2745.8 210.6,2745.2 213.3,2744.4 216,2743.5 218.6,2742.6 221.3,2741.5 224,2740.3 226.7,2739 229.4,2737.5 232,2735.9 234.7,2734.1 237.4,2732.1 240.1,2729.9 242.7,2727.4 245.4,2724.6 248.1,2721.5 250.8,2717.9 253.4,2713.9 256.1,2709.3 258.8,2704.2 261.5,2698.5 264.2,2692.2 266.8,2685.3 269.5,2677.8 272.2,2669.7 274.9,2661.1 277.5,2652 280.2,2642.5 282.9,2632.6 285.6,2622.5 288.3,2612.1 290.9,2601.5 293.6,2590.8 296.3,2580.1 299,2569.2 301.6,2558.2 304.3,2547.1 307,2536 309.7,2524.7 312.4,2513.5 315,2502.2 317.7,2491.1 320.4,2480.3 323.1,2469.7 325.7,2459.7 328.4,2450.2 331.1,2441.4 333.8,2433.4 336.4,2426.3 339.1,2420.2 341.8,2415.1 344.5,2411 347.2,2408.1 349.8,2406.2 352.5,2405.5 355.2,2405.9 357.9,2407.4 360.5,2409.9 363.2,2413.6 365.9,2418.3 368.6,2423.9 371.2,2430.6 373.9,2438.1 376.6,2446.6 379.3,2455.8 382,2465.8 384.6,2476.5 387.3,2487.9 390,2499.9 392.7,2512.3 395.3,2525.2 398,2538.4 400.7,2551.9 403.4,2565.5 406.1,2579.1 408.7,2592.7 411.4,2606 414.1,2618.9 416.8,2631.4 419.4,2643.4 422.1,2654.7 424.8,2665.3 427.5,2675.2 430.1,2684.4 432.8,2692.9 435.5,2700.7 438.2,2707.9 440.9,2714.5 443.5,2720.6 446.2,2726.1 448.9,2731.3 451.6,2735.9 454.2,2740.2 456.9,2744.1 459.6,2747.5 462.3,2750.5 465,2753 467.6,2755.2 470.3,2756.9 473,2758.1 475.7,2759.1 478.3,2759.7 481,2760 483.7,2760.1 486.4,2760 489,2759.7 491.7,2759.4 494.4,2759 497.1,2758.5 499.8,2758.1 502.4,2757.6 505.1,2757.2 507.8,2756.7 510.5,2756.3 513.1,2755.9 515.8,2755.5 518.5,2755.1 521.2,2754.7 523.9,2754.4 526.5,2754 529.2,2753.7 531.9,2753.4 534.6,2753.1 537.2,2752.8 539.9,2752.5 542.6,2752.2 545.3,2752 548,2751.7 550.6,2751.5 553.3,2751.3 556,2751.1 558.7,2751 561.3,2750.8 564,2750.7 566.7,2750.6 569.4,2750.5 572,2750.4 574.7,2750.3 577.4,2750.2 580.1,2750.2 582.8,2750.1 585.4,2750.1 588.1,2750 590.8,2750 593.5,2749.9 596.1,2749.9 598.8,2749.9 601.5,2749.9 604.2,2749.9 606.9,2749.9 609.5,2749.9 612.2,2749.8 614.9,2749.8 617.6,2749.8 620.2,2749.8 622.9,2749.8 625.6,2749.8 628.3,2749.8 630.9,2749.8 633.6,2749.8 636.3,2749.8 639,2749.8 641.7,2749.8 644.3,2749.8 647,2749.8 649.7,2749.8 652.4,2749.8 655,2749.8 657.7,2749.8 660.4,2749.8 663.1,2749.8 665.8,2749.8 668.4,2749.8 671.1,2749.8 673.8,2749.8 676.5,2749.8 679.1,2749.8 681.8,2749.8 684.5,2749.8 687.2,2749.8 689.8,2749.8 692.5,2749.8 695.2,2749.8 697.9,2749.8 700.6,2749.8 703.2,2749.8 705.9,2749.8 708.6,2749.8 711.3,2749.8 713.9,2749.8 716.6,2749.8 719.3,2749.8 722,2749.8 724.7,2749.8 727.3,2749.8 730,2749.8 732.7,2749.8 735.4,2749.8 738,2749.8 740.7,2749.8 743.4,2749.8 746.1,2749.8 748.7,2749.8 751.4,2749.8 754.1,2749.8 756.8,2749.8 759.5,2749.8 762.1,2749.8 764.8,2749.8 767.5,2749.8 770.2,2749.8 772.8,2749.8 775.5,2749.8 778.2,2749.8 780.9,2749.8 783.6,2749.8 786.2,2749.8 788.9,2749.8 791.6,2749.8 794.3,2749.8 796.9,2749.8 799.6,2749.8 802.3,2749.8 805,2749.8 807.6,2749.8 810.3,2749.8 813,2749.8 815.7,2749.8 818.4,2749.8 821,2749.8 823.7,2749.8 826.4,2749.8 829.1,2749.8 831.7,2749.8 834.4,2749.8 837.1,2749.8 839.8,2749.8" stroke="#9467bd" stroke-width="4.2" stroke-dasharray="15.54 6.72"/>
<polyline points="197.2,2748.3 199.9,2748 202.6,2747.6 205.3,2747.2 207.9,2746.8 210.6,2746.3 213.3,2745.7 216,2745 218.6,2744.3 221.3,2743.5 224,2742.6 226.7,2741.6 229.4,2740.5 232,2739.3 234.7,2738 237.4,2736.6 240.1,2734.9 242.7,2733.1 245.4,2730.9 248.1,2728.5 250.8,2725.7 253.4,2722.6 256.1,2718.9 258.8,2714.8 261.5,2710.1 264.2,2704.9 266.8,2699.2 269.5,2692.9 272.2,2686.2 274.9,2678.9 277.5,2671.2 280.2,2663.1 282.9,2654.6 285.6,2645.9 288.3,2637 290.9,2627.9 293.6,2618.7 296.3,2609.4 299,2599.9 301.6,2590.4 304.3,2580.7 307,2570.8 309.7,2560.8 312.4,2550.8 315,2540.7 317.7,2530.6 320.4,2520.7 323.1,2511 325.7,2501.7 328.4,2492.9 331.1,2484.7 333.8,2477.1 336.4,2470.3 339.1,2464.3 341.8,2459.2 344.5,2455 347.2,2451.7 349.8,2449.4 352.5,2448.1 355.2,2447.8 357.9,2448.4 360.5,2449.9 363.2,2452.4 365.9,2455.8 368.6,2460.1 371.2,2465.3 373.9,2471.2 376.6,2478 379.3,2485.6 382,2493.9 384.6,2503 387.3,2512.7 390,2523 392.7,2533.8 395.3,2545.2 398,2556.9 400.7,2568.9 403.4,2581.1 406.1,2593.4 408.7,2605.7 411.4,2617.8 414.1,2629.6 416.8,2641 419.4,2651.9 422.1,2662.2 424.8,2671.8 427.5,2680.8 430.1,2689.2 432.8,2696.9 435.5,2704 438.2,2710.5 440.9,2716.6 443.5,2722.3 446.2,2727.6 448.9,2732.6 451.6,2737.3 454.2,2741.6 456.9,2745.7 459.6,2749.5 462.3,2752.8 465,2755.9 467.6,2758.5 470.3,2760.7 473,2762.5 475.7,2763.9 478.3,2765 481,2765.8 483.7,2766.4 486.4,2766.8 489,2767 491.7,2767.1 494.4,2767.2 497.1,2767.2 499.8,2767.2 502.4,2767.1 505.1,2767.1 507.8,2767 510.5,2767 513.1,2766.9 515.8,2766.8 518.5,2766.6 521.2,2766.4 523.9,2766.2 526.5,2766 529.2,2765.7 531.9,2765.4 534.6,2765 537.2,2764.6 539.9,2764.2 542.6,2763.7 545.3,2763.2 548,2762.7 550.6,2762.2 553.3,2761.6 556,2761 558.7,2760.4 561.3,2759.8 564,2759.2 566.7,2758.6 569.4,2758 572,2757.3 574.7,2756.7 577.4,2756.1 580.1,2755.5 582.8,2754.9 585.4,2754.3 588.1,2753.7 590.8,2753.1 593.5,2752.6 596.1,2752.1 598.8,2751.6 601.5,2751.1 604.2,2750.7 606.9,2750.3 609.5,2749.9 612.2,2749.5 614.9,2749.2 617.6,2748.9 620.2,2748.6 622.9,2748.4 625.6,2748.1 628.3,2748 630.9,2747.8 633.6,2747.6 636.3,2747.5 639,2747.4 641.7,2747.4 644.3,2747.3 647,2747.3 649.7,2747.3 652.4,2747.3 655,2747.3 657.7,2747.3 660.4,2747.4 663.1,2747.4 665.8,2747.5 668.4,2747.6 671.1,2747.7 673.8,2747.8 676.5,2747.9 679.1,2748 681.8,2748.1 684.5,2748.2 687.2,2748.3 689.8,2748.4 692.5,2748.5 695.2,2748.6 697.9,2748.7 700.6,2748.8 703.2,2748.9 705.9,2748.9 708.6,2749 711.3,2749.1 713.9,2749.2 716.6,2749.2 719.3,2749.3 722,2749.4 724.7,2749.4 727.3,2749.5 730,2749.5 732.7,2749.6 735.4,2749.6 738,2749.6 740.7,2749.7 743.4,2749.7 746.1,2749.7 748.7,2749.7 751.4,2749.7 754.1,2749.8 756.8,2749.8 759.5,2749.8 762.1,2749.8 764.8,2749.8 767.5,2749.8 770.2,2749.8 772.8,2749.8 775.5,2749.8 778.2,2749.8 780.9,2749.8 783.6,2749.9 786.2,2749.9 788.9,2749.9 791.6,2749.9 794.3,2749.9 796.9,2749.9 799.6,2749.9 802.3,2749.9 805,2749.9 807.6,2749.9 810.3,2749.9 813,2749.9 815.7,2749.9 818.4,2749.9 821,2749.9 823.7,2749.9 826.4,2749.9 829.1,2749.9 831.7,2749.9 834.4,2749.9 837.1,2749.9 839.8,2749.9" stroke="#ff7f0e" stroke-width="4.2" stroke-linecap="square"/>
<polyline points="197.2,2747.8 199.9,2747.4 202.6,2746.9 205.3,2746.4 207.9,2745.8 210.6,2745.2 213.3,2744.4 216,2743.5 218.6,2742.6 221.3,2741.5 224,2740.3 226.7,2739 229.4,2737.5 232,2735.9 234.7,2734.1 237.4,2732.1 240.1,2729.9 242.7,2727.4 245.4,2724.6 248.1,2721.5 250.8,2717.9 253.4,2713.9 256.1,2709.3 258.8,2704.2 261.5,2698.5 264.2,2692.2 266.8,2685.3 269.5,2677.8 272.2,2669.7 274.9,2661.1 277.5,2652 280.2,2642.5 282.9,2632.6 285.6,2622.5 288.3,2612.1 290.9,2601.5 293.6,2590.8 296.3,2580.1 299,2569.2 301.6,2558.2 304.3,2547.1 307,2536 309.7,2524.7 312.4,2513.5 315,2502.2 317.7,2491.1 320.4,2480.3 323.1,2469.7 325.7,2459.7 328.4,2450.2 331.1,2441.4 333.8,2433.4 336.4,2426.3 339.1,2420.2 341.8,2415.1 344.5,2411 347.2,2408.1 349.8,2406.2 352.5,2405.5 355.2,2405.9 357.9,2407.4 360.5,2409.9 363.2,2413.6 365.9,2418.3 368.6,2423.9 371.2,2430.6 373.9,2438.1 376.6,2446.6 379.3,2455.8 382,2465.8 384.6,2476.5 387.3,2487.9 390,2499.9 392.7,2512.3 395.3,2525.2 398,2538.4 400.7,2551.9 403.4,2565.5 406.1,2579.1 408.7,2592.7 411.4,2606 414.1,2618.9 416.8,2631.4 419.4,2643.4 422.1,2654.7 424.8,2665.3 427.5,2675.2 430.1,2684.4 432.8,2692.9 435.5,2700.7 438.2,2707.9 440.9,2714.5 443.5,2720.6 446.2,2726.1 448.9,2731.3 451.6,2735.9 454.2,2740.2 456.9,2744.1 459.6,2747.5 462.3,2750.5 465,2753 467.6,2755.2 470.3,2756.9 473,2758.1 475.7,2759.1 478.3,2759.7 481,2760 483.7,2760.1 486.4,2760 489,2759.7 491.7,2759.4 494.4,2759 497.1,2758.5 499.8,2758.1 502.4,2757.6 505.1,2757.2 507.8,2756.7 510.5,2756.3 513.1,2755.9 515.8,2755.5 518.5,2755.1 521.2,2754.7 523.9,2754.4 526.5,2754 529.2,2753.7 531.9,2753.4 534.6,2753.1 537.2,2752.8 539.9,2752.5 542.6,2752.2 545.3,2752 548,2751.7 550.6,2751.5 553.3,2751.3 556,2751.1 558.7,2751 561.3,2750.8 564,2750.7 566.7,2750.6 569.4,2750.5 572,2750.4 574.7,2750.3 577.4,2750.2 580.1,2750.2 582.8,2750.1 585.4,2750.1 588.1,2750 590.8,2750 593.5,2749.9 596.1,2749.9 598.8,2749.9 601.5,2749.9 604.2,2749.9 606.9,2749.9 609.5,2749.9 612.2,2749.8 614.9,2749.8 617.6,2749.8 620.2,2749.8 622.9,2749.8 625.6,2749.8 628.3,2749.8 630.9,2749.8 633.6,2749.8 636.3,2749.8 639,2749.8 641.7,2749.8 644.3,2749.8 647,2749.8 649.7,2749.8 652.4,2749.8 655,2749.8 657.7,2749.8 660.4,2749.8 663.1,2749.8 665.8,2749.8 668.4,2749.8 671.1,2749.8 673.8,2749.8 676.5,2749.8 679.1,2749.8 681.8,2749.8 684.5,2749.8 687.2,2749.8 689.8,2749.8 692.5,2749.8 695.2,2749.8 697.9,2749.8 700.6,2749.8 703.2,2749.8 705.9,2749.8 708.6,2749.8 711.3,2749.8 713.9,2749.8 716.6,2749.8 719.3,2749.8 722,2749.8 724.7,2749.8 727.3,2749.8 730,2749.8 732.7,2749.8 735.4,2749.8 738,2749.8 740.7,2749.8 743.4,2749.8 746.1,2749.8 748.7,2749.8 751.4,2749.8 754.1,2749.8 756.8,2749.8 759.5,2749.8 762.1,2749.8 764.8,2749.8 767.5,2749.8 770.2,2749.8 772.8,2749.8 775.5,2749.8 778.2,2749.8 780.9,2749.8 783.6,2749.8 786.2,2749.8 788.9,2749.8 791.6,2749.8 794.3,2749.8 796.9,2749.8 799.6,2749.8 802.3,2749.8 805,2749.8 807.6,2749.8 810.3,2749.8 813,2749.8 815.7,2749.8 818.4,2749.8 821,2749.8 823.7,2749.8 826.4,2749.8 829.1,2749.8 831.7,2749.8 834.4,2749.8 837.1,2749.8 839.8,2749.8" stroke="#ff7f0e" stroke-width="4.2" stroke-dasharray="15.54 6.72"/>
<path d="M165.1 2749.81H871.9" stroke="#000" stroke-width="1.5"/>
</g>
<path d="M197.23 2806.2v11.03M411.41 2806.2v11.03M625.59 2806.2v11.03M839.77 2806.2v11.03M165.1 2749.81h-11.03M165.1 2655.83h-11.03M165.1 2561.85h-11.03M165.1 2467.86h-11.03M165.1 2373.88h-11.03M165.1 2279.9h-11.03" fill="none" stroke="#000" stroke-width="2.5"/>
<path d="M176.47 2806.2v6.3M187.43 2806.2v6.3M261.7 2806.2v6.3M299.42 2806.2v6.3M326.18 2806.2v6.3M346.93 2806.2v6.3M363.89 2806.2v6.3M378.23 2806.2v6.3M390.65 2806.2v6.3M401.61 2806.2v6.3M475.88 2806.2v6.3M513.6 2806.2v6.3M540.36 2806.2v6.3M561.12 2806.2v6.3M578.07 2806.2v6.3M592.41 2806.2v6.3M604.83 2806.2v6.3M615.79 2806.2v6.3M690.07 2806.2v6.3M727.78 2806.2v6.3M754.54 2806.2v6.3M775.3 2806.2v6.3M792.26 2806.2v6.3M806.6 2806.2v6.3M819.02 2806.2v6.3M829.97 2806.2v6.3M165.1 2806.2h-6.3M165.1 2787.4h-6.3M165.1 2768.61h-6.3M165.1 2731.01h-6.3M165.1 2712.22h-6.3M165.1 2693.42h-6.3M165.1 2674.62h-6.3M165.1 2637.03h-6.3M165.1 2618.24h-6.3M165.1 2599.44h-6.3M165.1 2580.64h-6.3M165.1 2543.05h-6.3M165.1 2524.25h-6.3M165.1 2505.46h-6.3M165.1 2486.66h-6.3M165.1 2449.07h-6.3M165.1 2430.27h-6.3M165.1 2411.47h-6.3M165.1 2392.68h-6.3M165.1 2355.09h-6.3M165.1 2336.29h-6.3M165.1 2317.49h-6.3M165.1 2298.7h-6.3" fill="none" stroke="#000" stroke-width="2"/>
<rect x="165.1" y="2279.9" width="706.8" height="526.3" fill="none" stroke="#000" stroke-width="2.5"/>
<g font-size="34.9" text-anchor="middle">
<text x="197.23" y="2854.7">1</text>
<text x="411.41" y="2854.7">10</text>
<text x="625.59" y="2854.7">100</text>
<text x="839.77" y="2854.7">1000</text>
</g>
<g font-size="34.9" text-anchor="end">
<text x="144.6" y="2763.11">0.0</text>
<text x="144.6" y="2669.13">0.5</text>
<text x="144.6" y="2575.15">1.0</text>
<text x="144.6" y="2481.16">1.5</text>
<text x="144.6" y="2387.18">2.0</text>
<text x="144.6" y="2293.2">2.5</text>
</g>
<g transform="translate(518.50 2901.70)" fill="#000">
<text x="-139.50 -110.43 -99.94 -76.81 -40.04 -16.81 -2.01 21.21 36.73 48.73" y="-0.00" font-size="37.80">Diameter [</text>
<text x="63.46 87.39" y="-0.00" font-size="37.80" font-style="italic">nm</text>
<text x="124.16" y="-0.00" font-size="37.80">]</text>
</g>
<g transform="translate(515.50 2256.50)" fill="#000">
<text x="-317.00 -302.27 -278.31 -263.58 -251.58 -228.82 -213.30 -202.81 -166.04 -142.90 -127.38 -105.04 -93.04 -69.08" y="-0.00" font-size="37.80">(g) Primary SO</text>
<text x="-39.00" y="6.23" font-size="26.46">4</text>
<text x="-21.15 -9.15 14.77 38.70 75.47 99.43 122.66 138.18 150.18 169.85 180.33 200.15 223.37 235.37 259.34 269.82 289.49 304.29" y="-0.00" font-size="37.80"> number size dist.</text>
</g>
<g transform="translate(62.90 2544.85) rotate(-90)" fill="#000">
<text transform="translate(-145.63 -0.76) skewX(-10) scale(1.06 0.93)" font-size="37.80">ℰ</text>
<text x="-123.26 -106.49" y="6.23" font-size="26.46" font-style="italic">dN</text>
<text x="-86.72" y="6.23" font-size="26.46">/</text>
<text x="-77.82" y="6.23" font-size="26.46" font-style="italic">d</text>
<text x="-61.04" y="6.23" font-size="26.46">(</text>
<text x="-50.73 -43.39 -26.64" y="6.23" font-size="26.46" font-style="italic">lnD</text>
<text x="-6.30" y="6.23" font-size="26.46">)</text>
<text x="5.05 17.05 31.78 52.53" y="-0.00" font-size="37.80"> [cm</text>
<text x="89.67 111.81" y="-14.55" font-size="26.46">−3</text>
<text x="129.66" y="-0.00" font-size="37.80">]</text>
</g>
<rect x="652.36" y="2296.3" width="203.44" height="239.7" rx="4.73" ry="4.73" fill="#fff" fill-opacity="0.8" stroke="#ccc" stroke-opacity="0.8" stroke-width="2.6"/>
<g font-size="31.5">
<path d="M664.96 2321.1h63" stroke="#000000" stroke-width="4.2" stroke-linecap="square" fill="none"/>
<text x="753.16" y="2333.1">2.3 %</text>
<path d="M664.96 2367.4h63" stroke="#17becf" stroke-width="4.2" stroke-linecap="square" fill="none"/>
<text x="753.16" y="2379.4">1.2 %</text>
<path d="M664.96 2413.7h63" stroke="#1f77b4" stroke-width="4.2" stroke-linecap="square" fill="none"/>
<text x="753.16" y="2425.7">1.9 %</text>
<path d="M664.96 2460h63" stroke="#9467bd" stroke-width="4.2" stroke-linecap="square" fill="none"/>
<text x="753.16" y="2472">2.6 %</text>
<path d="M664.96 2506.3h63" stroke="#ff7f0e" stroke-width="4.2" stroke-linecap="square" fill="none"/>
<text x="753.16" y="2518.3">2.8 %</text>
</g>
</g>
<g id="panel-h">
<rect x="1145.6" y="2278.8" width="700.9" height="522.2" fill="#fff"/>
<path d="M1156.88 2278.8V2801M1167.74 2278.8V2801M1241.4 2278.8V2801M1278.8 2278.8V2801M1305.33 2278.8V2801M1325.92 2278.8V2801M1342.73 2278.8V2801M1356.95 2278.8V2801M1369.27 2278.8V2801M1380.13 2278.8V2801M1453.79 2278.8V2801M1491.19 2278.8V2801M1517.73 2278.8V2801M1538.31 2278.8V2801M1555.13 2278.8V2801M1569.35 2278.8V2801M1581.66 2278.8V2801M1592.53 2278.8V2801M1666.18 2278.8V2801M1703.58 2278.8V2801M1730.12 2278.8V2801M1750.7 2278.8V2801M1767.52 2278.8V2801M1781.74 2278.8V2801M1794.06 2278.8V2801M1804.92 2278.8V2801M1145.6 2771.16H1846.5M1145.6 2741.32H1846.5M1145.6 2711.48H1846.5M1145.6 2681.64H1846.5M1145.6 2621.96H1846.5M1145.6 2592.12H1846.5M1145.6 2562.28H1846.5M1145.6 2532.44H1846.5M1145.6 2472.76H1846.5M1145.6 2442.92H1846.5M1145.6 2413.08H1846.5M1145.6 2383.24H1846.5M1145.6 2323.56H1846.5M1145.6 2293.72H1846.5" fill="none" stroke="#ebebeb" stroke-width="1.57" stroke-dasharray="1.57 2.6"/>
<path d="M1177.46 2278.8V2801M1389.85 2278.8V2801M1602.25 2278.8V2801M1814.64 2278.8V2801M1145.6 2651.8H1846.5M1145.6 2502.6H1846.5M1145.6 2353.4H1846.5" fill="none" stroke="#e1e1e1" stroke-width="2.2"/>
<clipPath id="clip-h"><rect x="1145.6" y="2278.8" width="700.9" height="522.2"/></clipPath>
<g clip-path="url(#clip-h)" fill="none" stroke-linejoin="round">
<polyline points="1177.5,2357.4 1180.1,2358.1 1182.8,2359 1185.4,2359.9 1188.1,2361 1190.7,2362.3 1193.4,2363.8 1196,2365.4 1198.7,2367.3 1201.4,2369.4 1204,2371.8 1206.7,2374.5 1209.3,2377.5 1212,2380.8 1214.6,2384.5 1217.3,2388.6 1219.9,2393.1 1222.6,2398 1225.2,2403.3 1227.9,2409.2 1230.6,2415.5 1233.2,2422.3 1235.9,2429.6 1238.5,2437.4 1241.2,2445.6 1243.8,2454.4 1246.5,2463.6 1249.1,2473.3 1251.8,2483.4 1254.5,2493.8 1257.1,2504.6 1259.8,2515.7 1262.4,2527 1265.1,2538.4 1267.7,2550 1270.4,2561.6 1273,2573.1 1275.7,2584.6 1278.3,2595.9 1281,2606.9 1283.7,2617.5 1286.3,2627.8 1289,2637.7 1291.6,2647 1294.3,2655.8 1296.9,2663.9 1299.6,2671.4 1302.2,2678.2 1304.9,2684.2 1307.6,2689.3 1310.2,2693.6 1312.9,2696.8 1315.5,2699.1 1318.2,2700.2 1320.8,2700.1 1323.5,2699 1326.1,2696.7 1328.8,2693.2 1331.4,2688.6 1334.1,2682.8 1336.8,2675.7 1339.4,2667.6 1342.1,2658.3 1344.7,2648.1 1347.4,2637 1350,2625.1 1352.7,2612.6 1355.3,2599.7 1358,2586.4 1360.6,2573 1363.3,2559.5 1366,2546.2 1368.6,2533.1 1371.3,2520.3 1373.9,2507.9 1376.6,2495.9 1379.2,2484.4 1381.9,2473.4 1384.5,2462.9 1387.2,2452.9 1389.9,2443.2 1392.5,2434 1395.2,2425.2 1397.8,2416.7 1400.5,2408.6 1403.1,2400.9 1405.8,2393.6 1408.4,2386.7 1411.1,2380.5 1413.7,2374.9 1416.4,2370 1419.1,2366 1421.7,2362.9 1424.4,2360.7 1427,2359.6 1429.7,2359.4 1432.3,2360.3 1435,2362.2 1437.6,2364.9 1440.3,2368.3 1443,2372.1 1445.6,2376.2 1448.3,2380.4 1450.9,2384.7 1453.6,2389 1456.2,2393.2 1458.9,2397.3 1461.5,2401.4 1464.2,2405.3 1466.8,2409.3 1469.5,2413.1 1472.2,2417 1474.8,2420.7 1477.5,2424.4 1480.1,2427.9 1482.8,2431.3 1485.4,2434.4 1488.1,2437.4 1490.7,2440.1 1493.4,2442.5 1496,2444.5 1498.7,2446.2 1501.4,2447.4 1504,2448.3 1506.7,2448.7 1509.3,2448.7 1512,2448.3 1514.6,2447.5 1517.3,2446.3 1519.9,2444.8 1522.6,2442.9 1525.3,2440.7 1527.9,2438.1 1530.6,2435.2 1533.2,2432.1 1535.9,2428.7 1538.5,2425 1541.2,2421.2 1543.8,2417.2 1546.5,2413 1549.1,2408.8 1551.8,2404.5 1554.5,2400.1 1557.1,2395.7 1559.8,2391.3 1562.4,2387 1565.1,2382.7 1567.7,2378.5 1570.4,2374.5 1573,2370.6 1575.7,2366.8 1578.4,2363.2 1581,2359.8 1583.7,2356.6 1586.3,2353.6 1589,2350.8 1591.6,2348.3 1594.3,2345.9 1596.9,2343.8 1599.6,2341.8 1602.2,2340.1 1604.9,2338.6 1607.6,2337.3 1610.2,2336.2 1612.9,2335.3 1615.5,2334.6 1618.2,2334 1620.8,2333.6 1623.5,2333.4 1626.1,2333.3 1628.8,2333.3 1631.5,2333.5 1634.1,2333.7 1636.8,2334.1 1639.4,2334.6 1642.1,2335.2 1644.7,2335.8 1647.4,2336.5 1650,2337.2 1652.7,2338 1655.3,2338.8 1658,2339.6 1660.7,2340.4 1663.3,2341.3 1666,2342.1 1668.6,2342.9 1671.3,2343.7 1673.9,2344.4 1676.6,2345.2 1679.2,2345.9 1681.9,2346.6 1684.5,2347.2 1687.2,2347.8 1689.9,2348.4 1692.5,2348.9 1695.2,2349.4 1697.8,2349.9 1700.5,2350.3 1703.1,2350.7 1705.8,2351 1708.4,2351.4 1711.1,2351.6 1713.8,2351.9 1716.4,2352.2 1719.1,2352.4 1721.7,2352.6 1724.4,2352.7 1727,2352.9 1729.7,2353 1732.3,2353.1 1735,2353.2 1737.6,2353.3 1740.3,2353.4 1743,2353.5 1745.6,2353.5 1748.3,2353.6 1750.9,2353.6 1753.6,2353.7 1756.2,2353.7 1758.9,2353.7 1761.5,2353.7 1764.2,2353.8 1766.9,2353.8 1769.5,2353.8 1772.2,2353.8 1774.8,2353.8 1777.5,2353.8 1780.1,2353.8 1782.8,2353.8 1785.4,2353.8 1788.1,2353.8 1790.7,2353.8 1793.4,2353.8 1796.1,2353.8 1798.7,2353.8 1801.4,2353.8 1804,2353.8 1806.7,2353.8 1809.3,2353.8 1812,2353.8 1814.6,2353.8" stroke="#000000" stroke-width="4" stroke-linecap="square"/>
<polyline points="1177.5,2357.4 1180.1,2358.1 1182.8,2359 1185.4,2359.9 1188.1,2361 1190.7,2362.3 1193.4,2363.8 1196,2365.4 1198.7,2367.3 1201.4,2369.4 1204,2371.8 1206.7,2374.5 1209.3,2377.5 1212,2380.8 1214.6,2384.5 1217.3,2388.6 1219.9,2393.1 1222.6,2398 1225.2,2403.4 1227.9,2409.2 1230.6,2415.5 1233.2,2422.3 1235.9,2429.7 1238.5,2437.5 1241.2,2445.8 1243.8,2454.5 1246.5,2463.8 1249.1,2473.5 1251.8,2483.6 1254.5,2494.1 1257.1,2504.9 1259.8,2516 1262.4,2527.4 1265.1,2538.9 1267.7,2550.5 1270.4,2562.2 1273,2573.8 1275.7,2585.3 1278.3,2596.6 1281,2607.7 1283.7,2618.5 1286.3,2628.8 1289,2638.7 1291.6,2648.1 1294.3,2657 1296.9,2665.2 1299.6,2672.7 1302.2,2679.5 1304.9,2685.5 1307.6,2690.7 1310.2,2695 1312.9,2698.3 1315.5,2700.5 1318.2,2701.7 1320.8,2701.6 1323.5,2700.4 1326.1,2698 1328.8,2694.4 1331.4,2689.6 1334.1,2683.5 1336.8,2676.2 1339.4,2667.6 1342.1,2658 1344.7,2647.3 1347.4,2635.8 1350,2623.4 1352.7,2610.4 1355.3,2597 1358,2583.2 1360.6,2569.3 1363.3,2555.3 1366,2541.5 1368.6,2528 1371.3,2514.8 1373.9,2502 1376.6,2489.7 1379.2,2477.8 1381.9,2466.5 1384.5,2455.7 1387.2,2445.4 1389.9,2435.5 1392.5,2426 1395.2,2417 1397.8,2408.3 1400.5,2399.9 1403.1,2392 1405.8,2384.6 1408.4,2377.6 1411.1,2371.3 1413.7,2365.6 1416.4,2360.8 1419.1,2356.9 1421.7,2353.9 1424.4,2352 1427,2351.1 1429.7,2351.2 1432.3,2352.5 1435,2354.8 1437.6,2358 1440.3,2361.7 1443,2365.9 1445.6,2370.4 1448.3,2375 1450.9,2379.7 1453.6,2384.3 1456.2,2388.8 1458.9,2393.3 1461.5,2397.7 1464.2,2402 1466.8,2406.2 1469.5,2410.4 1472.2,2414.5 1474.8,2418.6 1477.5,2422.5 1480.1,2426.3 1482.8,2429.9 1485.4,2433.4 1488.1,2436.5 1490.7,2439.4 1493.4,2442 1496,2444.2 1498.7,2446 1501.4,2447.4 1504,2448.3 1506.7,2448.7 1509.3,2448.7 1512,2448.3 1514.6,2447.5 1517.3,2446.3 1519.9,2444.8 1522.6,2442.9 1525.3,2440.7 1527.9,2438.1 1530.6,2435.2 1533.2,2432.1 1535.9,2428.7 1538.5,2425 1541.2,2421.2 1543.8,2417.2 1546.5,2413 1549.1,2408.8 1551.8,2404.5 1554.5,2400.1 1557.1,2395.7 1559.8,2391.3 1562.4,2387 1565.1,2382.7 1567.7,2378.5 1570.4,2374.5 1573,2370.6 1575.7,2366.8 1578.4,2363.2 1581,2359.8 1583.7,2356.6 1586.3,2353.6 1589,2350.8 1591.6,2348.3 1594.3,2345.9 1596.9,2343.8 1599.6,2341.8 1602.2,2340.1 1604.9,2338.6 1607.6,2337.3 1610.2,2336.2 1612.9,2335.3 1615.5,2334.6 1618.2,2334 1620.8,2333.6 1623.5,2333.4 1626.1,2333.3 1628.8,2333.3 1631.5,2333.5 1634.1,2333.7 1636.8,2334.1 1639.4,2334.6 1642.1,2335.2 1644.7,2335.8 1647.4,2336.5 1650,2337.2 1652.7,2338 1655.3,2338.8 1658,2339.6 1660.7,2340.4 1663.3,2341.3 1666,2342.1 1668.6,2342.9 1671.3,2343.7 1673.9,2344.4 1676.6,2345.2 1679.2,2345.9 1681.9,2346.6 1684.5,2347.2 1687.2,2347.8 1689.9,2348.4 1692.5,2348.9 1695.2,2349.4 1697.8,2349.9 1700.5,2350.3 1703.1,2350.7 1705.8,2351 1708.4,2351.4 1711.1,2351.6 1713.8,2351.9 1716.4,2352.2 1719.1,2352.4 1721.7,2352.6 1724.4,2352.7 1727,2352.9 1729.7,2353 1732.3,2353.1 1735,2353.2 1737.6,2353.3 1740.3,2353.4 1743,2353.5 1745.6,2353.5 1748.3,2353.6 1750.9,2353.6 1753.6,2353.7 1756.2,2353.7 1758.9,2353.7 1761.5,2353.7 1764.2,2353.8 1766.9,2353.8 1769.5,2353.8 1772.2,2353.8 1774.8,2353.8 1777.5,2353.8 1780.1,2353.8 1782.8,2353.8 1785.4,2353.8 1788.1,2353.8 1790.7,2353.8 1793.4,2353.8 1796.1,2353.8 1798.7,2353.8 1801.4,2353.8 1804,2353.8 1806.7,2353.8 1809.3,2353.8 1812,2353.8 1814.6,2353.8" stroke="#17becf" stroke-width="4" stroke-linecap="square"/>
<polyline points="1177.5,2357.4 1180.1,2358.1 1182.8,2359 1185.4,2359.9 1188.1,2361 1190.7,2362.3 1193.4,2363.8 1196,2365.4 1198.7,2367.3 1201.4,2369.4 1204,2371.8 1206.7,2374.5 1209.3,2377.5 1212,2380.8 1214.6,2384.5 1217.3,2388.6 1219.9,2393.1 1222.6,2398 1225.2,2403.4 1227.9,2409.2 1230.6,2415.5 1233.2,2422.3 1235.9,2429.7 1238.5,2437.5 1241.2,2445.8 1243.8,2454.5 1246.5,2463.8 1249.1,2473.5 1251.8,2483.6 1254.5,2494.1 1257.1,2504.9 1259.8,2516 1262.4,2527.4 1265.1,2538.9 1267.7,2550.5 1270.4,2562.2 1273,2573.8 1275.7,2585.3 1278.3,2596.6 1281,2607.7 1283.7,2618.5 1286.3,2628.8 1289,2638.7 1291.6,2648.1 1294.3,2657 1296.9,2665.2 1299.6,2672.7 1302.2,2679.5 1304.9,2685.5 1307.6,2690.7 1310.2,2695 1312.9,2698.3 1315.5,2700.5 1318.2,2701.7 1320.8,2701.6 1323.5,2700.4 1326.1,2698.1 1328.8,2694.5 1331.4,2689.8 1334.1,2683.8 1336.8,2676.6 1339.4,2668.2 1342.1,2658.7 1344.7,2648.2 1347.4,2636.8 1350,2624.7 1352.7,2611.9 1355.3,2598.7 1358,2585.1 1360.6,2571.4 1363.3,2557.7 1366,2544.1 1368.6,2530.7 1371.3,2517.7 1373.9,2505 1376.6,2492.9 1379.2,2481.2 1381.9,2470 1384.5,2459.4 1387.2,2449.2 1389.9,2439.4 1392.5,2430 1395.2,2421.1 1397.8,2412.5 1400.5,2404.3 1403.1,2396.4 1405.8,2389.1 1408.4,2382.2 1411.1,2375.9 1413.7,2370.3 1416.4,2365.5 1419.1,2361.5 1421.7,2358.5 1424.4,2356.6 1427,2355.6 1429.7,2355.6 1432.3,2356.8 1435,2358.9 1437.6,2361.9 1440.3,2365.5 1443,2369.5 1445.6,2373.7 1448.3,2378.2 1450.9,2382.6 1453.6,2387 1456.2,2391.4 1458.9,2395.6 1461.5,2399.8 1464.2,2403.9 1466.8,2408 1469.5,2412 1472.2,2415.9 1474.8,2419.8 1477.5,2423.6 1480.1,2427.2 1482.8,2430.7 1485.4,2434 1488.1,2437 1490.7,2439.8 1493.4,2442.3 1496,2444.4 1498.7,2446.1 1501.4,2447.4 1504,2448.3 1506.7,2448.7 1509.3,2448.7 1512,2448.3 1514.6,2447.5 1517.3,2446.3 1519.9,2444.8 1522.6,2442.9 1525.3,2440.7 1527.9,2438.1 1530.6,2435.2 1533.2,2432.1 1535.9,2428.7 1538.5,2425 1541.2,2421.2 1543.8,2417.2 1546.5,2413 1549.1,2408.8 1551.8,2404.5 1554.5,2400.1 1557.1,2395.7 1559.8,2391.3 1562.4,2387 1565.1,2382.7 1567.7,2378.5 1570.4,2374.5 1573,2370.6 1575.7,2366.8 1578.4,2363.2 1581,2359.8 1583.7,2356.6 1586.3,2353.6 1589,2350.8 1591.6,2348.3 1594.3,2345.9 1596.9,2343.8 1599.6,2341.8 1602.2,2340.1 1604.9,2338.6 1607.6,2337.3 1610.2,2336.2 1612.9,2335.3 1615.5,2334.6 1618.2,2334 1620.8,2333.6 1623.5,2333.4 1626.1,2333.3 1628.8,2333.3 1631.5,2333.5 1634.1,2333.7 1636.8,2334.1 1639.4,2334.6 1642.1,2335.2 1644.7,2335.8 1647.4,2336.5 1650,2337.2 1652.7,2338 1655.3,2338.8 1658,2339.6 1660.7,2340.4 1663.3,2341.3 1666,2342.1 1668.6,2342.9 1671.3,2343.7 1673.9,2344.4 1676.6,2345.2 1679.2,2345.9 1681.9,2346.6 1684.5,2347.2 1687.2,2347.8 1689.9,2348.4 1692.5,2348.9 1695.2,2349.4 1697.8,2349.9 1700.5,2350.3 1703.1,2350.7 1705.8,2351 1708.4,2351.4 1711.1,2351.6 1713.8,2351.9 1716.4,2352.2 1719.1,2352.4 1721.7,2352.6 1724.4,2352.7 1727,2352.9 1729.7,2353 1732.3,2353.1 1735,2353.2 1737.6,2353.3 1740.3,2353.4 1743,2353.5 1745.6,2353.5 1748.3,2353.6 1750.9,2353.6 1753.6,2353.7 1756.2,2353.7 1758.9,2353.7 1761.5,2353.7 1764.2,2353.8 1766.9,2353.8 1769.5,2353.8 1772.2,2353.8 1774.8,2353.8 1777.5,2353.8 1780.1,2353.8 1782.8,2353.8 1785.4,2353.8 1788.1,2353.8 1790.7,2353.8 1793.4,2353.8 1796.1,2353.8 1798.7,2353.8 1801.4,2353.8 1804,2353.8 1806.7,2353.8 1809.3,2353.8 1812,2353.8 1814.6,2353.8" stroke="#1f77b4" stroke-width="4" stroke-linecap="square"/>
<polyline points="1177.5,2357.4 1180.1,2358.1 1182.8,2359 1185.4,2359.9 1188.1,2361 1190.7,2362.3 1193.4,2363.8 1196,2365.4 1198.7,2367.3 1201.4,2369.4 1204,2371.8 1206.7,2374.5 1209.3,2377.5 1212,2380.8 1214.6,2384.5 1217.3,2388.6 1219.9,2393.1 1222.6,2398 1225.2,2403.4 1227.9,2409.2 1230.6,2415.6 1233.2,2422.4 1235.9,2429.7 1238.5,2437.5 1241.2,2445.8 1243.8,2454.6 1246.5,2463.9 1249.1,2473.6 1251.8,2483.7 1254.5,2494.2 1257.1,2505.1 1259.8,2516.2 1262.4,2527.6 1265.1,2539.1 1267.7,2550.8 1270.4,2562.5 1273,2574.1 1275.7,2585.7 1278.3,2597 1281,2608.1 1283.7,2618.9 1286.3,2629.3 1289,2639.2 1291.6,2648.7 1294.3,2657.5 1296.9,2665.8 1299.6,2673.3 1302.2,2680.2 1304.9,2686.2 1307.6,2691.4 1310.2,2695.7 1312.9,2699 1315.5,2701.3 1318.2,2702.4 1320.8,2702.4 1323.5,2701.2 1326.1,2698.9 1328.8,2695.4 1331.4,2690.8 1334.1,2684.9 1336.8,2677.9 1339.4,2669.6 1342.1,2660.4 1344.7,2650.1 1347.4,2638.9 1350,2627 1352.7,2614.4 1355.3,2601.4 1358,2588.1 1360.6,2574.6 1363.3,2561.1 1366,2547.7 1368.6,2534.5 1371.3,2521.6 1373.9,2509.2 1376.6,2497.2 1379.2,2485.6 1381.9,2474.6 1384.5,2464 1387.2,2453.9 1389.9,2444.2 1392.5,2435 1395.2,2426.1 1397.8,2417.6 1400.5,2409.5 1403.1,2401.7 1405.8,2394.3 1408.4,2387.5 1411.1,2381.2 1413.7,2375.5 1416.4,2370.6 1419.1,2366.6 1421.7,2363.5 1424.4,2361.3 1427,2360.2 1429.7,2360 1432.3,2360.9 1435,2362.8 1437.6,2365.5 1440.3,2368.8 1443,2372.6 1445.6,2376.7 1448.3,2380.9 1450.9,2385.1 1453.6,2389.4 1456.2,2393.6 1458.9,2397.7 1461.5,2401.7 1464.2,2405.6 1466.8,2409.5 1469.5,2413.4 1472.2,2417.2 1474.8,2420.9 1477.5,2424.5 1480.1,2428 1482.8,2431.4 1485.4,2434.5 1488.1,2437.5 1490.7,2440.1 1493.4,2442.5 1496,2444.5 1498.7,2446.2 1501.4,2447.5 1504,2448.3 1506.7,2448.7 1509.3,2448.7 1512,2448.3 1514.6,2447.5 1517.3,2446.3 1519.9,2444.8 1522.6,2442.9 1525.3,2440.7 1527.9,2438.1 1530.6,2435.2 1533.2,2432.1 1535.9,2428.7 1538.5,2425 1541.2,2421.2 1543.8,2417.2 1546.5,2413 1549.1,2408.8 1551.8,2404.5 1554.5,2400.1 1557.1,2395.7 1559.8,2391.3 1562.4,2387 1565.1,2382.7 1567.7,2378.5 1570.4,2374.5 1573,2370.6 1575.7,2366.8 1578.4,2363.2 1581,2359.8 1583.7,2356.6 1586.3,2353.6 1589,2350.8 1591.6,2348.3 1594.3,2345.9 1596.9,2343.8 1599.6,2341.8 1602.2,2340.1 1604.9,2338.6 1607.6,2337.3 1610.2,2336.2 1612.9,2335.3 1615.5,2334.6 1618.2,2334 1620.8,2333.6 1623.5,2333.4 1626.1,2333.3 1628.8,2333.3 1631.5,2333.5 1634.1,2333.7 1636.8,2334.1 1639.4,2334.6 1642.1,2335.2 1644.7,2335.8 1647.4,2336.5 1650,2337.2 1652.7,2338 1655.3,2338.8 1658,2339.6 1660.7,2340.4 1663.3,2341.3 1666,2342.1 1668.6,2342.9 1671.3,2343.7 1673.9,2344.4 1676.6,2345.2 1679.2,2345.9 1681.9,2346.6 1684.5,2347.2 1687.2,2347.8 1689.9,2348.4 1692.5,2348.9 1695.2,2349.4 1697.8,2349.9 1700.5,2350.3 1703.1,2350.7 1705.8,2351 1708.4,2351.4 1711.1,2351.6 1713.8,2351.9 1716.4,2352.2 1719.1,2352.4 1721.7,2352.6 1724.4,2352.7 1727,2352.9 1729.7,2353 1732.3,2353.1 1735,2353.2 1737.6,2353.3 1740.3,2353.4 1743,2353.5 1745.6,2353.5 1748.3,2353.6 1750.9,2353.6 1753.6,2353.7 1756.2,2353.7 1758.9,2353.7 1761.5,2353.7 1764.2,2353.8 1766.9,2353.8 1769.5,2353.8 1772.2,2353.8 1774.8,2353.8 1777.5,2353.8 1780.1,2353.8 1782.8,2353.8 1785.4,2353.8 1788.1,2353.8 1790.7,2353.8 1793.4,2353.8 1796.1,2353.8 1798.7,2353.8 1801.4,2353.8 1804,2353.8 1806.7,2353.8 1809.3,2353.8 1812,2353.8 1814.6,2353.8" stroke="#9467bd" stroke-width="4" stroke-linecap="square"/>
<polyline points="1177.5,2357.4 1180.1,2358.1 1182.8,2359 1185.4,2359.9 1188.1,2361 1190.7,2362.3 1193.4,2363.8 1196,2365.4 1198.7,2367.3 1201.4,2369.4 1204,2371.8 1206.7,2374.5 1209.3,2377.5 1212,2380.8 1214.6,2384.5 1217.3,2388.6 1219.9,2393.1 1222.6,2398 1225.2,2403.4 1227.9,2409.3 1230.6,2415.6 1233.2,2422.4 1235.9,2429.8 1238.5,2437.6 1241.2,2445.9 1243.8,2454.7 1246.5,2464 1249.1,2473.7 1251.8,2483.9 1254.5,2494.4 1257.1,2505.3 1259.8,2516.5 1262.4,2527.9 1265.1,2539.5 1267.7,2551.2 1270.4,2562.9 1273,2574.6 1275.7,2586.2 1278.3,2597.6 1281,2608.7 1283.7,2619.6 1286.3,2630 1289,2640 1291.6,2649.5 1294.3,2658.4 1296.9,2666.6 1299.6,2674.2 1302.2,2681.1 1304.9,2687.2 1307.6,2692.4 1310.2,2696.7 1312.9,2700.1 1315.5,2702.3 1318.2,2703.5 1320.8,2703.4 1323.5,2702.3 1326.1,2700 1328.8,2696.5 1331.4,2691.9 1334.1,2686.1 1336.8,2679.1 1339.4,2671 1342.1,2661.7 1344.7,2651.5 1347.4,2640.5 1350,2628.6 1352.7,2616.2 1355.3,2603.3 1358,2590 1360.6,2576.7 1363.3,2563.2 1366,2549.9 1368.6,2536.9 1371.3,2524.1 1373.9,2511.7 1376.6,2499.8 1379.2,2488.4 1381.9,2477.4 1384.5,2466.9 1387.2,2456.9 1389.9,2447.3 1392.5,2438.1 1395.2,2429.3 1397.8,2420.9 1400.5,2412.8 1403.1,2405.1 1405.8,2397.8 1408.4,2391 1411.1,2384.7 1413.7,2379.1 1416.4,2374.3 1419.1,2370.3 1421.7,2367.2 1424.4,2365.1 1427,2363.9 1429.7,2363.7 1432.3,2364.6 1435,2366.4 1437.6,2369 1440.3,2372.2 1443,2375.8 1445.6,2379.7 1448.3,2383.7 1450.9,2387.8 1453.6,2391.9 1456.2,2395.9 1458.9,2399.8 1461.5,2403.7 1464.2,2407.4 1466.8,2411.2 1469.5,2414.9 1472.2,2418.5 1474.8,2422.1 1477.5,2425.5 1480.1,2428.9 1482.8,2432.1 1485.4,2435.1 1488.1,2437.9 1490.7,2440.5 1493.4,2442.8 1496,2444.7 1498.7,2446.3 1501.4,2447.5 1504,2448.3 1506.7,2448.7 1509.3,2448.7 1512,2448.3 1514.6,2447.5 1517.3,2446.3 1519.9,2444.8 1522.6,2442.9 1525.3,2440.7 1527.9,2438.1 1530.6,2435.2 1533.2,2432.1 1535.9,2428.7 1538.5,2425 1541.2,2421.2 1543.8,2417.2 1546.5,2413 1549.1,2408.8 1551.8,2404.5 1554.5,2400.1 1557.1,2395.7 1559.8,2391.3 1562.4,2387 1565.1,2382.7 1567.7,2378.5 1570.4,2374.5 1573,2370.6 1575.7,2366.8 1578.4,2363.2 1581,2359.8 1583.7,2356.6 1586.3,2353.6 1589,2350.8 1591.6,2348.3 1594.3,2345.9 1596.9,2343.8 1599.6,2341.8 1602.2,2340.1 1604.9,2338.6 1607.6,2337.3 1610.2,2336.2 1612.9,2335.3 1615.5,2334.6 1618.2,2334 1620.8,2333.6 1623.5,2333.4 1626.1,2333.3 1628.8,2333.3 1631.5,2333.5 1634.1,2333.7 1636.8,2334.1 1639.4,2334.6 1642.1,2335.2 1644.7,2335.8 1647.4,2336.5 1650,2337.2 1652.7,2338 1655.3,2338.8 1658,2339.6 1660.7,2340.4 1663.3,2341.3 1666,2342.1 1668.6,2342.9 1671.3,2343.7 1673.9,2344.4 1676.6,2345.2 1679.2,2345.9 1681.9,2346.6 1684.5,2347.2 1687.2,2347.8 1689.9,2348.4 1692.5,2348.9 1695.2,2349.4 1697.8,2349.9 1700.5,2350.3 1703.1,2350.7 1705.8,2351 1708.4,2351.4 1711.1,2351.6 1713.8,2351.9 1716.4,2352.2 1719.1,2352.4 1721.7,2352.6 1724.4,2352.7 1727,2352.9 1729.7,2353 1732.3,2353.1 1735,2353.2 1737.6,2353.3 1740.3,2353.4 1743,2353.5 1745.6,2353.5 1748.3,2353.6 1750.9,2353.6 1753.6,2353.7 1756.2,2353.7 1758.9,2353.7 1761.5,2353.7 1764.2,2353.8 1766.9,2353.8 1769.5,2353.8 1772.2,2353.8 1774.8,2353.8 1777.5,2353.8 1780.1,2353.8 1782.8,2353.8 1785.4,2353.8 1788.1,2353.8 1790.7,2353.8 1793.4,2353.8 1796.1,2353.8 1798.7,2353.8 1801.4,2353.8 1804,2353.8 1806.7,2353.8 1809.3,2353.8 1812,2353.8 1814.6,2353.8" stroke="#ff7f0e" stroke-width="4" stroke-linecap="square"/>
<path d="M1145.6 2353.4H1846.5" stroke="#000" stroke-width="1.5"/>
</g>
<path d="M1177.46 2801v11.03M1389.85 2801v11.03M1602.25 2801v11.03M1814.64 2801v11.03M1145.6 2801h-11.03M1145.6 2651.8h-11.03M1145.6 2502.6h-11.03M1145.6 2353.4h-11.03" fill="none" stroke="#000" stroke-width="2.5"/>
<path d="M1156.88 2801v6.3M1167.74 2801v6.3M1241.4 2801v6.3M1278.8 2801v6.3M1305.33 2801v6.3M1325.92 2801v6.3M1342.73 2801v6.3M1356.95 2801v6.3M1369.27 2801v6.3M1380.13 2801v6.3M1453.79 2801v6.3M1491.19 2801v6.3M1517.73 2801v6.3M1538.31 2801v6.3M1555.13 2801v6.3M1569.35 2801v6.3M1581.66 2801v6.3M1592.53 2801v6.3M1666.18 2801v6.3M1703.58 2801v6.3M1730.12 2801v6.3M1750.7 2801v6.3M1767.52 2801v6.3M1781.74 2801v6.3M1794.06 2801v6.3M1804.92 2801v6.3M1145.6 2771.16h-6.3M1145.6 2741.32h-6.3M1145.6 2711.48h-6.3M1145.6 2681.64h-6.3M1145.6 2621.96h-6.3M1145.6 2592.12h-6.3M1145.6 2562.28h-6.3M1145.6 2532.44h-6.3M1145.6 2472.76h-6.3M1145.6 2442.92h-6.3M1145.6 2413.08h-6.3M1145.6 2383.24h-6.3M1145.6 2323.56h-6.3M1145.6 2293.72h-6.3" fill="none" stroke="#000" stroke-width="2"/>
<rect x="1145.6" y="2278.8" width="700.9" height="522.2" fill="none" stroke="#000" stroke-width="2.5"/>
<g font-size="40.95" text-anchor="middle">
<text x="1177.46" y="2853.5">1</text>
<text x="1389.85" y="2853.5">10</text>
<text x="1602.25" y="2853.5">100</text>
<text x="1814.64" y="2853.5">1000</text>
</g>
<g font-size="40.95" text-anchor="end">
<text x="1123.6" y="2817.76">−0.3</text>
<text x="1123.6" y="2668.56">−0.2</text>
<text x="1123.6" y="2519.36">−0.1</text>
<text x="1123.6" y="2370.16">0.0</text>
</g>
<g transform="translate(1496.05 2904.00)" fill="#000">
<text x="-139.50 -110.43 -99.94 -76.81 -40.04 -16.81 -2.01 21.21 36.73 48.73" y="-0.00" font-size="37.80">Diameter [</text>
<text x="63.46 87.39" y="-0.00" font-size="37.80" font-style="italic">nm</text>
<text x="124.16" y="-0.00" font-size="37.80">]</text>
</g>
<g transform="translate(1496.05 2256.90)" fill="#000">
<text x="-317.00 -302.27 -278.35 -263.62 -251.62 -228.86 -213.33 -202.85 -166.07 -142.94 -127.42 -105.08 -93.08 -69.12" y="-0.00" font-size="37.80">(h) Primary SO</text>
<text x="-39.04" y="6.23" font-size="26.46">4</text>
<text x="-21.19 -9.19 14.74 38.66 75.43 99.40 122.62 138.14 150.14 169.81 180.30 200.11 223.34 235.34 259.30 269.79 289.46 304.26" y="-0.00" font-size="37.80"> number size dist.</text>
</g>
<g transform="translate(995.60 2540.20) rotate(-90)" fill="#000">
<text transform="translate(-245.13 -0.76) skewX(-10) scale(1.06 0.93)" font-size="37.80">ℰ</text>
<text x="-222.76 -205.99 -198.65 -181.90 -156.16" y="-20.08" font-size="26.46">plume</text>
<text x="-222.76 -205.99" y="10.39" font-size="26.46" font-style="italic">dN</text>
<text x="-186.22" y="10.39" font-size="26.46">/</text>
<text x="-177.32" y="10.39" font-size="26.46" font-style="italic">d</text>
<text x="-160.54" y="10.39" font-size="26.46">(</text>
<text x="-150.23 -142.89 -126.14" y="10.39" font-size="26.46" font-style="italic">lnD</text>
<text x="-105.80" y="10.39" font-size="26.46">)</text>
<text x="-87.09" y="0.00" font-size="37.80">−</text>
<text transform="translate(-49.24 -0.76) skewX(-10) scale(1.06 0.93)" font-size="37.80">ℰ</text>
<text x="-26.87 -19.53 -2.78 10.99 21.35 34.90 51.67 59.01 72.78 89.55" y="-20.08" font-size="26.46">inst.disp.</text>
<text x="-26.87 -10.10" y="10.39" font-size="26.46" font-style="italic">dN</text>
<text x="9.67" y="10.39" font-size="26.46">/</text>
<text x="18.57" y="10.39" font-size="26.46" font-style="italic">d</text>
<text x="35.35" y="10.39" font-size="26.46">(</text>
<text x="45.66 53.00 69.75" y="10.39" font-size="26.46" font-style="italic">lnD</text>
<text x="90.10" y="10.39" font-size="26.46">)</text>
<text x="104.14 116.14 130.87 151.62" y="0.00" font-size="37.80"> [cm</text>
<text x="188.76 210.90" y="-14.55" font-size="26.46">−3</text>
<text x="228.75" y="0.00" font-size="37.80">]</text>
</g>
<rect x="1616.46" y="2493.2" width="203.44" height="239.7" rx="4.73" ry="4.73" fill="#fff" fill-opacity="0.8" stroke="#ccc" stroke-opacity="0.8" stroke-width="2.6"/>
<g font-size="31.5">
<path d="M1629.06 2518h63" stroke="#000000" stroke-width="4" stroke-linecap="square" fill="none"/>
<text x="1717.26" y="2530">2.3 %</text>
<path d="M1629.06 2564.3h63" stroke="#17becf" stroke-width="4" stroke-linecap="square" fill="none"/>
<text x="1717.26" y="2576.3">1.2 %</text>
<path d="M1629.06 2610.6h63" stroke="#1f77b4" stroke-width="4" stroke-linecap="square" fill="none"/>
<text x="1717.26" y="2622.6">1.9 %</text>
<path d="M1629.06 2656.9h63" stroke="#9467bd" stroke-width="4" stroke-linecap="square" fill="none"/>
<text x="1717.26" y="2668.9">2.6 %</text>
<path d="M1629.06 2703.2h63" stroke="#ff7f0e" stroke-width="4" stroke-linecap="square" fill="none"/>
<text x="1717.26" y="2715.2">2.8 %</text>
</g>
</g>
<g id="panel-i">
<rect x="165.1" y="3012.4" width="704.2" height="524.7" fill="#fff"/>
<path d="M176.43 3012.4V3537.1M187.34 3012.4V3537.1M261.35 3012.4V3537.1M298.92 3012.4V3537.1M325.59 3012.4V3537.1M346.27 3012.4V3537.1M363.16 3012.4V3537.1M377.45 3012.4V3537.1M389.82 3012.4V3537.1M400.74 3012.4V3537.1M474.74 3012.4V3537.1M512.32 3012.4V3537.1M538.98 3012.4V3537.1M559.66 3012.4V3537.1M576.56 3012.4V3537.1M590.84 3012.4V3537.1M603.22 3012.4V3537.1M614.13 3012.4V3537.1M688.13 3012.4V3537.1M725.71 3012.4V3537.1M752.37 3012.4V3537.1M773.05 3012.4V3537.1M789.95 3012.4V3537.1M804.24 3012.4V3537.1M816.61 3012.4V3537.1M827.53 3012.4V3537.1M165.1 3537.1H869.3M165.1 3518.36H869.3M165.1 3499.62H869.3M165.1 3462.14H869.3M165.1 3443.4H869.3M165.1 3424.66H869.3M165.1 3405.93H869.3M165.1 3368.45H869.3M165.1 3349.71H869.3M165.1 3330.97H869.3M165.1 3312.23H869.3M165.1 3274.75H869.3M165.1 3256.01H869.3M165.1 3237.27H869.3M165.1 3218.53H869.3M165.1 3181.05H869.3M165.1 3162.31H869.3M165.1 3143.57H869.3M165.1 3124.84H869.3M165.1 3087.36H869.3M165.1 3068.62H869.3M165.1 3049.88H869.3M165.1 3031.14H869.3" fill="none" stroke="#ebebeb" stroke-width="1.57" stroke-dasharray="1.57 2.6"/>
<path d="M197.11 3012.4V3537.1M410.5 3012.4V3537.1M623.9 3012.4V3537.1M837.29 3012.4V3537.1M165.1 3480.88H869.3M165.1 3387.19H869.3M165.1 3293.49H869.3M165.1 3199.79H869.3M165.1 3106.1H869.3" fill="none" stroke="#e1e1e1" stroke-width="2.2"/>
<clipPath id="clip-i"><rect x="165.1" y="3012.4" width="704.2" height="524.7"/></clipPath>
<g clip-path="url(#clip-i)" fill="none" stroke-linejoin="round">
<polyline points="197.1,3479.3 199.8,3479.1 202.4,3478.7 205.1,3478.3 207.8,3477.9 210.4,3477.3 213.1,3476.8 215.8,3476.1 218.4,3475.4 221.1,3474.6 223.8,3473.7 226.5,3472.7 229.1,3471.6 231.8,3470.4 234.5,3469.1 237.1,3467.6 239.8,3466 242.5,3464.1 245.1,3462 247.8,3459.6 250.5,3456.8 253.1,3453.6 255.8,3450 258.5,3445.8 261.1,3441.2 263.8,3436 266.5,3430.3 269.1,3424 271.8,3417.2 274.5,3410 277.1,3402.2 279.8,3394.1 282.5,3385.7 285.1,3377 287.8,3368 290.5,3359 293.1,3349.7 295.8,3340.4 298.5,3331 301.1,3321.4 303.8,3311.7 306.5,3301.8 309.1,3291.8 311.8,3281.8 314.5,3271.6 317.1,3261.6 319.8,3251.6 322.5,3242 325.1,3232.6 327.8,3223.8 330.5,3215.6 333.1,3208 335.8,3201.1 338.5,3195.1 341.1,3190 343.8,3185.8 346.5,3182.5 349.2,3180.2 351.8,3178.8 354.5,3178.4 357.2,3179 359.8,3180.5 362.5,3183 365.2,3186.3 367.8,3190.6 370.5,3195.7 373.2,3201.7 375.8,3208.4 378.5,3216 381.2,3224.3 383.8,3233.3 386.5,3243 389.2,3253.3 391.8,3264.1 394.5,3275.4 397.2,3287.2 399.8,3299.2 402.5,3311.4 405.2,3323.7 407.8,3336 410.5,3348 413.2,3359.8 415.8,3371.2 418.5,3382.1 421.2,3392.4 423.8,3402.1 426.5,3411.1 429.2,3419.4 431.8,3427.1 434.5,3434.3 437.2,3440.8 439.8,3446.9 442.5,3452.6 445.2,3458 447.8,3463 450.5,3467.7 453.2,3472.1 455.8,3476.2 458.5,3480 461.2,3483.4 463.9,3486.5 466.5,3489.1 469.2,3491.3 471.9,3493.1 474.5,3494.6 477.2,3495.7 479.9,3496.5 482.5,3497.1 485.2,3497.5 487.9,3497.8 490.5,3497.9 493.2,3498 495.9,3498 498.5,3498 501.2,3498 503.9,3497.9 506.5,3497.9 509.2,3497.8 511.9,3497.7 514.5,3497.6 517.2,3497.5 519.9,3497.3 522.5,3497.1 525.2,3496.9 527.9,3496.6 530.5,3496.3 533.2,3495.9 535.9,3495.5 538.5,3495.1 541.2,3494.6 543.9,3494.2 546.5,3493.6 549.2,3493.1 551.9,3492.6 554.5,3492 557.2,3491.4 559.9,3490.8 562.5,3490.2 565.2,3489.6 567.9,3489 570.5,3488.3 573.2,3487.7 575.9,3487.1 578.6,3486.5 581.2,3485.9 583.9,3485.3 586.6,3484.7 589.2,3484.2 591.9,3483.6 594.6,3483.1 597.2,3482.6 599.9,3482.2 602.6,3481.7 605.2,3481.3 607.9,3481 610.6,3480.6 613.2,3480.3 615.9,3480 618.6,3479.7 621.2,3479.4 623.9,3479.2 626.6,3479 629.2,3478.9 631.9,3478.7 634.6,3478.6 637.2,3478.5 639.9,3478.4 642.6,3478.4 645.2,3478.4 647.9,3478.4 650.6,3478.4 653.2,3478.4 655.9,3478.4 658.6,3478.5 661.2,3478.5 663.9,3478.6 666.6,3478.7 669.2,3478.8 671.9,3478.9 674.6,3478.9 677.2,3479 679.9,3479.2 682.6,3479.3 685.2,3479.4 687.9,3479.5 690.6,3479.6 693.2,3479.7 695.9,3479.8 698.6,3479.8 701.3,3479.9 703.9,3480 706.6,3480.1 709.3,3480.2 711.9,3480.3 714.6,3480.3 717.3,3480.4 719.9,3480.4 722.6,3480.5 725.3,3480.5 727.9,3480.6 730.6,3480.6 733.3,3480.7 735.9,3480.7 738.6,3480.7 741.3,3480.8 743.9,3480.8 746.6,3480.8 749.3,3480.8 751.9,3480.8 754.6,3480.8 757.3,3480.9 759.9,3480.9 762.6,3480.9 765.3,3480.9 767.9,3480.9 770.6,3480.9 773.3,3480.9 775.9,3480.9 778.6,3480.9 781.3,3480.9 783.9,3480.9 786.6,3480.9 789.3,3480.9 791.9,3480.9 794.6,3480.9 797.3,3480.9 799.9,3480.9 802.6,3480.9 805.3,3480.9 807.9,3480.9 810.6,3480.9 813.3,3480.9 816,3480.9 818.6,3480.9 821.3,3480.9 824,3480.9 826.6,3480.9 829.3,3480.9 832,3480.9 834.6,3480.9 837.3,3480.9" stroke="#000000" stroke-width="4" stroke-linecap="square"/>
<polyline points="197.1,3478.8 199.8,3478.5 202.4,3478 205.1,3477.5 207.8,3476.9 210.4,3476.2 213.1,3475.5 215.8,3474.6 218.4,3473.6 221.1,3472.6 223.8,3471.4 226.5,3470 229.1,3468.6 231.8,3467 234.5,3465.2 237.1,3463.2 239.8,3461 242.5,3458.5 245.1,3455.7 247.8,3452.6 250.5,3449 253.1,3444.9 255.8,3440.4 258.5,3435.3 261.1,3429.6 263.8,3423.3 266.5,3416.4 269.1,3408.9 271.8,3400.8 274.5,3392.2 277.1,3383.1 279.8,3373.6 282.5,3363.7 285.1,3353.6 287.8,3343.2 290.5,3332.6 293.1,3322 295.8,3311.2 298.5,3300.3 301.1,3289.3 303.8,3278.3 306.5,3267.1 309.1,3255.9 311.8,3244.6 314.5,3233.4 317.1,3222.3 319.8,3211.4 322.5,3200.9 325.1,3190.8 327.8,3181.4 330.5,3172.6 333.1,3164.6 335.8,3157.5 338.5,3151.4 341.1,3146.3 343.8,3142.2 346.5,3139.2 349.2,3137.4 351.8,3136.7 354.5,3137 357.2,3138.5 359.8,3141.1 362.5,3144.8 365.2,3149.4 367.8,3155.1 370.5,3161.8 373.2,3169.3 375.8,3177.7 378.5,3187 381.2,3197 383.8,3207.7 386.5,3219.1 389.2,3231 391.8,3243.5 394.5,3256.4 397.2,3269.6 399.8,3283 402.5,3296.6 405.2,3310.3 407.8,3323.8 410.5,3337.1 413.2,3350 415.8,3362.5 418.5,3374.5 421.2,3385.8 423.8,3396.4 426.5,3406.3 429.2,3415.5 431.8,3424 434.5,3431.8 437.2,3439 439.8,3445.6 442.5,3451.6 445.2,3457.2 447.8,3462.3 450.5,3467 453.2,3471.3 455.8,3475.1 458.5,3478.6 461.2,3481.6 463.9,3484.1 466.5,3486.2 469.2,3487.9 471.9,3489.2 474.5,3490.1 477.2,3490.7 479.9,3491.1 482.5,3491.1 485.2,3491 487.9,3490.8 490.5,3490.5 493.2,3490.1 495.9,3489.6 498.5,3489.2 501.2,3488.7 503.9,3488.3 506.5,3487.8 509.2,3487.4 511.9,3487 514.5,3486.6 517.2,3486.2 519.9,3485.8 522.5,3485.5 525.2,3485.1 527.9,3484.8 530.5,3484.4 533.2,3484.1 535.9,3483.8 538.5,3483.5 541.2,3483.3 543.9,3483 546.5,3482.8 549.2,3482.6 551.9,3482.4 554.5,3482.2 557.2,3482 559.9,3481.9 562.5,3481.8 565.2,3481.6 567.9,3481.5 570.5,3481.4 573.2,3481.4 575.9,3481.3 578.6,3481.2 581.2,3481.2 583.9,3481.1 586.6,3481.1 589.2,3481.1 591.9,3481 594.6,3481 597.2,3481 599.9,3481 602.6,3480.9 605.2,3480.9 607.9,3480.9 610.6,3480.9 613.2,3480.9 615.9,3480.9 618.6,3480.9 621.2,3480.9 623.9,3480.9 626.6,3480.9 629.2,3480.9 631.9,3480.9 634.6,3480.9 637.2,3480.9 639.9,3480.9 642.6,3480.9 645.2,3480.9 647.9,3480.9 650.6,3480.9 653.2,3480.9 655.9,3480.9 658.6,3480.9 661.2,3480.9 663.9,3480.9 666.6,3480.9 669.2,3480.9 671.9,3480.9 674.6,3480.9 677.2,3480.9 679.9,3480.9 682.6,3480.9 685.2,3480.9 687.9,3480.9 690.6,3480.9 693.2,3480.9 695.9,3480.9 698.6,3480.9 701.3,3480.9 703.9,3480.9 706.6,3480.9 709.3,3480.9 711.9,3480.9 714.6,3480.9 717.3,3480.9 719.9,3480.9 722.6,3480.9 725.3,3480.9 727.9,3480.9 730.6,3480.9 733.3,3480.9 735.9,3480.9 738.6,3480.9 741.3,3480.9 743.9,3480.9 746.6,3480.9 749.3,3480.9 751.9,3480.9 754.6,3480.9 757.3,3480.9 759.9,3480.9 762.6,3480.9 765.3,3480.9 767.9,3480.9 770.6,3480.9 773.3,3480.9 775.9,3480.9 778.6,3480.9 781.3,3480.9 783.9,3480.9 786.6,3480.9 789.3,3480.9 791.9,3480.9 794.6,3480.9 797.3,3480.9 799.9,3480.9 802.6,3480.9 805.3,3480.9 807.9,3480.9 810.6,3480.9 813.3,3480.9 816,3480.9 818.6,3480.9 821.3,3480.9 824,3480.9 826.6,3480.9 829.3,3480.9 832,3480.9 834.6,3480.9 837.3,3480.9" stroke="#000000" stroke-width="4" stroke-dasharray="14.8 6.4"/>
<polyline points="197.1,3480.9 199.8,3480.9 202.4,3480.9 205.1,3480.9 207.8,3480.9 210.4,3480.9 213.1,3480.9 215.8,3480.9 218.4,3480.9 221.1,3480.9 223.8,3480.9 226.5,3481 229.1,3481 231.8,3481 234.5,3481.1 237.1,3481.1 239.8,3481.1 242.5,3481.2 245.1,3481.2 247.8,3481.1 250.5,3481.1 253.1,3481 255.8,3480.8 258.5,3480.5 261.1,3480.2 263.8,3479.8 266.5,3479.3 269.1,3478.7 271.8,3478.1 274.5,3477.3 277.1,3476.5 279.8,3475.6 282.5,3474.6 285.1,3473.6 287.8,3472.6 290.5,3471.5 293.1,3470.4 295.8,3469.2 298.5,3468 301.1,3466.7 303.8,3465.4 306.5,3464 309.1,3462.5 311.8,3461 314.5,3459.4 317.1,3457.7 319.8,3456 322.5,3454.3 325.1,3452.6 327.8,3451 330.5,3449.4 333.1,3447.9 335.8,3446.4 338.5,3445.1 341.1,3443.9 343.8,3442.7 346.5,3441.7 349.2,3440.8 351.8,3440 354.5,3439.3 357.2,3438.7 359.8,3438.2 362.5,3437.9 365.2,3437.7 367.8,3437.6 370.5,3437.6 373.2,3437.8 375.8,3438.1 378.5,3438.6 381.2,3439.2 383.8,3440.1 386.5,3441.1 389.2,3442.2 391.8,3443.6 394.5,3445.1 397.2,3446.7 399.8,3448.5 402.5,3450.3 405.2,3452.3 407.8,3454.2 410.5,3456.2 413.2,3458.1 415.8,3459.9 418.5,3461.7 421.2,3463.4 423.8,3465 426.5,3466.4 429.2,3467.8 431.8,3469 434.5,3470.2 437.2,3471.4 439.8,3472.5 442.5,3473.6 445.2,3474.8 447.8,3475.9 450.5,3477.1 453.2,3478.3 455.8,3479.6 458.5,3480.8 461.2,3482 463.9,3483.2 466.5,3484.2 469.2,3485.2 471.9,3486.1 474.5,3486.9 477.2,3487.6 479.9,3488.2 482.5,3488.8 485.2,3489.3 487.9,3489.8 490.5,3490.2 493.2,3490.6 495.9,3491 498.5,3491.4 501.2,3491.8 503.9,3492.1 506.5,3492.4 509.2,3492.7 511.9,3493 514.5,3493.2 517.2,3493.4 519.9,3493.5 522.5,3493.6 525.2,3493.7 527.9,3493.6 530.5,3493.6 533.2,3493.4 535.9,3493.3 538.5,3493.1 541.2,3492.8 543.9,3492.5 546.5,3492.2 549.2,3491.8 551.9,3491.4 554.5,3491 557.2,3490.5 559.9,3490 562.5,3489.5 565.2,3489 567.9,3488.5 570.5,3487.9 573.2,3487.4 575.9,3486.8 578.6,3486.2 581.2,3485.7 583.9,3485.1 586.6,3484.6 589.2,3484.1 591.9,3483.5 594.6,3483 597.2,3482.6 599.9,3482.1 602.6,3481.7 605.2,3481.3 607.9,3480.9 610.6,3480.6 613.2,3480.2 615.9,3479.9 618.6,3479.7 621.2,3479.4 623.9,3479.2 626.6,3479 629.2,3478.9 631.9,3478.7 634.6,3478.6 637.2,3478.5 639.9,3478.4 642.6,3478.4 645.2,3478.4 647.9,3478.4 650.6,3478.4 653.2,3478.4 655.9,3478.4 658.6,3478.5 661.2,3478.5 663.9,3478.6 666.6,3478.7 669.2,3478.8 671.9,3478.9 674.6,3478.9 677.2,3479 679.9,3479.2 682.6,3479.3 685.2,3479.4 687.9,3479.5 690.6,3479.6 693.2,3479.7 695.9,3479.8 698.6,3479.8 701.3,3479.9 703.9,3480 706.6,3480.1 709.3,3480.2 711.9,3480.3 714.6,3480.3 717.3,3480.4 719.9,3480.4 722.6,3480.5 725.3,3480.5 727.9,3480.6 730.6,3480.6 733.3,3480.7 735.9,3480.7 738.6,3480.7 741.3,3480.8 743.9,3480.8 746.6,3480.8 749.3,3480.8 751.9,3480.8 754.6,3480.8 757.3,3480.9 759.9,3480.9 762.6,3480.9 765.3,3480.9 767.9,3480.9 770.6,3480.9 773.3,3480.9 775.9,3480.9 778.6,3480.9 781.3,3480.9 783.9,3480.9 786.6,3480.9 789.3,3480.9 791.9,3480.9 794.6,3480.9 797.3,3480.9 799.9,3480.9 802.6,3480.9 805.3,3480.9 807.9,3480.9 810.6,3480.9 813.3,3480.9 816,3480.9 818.6,3480.9 821.3,3480.9 824,3480.9 826.6,3480.9 829.3,3480.9 832,3480.9 834.6,3480.9 837.3,3480.9" stroke="#17becf" stroke-width="4" stroke-linecap="square"/>
<polyline points="197.1,3480.4 199.8,3480.3 202.4,3480.2 205.1,3480.1 207.8,3479.9 210.4,3479.8 213.1,3479.6 215.8,3479.4 218.4,3479.2 221.1,3478.9 223.8,3478.6 226.5,3478.3 229.1,3478 231.8,3477.6 234.5,3477.2 237.1,3476.7 239.8,3476.2 242.5,3475.6 245.1,3474.9 247.8,3474.2 250.5,3473.3 253.1,3472.3 255.8,3471.3 258.5,3470 261.1,3468.7 263.8,3467.2 266.5,3465.6 269.1,3463.8 271.8,3461.9 274.5,3459.8 277.1,3457.7 279.8,3455.4 282.5,3453.1 285.1,3450.6 287.8,3448.2 290.5,3445.7 293.1,3443.1 295.8,3440.6 298.5,3438 301.1,3435.4 303.8,3432.8 306.5,3430.1 309.1,3427.4 311.8,3424.8 314.5,3422.1 317.1,3419.5 319.8,3416.9 322.5,3414.4 325.1,3412 327.8,3409.7 330.5,3407.7 333.1,3405.8 335.8,3404.1 338.5,3402.6 341.1,3401.4 343.8,3400.4 346.5,3399.7 349.2,3399.3 351.8,3399.1 354.5,3399.2 357.2,3399.6 359.8,3400.2 362.5,3401.1 365.2,3402.2 367.8,3403.5 370.5,3405.1 373.2,3406.9 375.8,3408.9 378.5,3411.1 381.2,3413.5 383.8,3416 386.5,3418.7 389.2,3421.5 391.8,3424.5 394.5,3427.6 397.2,3430.7 399.8,3433.9 402.5,3437.1 405.2,3440.4 407.8,3443.6 410.5,3446.7 413.2,3449.8 415.8,3452.8 418.5,3455.6 421.2,3458.3 423.8,3460.8 426.5,3463.2 429.2,3465.4 431.8,3467.4 434.5,3469.2 437.2,3470.9 439.8,3472.5 442.5,3473.9 445.2,3475.3 447.8,3476.5 450.5,3477.6 453.2,3478.6 455.8,3479.5 458.5,3480.3 461.2,3481 463.9,3481.6 466.5,3482.2 469.2,3482.6 471.9,3482.9 474.5,3483.1 477.2,3483.2 479.9,3483.3 482.5,3483.3 485.2,3483.3 487.9,3483.2 490.5,3483.2 493.2,3483.1 495.9,3483 498.5,3482.8 501.2,3482.7 503.9,3482.6 506.5,3482.5 509.2,3482.4 511.9,3482.3 514.5,3482.2 517.2,3482.1 519.9,3482.1 522.5,3482 525.2,3481.9 527.9,3481.8 530.5,3481.7 533.2,3481.7 535.9,3481.6 538.5,3481.5 541.2,3481.5 543.9,3481.4 546.5,3481.3 549.2,3481.3 551.9,3481.2 554.5,3481.2 557.2,3481.2 559.9,3481.1 562.5,3481.1 565.2,3481.1 567.9,3481 570.5,3481 573.2,3481 575.9,3481 578.6,3481 581.2,3481 583.9,3480.9 586.6,3480.9 589.2,3480.9 591.9,3480.9 594.6,3480.9 597.2,3480.9 599.9,3480.9 602.6,3480.9 605.2,3480.9 607.9,3480.9 610.6,3480.9 613.2,3480.9 615.9,3480.9 618.6,3480.9 621.2,3480.9 623.9,3480.9 626.6,3480.9 629.2,3480.9 631.9,3480.9 634.6,3480.9 637.2,3480.9 639.9,3480.9 642.6,3480.9 645.2,3480.9 647.9,3480.9 650.6,3480.9 653.2,3480.9 655.9,3480.9 658.6,3480.9 661.2,3480.9 663.9,3480.9 666.6,3480.9 669.2,3480.9 671.9,3480.9 674.6,3480.9 677.2,3480.9 679.9,3480.9 682.6,3480.9 685.2,3480.9 687.9,3480.9 690.6,3480.9 693.2,3480.9 695.9,3480.9 698.6,3480.9 701.3,3480.9 703.9,3480.9 706.6,3480.9 709.3,3480.9 711.9,3480.9 714.6,3480.9 717.3,3480.9 719.9,3480.9 722.6,3480.9 725.3,3480.9 727.9,3480.9 730.6,3480.9 733.3,3480.9 735.9,3480.9 738.6,3480.9 741.3,3480.9 743.9,3480.9 746.6,3480.9 749.3,3480.9 751.9,3480.9 754.6,3480.9 757.3,3480.9 759.9,3480.9 762.6,3480.9 765.3,3480.9 767.9,3480.9 770.6,3480.9 773.3,3480.9 775.9,3480.9 778.6,3480.9 781.3,3480.9 783.9,3480.9 786.6,3480.9 789.3,3480.9 791.9,3480.9 794.6,3480.9 797.3,3480.9 799.9,3480.9 802.6,3480.9 805.3,3480.9 807.9,3480.9 810.6,3480.9 813.3,3480.9 816,3480.9 818.6,3480.9 821.3,3480.9 824,3480.9 826.6,3480.9 829.3,3480.9 832,3480.9 834.6,3480.9 837.3,3480.9" stroke="#17becf" stroke-width="4" stroke-dasharray="14.8 6.4"/>
<polyline points="197.1,3480.4 199.8,3480.3 202.4,3480.2 205.1,3480 207.8,3479.9 210.4,3479.7 213.1,3479.5 215.8,3479.3 218.4,3479.1 221.1,3478.8 223.8,3478.5 226.5,3478.2 229.1,3477.9 231.8,3477.5 234.5,3477.1 237.1,3476.6 239.8,3476.1 242.5,3475.5 245.1,3474.8 247.8,3474 250.5,3473 253.1,3471.9 255.8,3470.6 258.5,3469 261.1,3467.3 263.8,3465.3 266.5,3463 269.1,3460.6 271.8,3457.9 274.5,3454.9 277.1,3451.8 279.8,3448.5 282.5,3445.1 285.1,3441.5 287.8,3437.9 290.5,3434.1 293.1,3430.3 295.8,3426.4 298.5,3422.5 301.1,3418.5 303.8,3414.4 306.5,3410.1 309.1,3405.8 311.8,3401.5 314.5,3397 317.1,3392.6 319.8,3388.1 322.5,3383.8 325.1,3379.6 327.8,3375.5 330.5,3371.7 333.1,3368.2 335.8,3365 338.5,3362.1 341.1,3359.5 343.8,3357.4 346.5,3355.6 349.2,3354.2 351.8,3353.3 354.5,3352.7 357.2,3352.5 359.8,3352.7 362.5,3353.2 365.2,3354.2 367.8,3355.5 370.5,3357.3 373.2,3359.4 375.8,3361.8 378.5,3364.7 381.2,3367.9 383.8,3371.4 386.5,3375.3 389.2,3379.5 391.8,3384 394.5,3388.8 397.2,3393.7 399.8,3398.9 402.5,3404.2 405.2,3409.6 407.8,3414.9 410.5,3420.3 413.2,3425.5 415.8,3430.5 418.5,3435.3 421.2,3439.8 423.8,3444.1 426.5,3448 429.2,3451.7 431.8,3455.1 434.5,3458.3 437.2,3461.2 439.8,3464 442.5,3466.6 445.2,3469.2 447.8,3471.6 450.5,3473.9 453.2,3476.2 455.8,3478.4 458.5,3480.5 461.2,3482.4 463.9,3484.2 466.5,3485.8 469.2,3487.2 471.9,3488.4 474.5,3489.4 477.2,3490.3 479.9,3491 482.5,3491.5 485.2,3492 487.9,3492.4 490.5,3492.7 493.2,3493 495.9,3493.3 498.5,3493.6 501.2,3493.8 503.9,3494 506.5,3494.2 509.2,3494.4 511.9,3494.6 514.5,3494.7 517.2,3494.8 519.9,3494.8 522.5,3494.8 525.2,3494.7 527.9,3494.6 530.5,3494.5 533.2,3494.3 535.9,3494 538.5,3493.7 541.2,3493.4 543.9,3493.1 546.5,3492.7 549.2,3492.3 551.9,3491.8 554.5,3491.3 557.2,3490.8 559.9,3490.3 562.5,3489.8 565.2,3489.2 567.9,3488.6 570.5,3488.1 573.2,3487.5 575.9,3486.9 578.6,3486.3 581.2,3485.7 583.9,3485.2 586.6,3484.6 589.2,3484.1 591.9,3483.6 594.6,3483.1 597.2,3482.6 599.9,3482.1 602.6,3481.7 605.2,3481.3 607.9,3480.9 610.6,3480.6 613.2,3480.2 615.9,3480 618.6,3479.7 621.2,3479.4 623.9,3479.2 626.6,3479 629.2,3478.9 631.9,3478.7 634.6,3478.6 637.2,3478.5 639.9,3478.4 642.6,3478.4 645.2,3478.4 647.9,3478.4 650.6,3478.4 653.2,3478.4 655.9,3478.4 658.6,3478.5 661.2,3478.5 663.9,3478.6 666.6,3478.7 669.2,3478.8 671.9,3478.9 674.6,3478.9 677.2,3479 679.9,3479.2 682.6,3479.3 685.2,3479.4 687.9,3479.5 690.6,3479.6 693.2,3479.7 695.9,3479.8 698.6,3479.8 701.3,3479.9 703.9,3480 706.6,3480.1 709.3,3480.2 711.9,3480.3 714.6,3480.3 717.3,3480.4 719.9,3480.4 722.6,3480.5 725.3,3480.5 727.9,3480.6 730.6,3480.6 733.3,3480.7 735.9,3480.7 738.6,3480.7 741.3,3480.8 743.9,3480.8 746.6,3480.8 749.3,3480.8 751.9,3480.8 754.6,3480.8 757.3,3480.9 759.9,3480.9 762.6,3480.9 765.3,3480.9 767.9,3480.9 770.6,3480.9 773.3,3480.9 775.9,3480.9 778.6,3480.9 781.3,3480.9 783.9,3480.9 786.6,3480.9 789.3,3480.9 791.9,3480.9 794.6,3480.9 797.3,3480.9 799.9,3480.9 802.6,3480.9 805.3,3480.9 807.9,3480.9 810.6,3480.9 813.3,3480.9 816,3480.9 818.6,3480.9 821.3,3480.9 824,3480.9 826.6,3480.9 829.3,3480.9 832,3480.9 834.6,3480.9 837.3,3480.9" stroke="#1f77b4" stroke-width="4" stroke-linecap="square"/>
<polyline points="197.1,3479.9 199.8,3479.7 202.4,3479.5 205.1,3479.2 207.8,3478.9 210.4,3478.6 213.1,3478.2 215.8,3477.8 218.4,3477.3 221.1,3476.8 223.8,3476.2 226.5,3475.6 229.1,3474.8 231.8,3474.1 234.5,3473.2 237.1,3472.2 239.8,3471.1 242.5,3469.9 245.1,3468.5 247.8,3467 250.5,3465.2 253.1,3463.2 255.8,3461 258.5,3458.5 261.1,3455.7 263.8,3452.6 266.5,3449.2 269.1,3445.5 271.8,3441.6 274.5,3437.4 277.1,3432.9 279.8,3428.2 282.5,3423.4 285.1,3418.4 287.8,3413.3 290.5,3408.1 293.1,3402.9 295.8,3397.6 298.5,3392.3 301.1,3386.9 303.8,3381.5 306.5,3376 309.1,3370.5 311.8,3364.9 314.5,3359.4 317.1,3354 319.8,3348.6 322.5,3343.5 325.1,3338.5 327.8,3333.9 330.5,3329.6 333.1,3325.7 335.8,3322.2 338.5,3319.2 341.1,3316.7 343.8,3314.7 346.5,3313.2 349.2,3312.3 351.8,3312 354.5,3312.1 357.2,3312.9 359.8,3314.1 362.5,3315.9 365.2,3318.2 367.8,3321 370.5,3324.3 373.2,3328 375.8,3332.1 378.5,3336.7 381.2,3341.6 383.8,3346.8 386.5,3352.4 389.2,3358.3 391.8,3364.4 394.5,3370.7 397.2,3377.2 399.8,3383.8 402.5,3390.5 405.2,3397.2 407.8,3403.8 410.5,3410.3 413.2,3416.7 415.8,3422.8 418.5,3428.7 421.2,3434.2 423.8,3439.4 426.5,3444.3 429.2,3448.8 431.8,3453 434.5,3456.8 437.2,3460.3 439.8,3463.6 442.5,3466.5 445.2,3469.3 447.8,3471.8 450.5,3474.1 453.2,3476.2 455.8,3478.1 458.5,3479.7 461.2,3481.2 463.9,3482.5 466.5,3483.5 469.2,3484.3 471.9,3485 474.5,3485.4 477.2,3485.7 479.9,3485.9 482.5,3485.9 485.2,3485.9 487.9,3485.7 490.5,3485.6 493.2,3485.4 495.9,3485.2 498.5,3484.9 501.2,3484.7 503.9,3484.5 506.5,3484.3 509.2,3484.1 511.9,3483.9 514.5,3483.7 517.2,3483.5 519.9,3483.3 522.5,3483.1 525.2,3483 527.9,3482.8 530.5,3482.6 533.2,3482.5 535.9,3482.3 538.5,3482.2 541.2,3482.1 543.9,3481.9 546.5,3481.8 549.2,3481.7 551.9,3481.6 554.5,3481.5 557.2,3481.4 559.9,3481.4 562.5,3481.3 565.2,3481.3 567.9,3481.2 570.5,3481.2 573.2,3481.1 575.9,3481.1 578.6,3481 581.2,3481 583.9,3481 586.6,3481 589.2,3481 591.9,3481 594.6,3480.9 597.2,3480.9 599.9,3480.9 602.6,3480.9 605.2,3480.9 607.9,3480.9 610.6,3480.9 613.2,3480.9 615.9,3480.9 618.6,3480.9 621.2,3480.9 623.9,3480.9 626.6,3480.9 629.2,3480.9 631.9,3480.9 634.6,3480.9 637.2,3480.9 639.9,3480.9 642.6,3480.9 645.2,3480.9 647.9,3480.9 650.6,3480.9 653.2,3480.9 655.9,3480.9 658.6,3480.9 661.2,3480.9 663.9,3480.9 666.6,3480.9 669.2,3480.9 671.9,3480.9 674.6,3480.9 677.2,3480.9 679.9,3480.9 682.6,3480.9 685.2,3480.9 687.9,3480.9 690.6,3480.9 693.2,3480.9 695.9,3480.9 698.6,3480.9 701.3,3480.9 703.9,3480.9 706.6,3480.9 709.3,3480.9 711.9,3480.9 714.6,3480.9 717.3,3480.9 719.9,3480.9 722.6,3480.9 725.3,3480.9 727.9,3480.9 730.6,3480.9 733.3,3480.9 735.9,3480.9 738.6,3480.9 741.3,3480.9 743.9,3480.9 746.6,3480.9 749.3,3480.9 751.9,3480.9 754.6,3480.9 757.3,3480.9 759.9,3480.9 762.6,3480.9 765.3,3480.9 767.9,3480.9 770.6,3480.9 773.3,3480.9 775.9,3480.9 778.6,3480.9 781.3,3480.9 783.9,3480.9 786.6,3480.9 789.3,3480.9 791.9,3480.9 794.6,3480.9 797.3,3480.9 799.9,3480.9 802.6,3480.9 805.3,3480.9 807.9,3480.9 810.6,3480.9 813.3,3480.9 816,3480.9 818.6,3480.9 821.3,3480.9 824,3480.9 826.6,3480.9 829.3,3480.9 832,3480.9 834.6,3480.9 837.3,3480.9" stroke="#1f77b4" stroke-width="4" stroke-dasharray="14.8 6.4"/>
<polyline points="197.1,3479.9 199.8,3479.7 202.4,3479.4 205.1,3479.2 207.8,3478.9 210.4,3478.5 213.1,3478.1 215.8,3477.7 218.4,3477.2 221.1,3476.7 223.8,3476.1 226.5,3475.4 229.1,3474.7 231.8,3473.9 234.5,3473.1 237.1,3472.1 239.8,3471 242.5,3469.8 245.1,3468.4 247.8,3466.7 250.5,3464.9 253.1,3462.7 255.8,3460.2 258.5,3457.4 261.1,3454.2 263.8,3450.6 266.5,3446.6 269.1,3442.2 271.8,3437.4 274.5,3432.3 277.1,3426.9 279.8,3421.2 282.5,3415.2 285.1,3409.1 287.8,3402.8 290.5,3396.3 293.1,3389.8 295.8,3383.2 298.5,3376.5 301.1,3369.7 303.8,3362.7 306.5,3355.7 309.1,3348.5 311.8,3341.3 314.5,3334 317.1,3326.7 319.8,3319.5 322.5,3312.5 325.1,3305.7 327.8,3299.3 330.5,3293.2 333.1,3287.7 335.8,3282.6 338.5,3278.2 341.1,3274.3 343.8,3271.1 346.5,3268.6 349.2,3266.7 351.8,3265.6 354.5,3265.1 357.2,3265.3 359.8,3266.2 362.5,3267.7 365.2,3269.9 367.8,3272.7 370.5,3276.2 373.2,3280.2 375.8,3284.9 378.5,3290.1 381.2,3295.9 383.8,3302.2 386.5,3309 389.2,3316.3 391.8,3323.9 394.5,3332 397.2,3340.4 399.8,3349 402.5,3357.8 405.2,3366.7 407.8,3375.5 410.5,3384.2 413.2,3392.7 415.8,3401 418.5,3408.8 421.2,3416.3 423.8,3423.3 426.5,3429.7 429.2,3435.8 431.8,3441.3 434.5,3446.5 437.2,3451.2 439.8,3455.7 442.5,3459.9 445.2,3463.8 447.8,3467.5 450.5,3471 453.2,3474.3 455.8,3477.5 458.5,3480.4 461.2,3483.1 463.9,3485.5 466.5,3487.6 469.2,3489.4 471.9,3490.9 474.5,3492.1 477.2,3493.1 479.9,3493.8 482.5,3494.4 485.2,3494.8 487.9,3495.2 490.5,3495.4 493.2,3495.6 495.9,3495.7 498.5,3495.8 501.2,3495.9 503.9,3496 506.5,3496.1 509.2,3496.1 511.9,3496.2 514.5,3496.2 517.2,3496.1 519.9,3496.1 522.5,3496 525.2,3495.8 527.9,3495.6 530.5,3495.4 533.2,3495.1 535.9,3494.8 538.5,3494.4 541.2,3494 543.9,3493.6 546.5,3493.2 549.2,3492.7 551.9,3492.2 554.5,3491.7 557.2,3491.1 559.9,3490.6 562.5,3490 565.2,3489.4 567.9,3488.8 570.5,3488.2 573.2,3487.6 575.9,3487 578.6,3486.4 581.2,3485.8 583.9,3485.2 586.6,3484.7 589.2,3484.1 591.9,3483.6 594.6,3483.1 597.2,3482.6 599.9,3482.2 602.6,3481.7 605.2,3481.3 607.9,3480.9 610.6,3480.6 613.2,3480.3 615.9,3480 618.6,3479.7 621.2,3479.4 623.9,3479.2 626.6,3479 629.2,3478.9 631.9,3478.7 634.6,3478.6 637.2,3478.5 639.9,3478.4 642.6,3478.4 645.2,3478.4 647.9,3478.4 650.6,3478.4 653.2,3478.4 655.9,3478.4 658.6,3478.5 661.2,3478.5 663.9,3478.6 666.6,3478.7 669.2,3478.8 671.9,3478.9 674.6,3478.9 677.2,3479 679.9,3479.2 682.6,3479.3 685.2,3479.4 687.9,3479.5 690.6,3479.6 693.2,3479.7 695.9,3479.8 698.6,3479.8 701.3,3479.9 703.9,3480 706.6,3480.1 709.3,3480.2 711.9,3480.3 714.6,3480.3 717.3,3480.4 719.9,3480.4 722.6,3480.5 725.3,3480.5 727.9,3480.6 730.6,3480.6 733.3,3480.7 735.9,3480.7 738.6,3480.7 741.3,3480.8 743.9,3480.8 746.6,3480.8 749.3,3480.8 751.9,3480.8 754.6,3480.8 757.3,3480.9 759.9,3480.9 762.6,3480.9 765.3,3480.9 767.9,3480.9 770.6,3480.9 773.3,3480.9 775.9,3480.9 778.6,3480.9 781.3,3480.9 783.9,3480.9 786.6,3480.9 789.3,3480.9 791.9,3480.9 794.6,3480.9 797.3,3480.9 799.9,3480.9 802.6,3480.9 805.3,3480.9 807.9,3480.9 810.6,3480.9 813.3,3480.9 816,3480.9 818.6,3480.9 821.3,3480.9 824,3480.9 826.6,3480.9 829.3,3480.9 832,3480.9 834.6,3480.9 837.3,3480.9" stroke="#9467bd" stroke-width="4" stroke-linecap="square"/>
<polyline points="197.1,3479.4 199.8,3479.1 202.4,3478.7 205.1,3478.4 207.8,3477.9 210.4,3477.4 213.1,3476.8 215.8,3476.2 218.4,3475.5 221.1,3474.7 223.8,3473.8 226.5,3472.8 229.1,3471.7 231.8,3470.5 234.5,3469.2 237.1,3467.7 239.8,3466 242.5,3464.2 245.1,3462.1 247.8,3459.7 250.5,3457.1 253.1,3454.1 255.8,3450.6 258.5,3446.8 261.1,3442.6 263.8,3437.9 266.5,3432.7 269.1,3427.1 271.8,3421.1 274.5,3414.7 277.1,3407.9 279.8,3400.8 282.5,3393.4 285.1,3385.8 287.8,3378.1 290.5,3370.2 293.1,3362.2 295.8,3354.2 298.5,3346.1 301.1,3337.9 303.8,3329.6 306.5,3321.3 309.1,3312.9 311.8,3304.5 314.5,3296.1 317.1,3287.8 319.8,3279.7 322.5,3271.8 325.1,3264.3 327.8,3257.3 330.5,3250.7 333.1,3244.7 335.8,3239.5 338.5,3234.9 341.1,3231.1 343.8,3228 346.5,3225.8 349.2,3224.4 351.8,3223.9 354.5,3224.2 357.2,3225.3 359.8,3227.2 362.5,3229.9 365.2,3233.4 367.8,3237.7 370.5,3242.6 373.2,3248.3 375.8,3254.6 378.5,3261.5 381.2,3268.9 383.8,3276.9 386.5,3285.4 389.2,3294.3 391.8,3303.6 394.5,3313.2 397.2,3323.1 399.8,3333.2 402.5,3343.3 405.2,3353.5 407.8,3363.6 410.5,3373.5 413.2,3383.2 415.8,3392.5 418.5,3401.4 421.2,3409.9 423.8,3417.8 426.5,3425.2 429.2,3432.1 431.8,3438.4 434.5,3444.2 437.2,3449.6 439.8,3454.5 442.5,3459 445.2,3463.2 447.8,3467 450.5,3470.5 453.2,3473.7 455.8,3476.6 458.5,3479.2 461.2,3481.4 463.9,3483.3 466.5,3484.9 469.2,3486.1 471.9,3487.1 474.5,3487.8 477.2,3488.2 479.9,3488.5 482.5,3488.5 485.2,3488.5 487.9,3488.3 490.5,3488 493.2,3487.7 495.9,3487.4 498.5,3487.1 501.2,3486.7 503.9,3486.4 506.5,3486.1 509.2,3485.7 511.9,3485.4 514.5,3485.1 517.2,3484.8 519.9,3484.6 522.5,3484.3 525.2,3484 527.9,3483.8 530.5,3483.5 533.2,3483.3 535.9,3483.1 538.5,3482.9 541.2,3482.7 543.9,3482.5 546.5,3482.3 549.2,3482.1 551.9,3482 554.5,3481.9 557.2,3481.7 559.9,3481.6 562.5,3481.5 565.2,3481.4 567.9,3481.4 570.5,3481.3 573.2,3481.2 575.9,3481.2 578.6,3481.1 581.2,3481.1 583.9,3481.1 586.6,3481 589.2,3481 591.9,3481 594.6,3481 597.2,3481 599.9,3480.9 602.6,3480.9 605.2,3480.9 607.9,3480.9 610.6,3480.9 613.2,3480.9 615.9,3480.9 618.6,3480.9 621.2,3480.9 623.9,3480.9 626.6,3480.9 629.2,3480.9 631.9,3480.9 634.6,3480.9 637.2,3480.9 639.9,3480.9 642.6,3480.9 645.2,3480.9 647.9,3480.9 650.6,3480.9 653.2,3480.9 655.9,3480.9 658.6,3480.9 661.2,3480.9 663.9,3480.9 666.6,3480.9 669.2,3480.9 671.9,3480.9 674.6,3480.9 677.2,3480.9 679.9,3480.9 682.6,3480.9 685.2,3480.9 687.9,3480.9 690.6,3480.9 693.2,3480.9 695.9,3480.9 698.6,3480.9 701.3,3480.9 703.9,3480.9 706.6,3480.9 709.3,3480.9 711.9,3480.9 714.6,3480.9 717.3,3480.9 719.9,3480.9 722.6,3480.9 725.3,3480.9 727.9,3480.9 730.6,3480.9 733.3,3480.9 735.9,3480.9 738.6,3480.9 741.3,3480.9 743.9,3480.9 746.6,3480.9 749.3,3480.9 751.9,3480.9 754.6,3480.9 757.3,3480.9 759.9,3480.9 762.6,3480.9 765.3,3480.9 767.9,3480.9 770.6,3480.9 773.3,3480.9 775.9,3480.9 778.6,3480.9 781.3,3480.9 783.9,3480.9 786.6,3480.9 789.3,3480.9 791.9,3480.9 794.6,3480.9 797.3,3480.9 799.9,3480.9 802.6,3480.9 805.3,3480.9 807.9,3480.9 810.6,3480.9 813.3,3480.9 816,3480.9 818.6,3480.9 821.3,3480.9 824,3480.9 826.6,3480.9 829.3,3480.9 832,3480.9 834.6,3480.9 837.3,3480.9" stroke="#9467bd" stroke-width="4" stroke-dasharray="14.8 6.4"/>
<polyline points="197.1,3478.8 199.8,3478.4 202.4,3478 205.1,3477.5 207.8,3476.8 210.4,3476.2 213.1,3475.4 215.8,3474.5 218.4,3473.5 221.1,3472.4 223.8,3471.2 226.5,3469.9 229.1,3468.5 231.8,3466.9 234.5,3465.1 237.1,3463.1 239.8,3460.9 242.5,3458.4 245.1,3455.6 247.8,3452.4 250.5,3448.7 253.1,3444.5 255.8,3439.7 258.5,3434.3 261.1,3428.1 263.8,3421.4 266.5,3413.9 269.1,3405.7 271.8,3396.9 274.5,3387.4 277.1,3377.4 279.8,3366.9 282.5,3355.9 285.1,3344.6 287.8,3333.1 290.5,3321.3 293.1,3309.4 295.8,3297.4 298.5,3285.2 301.1,3272.9 303.8,3260.3 306.5,3247.6 309.1,3234.8 311.8,3221.9 314.5,3208.9 317.1,3196 319.8,3183.3 322.5,3171 325.1,3159.1 327.8,3147.9 330.5,3137.4 333.1,3127.8 335.8,3119.2 338.5,3111.6 341.1,3105.1 343.8,3099.9 346.5,3095.9 349.2,3093.1 351.8,3091.5 354.5,3091.2 357.2,3092.2 359.8,3094.4 362.5,3097.7 365.2,3102.3 367.8,3108 370.5,3114.8 373.2,3122.7 375.8,3131.6 378.5,3141.5 381.2,3152.3 383.8,3164.1 386.5,3176.6 389.2,3190 391.8,3204 394.5,3218.6 397.2,3233.7 399.8,3249.1 402.5,3264.8 405.2,3280.6 407.8,3296.3 410.5,3311.7 413.2,3326.8 415.8,3341.4 418.5,3355.3 421.2,3368.5 423.8,3380.9 426.5,3392.4 429.2,3403.1 431.8,3412.9 434.5,3422 437.2,3430.4 439.8,3438.2 442.5,3445.5 445.2,3452.2 447.8,3458.6 450.5,3464.5 453.2,3470 455.8,3475 458.5,3479.7 461.2,3483.9 463.9,3487.5 466.5,3490.7 469.2,3493.3 471.9,3495.5 474.5,3497.1 477.2,3498.4 479.9,3499.3 482.5,3499.9 485.2,3500.2 487.9,3500.4 490.5,3500.4 493.2,3500.4 495.9,3500.3 498.5,3500.2 501.2,3500 503.9,3499.9 506.5,3499.7 509.2,3499.5 511.9,3499.3 514.5,3499.1 517.2,3498.9 519.9,3498.6 522.5,3498.3 525.2,3498 527.9,3497.6 530.5,3497.2 533.2,3496.7 535.9,3496.3 538.5,3495.8 541.2,3495.2 543.9,3494.7 546.5,3494.1 549.2,3493.5 551.9,3492.9 554.5,3492.3 557.2,3491.7 559.9,3491.1 562.5,3490.4 565.2,3489.8 567.9,3489.1 570.5,3488.5 573.2,3487.8 575.9,3487.2 578.6,3486.6 581.2,3486 583.9,3485.4 586.6,3484.8 589.2,3484.2 591.9,3483.7 594.6,3483.2 597.2,3482.7 599.9,3482.2 602.6,3481.8 605.2,3481.3 607.9,3481 610.6,3480.6 613.2,3480.3 615.9,3480 618.6,3479.7 621.2,3479.4 623.9,3479.2 626.6,3479 629.2,3478.9 631.9,3478.7 634.6,3478.6 637.2,3478.5 639.9,3478.4 642.6,3478.4 645.2,3478.4 647.9,3478.4 650.6,3478.4 653.2,3478.4 655.9,3478.4 658.6,3478.5 661.2,3478.5 663.9,3478.6 666.6,3478.7 669.2,3478.8 671.9,3478.9 674.6,3478.9 677.2,3479 679.9,3479.2 682.6,3479.3 685.2,3479.4 687.9,3479.5 690.6,3479.6 693.2,3479.7 695.9,3479.8 698.6,3479.8 701.3,3479.9 703.9,3480 706.6,3480.1 709.3,3480.2 711.9,3480.3 714.6,3480.3 717.3,3480.4 719.9,3480.4 722.6,3480.5 725.3,3480.5 727.9,3480.6 730.6,3480.6 733.3,3480.7 735.9,3480.7 738.6,3480.7 741.3,3480.8 743.9,3480.8 746.6,3480.8 749.3,3480.8 751.9,3480.8 754.6,3480.8 757.3,3480.9 759.9,3480.9 762.6,3480.9 765.3,3480.9 767.9,3480.9 770.6,3480.9 773.3,3480.9 775.9,3480.9 778.6,3480.9 781.3,3480.9 783.9,3480.9 786.6,3480.9 789.3,3480.9 791.9,3480.9 794.6,3480.9 797.3,3480.9 799.9,3480.9 802.6,3480.9 805.3,3480.9 807.9,3480.9 810.6,3480.9 813.3,3480.9 816,3480.9 818.6,3480.9 821.3,3480.9 824,3480.9 826.6,3480.9 829.3,3480.9 832,3480.9 834.6,3480.9 837.3,3480.9" stroke="#ff7f0e" stroke-width="4" stroke-linecap="square"/>
<polyline points="197.1,3478.3 199.8,3477.8 202.4,3477.3 205.1,3476.6 207.8,3475.9 210.4,3475 213.1,3474.1 215.8,3473 218.4,3471.8 221.1,3470.4 223.8,3468.9 226.5,3467.3 229.1,3465.4 231.8,3463.4 234.5,3461.2 237.1,3458.7 239.8,3455.9 242.5,3452.8 245.1,3449.3 247.8,3445.4 250.5,3440.9 253.1,3435.8 255.8,3430.1 258.5,3423.6 261.1,3416.5 263.8,3408.6 266.5,3399.9 269.1,3390.5 271.8,3380.4 274.5,3369.6 277.1,3358.2 279.8,3346.3 282.5,3333.9 285.1,3321.1 287.8,3308.1 290.5,3294.9 293.1,3281.5 295.8,3268 298.5,3254.3 301.1,3240.5 303.8,3226.7 306.5,3212.6 309.1,3198.6 311.8,3184.4 314.5,3170.3 317.1,3156.4 319.8,3142.8 322.5,3129.6 325.1,3116.9 327.8,3105.1 330.5,3094 333.1,3084 335.8,3075.1 338.5,3067.4 341.1,3061 343.8,3055.9 346.5,3052.2 349.2,3049.9 351.8,3049 354.5,3049.5 357.2,3051.3 359.8,3054.6 362.5,3059.1 365.2,3065 367.8,3072.1 370.5,3080.5 373.2,3089.9 375.8,3100.5 378.5,3112.1 381.2,3124.7 383.8,3138.1 386.5,3152.4 389.2,3167.4 391.8,3183 394.5,3199.2 397.2,3215.7 399.8,3232.6 402.5,3249.7 405.2,3266.8 407.8,3283.8 410.5,3300.4 413.2,3316.7 415.8,3332.4 418.5,3347.4 421.2,3361.6 423.8,3374.9 426.5,3387.4 429.2,3398.9 431.8,3409.5 434.5,3419.3 437.2,3428.3 439.8,3436.6 442.5,3444.2 445.2,3451.2 447.8,3457.6 450.5,3463.5 453.2,3468.9 455.8,3473.7 458.5,3478 461.2,3481.7 463.9,3484.9 466.5,3487.6 469.2,3489.7 471.9,3491.3 474.5,3492.5 477.2,3493.2 479.9,3493.6 482.5,3493.7 485.2,3493.6 487.9,3493.3 490.5,3492.9 493.2,3492.4 495.9,3491.8 498.5,3491.3 501.2,3490.7 503.9,3490.1 506.5,3489.6 509.2,3489 511.9,3488.5 514.5,3488 517.2,3487.5 519.9,3487.1 522.5,3486.6 525.2,3486.2 527.9,3485.7 530.5,3485.3 533.2,3484.9 535.9,3484.6 538.5,3484.2 541.2,3483.9 543.9,3483.6 546.5,3483.3 549.2,3483 551.9,3482.8 554.5,3482.5 557.2,3482.3 559.9,3482.1 562.5,3482 565.2,3481.8 567.9,3481.7 570.5,3481.6 573.2,3481.5 575.9,3481.4 578.6,3481.3 581.2,3481.2 583.9,3481.2 586.6,3481.1 589.2,3481.1 591.9,3481.1 594.6,3481 597.2,3481 599.9,3481 602.6,3481 605.2,3480.9 607.9,3480.9 610.6,3480.9 613.2,3480.9 615.9,3480.9 618.6,3480.9 621.2,3480.9 623.9,3480.9 626.6,3480.9 629.2,3480.9 631.9,3480.9 634.6,3480.9 637.2,3480.9 639.9,3480.9 642.6,3480.9 645.2,3480.9 647.9,3480.9 650.6,3480.9 653.2,3480.9 655.9,3480.9 658.6,3480.9 661.2,3480.9 663.9,3480.9 666.6,3480.9 669.2,3480.9 671.9,3480.9 674.6,3480.9 677.2,3480.9 679.9,3480.9 682.6,3480.9 685.2,3480.9 687.9,3480.9 690.6,3480.9 693.2,3480.9 695.9,3480.9 698.6,3480.9 701.3,3480.9 703.9,3480.9 706.6,3480.9 709.3,3480.9 711.9,3480.9 714.6,3480.9 717.3,3480.9 719.9,3480.9 722.6,3480.9 725.3,3480.9 727.9,3480.9 730.6,3480.9 733.3,3480.9 735.9,3480.9 738.6,3480.9 741.3,3480.9 743.9,3480.9 746.6,3480.9 749.3,3480.9 751.9,3480.9 754.6,3480.9 757.3,3480.9 759.9,3480.9 762.6,3480.9 765.3,3480.9 767.9,3480.9 770.6,3480.9 773.3,3480.9 775.9,3480.9 778.6,3480.9 781.3,3480.9 783.9,3480.9 786.6,3480.9 789.3,3480.9 791.9,3480.9 794.6,3480.9 797.3,3480.9 799.9,3480.9 802.6,3480.9 805.3,3480.9 807.9,3480.9 810.6,3480.9 813.3,3480.9 816,3480.9 818.6,3480.9 821.3,3480.9 824,3480.9 826.6,3480.9 829.3,3480.9 832,3480.9 834.6,3480.9 837.3,3480.9" stroke="#ff7f0e" stroke-width="4" stroke-dasharray="14.8 6.4"/>
<path d="M165.1 3480.88H869.3" stroke="#000" stroke-width="1.5"/>
</g>
<path d="M197.11 3537.1v11.03M410.5 3537.1v11.03M623.9 3537.1v11.03M837.29 3537.1v11.03M165.1 3480.88h-11.03M165.1 3387.19h-11.03M165.1 3293.49h-11.03M165.1 3199.79h-11.03M165.1 3106.1h-11.03M165.1 3012.4h-11.03" fill="none" stroke="#000" stroke-width="2.5"/>
<path d="M176.43 3537.1v6.3M187.34 3537.1v6.3M261.35 3537.1v6.3M298.92 3537.1v6.3M325.59 3537.1v6.3M346.27 3537.1v6.3M363.16 3537.1v6.3M377.45 3537.1v6.3M389.82 3537.1v6.3M400.74 3537.1v6.3M474.74 3537.1v6.3M512.32 3537.1v6.3M538.98 3537.1v6.3M559.66 3537.1v6.3M576.56 3537.1v6.3M590.84 3537.1v6.3M603.22 3537.1v6.3M614.13 3537.1v6.3M688.13 3537.1v6.3M725.71 3537.1v6.3M752.37 3537.1v6.3M773.05 3537.1v6.3M789.95 3537.1v6.3M804.24 3537.1v6.3M816.61 3537.1v6.3M827.53 3537.1v6.3M165.1 3537.1h-6.3M165.1 3518.36h-6.3M165.1 3499.62h-6.3M165.1 3462.14h-6.3M165.1 3443.4h-6.3M165.1 3424.66h-6.3M165.1 3405.93h-6.3M165.1 3368.45h-6.3M165.1 3349.71h-6.3M165.1 3330.97h-6.3M165.1 3312.23h-6.3M165.1 3274.75h-6.3M165.1 3256.01h-6.3M165.1 3237.27h-6.3M165.1 3218.53h-6.3M165.1 3181.05h-6.3M165.1 3162.31h-6.3M165.1 3143.57h-6.3M165.1 3124.84h-6.3M165.1 3087.36h-6.3M165.1 3068.62h-6.3M165.1 3049.88h-6.3M165.1 3031.14h-6.3" fill="none" stroke="#000" stroke-width="2"/>
<rect x="165.1" y="3012.4" width="704.2" height="524.7" fill="none" stroke="#000" stroke-width="2.5"/>
<g font-size="40.95" text-anchor="middle">
<text x="197.11" y="3592.1">1</text>
<text x="410.5" y="3592.1">10</text>
<text x="623.9" y="3592.1">100</text>
<text x="837.29" y="3592.1">1000</text>
</g>
<g font-size="40.95" text-anchor="end">
<text x="143.1" y="3497.64">0.0</text>
<text x="143.1" y="3403.95">0.5</text>
<text x="143.1" y="3310.25">1.0</text>
<text x="143.1" y="3216.55">1.5</text>
<text x="143.1" y="3122.86">2.0</text>
<text x="143.1" y="3029.16">2.5</text>
</g>
<g transform="translate(517.20 3640.10)" fill="#000">
<text x="-139.50 -110.43 -99.94 -76.81 -40.04 -16.81 -2.01 21.21 36.73 48.73" y="-0.00" font-size="37.80">Diameter [</text>
<text x="63.46 87.39" y="-0.00" font-size="37.80" font-style="italic">nm</text>
<text x="124.16" y="-0.00" font-size="37.80">]</text>
</g>
<g transform="translate(517.20 2993.50)" fill="#000">
<text x="-231.00 -216.27 -205.78 -191.06 -179.06 -157.34 -133.38 -107.02 -95.02 -71.10 -47.17 -10.40 13.56 36.79 52.31 64.31 83.98 94.46 114.28 137.50 149.50 173.47 183.96 203.62 218.42" y="-0.00" font-size="37.80">(i) FSC number size dist.</text>
</g>
<g transform="translate(52.40 3276.55) rotate(-90)" fill="#000">
<text transform="translate(-145.63 -0.76) skewX(-10) scale(1.06 0.93)" font-size="37.80">ℰ</text>
<text x="-123.26 -106.49" y="6.23" font-size="26.46" font-style="italic">dN</text>
<text x="-86.72" y="6.23" font-size="26.46">/</text>
<text x="-77.82" y="6.23" font-size="26.46" font-style="italic">d</text>
<text x="-61.04" y="6.23" font-size="26.46">(</text>
<text x="-50.73 -43.39 -26.64" y="6.23" font-size="26.46" font-style="italic">lnD</text>
<text x="-6.30" y="6.23" font-size="26.46">)</text>
<text x="5.05 17.05 31.78 52.53" y="-0.00" font-size="37.80"> [cm</text>
<text x="89.67 111.81" y="-14.55" font-size="26.46">−3</text>
<text x="129.66" y="-0.00" font-size="37.80">]</text>
</g>
<rect x="541.64" y="3029.6" width="311.56" height="239.7" rx="4.73" ry="4.73" fill="#fff" fill-opacity="0.8" stroke="#ccc" stroke-opacity="0.8" stroke-width="2.6"/>
<g font-size="31.5">
<path d="M554.24 3054.4h63" stroke="#000000" stroke-width="4.1" stroke-linecap="square" fill="none"/>
<text x="642.44" y="3066.4">0.8 g/kg fuel</text>
<path d="M554.24 3100.7h63" stroke="#17becf" stroke-width="4.1" stroke-linecap="square" fill="none"/>
<text x="642.44" y="3112.7">0.2 g/kg fuel</text>
<path d="M554.24 3147h63" stroke="#1f77b4" stroke-width="4.1" stroke-linecap="square" fill="none"/>
<text x="642.44" y="3159">0.4 g/kg fuel</text>
<path d="M554.24 3193.3h63" stroke="#9467bd" stroke-width="4.1" stroke-linecap="square" fill="none"/>
<text x="642.44" y="3205.3">0.6 g/kg fuel</text>
<path d="M554.24 3239.6h63" stroke="#ff7f0e" stroke-width="4.1" stroke-linecap="square" fill="none"/>
<text x="642.44" y="3251.6">1 g/kg fuel</text>
</g>
</g>
<g id="panel-j">
<rect x="1151.4" y="3012.4" width="703.7" height="524.7" fill="#fff"/>
<path d="M1162.72 3012.4V3537.1M1173.63 3012.4V3537.1M1247.58 3012.4V3537.1M1285.13 3012.4V3537.1M1311.77 3012.4V3537.1M1332.44 3012.4V3537.1M1349.32 3012.4V3537.1M1363.6 3012.4V3537.1M1375.96 3012.4V3537.1M1386.87 3012.4V3537.1M1460.82 3012.4V3537.1M1498.37 3012.4V3537.1M1525.01 3012.4V3537.1M1545.68 3012.4V3537.1M1562.56 3012.4V3537.1M1576.84 3012.4V3537.1M1589.21 3012.4V3537.1M1600.11 3012.4V3537.1M1674.06 3012.4V3537.1M1711.61 3012.4V3537.1M1738.26 3012.4V3537.1M1758.92 3012.4V3537.1M1775.81 3012.4V3537.1M1790.08 3012.4V3537.1M1802.45 3012.4V3537.1M1813.36 3012.4V3537.1M1151.4 3507.12H1855.1M1151.4 3477.13H1855.1M1151.4 3447.15H1855.1M1151.4 3417.17H1855.1M1151.4 3357.2H1855.1M1151.4 3327.22H1855.1M1151.4 3297.24H1855.1M1151.4 3267.25H1855.1M1151.4 3207.29H1855.1M1151.4 3177.31H1855.1M1151.4 3147.32H1855.1M1151.4 3117.34H1855.1M1151.4 3057.37H1855.1M1151.4 3027.39H1855.1" fill="none" stroke="#ebebeb" stroke-width="1.57" stroke-dasharray="1.57 2.6"/>
<path d="M1183.39 3012.4V3537.1M1396.63 3012.4V3537.1M1609.87 3012.4V3537.1M1823.11 3012.4V3537.1M1151.4 3387.19H1855.1M1151.4 3237.27H1855.1M1151.4 3087.36H1855.1" fill="none" stroke="#e1e1e1" stroke-width="2.2"/>
<clipPath id="clip-j"><rect x="1151.4" y="3012.4" width="703.7" height="524.7"/></clipPath>
<g clip-path="url(#clip-j)" fill="none" stroke-linejoin="round">
<polyline points="1183.4,3091.4 1186.1,3092.1 1188.7,3093 1191.4,3093.9 1194,3095 1196.7,3096.3 1199.4,3097.8 1202,3099.4 1204.7,3101.3 1207.4,3103.4 1210,3105.8 1212.7,3108.5 1215.4,3111.5 1218,3114.9 1220.7,3118.6 1223.4,3122.7 1226,3127.2 1228.7,3132.2 1231.4,3137.6 1234,3143.5 1236.7,3149.9 1239.4,3156.7 1242,3164.1 1244.7,3172 1247.4,3180.4 1250,3189.2 1252.7,3198.6 1255.4,3208.4 1258,3218.6 1260.7,3229.2 1263.4,3240.1 1266,3251.4 1268.7,3262.8 1271.3,3274.5 1274,3286.2 1276.7,3298 1279.3,3309.7 1282,3321.3 1284.7,3332.7 1287.3,3343.9 1290,3354.7 1292.7,3365.1 1295.3,3375.1 1298,3384.5 1300.7,3393.4 1303.3,3401.6 1306,3409.1 1308.7,3415.9 1311.3,3421.9 1314,3427 1316.7,3431.2 1319.3,3434.3 1322,3436.4 1324.7,3437.4 1327.3,3437.1 1330,3435.8 1332.7,3433.3 1335.3,3429.6 1338,3424.6 1340.7,3418.5 1343.3,3411.2 1346,3402.7 1348.6,3393.1 1351.3,3382.5 1354,3371.1 1356.6,3358.9 1359.3,3346.2 1362,3332.9 1364.6,3319.4 1367.3,3305.8 1370,3292.2 1372.6,3278.7 1375.3,3265.4 1378,3252.5 1380.6,3240 1383.3,3228 1386,3216.5 1388.6,3205.4 1391.3,3194.9 1394,3184.8 1396.6,3175.1 1399.3,3165.9 1402,3157 1404.6,3148.5 1407.3,3140.4 1410,3132.6 1412.6,3125.3 1415.3,3118.6 1418,3112.4 1420.6,3106.9 1423.3,3102.1 1425.9,3098.3 1428.6,3095.4 1431.3,3093.6 1433.9,3092.7 1436.6,3092.8 1439.3,3094 1441.9,3096.1 1444.6,3098.9 1447.3,3102.4 1449.9,3106.2 1452.6,3110.3 1455.3,3114.5 1457.9,3118.8 1460.6,3123 1463.3,3127.1 1465.9,3131.2 1468.6,3135.2 1471.3,3139.1 1473.9,3143 1476.6,3146.8 1479.3,3150.6 1481.9,3154.3 1484.6,3157.9 1487.3,3161.4 1489.9,3164.7 1492.6,3167.9 1495.3,3170.8 1497.9,3173.4 1500.6,3175.8 1503.2,3177.8 1505.9,3179.5 1508.6,3180.8 1511.2,3181.6 1513.9,3182.1 1516.6,3182.1 1519.2,3181.7 1521.9,3180.9 1524.6,3179.8 1527.2,3178.3 1529.9,3176.4 1532.6,3174.2 1535.2,3171.7 1537.9,3168.8 1540.6,3165.7 1543.2,3162.3 1545.9,3158.7 1548.6,3154.9 1551.2,3150.9 1553.9,3146.8 1556.6,3142.6 1559.2,3138.2 1561.9,3133.9 1564.6,3129.5 1567.2,3125.2 1569.9,3120.8 1572.6,3116.6 1575.2,3112.4 1577.9,3108.4 1580.6,3104.5 1583.2,3100.7 1585.9,3097.2 1588.5,3093.8 1591.2,3090.6 1593.9,3087.6 1596.5,3084.8 1599.2,3082.2 1601.9,3079.8 1604.5,3077.7 1607.2,3075.7 1609.9,3074 1612.5,3072.5 1615.2,3071.2 1617.9,3070.1 1620.5,3069.2 1623.2,3068.4 1625.9,3067.9 1628.5,3067.5 1631.2,3067.2 1633.9,3067.1 1636.5,3067.2 1639.2,3067.3 1641.9,3067.6 1644.5,3068 1647.2,3068.5 1649.9,3069 1652.5,3069.7 1655.2,3070.4 1657.9,3071.1 1660.5,3071.9 1663.2,3072.7 1665.8,3073.5 1668.5,3074.3 1671.2,3075.2 1673.8,3076 1676.5,3076.8 1679.2,3077.6 1681.8,3078.4 1684.5,3079.1 1687.2,3079.8 1689.8,3080.5 1692.5,3081.1 1695.2,3081.7 1697.8,3082.3 1700.5,3082.8 1703.2,3083.3 1705.8,3083.8 1708.5,3084.2 1711.2,3084.6 1713.8,3085 1716.5,3085.3 1719.2,3085.6 1721.8,3085.9 1724.5,3086.1 1727.2,3086.3 1729.8,3086.5 1732.5,3086.7 1735.2,3086.8 1737.8,3087 1740.5,3087.1 1743.1,3087.2 1745.8,3087.3 1748.5,3087.4 1751.1,3087.4 1753.8,3087.5 1756.5,3087.5 1759.1,3087.6 1761.8,3087.6 1764.5,3087.7 1767.1,3087.7 1769.8,3087.7 1772.5,3087.7 1775.1,3087.7 1777.8,3087.7 1780.5,3087.8 1783.1,3087.8 1785.8,3087.8 1788.5,3087.8 1791.1,3087.8 1793.8,3087.8 1796.5,3087.8 1799.1,3087.8 1801.8,3087.8 1804.5,3087.8 1807.1,3087.8 1809.8,3087.8 1812.5,3087.8 1815.1,3087.8 1817.8,3087.8 1820.4,3087.8 1823.1,3087.8" stroke="#000000" stroke-width="4.5" stroke-linecap="square"/>
<polyline points="1183.4,3091.4 1186.1,3092.1 1188.7,3093 1191.4,3093.9 1194,3095 1196.7,3096.3 1199.4,3097.8 1202,3099.4 1204.7,3101.3 1207.4,3103.4 1210,3105.8 1212.7,3108.5 1215.4,3111.5 1218,3114.9 1220.7,3118.6 1223.4,3122.6 1226,3127.1 1228.7,3132 1231.4,3137.4 1234,3143.2 1236.7,3149.5 1239.4,3156.3 1242,3163.5 1244.7,3171.3 1247.4,3179.5 1250,3188.2 1252.7,3197.4 1255.4,3206.9 1258,3216.9 1260.7,3227.2 1263.4,3237.9 1266,3248.8 1268.7,3259.9 1271.3,3271.2 1274,3282.5 1276.7,3293.9 1279.3,3305.2 1282,3316.4 1284.7,3327.3 1287.3,3338.1 1290,3348.4 1292.7,3358.4 1295.3,3367.9 1298,3376.9 1300.7,3385.4 1303.3,3393.2 1306,3400.4 1308.7,3406.8 1311.3,3412.5 1314,3417.3 1316.7,3421.3 1319.3,3424.3 1322,3426.3 1324.7,3427.2 1327.3,3426.9 1330,3425.5 1332.7,3423 1335.3,3419.2 1338,3414.2 1340.7,3407.9 1343.3,3400.5 1346,3391.8 1348.6,3382.1 1351.3,3371.4 1354,3359.8 1356.6,3347.4 1359.3,3334.5 1362,3321.1 1364.6,3307.4 1367.3,3293.7 1370,3279.9 1372.6,3266.4 1375.3,3253.1 1378,3240.1 1380.6,3227.6 1383.3,3215.6 1386,3204.1 1388.6,3193 1391.3,3182.5 1394,3172.4 1396.6,3162.8 1399.3,3153.6 1402,3144.8 1404.6,3136.3 1407.3,3128.2 1410,3120.5 1412.6,3113.3 1415.3,3106.7 1418,3100.6 1420.6,3095.3 1423.3,3090.9 1425.9,3087.4 1428.6,3084.9 1431.3,3083.4 1433.9,3082.9 1436.6,3083.5 1439.3,3085.1 1441.9,3087.8 1444.6,3091.1 1447.3,3095.1 1449.9,3099.4 1452.6,3103.9 1455.3,3108.6 1457.9,3113.2 1460.6,3117.8 1463.3,3122.3 1465.9,3126.7 1468.6,3131.1 1471.3,3135.4 1473.9,3139.6 1476.6,3143.8 1479.3,3147.9 1481.9,3151.9 1484.6,3155.9 1487.3,3159.6 1489.9,3163.3 1492.6,3166.7 1495.3,3169.8 1497.9,3172.7 1500.6,3175.3 1503.2,3177.5 1505.9,3179.3 1508.6,3180.6 1511.2,3181.6 1513.9,3182 1516.6,3182.1 1519.2,3181.7 1521.9,3180.9 1524.6,3179.8 1527.2,3178.3 1529.9,3176.4 1532.6,3174.2 1535.2,3171.7 1537.9,3168.8 1540.6,3165.7 1543.2,3162.3 1545.9,3158.7 1548.6,3154.9 1551.2,3150.9 1553.9,3146.8 1556.6,3142.6 1559.2,3138.2 1561.9,3133.9 1564.6,3129.5 1567.2,3125.2 1569.9,3120.8 1572.6,3116.6 1575.2,3112.4 1577.9,3108.4 1580.6,3104.5 1583.2,3100.7 1585.9,3097.2 1588.5,3093.8 1591.2,3090.6 1593.9,3087.6 1596.5,3084.8 1599.2,3082.2 1601.9,3079.8 1604.5,3077.7 1607.2,3075.7 1609.9,3074 1612.5,3072.5 1615.2,3071.2 1617.9,3070.1 1620.5,3069.2 1623.2,3068.4 1625.9,3067.9 1628.5,3067.5 1631.2,3067.2 1633.9,3067.1 1636.5,3067.2 1639.2,3067.3 1641.9,3067.6 1644.5,3068 1647.2,3068.5 1649.9,3069 1652.5,3069.7 1655.2,3070.4 1657.9,3071.1 1660.5,3071.9 1663.2,3072.7 1665.8,3073.5 1668.5,3074.3 1671.2,3075.2 1673.8,3076 1676.5,3076.8 1679.2,3077.6 1681.8,3078.4 1684.5,3079.1 1687.2,3079.8 1689.8,3080.5 1692.5,3081.1 1695.2,3081.7 1697.8,3082.3 1700.5,3082.8 1703.2,3083.3 1705.8,3083.8 1708.5,3084.2 1711.2,3084.6 1713.8,3085 1716.5,3085.3 1719.2,3085.6 1721.8,3085.9 1724.5,3086.1 1727.2,3086.3 1729.8,3086.5 1732.5,3086.7 1735.2,3086.8 1737.8,3087 1740.5,3087.1 1743.1,3087.2 1745.8,3087.3 1748.5,3087.4 1751.1,3087.4 1753.8,3087.5 1756.5,3087.5 1759.1,3087.6 1761.8,3087.6 1764.5,3087.7 1767.1,3087.7 1769.8,3087.7 1772.5,3087.7 1775.1,3087.7 1777.8,3087.7 1780.5,3087.8 1783.1,3087.8 1785.8,3087.8 1788.5,3087.8 1791.1,3087.8 1793.8,3087.8 1796.5,3087.8 1799.1,3087.8 1801.8,3087.8 1804.5,3087.8 1807.1,3087.8 1809.8,3087.8 1812.5,3087.8 1815.1,3087.8 1817.8,3087.8 1820.4,3087.8 1823.1,3087.8" stroke="#17becf" stroke-width="4.5" stroke-linecap="square"/>
<polyline points="1183.4,3091.4 1186.1,3092.1 1188.7,3093 1191.4,3093.9 1194,3095 1196.7,3096.3 1199.4,3097.8 1202,3099.4 1204.7,3101.3 1207.4,3103.4 1210,3105.8 1212.7,3108.5 1215.4,3111.5 1218,3114.9 1220.7,3118.6 1223.4,3122.7 1226,3127.2 1228.7,3132.1 1231.4,3137.5 1234,3143.3 1236.7,3149.6 1239.4,3156.4 1242,3163.7 1244.7,3171.5 1247.4,3179.8 1250,3188.6 1252.7,3197.8 1255.4,3207.4 1258,3217.5 1260.7,3227.9 1263.4,3238.6 1266,3249.7 1268.7,3260.9 1271.3,3272.3 1274,3283.8 1276.7,3295.3 1279.3,3306.7 1282,3318 1284.7,3329.2 1287.3,3340 1290,3350.6 1292.7,3360.7 1295.3,3370.4 1298,3379.5 1300.7,3388.1 1303.3,3396 1306,3403.3 1308.7,3409.9 1311.3,3415.6 1314,3420.6 1316.7,3424.6 1319.3,3427.7 1322,3429.7 1324.7,3430.6 1327.3,3430.4 1330,3429 1332.7,3426.5 1335.3,3422.7 1338,3417.7 1340.7,3411.5 1343.3,3404.1 1346,3395.5 1348.6,3385.8 1351.3,3375.2 1354,3363.6 1356.6,3351.3 1359.3,3338.4 1362,3325.1 1364.6,3311.5 1367.3,3297.8 1370,3284.1 1372.6,3270.5 1375.3,3257.2 1378,3244.3 1380.6,3231.8 1383.3,3219.8 1386,3208.2 1388.6,3197.2 1391.3,3186.6 1394,3176.5 1396.6,3166.9 1399.3,3157.7 1402,3148.8 1404.6,3140.3 1407.3,3132.2 1410,3124.5 1412.6,3117.2 1415.3,3110.5 1418,3104.4 1420.6,3099.1 1423.3,3094.5 1425.9,3090.8 1428.6,3088.2 1431.3,3086.5 1433.9,3085.9 1436.6,3086.3 1439.3,3087.8 1441.9,3090.2 1444.6,3093.4 1447.3,3097.2 1449.9,3101.3 1452.6,3105.7 1455.3,3110.2 1457.9,3114.8 1460.6,3119.2 1463.3,3123.7 1465.9,3128 1468.6,3132.2 1471.3,3136.4 1473.9,3140.6 1476.6,3144.6 1479.3,3148.7 1481.9,3152.6 1484.6,3156.4 1487.3,3160.1 1489.9,3163.7 1492.6,3167 1495.3,3170.1 1497.9,3172.9 1500.6,3175.4 1503.2,3177.6 1505.9,3179.3 1508.6,3180.7 1511.2,3181.6 1513.9,3182 1516.6,3182.1 1519.2,3181.7 1521.9,3180.9 1524.6,3179.8 1527.2,3178.3 1529.9,3176.4 1532.6,3174.2 1535.2,3171.7 1537.9,3168.8 1540.6,3165.7 1543.2,3162.3 1545.9,3158.7 1548.6,3154.9 1551.2,3150.9 1553.9,3146.8 1556.6,3142.6 1559.2,3138.2 1561.9,3133.9 1564.6,3129.5 1567.2,3125.2 1569.9,3120.8 1572.6,3116.6 1575.2,3112.4 1577.9,3108.4 1580.6,3104.5 1583.2,3100.7 1585.9,3097.2 1588.5,3093.8 1591.2,3090.6 1593.9,3087.6 1596.5,3084.8 1599.2,3082.2 1601.9,3079.8 1604.5,3077.7 1607.2,3075.7 1609.9,3074 1612.5,3072.5 1615.2,3071.2 1617.9,3070.1 1620.5,3069.2 1623.2,3068.4 1625.9,3067.9 1628.5,3067.5 1631.2,3067.2 1633.9,3067.1 1636.5,3067.2 1639.2,3067.3 1641.9,3067.6 1644.5,3068 1647.2,3068.5 1649.9,3069 1652.5,3069.7 1655.2,3070.4 1657.9,3071.1 1660.5,3071.9 1663.2,3072.7 1665.8,3073.5 1668.5,3074.3 1671.2,3075.2 1673.8,3076 1676.5,3076.8 1679.2,3077.6 1681.8,3078.4 1684.5,3079.1 1687.2,3079.8 1689.8,3080.5 1692.5,3081.1 1695.2,3081.7 1697.8,3082.3 1700.5,3082.8 1703.2,3083.3 1705.8,3083.8 1708.5,3084.2 1711.2,3084.6 1713.8,3085 1716.5,3085.3 1719.2,3085.6 1721.8,3085.9 1724.5,3086.1 1727.2,3086.3 1729.8,3086.5 1732.5,3086.7 1735.2,3086.8 1737.8,3087 1740.5,3087.1 1743.1,3087.2 1745.8,3087.3 1748.5,3087.4 1751.1,3087.4 1753.8,3087.5 1756.5,3087.5 1759.1,3087.6 1761.8,3087.6 1764.5,3087.7 1767.1,3087.7 1769.8,3087.7 1772.5,3087.7 1775.1,3087.7 1777.8,3087.7 1780.5,3087.8 1783.1,3087.8 1785.8,3087.8 1788.5,3087.8 1791.1,3087.8 1793.8,3087.8 1796.5,3087.8 1799.1,3087.8 1801.8,3087.8 1804.5,3087.8 1807.1,3087.8 1809.8,3087.8 1812.5,3087.8 1815.1,3087.8 1817.8,3087.8 1820.4,3087.8 1823.1,3087.8" stroke="#1f77b4" stroke-width="4.5" stroke-linecap="square"/>
<polyline points="1183.4,3091.4 1186.1,3092.1 1188.7,3093 1191.4,3093.9 1194,3095 1196.7,3096.3 1199.4,3097.8 1202,3099.4 1204.7,3101.3 1207.4,3103.4 1210,3105.8 1212.7,3108.5 1215.4,3111.5 1218,3114.9 1220.7,3118.6 1223.4,3122.7 1226,3127.2 1228.7,3132.1 1231.4,3137.5 1234,3143.4 1236.7,3149.7 1239.4,3156.6 1242,3163.9 1244.7,3171.7 1247.4,3180.1 1250,3188.9 1252.7,3198.1 1255.4,3207.8 1258,3218 1260.7,3228.5 1263.4,3239.3 1266,3250.4 1268.7,3261.7 1271.3,3273.2 1274,3284.8 1276.7,3296.5 1279.3,3308 1282,3319.5 1284.7,3330.8 1287.3,3341.7 1290,3352.4 1292.7,3362.7 1295.3,3372.5 1298,3381.7 1300.7,3390.4 1303.3,3398.5 1306,3405.9 1308.7,3412.6 1311.3,3418.4 1314,3423.4 1316.7,3427.5 1319.3,3430.6 1322,3432.7 1324.7,3433.6 1327.3,3433.4 1330,3432 1332.7,3429.5 1335.3,3425.9 1338,3421 1340.7,3414.9 1343.3,3407.6 1346,3399.1 1348.6,3389.6 1351.3,3379.1 1354,3367.8 1356.6,3355.7 1359.3,3343 1362,3329.8 1364.6,3316.4 1367.3,3302.9 1370,3289.3 1372.6,3275.9 1375.3,3262.7 1378,3249.9 1380.6,3237.5 1383.3,3225.5 1386,3214.1 1388.6,3203.1 1391.3,3192.6 1394,3182.6 1396.6,3173 1399.3,3163.8 1402,3155 1404.6,3146.5 1407.3,3138.4 1410,3130.7 1412.6,3123.5 1415.3,3116.7 1418,3110.6 1420.6,3105.1 1423.3,3100.4 1425.9,3096.6 1428.6,3093.8 1431.3,3091.9 1433.9,3091 1436.6,3091.2 1439.3,3092.4 1441.9,3094.5 1444.6,3097.4 1447.3,3100.9 1449.9,3104.8 1452.6,3109 1455.3,3113.3 1457.9,3117.6 1460.6,3121.9 1463.3,3126.1 1465.9,3130.3 1468.6,3134.3 1471.3,3138.3 1473.9,3142.3 1476.6,3146.2 1479.3,3150 1481.9,3153.8 1484.6,3157.5 1487.3,3161 1489.9,3164.4 1492.6,3167.6 1495.3,3170.6 1497.9,3173.3 1500.6,3175.7 1503.2,3177.7 1505.9,3179.4 1508.6,3180.7 1511.2,3181.6 1513.9,3182.1 1516.6,3182.1 1519.2,3181.7 1521.9,3180.9 1524.6,3179.8 1527.2,3178.3 1529.9,3176.4 1532.6,3174.2 1535.2,3171.7 1537.9,3168.8 1540.6,3165.7 1543.2,3162.3 1545.9,3158.7 1548.6,3154.9 1551.2,3150.9 1553.9,3146.8 1556.6,3142.6 1559.2,3138.2 1561.9,3133.9 1564.6,3129.5 1567.2,3125.2 1569.9,3120.8 1572.6,3116.6 1575.2,3112.4 1577.9,3108.4 1580.6,3104.5 1583.2,3100.7 1585.9,3097.2 1588.5,3093.8 1591.2,3090.6 1593.9,3087.6 1596.5,3084.8 1599.2,3082.2 1601.9,3079.8 1604.5,3077.7 1607.2,3075.7 1609.9,3074 1612.5,3072.5 1615.2,3071.2 1617.9,3070.1 1620.5,3069.2 1623.2,3068.4 1625.9,3067.9 1628.5,3067.5 1631.2,3067.2 1633.9,3067.1 1636.5,3067.2 1639.2,3067.3 1641.9,3067.6 1644.5,3068 1647.2,3068.5 1649.9,3069 1652.5,3069.7 1655.2,3070.4 1657.9,3071.1 1660.5,3071.9 1663.2,3072.7 1665.8,3073.5 1668.5,3074.3 1671.2,3075.2 1673.8,3076 1676.5,3076.8 1679.2,3077.6 1681.8,3078.4 1684.5,3079.1 1687.2,3079.8 1689.8,3080.5 1692.5,3081.1 1695.2,3081.7 1697.8,3082.3 1700.5,3082.8 1703.2,3083.3 1705.8,3083.8 1708.5,3084.2 1711.2,3084.6 1713.8,3085 1716.5,3085.3 1719.2,3085.6 1721.8,3085.9 1724.5,3086.1 1727.2,3086.3 1729.8,3086.5 1732.5,3086.7 1735.2,3086.8 1737.8,3087 1740.5,3087.1 1743.1,3087.2 1745.8,3087.3 1748.5,3087.4 1751.1,3087.4 1753.8,3087.5 1756.5,3087.5 1759.1,3087.6 1761.8,3087.6 1764.5,3087.7 1767.1,3087.7 1769.8,3087.7 1772.5,3087.7 1775.1,3087.7 1777.8,3087.7 1780.5,3087.8 1783.1,3087.8 1785.8,3087.8 1788.5,3087.8 1791.1,3087.8 1793.8,3087.8 1796.5,3087.8 1799.1,3087.8 1801.8,3087.8 1804.5,3087.8 1807.1,3087.8 1809.8,3087.8 1812.5,3087.8 1815.1,3087.8 1817.8,3087.8 1820.4,3087.8 1823.1,3087.8" stroke="#9467bd" stroke-width="4.5" stroke-linecap="square"/>
<polyline points="1183.4,3091.4 1186.1,3092.1 1188.7,3093 1191.4,3093.9 1194,3095 1196.7,3096.3 1199.4,3097.8 1202,3099.4 1204.7,3101.3 1207.4,3103.5 1210,3105.9 1212.7,3108.5 1215.4,3111.6 1218,3114.9 1220.7,3118.6 1223.4,3122.8 1226,3127.3 1228.7,3132.3 1231.4,3137.7 1234,3143.6 1236.7,3150 1239.4,3156.9 1242,3164.3 1244.7,3172.2 1247.4,3180.6 1250,3189.6 1252.7,3199 1255.4,3208.8 1258,3219.1 1260.7,3229.8 1263.4,3240.9 1266,3252.2 1268.7,3263.8 1271.3,3275.5 1274,3287.4 1276.7,3299.3 1279.3,3311.2 1282,3322.9 1284.7,3334.5 1287.3,3345.8 1290,3356.8 1292.7,3367.3 1295.3,3377.4 1298,3387 1300.7,3396 1303.3,3404.3 1306,3412 1308.7,3418.8 1311.3,3424.9 1314,3430.1 1316.7,3434.3 1319.3,3437.6 1322,3439.7 1324.7,3440.7 1327.3,3440.4 1330,3439.1 1332.7,3436.5 1335.3,3432.8 1338,3427.9 1340.7,3421.7 1343.3,3414.4 1346,3405.9 1348.6,3396.3 1351.3,3385.7 1354,3374.2 1356.6,3362 1359.3,3349.2 1362,3335.9 1364.6,3322.4 1367.3,3308.7 1370,3295 1372.6,3281.5 1375.3,3268.2 1378,3255.3 1380.6,3242.7 1383.3,3230.7 1386,3219.1 1388.6,3208 1391.3,3197.4 1394,3187.3 1396.6,3177.6 1399.3,3168.4 1402,3159.5 1404.6,3150.9 1407.3,3142.8 1410,3135 1412.6,3127.7 1415.3,3120.9 1418,3114.7 1420.6,3109.1 1423.3,3104.4 1425.9,3100.6 1428.6,3097.7 1431.3,3095.8 1433.9,3094.9 1436.6,3095 1439.3,3096.2 1441.9,3098.2 1444.6,3101 1447.3,3104.4 1449.9,3108.1 1452.6,3112.1 1455.3,3116.2 1457.9,3120.4 1460.6,3124.5 1463.3,3128.5 1465.9,3132.5 1468.6,3136.4 1471.3,3140.2 1473.9,3144 1476.6,3147.7 1479.3,3151.4 1481.9,3155 1484.6,3158.5 1487.3,3161.9 1489.9,3165.1 1492.6,3168.2 1495.3,3171.1 1497.9,3173.6 1500.6,3175.9 1503.2,3177.9 1505.9,3179.5 1508.6,3180.8 1511.2,3181.6 1513.9,3182.1 1516.6,3182.1 1519.2,3181.7 1521.9,3180.9 1524.6,3179.8 1527.2,3178.3 1529.9,3176.4 1532.6,3174.2 1535.2,3171.7 1537.9,3168.8 1540.6,3165.7 1543.2,3162.3 1545.9,3158.7 1548.6,3154.9 1551.2,3150.9 1553.9,3146.8 1556.6,3142.6 1559.2,3138.2 1561.9,3133.9 1564.6,3129.5 1567.2,3125.2 1569.9,3120.8 1572.6,3116.6 1575.2,3112.4 1577.9,3108.4 1580.6,3104.5 1583.2,3100.7 1585.9,3097.2 1588.5,3093.8 1591.2,3090.6 1593.9,3087.6 1596.5,3084.8 1599.2,3082.2 1601.9,3079.8 1604.5,3077.7 1607.2,3075.7 1609.9,3074 1612.5,3072.5 1615.2,3071.2 1617.9,3070.1 1620.5,3069.2 1623.2,3068.4 1625.9,3067.9 1628.5,3067.5 1631.2,3067.2 1633.9,3067.1 1636.5,3067.2 1639.2,3067.3 1641.9,3067.6 1644.5,3068 1647.2,3068.5 1649.9,3069 1652.5,3069.7 1655.2,3070.4 1657.9,3071.1 1660.5,3071.9 1663.2,3072.7 1665.8,3073.5 1668.5,3074.3 1671.2,3075.2 1673.8,3076 1676.5,3076.8 1679.2,3077.6 1681.8,3078.4 1684.5,3079.1 1687.2,3079.8 1689.8,3080.5 1692.5,3081.1 1695.2,3081.7 1697.8,3082.3 1700.5,3082.8 1703.2,3083.3 1705.8,3083.8 1708.5,3084.2 1711.2,3084.6 1713.8,3085 1716.5,3085.3 1719.2,3085.6 1721.8,3085.9 1724.5,3086.1 1727.2,3086.3 1729.8,3086.5 1732.5,3086.7 1735.2,3086.8 1737.8,3087 1740.5,3087.1 1743.1,3087.2 1745.8,3087.3 1748.5,3087.4 1751.1,3087.4 1753.8,3087.5 1756.5,3087.5 1759.1,3087.6 1761.8,3087.6 1764.5,3087.7 1767.1,3087.7 1769.8,3087.7 1772.5,3087.7 1775.1,3087.7 1777.8,3087.7 1780.5,3087.8 1783.1,3087.8 1785.8,3087.8 1788.5,3087.8 1791.1,3087.8 1793.8,3087.8 1796.5,3087.8 1799.1,3087.8 1801.8,3087.8 1804.5,3087.8 1807.1,3087.8 1809.8,3087.8 1812.5,3087.8 1815.1,3087.8 1817.8,3087.8 1820.4,3087.8 1823.1,3087.8" stroke="#ff7f0e" stroke-width="4.5" stroke-linecap="square"/>
<path d="M1151.4 3087.36H1855.1" stroke="#000" stroke-width="1.5"/>
</g>
<path d="M1183.39 3537.1v11.03M1396.63 3537.1v11.03M1609.87 3537.1v11.03M1823.11 3537.1v11.03M1151.4 3537.1h-11.03M1151.4 3387.19h-11.03M1151.4 3237.27h-11.03M1151.4 3087.36h-11.03" fill="none" stroke="#000" stroke-width="2.5"/>
<path d="M1162.72 3537.1v6.3M1173.63 3537.1v6.3M1247.58 3537.1v6.3M1285.13 3537.1v6.3M1311.77 3537.1v6.3M1332.44 3537.1v6.3M1349.32 3537.1v6.3M1363.6 3537.1v6.3M1375.96 3537.1v6.3M1386.87 3537.1v6.3M1460.82 3537.1v6.3M1498.37 3537.1v6.3M1525.01 3537.1v6.3M1545.68 3537.1v6.3M1562.56 3537.1v6.3M1576.84 3537.1v6.3M1589.21 3537.1v6.3M1600.11 3537.1v6.3M1674.06 3537.1v6.3M1711.61 3537.1v6.3M1738.26 3537.1v6.3M1758.92 3537.1v6.3M1775.81 3537.1v6.3M1790.08 3537.1v6.3M1802.45 3537.1v6.3M1813.36 3537.1v6.3M1151.4 3507.12h-6.3M1151.4 3477.13h-6.3M1151.4 3447.15h-6.3M1151.4 3417.17h-6.3M1151.4 3357.2h-6.3M1151.4 3327.22h-6.3M1151.4 3297.24h-6.3M1151.4 3267.25h-6.3M1151.4 3207.29h-6.3M1151.4 3177.31h-6.3M1151.4 3147.32h-6.3M1151.4 3117.34h-6.3M1151.4 3057.37h-6.3M1151.4 3027.39h-6.3" fill="none" stroke="#000" stroke-width="2"/>
<rect x="1151.4" y="3012.4" width="703.7" height="524.7" fill="none" stroke="#000" stroke-width="2.5"/>
<g font-size="40.95" text-anchor="middle">
<text x="1183.39" y="3592.1">1</text>
<text x="1396.63" y="3592.1">10</text>
<text x="1609.87" y="3592.1">100</text>
<text x="1823.11" y="3592.1">1000</text>
</g>
<g font-size="40.95" text-anchor="end">
<text x="1129.4" y="3553.86">−0.3</text>
<text x="1129.4" y="3403.95">−0.2</text>
<text x="1129.4" y="3254.03">−0.1</text>
<text x="1129.4" y="3104.12">0.0</text>
</g>
<g transform="translate(1503.25 3640.10)" fill="#000">
<text x="-139.50 -110.43 -99.94 -76.81 -40.04 -16.81 -2.01 21.21 36.73 48.73" y="-0.00" font-size="37.80">Diameter [</text>
<text x="63.46 87.39" y="-0.00" font-size="37.80" font-style="italic">nm</text>
<text x="124.16" y="-0.00" font-size="37.80">]</text>
</g>
<g transform="translate(1503.25 2993.50)" fill="#000">
<text x="-231.00 -216.27 -205.78 -191.06 -179.06 -157.34 -133.38 -107.02 -95.02 -71.10 -47.17 -10.40 13.56 36.79 52.31 64.31 83.98 94.46 114.28 137.50 149.50 173.47 183.96 203.62 218.42" y="-0.00" font-size="37.80">(j) FSC number size dist.</text>
</g>
<g transform="translate(1000.50 3276.55) rotate(-90)" fill="#000">
<text transform="translate(-245.13 -0.76) skewX(-10) scale(1.06 0.93)" font-size="37.80">ℰ</text>
<text x="-222.76 -205.99 -198.65 -181.90 -156.16" y="-20.08" font-size="26.46">plume</text>
<text x="-222.76 -205.99" y="10.39" font-size="26.46" font-style="italic">dN</text>
<text x="-186.22" y="10.39" font-size="26.46">/</text>
<text x="-177.32" y="10.39" font-size="26.46" font-style="italic">d</text>
<text x="-160.54" y="10.39" font-size="26.46">(</text>
<text x="-150.23 -142.89 -126.14" y="10.39" font-size="26.46" font-style="italic">lnD</text>
<text x="-105.80" y="10.39" font-size="26.46">)</text>
<text x="-87.09" y="0.00" font-size="37.80">−</text>
<text transform="translate(-49.24 -0.76) skewX(-10) scale(1.06 0.93)" font-size="37.80">ℰ</text>
<text x="-26.87 -19.53 -2.78 10.99 21.35 34.90 51.67 59.01 72.78 89.55" y="-20.08" font-size="26.46">inst.disp.</text>
<text x="-26.87 -10.10" y="10.39" font-size="26.46" font-style="italic">dN</text>
<text x="9.67" y="10.39" font-size="26.46">/</text>
<text x="18.57" y="10.39" font-size="26.46" font-style="italic">d</text>
<text x="35.35" y="10.39" font-size="26.46">(</text>
<text x="45.66 53.00 69.75" y="10.39" font-size="26.46" font-style="italic">lnD</text>
<text x="90.10" y="10.39" font-size="26.46">)</text>
<text x="104.14 116.14 130.87 151.62" y="0.00" font-size="37.80"> [cm</text>
<text x="188.76 210.90" y="-14.55" font-size="26.46">−3</text>
<text x="228.75" y="0.00" font-size="37.80">]</text>
</g>
<rect x="1519.54" y="3229.1" width="311.56" height="239.7" rx="4.73" ry="4.73" fill="#fff" fill-opacity="0.8" stroke="#ccc" stroke-opacity="0.8" stroke-width="2.6"/>
<g font-size="31.5">
<path d="M1532.14 3253.9h63" stroke="#000000" stroke-width="4.7" stroke-linecap="square" fill="none"/>
<text x="1620.34" y="3265.9">0.8 g/kg fuel</text>
<path d="M1532.14 3300.2h63" stroke="#17becf" stroke-width="4.7" stroke-linecap="square" fill="none"/>
<text x="1620.34" y="3312.2">0.2 g/kg fuel</text>
<path d="M1532.14 3346.5h63" stroke="#1f77b4" stroke-width="4.7" stroke-linecap="square" fill="none"/>
<text x="1620.34" y="3358.5">0.4 g/kg fuel</text>
<path d="M1532.14 3392.8h63" stroke="#9467bd" stroke-width="4.7" stroke-linecap="square" fill="none"/>
<text x="1620.34" y="3404.8">0.6 g/kg fuel</text>
<path d="M1532.14 3439.1h63" stroke="#ff7f0e" stroke-width="4.7" stroke-linecap="square" fill="none"/>
<text x="1620.34" y="3451.1">1 g/kg fuel</text>
</g>
</g>
</svg>
</body>
</html>
